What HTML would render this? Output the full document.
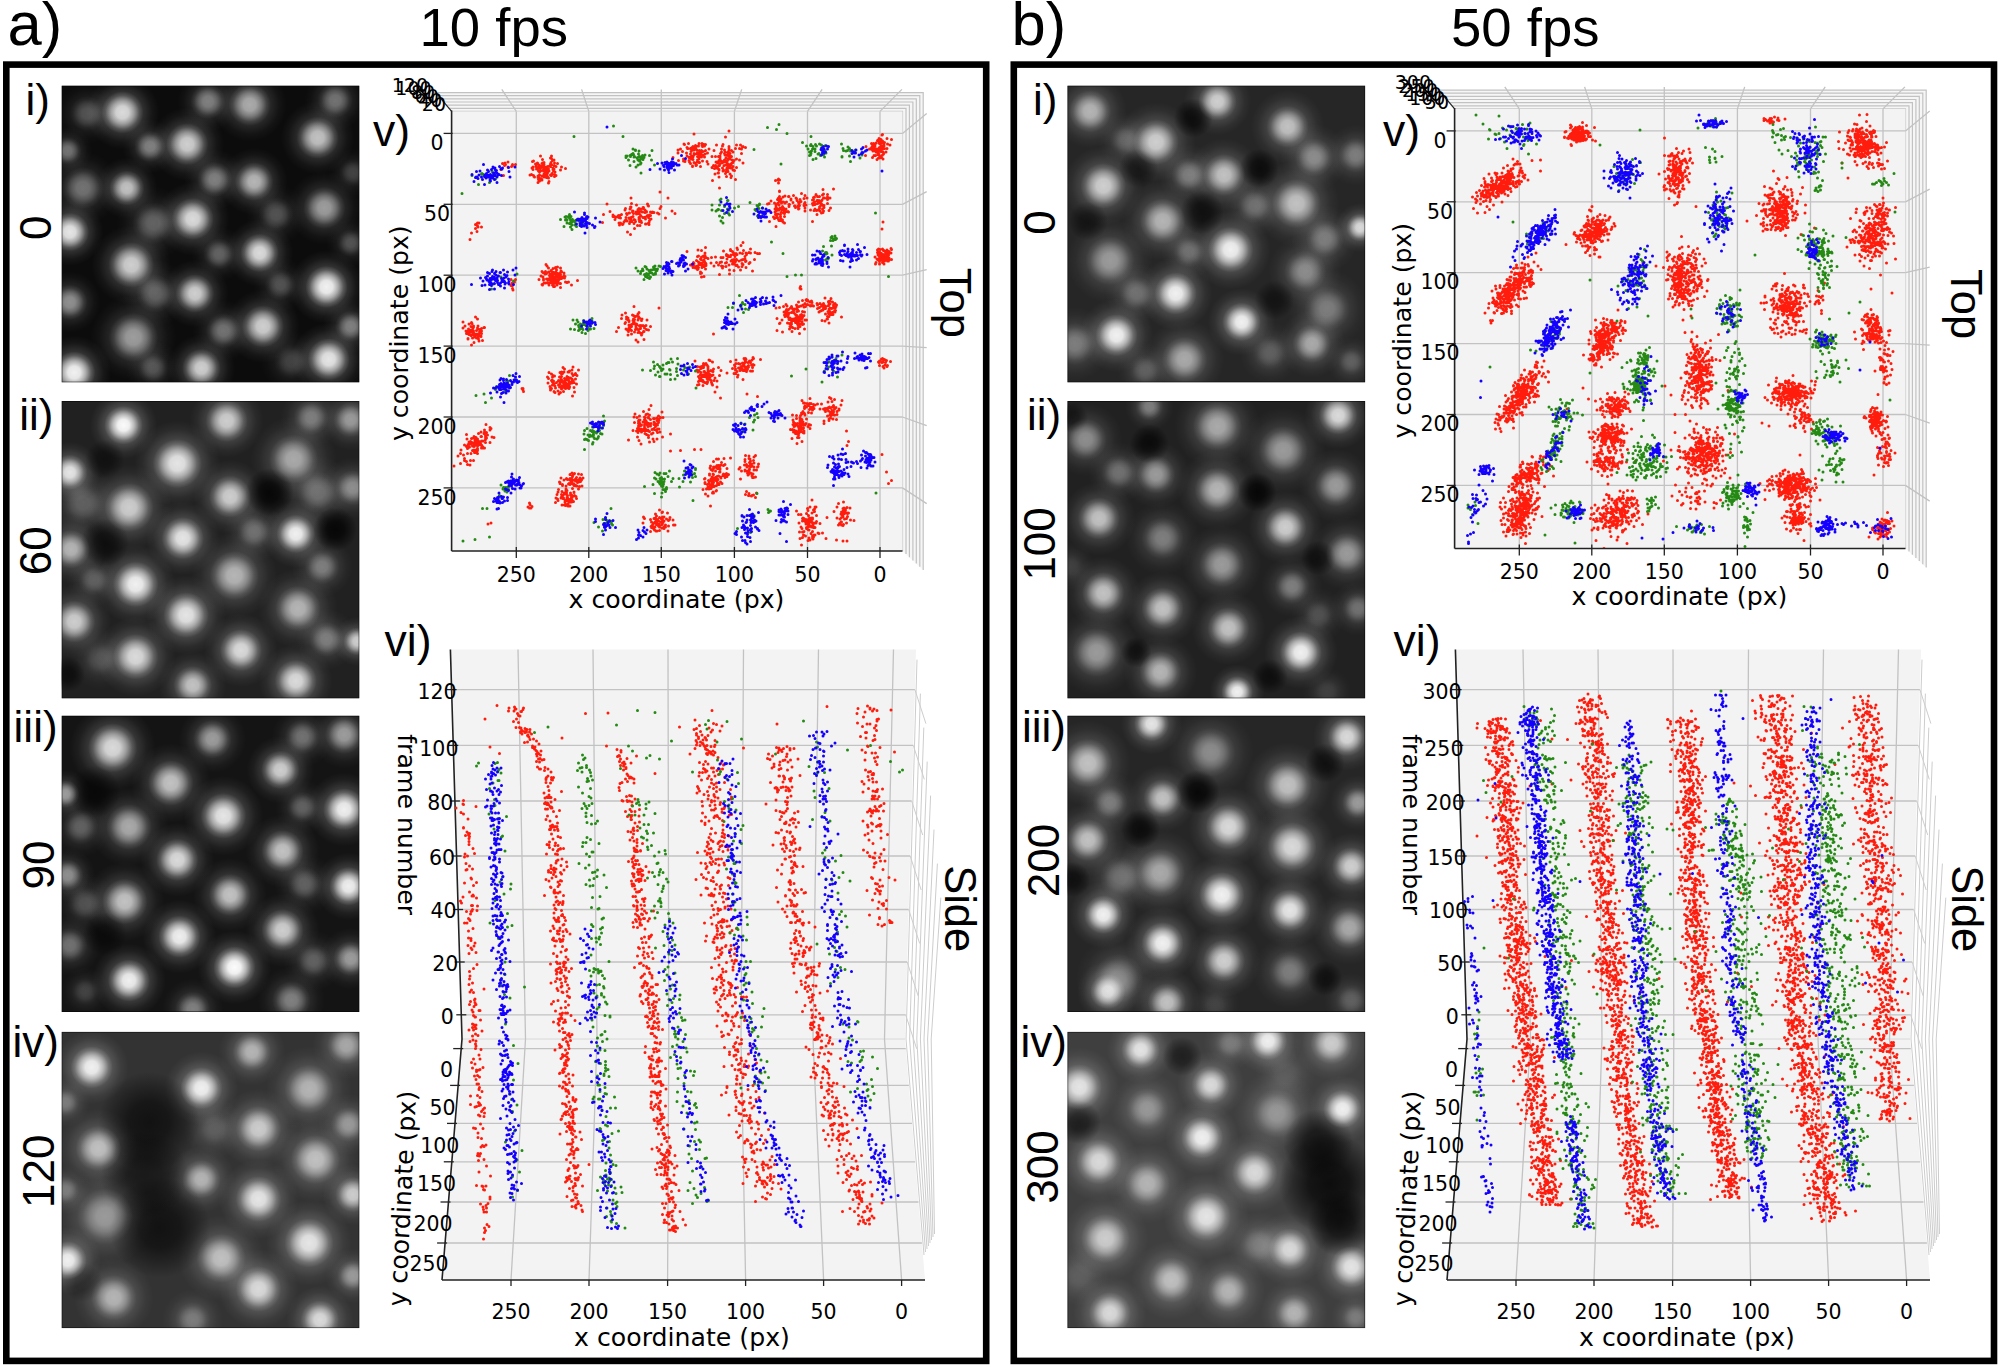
<!DOCTYPE html><html><head><meta charset="utf-8"><title>Figure</title><style>html,body{margin:0;padding:0;background:#fff;width:2000px;height:1367px;overflow:hidden}svg{display:block}.ls{font-family:"Liberation Sans",Arial,sans-serif}.dj{font-family:"DejaVu Sans","Liberation Sans",sans-serif}</style></head><body>
<svg width="2000" height="1367" viewBox="0 0 2000 1367">
<rect width="2000" height="1367" fill="#fff"/>
<text x="7.5" y="45.2" class="ls" font-size="61.5" text-anchor="start">a)</text>
<text x="419.5" y="45.5" class="ls" font-size="54.5" text-anchor="start">10 fps</text>
<text x="1011.5" y="45.2" class="ls" font-size="61.5" text-anchor="start">b)</text>
<text x="1451" y="45.5" class="ls" font-size="54.5" text-anchor="start">50 fps</text>
<rect x="6.3" y="64.6" width="979.9" height="1296.3" fill="none" stroke="#000" stroke-width="6.6"/>
<rect x="1013.8" y="64.6" width="980.2" height="1296.3" fill="none" stroke="#000" stroke-width="6.6"/>
<text x="25.5" y="114.7" class="ls" font-size="44" text-anchor="start">i)</text>
<text x="19.3" y="429.6" class="ls" font-size="44" text-anchor="start">ii)</text>
<text x="13.6" y="741.8" class="ls" font-size="44" text-anchor="start">iii)</text>
<text x="12.4" y="1056.8" class="ls" font-size="44" text-anchor="start">iv)</text>
<text x="1033.1" y="114.8" class="ls" font-size="44" text-anchor="start">i)</text>
<text x="1027" y="429.6" class="ls" font-size="44" text-anchor="start">ii)</text>
<text x="1021.9" y="741.8" class="ls" font-size="44" text-anchor="start">iii)</text>
<text x="1020.5" y="1056.8" class="ls" font-size="44" text-anchor="start">iv)</text>
<text x="50.7" y="227.7" class="ls" font-size="44" text-anchor="middle" transform="rotate(-90 50.7 227.7)">0</text>
<text x="50.7" y="550.8" class="ls" font-size="44" text-anchor="middle" transform="rotate(-90 50.7 550.8)">60</text>
<text x="53.7" y="865" class="ls" font-size="44" text-anchor="middle" transform="rotate(-90 53.7 865)">90</text>
<text x="53.7" y="1171.2" class="ls" font-size="44" text-anchor="middle" transform="rotate(-90 53.7 1171.2)">120</text>
<text x="1054.8" y="222.6" class="ls" font-size="44" text-anchor="middle" transform="rotate(-90 1054.8 222.6)">0</text>
<text x="1054.8" y="543.9" class="ls" font-size="44" text-anchor="middle" transform="rotate(-90 1054.8 543.9)">100</text>
<text x="1059.1" y="860.5" class="ls" font-size="44" text-anchor="middle" transform="rotate(-90 1059.1 860.5)">200</text>
<text x="1057.6" y="1167" class="ls" font-size="44" text-anchor="middle" transform="rotate(-90 1057.6 1167)">300</text>
<text x="939.9" y="267.7" class="ls" font-size="43.5" transform="rotate(90 939.9 267.7)">Top</text>
<text x="944.9" y="865.2" class="ls" font-size="43.5" transform="rotate(90 944.9 865.2)">Side</text>
<text x="1950.7" y="269.1" class="ls" font-size="43.5" transform="rotate(90 1950.7 269.1)">Top</text>
<text x="1951.8" y="865.2" class="ls" font-size="43.5" transform="rotate(90 1951.8 865.2)">Side</text>
<text x="373" y="146" class="ls" font-size="44.5" text-anchor="start">v)</text>
<text x="384.5" y="655.6" class="ls" font-size="44.5" text-anchor="start">vi)</text>
<text x="1383" y="146" class="ls" font-size="44.5" text-anchor="start">v)</text>
<text x="1393.5" y="655.6" class="ls" font-size="44.5" text-anchor="start">vi)</text>
<defs><radialGradient id="gw"><stop offset="0" stop-color="#fff" stop-opacity="1"/><stop offset=".3" stop-color="#fff" stop-opacity=".93"/><stop offset=".55" stop-color="#fff" stop-opacity=".58"/><stop offset=".8" stop-color="#fff" stop-opacity=".17"/><stop offset="1" stop-color="#fff" stop-opacity="0"/></radialGradient>
<radialGradient id="gk"><stop offset="0" stop-color="#000" stop-opacity="1"/><stop offset=".4" stop-color="#000" stop-opacity=".85"/><stop offset=".7" stop-color="#000" stop-opacity=".45"/><stop offset="1" stop-color="#000" stop-opacity="0"/></radialGradient>
<clipPath id="ic0"><rect x="61.5" y="85.5" width="298" height="297"/></clipPath>
<clipPath id="ic1"><rect x="61.5" y="401" width="298" height="297.5"/></clipPath>
<clipPath id="ic2"><rect x="61.5" y="715.6" width="298" height="296.5"/></clipPath>
<clipPath id="ic3"><rect x="61.5" y="1031.7" width="298" height="296.5"/></clipPath>
<clipPath id="ic4"><rect x="1067.3" y="85.5" width="298" height="297"/></clipPath>
<clipPath id="ic5"><rect x="1067.3" y="401" width="298" height="297.5"/></clipPath>
<clipPath id="ic6"><rect x="1067.3" y="715.6" width="298" height="296.5"/></clipPath>
<clipPath id="ic7"><rect x="1067.3" y="1031.7" width="298" height="296.5"/></clipPath>
</defs>
<g clip-path="url(#ic0)"><rect x="61.5" y="85.5" width="298" height="297" fill="rgb(12,12,12)"/>
<circle cx="122.4" cy="112.4" r="36.9" fill="url(#gw)" fill-opacity="0.26"/>
<circle cx="208.0" cy="101.5" r="30.7" fill="url(#gw)" fill-opacity="0.15"/>
<circle cx="249.7" cy="104.7" r="36.9" fill="url(#gw)" fill-opacity="0.20"/>
<circle cx="335.3" cy="100.4" r="30.7" fill="url(#gw)" fill-opacity="0.14"/>
<circle cx="87.3" cy="113.5" r="30.7" fill="url(#gw)" fill-opacity="0.10"/>
<circle cx="317.7" cy="137.7" r="36.9" fill="url(#gw)" fill-opacity="0.22"/>
<circle cx="187.2" cy="144.2" r="36.9" fill="url(#gw)" fill-opacity="0.24"/>
<circle cx="149.9" cy="146.4" r="27.6" fill="url(#gw)" fill-opacity="0.15"/>
<circle cx="67.6" cy="150.8" r="24.6" fill="url(#gw)" fill-opacity="0.14"/>
<circle cx="82.9" cy="188.1" r="36.9" fill="url(#gw)" fill-opacity="0.14"/>
<circle cx="126.8" cy="188.1" r="30.7" fill="url(#gw)" fill-opacity="0.22"/>
<circle cx="214.6" cy="179.4" r="30.7" fill="url(#gw)" fill-opacity="0.15"/>
<circle cx="254.1" cy="181.6" r="33.8" fill="url(#gw)" fill-opacity="0.21"/>
<circle cx="324.3" cy="207.9" r="36.9" fill="url(#gw)" fill-opacity="0.18"/>
<circle cx="352.9" cy="172.8" r="24.6" fill="url(#gw)" fill-opacity="0.09"/>
<circle cx="192.7" cy="218.9" r="36.9" fill="url(#gw)" fill-opacity="0.26"/>
<circle cx="153.2" cy="223.2" r="36.9" fill="url(#gw)" fill-opacity="0.12"/>
<circle cx="69.8" cy="232.0" r="33.8" fill="url(#gw)" fill-opacity="0.27"/>
<circle cx="276.1" cy="214.5" r="30.7" fill="url(#gw)" fill-opacity="0.10"/>
<circle cx="131.2" cy="264.9" r="39.9" fill="url(#gw)" fill-opacity="0.24"/>
<circle cx="219.0" cy="254.0" r="27.6" fill="url(#gw)" fill-opacity="0.12"/>
<circle cx="259.6" cy="252.9" r="33.8" fill="url(#gw)" fill-opacity="0.26"/>
<circle cx="350.7" cy="243.0" r="24.6" fill="url(#gw)" fill-opacity="0.10"/>
<circle cx="194.9" cy="293.5" r="33.8" fill="url(#gw)" fill-opacity="0.24"/>
<circle cx="155.4" cy="293.5" r="33.8" fill="url(#gw)" fill-opacity="0.12"/>
<circle cx="69.8" cy="302.2" r="30.7" fill="url(#gw)" fill-opacity="0.17"/>
<circle cx="326.5" cy="286.9" r="36.9" fill="url(#gw)" fill-opacity="0.28"/>
<circle cx="280.4" cy="284.7" r="27.6" fill="url(#gw)" fill-opacity="0.10"/>
<circle cx="262.9" cy="326.4" r="36.9" fill="url(#gw)" fill-opacity="0.24"/>
<circle cx="223.4" cy="330.8" r="30.7" fill="url(#gw)" fill-opacity="0.14"/>
<circle cx="133.4" cy="337.4" r="43.0" fill="url(#gw)" fill-opacity="0.18"/>
<circle cx="350.7" cy="326.4" r="27.6" fill="url(#gw)" fill-opacity="0.15"/>
<circle cx="201.4" cy="368.1" r="33.8" fill="url(#gw)" fill-opacity="0.24"/>
<circle cx="74.2" cy="372.5" r="36.9" fill="url(#gw)" fill-opacity="0.28"/>
<circle cx="328.7" cy="359.3" r="36.9" fill="url(#gw)" fill-opacity="0.27"/>
<circle cx="153.2" cy="368.1" r="27.6" fill="url(#gw)" fill-opacity="0.10"/>
<circle cx="291.4" cy="361.5" r="30.7" fill="url(#gw)" fill-opacity="0.09"/>
<circle cx="122.4" cy="112.4" r="21.1" fill="url(#gw)" fill-opacity="0.80"/>
<circle cx="208.0" cy="101.5" r="17.6" fill="url(#gw)" fill-opacity="0.39"/>
<circle cx="249.7" cy="104.7" r="21.1" fill="url(#gw)" fill-opacity="0.57"/>
<circle cx="335.3" cy="100.4" r="17.6" fill="url(#gw)" fill-opacity="0.33"/>
<circle cx="87.3" cy="113.5" r="17.6" fill="url(#gw)" fill-opacity="0.21"/>
<circle cx="317.7" cy="137.7" r="21.1" fill="url(#gw)" fill-opacity="0.68"/>
<circle cx="187.2" cy="144.2" r="21.1" fill="url(#gw)" fill-opacity="0.74"/>
<circle cx="149.9" cy="146.4" r="15.8" fill="url(#gw)" fill-opacity="0.39"/>
<circle cx="67.6" cy="150.8" r="14.0" fill="url(#gw)" fill-opacity="0.33"/>
<circle cx="82.9" cy="188.1" r="21.1" fill="url(#gw)" fill-opacity="0.33"/>
<circle cx="126.8" cy="188.1" r="17.6" fill="url(#gw)" fill-opacity="0.68"/>
<circle cx="214.6" cy="179.4" r="17.6" fill="url(#gw)" fill-opacity="0.39"/>
<circle cx="254.1" cy="181.6" r="19.3" fill="url(#gw)" fill-opacity="0.62"/>
<circle cx="324.3" cy="207.9" r="21.1" fill="url(#gw)" fill-opacity="0.51"/>
<circle cx="352.9" cy="172.8" r="14.0" fill="url(#gw)" fill-opacity="0.15"/>
<circle cx="192.7" cy="218.9" r="21.1" fill="url(#gw)" fill-opacity="0.80"/>
<circle cx="153.2" cy="223.2" r="21.1" fill="url(#gw)" fill-opacity="0.27"/>
<circle cx="69.8" cy="232.0" r="19.3" fill="url(#gw)" fill-opacity="0.86"/>
<circle cx="276.1" cy="214.5" r="17.6" fill="url(#gw)" fill-opacity="0.21"/>
<circle cx="131.2" cy="264.9" r="22.8" fill="url(#gw)" fill-opacity="0.74"/>
<circle cx="219.0" cy="254.0" r="15.8" fill="url(#gw)" fill-opacity="0.27"/>
<circle cx="259.6" cy="252.9" r="19.3" fill="url(#gw)" fill-opacity="0.80"/>
<circle cx="350.7" cy="243.0" r="14.0" fill="url(#gw)" fill-opacity="0.21"/>
<circle cx="194.9" cy="293.5" r="19.3" fill="url(#gw)" fill-opacity="0.74"/>
<circle cx="155.4" cy="293.5" r="19.3" fill="url(#gw)" fill-opacity="0.27"/>
<circle cx="69.8" cy="302.2" r="17.6" fill="url(#gw)" fill-opacity="0.45"/>
<circle cx="326.5" cy="286.9" r="21.1" fill="url(#gw)" fill-opacity="0.92"/>
<circle cx="280.4" cy="284.7" r="15.8" fill="url(#gw)" fill-opacity="0.21"/>
<circle cx="262.9" cy="326.4" r="21.1" fill="url(#gw)" fill-opacity="0.74"/>
<circle cx="223.4" cy="330.8" r="17.6" fill="url(#gw)" fill-opacity="0.33"/>
<circle cx="133.4" cy="337.4" r="24.6" fill="url(#gw)" fill-opacity="0.51"/>
<circle cx="350.7" cy="326.4" r="15.8" fill="url(#gw)" fill-opacity="0.39"/>
<circle cx="201.4" cy="368.1" r="19.3" fill="url(#gw)" fill-opacity="0.74"/>
<circle cx="74.2" cy="372.5" r="21.1" fill="url(#gw)" fill-opacity="0.92"/>
<circle cx="328.7" cy="359.3" r="21.1" fill="url(#gw)" fill-opacity="0.86"/>
<circle cx="153.2" cy="368.1" r="15.8" fill="url(#gw)" fill-opacity="0.21"/>
<circle cx="291.4" cy="361.5" r="17.6" fill="url(#gw)" fill-opacity="0.15"/>
<rect x="62" y="86" width="297" height="296" fill="none" stroke="rgba(0,0,0,.5)" stroke-width="1"/></g>
<g clip-path="url(#ic1)"><rect x="61.5" y="401" width="298" height="297.5" fill="rgb(33,33,33)"/>
<circle cx="123.5" cy="425.2" r="33.8" fill="url(#gw)" fill-opacity="0.30"/>
<circle cx="226.7" cy="420.8" r="36.9" fill="url(#gw)" fill-opacity="0.24"/>
<circle cx="311.2" cy="417.6" r="30.7" fill="url(#gw)" fill-opacity="0.15"/>
<circle cx="350.7" cy="419.7" r="30.7" fill="url(#gw)" fill-opacity="0.18"/>
<circle cx="69.8" cy="472.4" r="30.7" fill="url(#gw)" fill-opacity="0.27"/>
<circle cx="177.3" cy="463.6" r="43.0" fill="url(#gw)" fill-opacity="0.27"/>
<circle cx="293.6" cy="459.2" r="43.0" fill="url(#gw)" fill-opacity="0.20"/>
<circle cx="230.0" cy="496.6" r="36.9" fill="url(#gw)" fill-opacity="0.24"/>
<circle cx="129.0" cy="507.5" r="43.0" fill="url(#gw)" fill-opacity="0.24"/>
<circle cx="317.7" cy="492.2" r="36.9" fill="url(#gw)" fill-opacity="0.14"/>
<circle cx="352.9" cy="487.8" r="30.7" fill="url(#gw)" fill-opacity="0.17"/>
<circle cx="82.9" cy="503.1" r="36.9" fill="url(#gw)" fill-opacity="0.12"/>
<circle cx="182.8" cy="538.2" r="36.9" fill="url(#gw)" fill-opacity="0.27"/>
<circle cx="295.8" cy="533.9" r="33.8" fill="url(#gw)" fill-opacity="0.28"/>
<circle cx="70.9" cy="549.2" r="33.8" fill="url(#gw)" fill-opacity="0.21"/>
<circle cx="254.1" cy="531.7" r="30.7" fill="url(#gw)" fill-opacity="0.14"/>
<circle cx="135.6" cy="584.3" r="39.9" fill="url(#gw)" fill-opacity="0.28"/>
<circle cx="234.4" cy="575.6" r="43.0" fill="url(#gw)" fill-opacity="0.21"/>
<circle cx="93.9" cy="579.9" r="27.6" fill="url(#gw)" fill-opacity="0.12"/>
<circle cx="322.1" cy="566.8" r="30.7" fill="url(#gw)" fill-opacity="0.15"/>
<circle cx="186.1" cy="615.1" r="39.9" fill="url(#gw)" fill-opacity="0.27"/>
<circle cx="298.0" cy="608.5" r="39.9" fill="url(#gw)" fill-opacity="0.21"/>
<circle cx="74.2" cy="621.6" r="36.9" fill="url(#gw)" fill-opacity="0.24"/>
<circle cx="326.5" cy="639.2" r="30.7" fill="url(#gw)" fill-opacity="0.15"/>
<circle cx="357.2" cy="641.4" r="24.6" fill="url(#gw)" fill-opacity="0.24"/>
<circle cx="135.6" cy="656.7" r="39.9" fill="url(#gw)" fill-opacity="0.26"/>
<circle cx="240.9" cy="650.2" r="36.9" fill="url(#gw)" fill-opacity="0.26"/>
<circle cx="100.5" cy="658.9" r="30.7" fill="url(#gw)" fill-opacity="0.10"/>
<circle cx="295.8" cy="680.9" r="36.9" fill="url(#gw)" fill-opacity="0.26"/>
<circle cx="192.7" cy="685.3" r="33.8" fill="url(#gw)" fill-opacity="0.22"/>
<circle cx="269.5" cy="492.2" r="24.1" fill="url(#gk)" fill-opacity="0.80"/>
<circle cx="335.3" cy="529.5" r="21.9" fill="url(#gk)" fill-opacity="0.80"/>
<circle cx="104.9" cy="542.6" r="24.1" fill="url(#gk)" fill-opacity="0.60"/>
<circle cx="67.6" cy="674.3" r="17.6" fill="url(#gk)" fill-opacity="0.60"/>
<circle cx="104.9" cy="459.2" r="19.7" fill="url(#gk)" fill-opacity="0.50"/>
<circle cx="123.5" cy="425.2" r="19.3" fill="url(#gw)" fill-opacity="0.97"/>
<circle cx="226.7" cy="420.8" r="21.1" fill="url(#gw)" fill-opacity="0.71"/>
<circle cx="311.2" cy="417.6" r="17.6" fill="url(#gw)" fill-opacity="0.32"/>
<circle cx="350.7" cy="419.7" r="17.6" fill="url(#gw)" fill-opacity="0.45"/>
<circle cx="69.8" cy="472.4" r="17.6" fill="url(#gw)" fill-opacity="0.84"/>
<circle cx="177.3" cy="463.6" r="24.6" fill="url(#gw)" fill-opacity="0.84"/>
<circle cx="293.6" cy="459.2" r="24.6" fill="url(#gw)" fill-opacity="0.52"/>
<circle cx="230.0" cy="496.6" r="21.1" fill="url(#gw)" fill-opacity="0.71"/>
<circle cx="129.0" cy="507.5" r="24.6" fill="url(#gw)" fill-opacity="0.71"/>
<circle cx="317.7" cy="492.2" r="21.1" fill="url(#gw)" fill-opacity="0.26"/>
<circle cx="352.9" cy="487.8" r="17.6" fill="url(#gw)" fill-opacity="0.39"/>
<circle cx="82.9" cy="503.1" r="21.1" fill="url(#gw)" fill-opacity="0.19"/>
<circle cx="182.8" cy="538.2" r="21.1" fill="url(#gw)" fill-opacity="0.84"/>
<circle cx="295.8" cy="533.9" r="19.3" fill="url(#gw)" fill-opacity="0.91"/>
<circle cx="70.9" cy="549.2" r="19.3" fill="url(#gw)" fill-opacity="0.58"/>
<circle cx="254.1" cy="531.7" r="17.6" fill="url(#gw)" fill-opacity="0.26"/>
<circle cx="135.6" cy="584.3" r="22.8" fill="url(#gw)" fill-opacity="0.91"/>
<circle cx="234.4" cy="575.6" r="24.6" fill="url(#gw)" fill-opacity="0.58"/>
<circle cx="93.9" cy="579.9" r="15.8" fill="url(#gw)" fill-opacity="0.19"/>
<circle cx="322.1" cy="566.8" r="17.6" fill="url(#gw)" fill-opacity="0.32"/>
<circle cx="186.1" cy="615.1" r="22.8" fill="url(#gw)" fill-opacity="0.84"/>
<circle cx="298.0" cy="608.5" r="22.8" fill="url(#gw)" fill-opacity="0.58"/>
<circle cx="74.2" cy="621.6" r="21.1" fill="url(#gw)" fill-opacity="0.71"/>
<circle cx="326.5" cy="639.2" r="17.6" fill="url(#gw)" fill-opacity="0.32"/>
<circle cx="357.2" cy="641.4" r="14.0" fill="url(#gw)" fill-opacity="0.71"/>
<circle cx="135.6" cy="656.7" r="22.8" fill="url(#gw)" fill-opacity="0.78"/>
<circle cx="240.9" cy="650.2" r="21.1" fill="url(#gw)" fill-opacity="0.78"/>
<circle cx="100.5" cy="658.9" r="17.6" fill="url(#gw)" fill-opacity="0.13"/>
<circle cx="295.8" cy="680.9" r="21.1" fill="url(#gw)" fill-opacity="0.78"/>
<circle cx="192.7" cy="685.3" r="19.3" fill="url(#gw)" fill-opacity="0.65"/>
<rect x="62" y="401.5" width="297" height="296.5" fill="none" stroke="rgba(0,0,0,.5)" stroke-width="1"/></g>
<g clip-path="url(#ic2)"><rect x="61.5" y="715.6" width="298" height="296.5" fill="rgb(20,20,20)"/>
<circle cx="112.6" cy="747.9" r="43.0" fill="url(#gw)" fill-opacity="0.26"/>
<circle cx="212.4" cy="739.1" r="33.8" fill="url(#gw)" fill-opacity="0.18"/>
<circle cx="302.4" cy="736.9" r="30.7" fill="url(#gw)" fill-opacity="0.14"/>
<circle cx="344.1" cy="734.7" r="33.8" fill="url(#gw)" fill-opacity="0.18"/>
<circle cx="170.7" cy="783.0" r="39.9" fill="url(#gw)" fill-opacity="0.22"/>
<circle cx="280.4" cy="769.9" r="33.8" fill="url(#gw)" fill-opacity="0.24"/>
<circle cx="65.4" cy="794.0" r="24.6" fill="url(#gw)" fill-opacity="0.18"/>
<circle cx="223.4" cy="815.9" r="39.9" fill="url(#gw)" fill-opacity="0.27"/>
<circle cx="344.1" cy="809.4" r="36.9" fill="url(#gw)" fill-opacity="0.28"/>
<circle cx="302.4" cy="807.2" r="27.6" fill="url(#gw)" fill-opacity="0.12"/>
<circle cx="129.0" cy="826.9" r="39.9" fill="url(#gw)" fill-opacity="0.20"/>
<circle cx="80.7" cy="826.9" r="30.7" fill="url(#gw)" fill-opacity="0.12"/>
<circle cx="177.3" cy="859.8" r="36.9" fill="url(#gw)" fill-opacity="0.26"/>
<circle cx="282.6" cy="851.1" r="36.9" fill="url(#gw)" fill-opacity="0.22"/>
<circle cx="67.6" cy="875.2" r="27.6" fill="url(#gw)" fill-opacity="0.17"/>
<circle cx="230.0" cy="894.9" r="36.9" fill="url(#gw)" fill-opacity="0.22"/>
<circle cx="348.5" cy="886.2" r="33.8" fill="url(#gw)" fill-opacity="0.28"/>
<circle cx="304.6" cy="884.0" r="30.7" fill="url(#gw)" fill-opacity="0.12"/>
<circle cx="124.6" cy="901.5" r="39.9" fill="url(#gw)" fill-opacity="0.22"/>
<circle cx="85.1" cy="903.7" r="30.7" fill="url(#gw)" fill-opacity="0.10"/>
<circle cx="179.5" cy="936.6" r="36.9" fill="url(#gw)" fill-opacity="0.28"/>
<circle cx="282.6" cy="930.1" r="36.9" fill="url(#gw)" fill-opacity="0.24"/>
<circle cx="69.8" cy="945.4" r="30.7" fill="url(#gw)" fill-opacity="0.14"/>
<circle cx="234.4" cy="967.4" r="36.9" fill="url(#gw)" fill-opacity="0.30"/>
<circle cx="129.0" cy="980.5" r="36.9" fill="url(#gw)" fill-opacity="0.28"/>
<circle cx="350.7" cy="958.6" r="30.7" fill="url(#gw)" fill-opacity="0.18"/>
<circle cx="313.4" cy="960.8" r="30.7" fill="url(#gw)" fill-opacity="0.12"/>
<circle cx="291.4" cy="1000.3" r="33.8" fill="url(#gw)" fill-opacity="0.15"/>
<circle cx="192.7" cy="1009.1" r="30.7" fill="url(#gw)" fill-opacity="0.15"/>
<circle cx="85.1" cy="991.5" r="24.6" fill="url(#gw)" fill-opacity="0.09"/>
<circle cx="93.9" cy="791.8" r="26.3" fill="url(#gk)" fill-opacity="0.60"/>
<circle cx="104.9" cy="934.4" r="21.9" fill="url(#gk)" fill-opacity="0.50"/>
<circle cx="112.6" cy="747.9" r="24.6" fill="url(#gw)" fill-opacity="0.79"/>
<circle cx="212.4" cy="739.1" r="19.3" fill="url(#gw)" fill-opacity="0.49"/>
<circle cx="302.4" cy="736.9" r="17.6" fill="url(#gw)" fill-opacity="0.30"/>
<circle cx="344.1" cy="734.7" r="19.3" fill="url(#gw)" fill-opacity="0.49"/>
<circle cx="170.7" cy="783.0" r="22.8" fill="url(#gw)" fill-opacity="0.67"/>
<circle cx="280.4" cy="769.9" r="19.3" fill="url(#gw)" fill-opacity="0.73"/>
<circle cx="65.4" cy="794.0" r="14.0" fill="url(#gw)" fill-opacity="0.49"/>
<circle cx="223.4" cy="815.9" r="22.8" fill="url(#gw)" fill-opacity="0.85"/>
<circle cx="344.1" cy="809.4" r="21.1" fill="url(#gw)" fill-opacity="0.91"/>
<circle cx="302.4" cy="807.2" r="15.8" fill="url(#gw)" fill-opacity="0.24"/>
<circle cx="129.0" cy="826.9" r="22.8" fill="url(#gw)" fill-opacity="0.55"/>
<circle cx="80.7" cy="826.9" r="17.6" fill="url(#gw)" fill-opacity="0.24"/>
<circle cx="177.3" cy="859.8" r="21.1" fill="url(#gw)" fill-opacity="0.79"/>
<circle cx="282.6" cy="851.1" r="21.1" fill="url(#gw)" fill-opacity="0.67"/>
<circle cx="67.6" cy="875.2" r="15.8" fill="url(#gw)" fill-opacity="0.43"/>
<circle cx="230.0" cy="894.9" r="21.1" fill="url(#gw)" fill-opacity="0.67"/>
<circle cx="348.5" cy="886.2" r="19.3" fill="url(#gw)" fill-opacity="0.91"/>
<circle cx="304.6" cy="884.0" r="17.6" fill="url(#gw)" fill-opacity="0.24"/>
<circle cx="124.6" cy="901.5" r="22.8" fill="url(#gw)" fill-opacity="0.67"/>
<circle cx="85.1" cy="903.7" r="17.6" fill="url(#gw)" fill-opacity="0.18"/>
<circle cx="179.5" cy="936.6" r="21.1" fill="url(#gw)" fill-opacity="0.91"/>
<circle cx="282.6" cy="930.1" r="21.1" fill="url(#gw)" fill-opacity="0.73"/>
<circle cx="69.8" cy="945.4" r="17.6" fill="url(#gw)" fill-opacity="0.30"/>
<circle cx="234.4" cy="967.4" r="21.1" fill="url(#gw)" fill-opacity="0.98"/>
<circle cx="129.0" cy="980.5" r="21.1" fill="url(#gw)" fill-opacity="0.91"/>
<circle cx="350.7" cy="958.6" r="17.6" fill="url(#gw)" fill-opacity="0.49"/>
<circle cx="313.4" cy="960.8" r="17.6" fill="url(#gw)" fill-opacity="0.24"/>
<circle cx="291.4" cy="1000.3" r="19.3" fill="url(#gw)" fill-opacity="0.37"/>
<circle cx="192.7" cy="1009.1" r="17.6" fill="url(#gw)" fill-opacity="0.37"/>
<circle cx="85.1" cy="991.5" r="14.0" fill="url(#gw)" fill-opacity="0.12"/>
<rect x="62" y="716.1" width="297" height="295.5" fill="none" stroke="rgba(0,0,0,.5)" stroke-width="1"/></g>
<g clip-path="url(#ic3)"><rect x="61.5" y="1031.7" width="298" height="296.5" fill="rgb(51,51,51)"/>
<circle cx="91.7" cy="1067.3" r="36.9" fill="url(#gw)" fill-opacity="0.28"/>
<circle cx="201.4" cy="1088.2" r="36.9" fill="url(#gw)" fill-opacity="0.28"/>
<circle cx="251.9" cy="1051.9" r="33.8" fill="url(#gw)" fill-opacity="0.21"/>
<circle cx="346.3" cy="1045.4" r="33.8" fill="url(#gw)" fill-opacity="0.20"/>
<circle cx="309.0" cy="1089.2" r="43.0" fill="url(#gw)" fill-opacity="0.21"/>
<circle cx="258.5" cy="1128.7" r="39.9" fill="url(#gw)" fill-opacity="0.24"/>
<circle cx="348.5" cy="1124.4" r="30.7" fill="url(#gw)" fill-opacity="0.18"/>
<circle cx="98.3" cy="1148.5" r="39.9" fill="url(#gw)" fill-opacity="0.22"/>
<circle cx="201.4" cy="1179.2" r="33.8" fill="url(#gw)" fill-opacity="0.21"/>
<circle cx="315.6" cy="1159.5" r="43.0" fill="url(#gw)" fill-opacity="0.22"/>
<circle cx="258.5" cy="1199.0" r="39.9" fill="url(#gw)" fill-opacity="0.27"/>
<circle cx="352.9" cy="1194.6" r="30.7" fill="url(#gw)" fill-opacity="0.24"/>
<circle cx="104.9" cy="1216.5" r="49.2" fill="url(#gw)" fill-opacity="0.18"/>
<circle cx="67.6" cy="1260.4" r="33.8" fill="url(#gw)" fill-opacity="0.28"/>
<circle cx="221.2" cy="1258.2" r="43.0" fill="url(#gw)" fill-opacity="0.22"/>
<circle cx="309.0" cy="1242.9" r="43.0" fill="url(#gw)" fill-opacity="0.27"/>
<circle cx="258.5" cy="1288.9" r="39.9" fill="url(#gw)" fill-opacity="0.26"/>
<circle cx="352.9" cy="1275.8" r="27.6" fill="url(#gw)" fill-opacity="0.18"/>
<circle cx="113.7" cy="1297.7" r="39.9" fill="url(#gw)" fill-opacity="0.21"/>
<circle cx="319.9" cy="1319.7" r="33.8" fill="url(#gw)" fill-opacity="0.26"/>
<circle cx="192.7" cy="1319.7" r="30.7" fill="url(#gw)" fill-opacity="0.15"/>
<circle cx="65.4" cy="1102.4" r="24.6" fill="url(#gw)" fill-opacity="0.15"/>
<circle cx="65.4" cy="1190.2" r="24.6" fill="url(#gw)" fill-opacity="0.15"/>
<circle cx="214.6" cy="1128.7" r="30.7" fill="url(#gw)" fill-opacity="0.12"/>
<circle cx="148.8" cy="1122.2" r="50.5" fill="url(#gk)" fill-opacity="0.65"/>
<circle cx="159.7" cy="1227.5" r="50.5" fill="url(#gk)" fill-opacity="0.65"/>
<circle cx="144.4" cy="1174.8" r="43.9" fill="url(#gk)" fill-opacity="0.50"/>
<circle cx="82.9" cy="1282.4" r="19.7" fill="url(#gk)" fill-opacity="0.30"/>
<circle cx="91.7" cy="1067.3" r="21.1" fill="url(#gw)" fill-opacity="0.90"/>
<circle cx="201.4" cy="1088.2" r="21.1" fill="url(#gw)" fill-opacity="0.90"/>
<circle cx="251.9" cy="1051.9" r="19.3" fill="url(#gw)" fill-opacity="0.54"/>
<circle cx="346.3" cy="1045.4" r="19.3" fill="url(#gw)" fill-opacity="0.47"/>
<circle cx="309.0" cy="1089.2" r="24.6" fill="url(#gw)" fill-opacity="0.54"/>
<circle cx="258.5" cy="1128.7" r="22.8" fill="url(#gw)" fill-opacity="0.68"/>
<circle cx="348.5" cy="1124.4" r="17.6" fill="url(#gw)" fill-opacity="0.40"/>
<circle cx="98.3" cy="1148.5" r="22.8" fill="url(#gw)" fill-opacity="0.61"/>
<circle cx="201.4" cy="1179.2" r="19.3" fill="url(#gw)" fill-opacity="0.54"/>
<circle cx="315.6" cy="1159.5" r="24.6" fill="url(#gw)" fill-opacity="0.61"/>
<circle cx="258.5" cy="1199.0" r="22.8" fill="url(#gw)" fill-opacity="0.83"/>
<circle cx="352.9" cy="1194.6" r="17.6" fill="url(#gw)" fill-opacity="0.68"/>
<circle cx="104.9" cy="1216.5" r="28.1" fill="url(#gw)" fill-opacity="0.40"/>
<circle cx="67.6" cy="1260.4" r="19.3" fill="url(#gw)" fill-opacity="0.90"/>
<circle cx="221.2" cy="1258.2" r="24.6" fill="url(#gw)" fill-opacity="0.61"/>
<circle cx="309.0" cy="1242.9" r="24.6" fill="url(#gw)" fill-opacity="0.83"/>
<circle cx="258.5" cy="1288.9" r="22.8" fill="url(#gw)" fill-opacity="0.76"/>
<circle cx="352.9" cy="1275.8" r="15.8" fill="url(#gw)" fill-opacity="0.40"/>
<circle cx="113.7" cy="1297.7" r="22.8" fill="url(#gw)" fill-opacity="0.54"/>
<circle cx="319.9" cy="1319.7" r="19.3" fill="url(#gw)" fill-opacity="0.76"/>
<circle cx="192.7" cy="1319.7" r="17.6" fill="url(#gw)" fill-opacity="0.25"/>
<circle cx="65.4" cy="1102.4" r="14.0" fill="url(#gw)" fill-opacity="0.25"/>
<circle cx="65.4" cy="1190.2" r="14.0" fill="url(#gw)" fill-opacity="0.25"/>
<circle cx="214.6" cy="1128.7" r="17.6" fill="url(#gw)" fill-opacity="0.11"/>
<rect x="62" y="1032.2" width="297" height="295.5" fill="none" stroke="rgba(0,0,0,.5)" stroke-width="1"/></g>
<g clip-path="url(#ic4)"><rect x="1067.3" y="85.5" width="298" height="297" fill="rgb(38,38,38)"/>
<circle cx="1090.1" cy="111.3" r="36.9" fill="url(#gw)" fill-opacity="0.21"/>
<circle cx="1217.4" cy="101.5" r="33.8" fill="url(#gw)" fill-opacity="0.24"/>
<circle cx="1156.0" cy="142.1" r="39.9" fill="url(#gw)" fill-opacity="0.24"/>
<circle cx="1125.2" cy="139.9" r="27.6" fill="url(#gw)" fill-opacity="0.12"/>
<circle cx="1287.6" cy="126.7" r="36.9" fill="url(#gw)" fill-opacity="0.22"/>
<circle cx="1314.0" cy="157.4" r="33.8" fill="url(#gw)" fill-opacity="0.17"/>
<circle cx="1355.7" cy="155.2" r="30.7" fill="url(#gw)" fill-opacity="0.15"/>
<circle cx="1103.3" cy="185.9" r="39.9" fill="url(#gw)" fill-opacity="0.24"/>
<circle cx="1224.0" cy="175.0" r="36.9" fill="url(#gw)" fill-opacity="0.22"/>
<circle cx="1188.9" cy="175.0" r="30.7" fill="url(#gw)" fill-opacity="0.15"/>
<circle cx="1296.4" cy="203.5" r="43.0" fill="url(#gw)" fill-opacity="0.22"/>
<circle cx="1162.6" cy="221.1" r="39.9" fill="url(#gw)" fill-opacity="0.21"/>
<circle cx="1254.7" cy="205.7" r="30.7" fill="url(#gw)" fill-opacity="0.14"/>
<circle cx="1360.1" cy="227.6" r="24.6" fill="url(#gw)" fill-opacity="0.26"/>
<circle cx="1324.9" cy="238.6" r="33.8" fill="url(#gw)" fill-opacity="0.15"/>
<circle cx="1230.6" cy="249.6" r="39.9" fill="url(#gw)" fill-opacity="0.28"/>
<circle cx="1109.9" cy="260.6" r="43.0" fill="url(#gw)" fill-opacity="0.18"/>
<circle cx="1188.9" cy="251.8" r="27.6" fill="url(#gw)" fill-opacity="0.14"/>
<circle cx="1305.2" cy="271.5" r="36.9" fill="url(#gw)" fill-opacity="0.17"/>
<circle cx="1175.7" cy="293.5" r="36.9" fill="url(#gw)" fill-opacity="0.28"/>
<circle cx="1136.2" cy="293.5" r="30.7" fill="url(#gw)" fill-opacity="0.14"/>
<circle cx="1241.6" cy="322.0" r="33.8" fill="url(#gw)" fill-opacity="0.28"/>
<circle cx="1327.1" cy="308.8" r="39.9" fill="url(#gw)" fill-opacity="0.15"/>
<circle cx="1116.5" cy="335.2" r="36.9" fill="url(#gw)" fill-opacity="0.28"/>
<circle cx="1311.8" cy="343.9" r="33.8" fill="url(#gw)" fill-opacity="0.20"/>
<circle cx="1184.5" cy="359.3" r="39.9" fill="url(#gw)" fill-opacity="0.20"/>
<circle cx="1074.8" cy="343.9" r="36.9" fill="url(#gw)" fill-opacity="0.15"/>
<circle cx="1270.1" cy="352.7" r="30.7" fill="url(#gw)" fill-opacity="0.12"/>
<circle cx="1145.0" cy="370.3" r="27.6" fill="url(#gw)" fill-opacity="0.12"/>
<circle cx="1351.3" cy="361.5" r="24.6" fill="url(#gw)" fill-opacity="0.12"/>
<circle cx="1193.3" cy="117.9" r="19.7" fill="url(#gk)" fill-opacity="0.70"/>
<circle cx="1259.1" cy="168.4" r="19.7" fill="url(#gk)" fill-opacity="0.70"/>
<circle cx="1202.1" cy="212.3" r="21.9" fill="url(#gk)" fill-opacity="0.60"/>
<circle cx="1138.4" cy="168.4" r="19.7" fill="url(#gk)" fill-opacity="0.50"/>
<circle cx="1087.9" cy="221.1" r="19.7" fill="url(#gk)" fill-opacity="0.50"/>
<circle cx="1274.5" cy="300.1" r="19.7" fill="url(#gk)" fill-opacity="0.50"/>
<circle cx="1090.1" cy="111.3" r="21.1" fill="url(#gw)" fill-opacity="0.57"/>
<circle cx="1217.4" cy="101.5" r="19.3" fill="url(#gw)" fill-opacity="0.71"/>
<circle cx="1156.0" cy="142.1" r="22.8" fill="url(#gw)" fill-opacity="0.71"/>
<circle cx="1125.2" cy="139.9" r="15.8" fill="url(#gw)" fill-opacity="0.17"/>
<circle cx="1287.6" cy="126.7" r="21.1" fill="url(#gw)" fill-opacity="0.64"/>
<circle cx="1314.0" cy="157.4" r="19.3" fill="url(#gw)" fill-opacity="0.37"/>
<circle cx="1355.7" cy="155.2" r="17.6" fill="url(#gw)" fill-opacity="0.30"/>
<circle cx="1103.3" cy="185.9" r="22.8" fill="url(#gw)" fill-opacity="0.71"/>
<circle cx="1224.0" cy="175.0" r="21.1" fill="url(#gw)" fill-opacity="0.64"/>
<circle cx="1188.9" cy="175.0" r="17.6" fill="url(#gw)" fill-opacity="0.30"/>
<circle cx="1296.4" cy="203.5" r="24.6" fill="url(#gw)" fill-opacity="0.64"/>
<circle cx="1162.6" cy="221.1" r="22.8" fill="url(#gw)" fill-opacity="0.57"/>
<circle cx="1254.7" cy="205.7" r="17.6" fill="url(#gw)" fill-opacity="0.24"/>
<circle cx="1360.1" cy="227.6" r="14.0" fill="url(#gw)" fill-opacity="0.77"/>
<circle cx="1324.9" cy="238.6" r="19.3" fill="url(#gw)" fill-opacity="0.30"/>
<circle cx="1230.6" cy="249.6" r="22.8" fill="url(#gw)" fill-opacity="0.91"/>
<circle cx="1109.9" cy="260.6" r="24.6" fill="url(#gw)" fill-opacity="0.44"/>
<circle cx="1188.9" cy="251.8" r="15.8" fill="url(#gw)" fill-opacity="0.24"/>
<circle cx="1305.2" cy="271.5" r="21.1" fill="url(#gw)" fill-opacity="0.37"/>
<circle cx="1175.7" cy="293.5" r="21.1" fill="url(#gw)" fill-opacity="0.91"/>
<circle cx="1136.2" cy="293.5" r="17.6" fill="url(#gw)" fill-opacity="0.24"/>
<circle cx="1241.6" cy="322.0" r="19.3" fill="url(#gw)" fill-opacity="0.91"/>
<circle cx="1327.1" cy="308.8" r="22.8" fill="url(#gw)" fill-opacity="0.30"/>
<circle cx="1116.5" cy="335.2" r="21.1" fill="url(#gw)" fill-opacity="0.91"/>
<circle cx="1311.8" cy="343.9" r="19.3" fill="url(#gw)" fill-opacity="0.51"/>
<circle cx="1184.5" cy="359.3" r="22.8" fill="url(#gw)" fill-opacity="0.51"/>
<circle cx="1074.8" cy="343.9" r="21.1" fill="url(#gw)" fill-opacity="0.30"/>
<circle cx="1270.1" cy="352.7" r="17.6" fill="url(#gw)" fill-opacity="0.17"/>
<circle cx="1145.0" cy="370.3" r="15.8" fill="url(#gw)" fill-opacity="0.17"/>
<circle cx="1351.3" cy="361.5" r="14.0" fill="url(#gw)" fill-opacity="0.17"/>
<rect x="1067.8" y="86" width="297" height="296" fill="none" stroke="rgba(0,0,0,.5)" stroke-width="1"/></g>
<g clip-path="url(#ic5)"><rect x="1067.3" y="401" width="298" height="297.5" fill="rgb(33,33,33)"/>
<circle cx="1085.7" cy="439.5" r="36.9" fill="url(#gw)" fill-opacity="0.17"/>
<circle cx="1149.4" cy="406.6" r="24.6" fill="url(#gw)" fill-opacity="0.15"/>
<circle cx="1217.4" cy="426.3" r="43.0" fill="url(#gw)" fill-opacity="0.20"/>
<circle cx="1338.1" cy="415.4" r="33.8" fill="url(#gw)" fill-opacity="0.26"/>
<circle cx="1283.2" cy="450.5" r="43.0" fill="url(#gw)" fill-opacity="0.18"/>
<circle cx="1118.7" cy="472.4" r="30.7" fill="url(#gw)" fill-opacity="0.14"/>
<circle cx="1156.0" cy="474.6" r="33.8" fill="url(#gw)" fill-opacity="0.18"/>
<circle cx="1217.4" cy="490.0" r="39.9" fill="url(#gw)" fill-opacity="0.21"/>
<circle cx="1335.9" cy="485.6" r="36.9" fill="url(#gw)" fill-opacity="0.18"/>
<circle cx="1098.9" cy="518.5" r="36.9" fill="url(#gw)" fill-opacity="0.22"/>
<circle cx="1285.4" cy="527.3" r="36.9" fill="url(#gw)" fill-opacity="0.24"/>
<circle cx="1162.6" cy="538.2" r="36.9" fill="url(#gw)" fill-opacity="0.15"/>
<circle cx="1221.8" cy="564.6" r="39.9" fill="url(#gw)" fill-opacity="0.18"/>
<circle cx="1346.9" cy="553.6" r="36.9" fill="url(#gw)" fill-opacity="0.18"/>
<circle cx="1070.4" cy="566.8" r="24.6" fill="url(#gw)" fill-opacity="0.09"/>
<circle cx="1103.3" cy="593.1" r="36.9" fill="url(#gw)" fill-opacity="0.22"/>
<circle cx="1162.6" cy="608.5" r="36.9" fill="url(#gw)" fill-opacity="0.22"/>
<circle cx="1292.0" cy="586.5" r="30.7" fill="url(#gw)" fill-opacity="0.15"/>
<circle cx="1228.4" cy="628.2" r="36.9" fill="url(#gw)" fill-opacity="0.22"/>
<circle cx="1318.4" cy="615.1" r="27.6" fill="url(#gw)" fill-opacity="0.10"/>
<circle cx="1357.9" cy="608.5" r="27.6" fill="url(#gw)" fill-opacity="0.14"/>
<circle cx="1096.7" cy="652.4" r="43.0" fill="url(#gw)" fill-opacity="0.18"/>
<circle cx="1160.4" cy="672.1" r="36.9" fill="url(#gw)" fill-opacity="0.21"/>
<circle cx="1300.8" cy="652.4" r="36.9" fill="url(#gw)" fill-opacity="0.28"/>
<circle cx="1237.2" cy="691.9" r="27.6" fill="url(#gw)" fill-opacity="0.28"/>
<circle cx="1327.1" cy="691.9" r="24.6" fill="url(#gw)" fill-opacity="0.09"/>
<circle cx="1149.4" cy="443.9" r="19.7" fill="url(#gk)" fill-opacity="0.70"/>
<circle cx="1256.9" cy="492.2" r="19.7" fill="url(#gk)" fill-opacity="0.80"/>
<circle cx="1072.6" cy="417.6" r="15.4" fill="url(#gk)" fill-opacity="0.50"/>
<circle cx="1318.4" cy="558.0" r="17.6" fill="url(#gk)" fill-opacity="0.60"/>
<circle cx="1136.2" cy="652.4" r="15.4" fill="url(#gk)" fill-opacity="0.60"/>
<circle cx="1270.1" cy="676.5" r="17.6" fill="url(#gk)" fill-opacity="0.60"/>
<circle cx="1085.7" cy="439.5" r="21.1" fill="url(#gw)" fill-opacity="0.39"/>
<circle cx="1149.4" cy="406.6" r="14.0" fill="url(#gw)" fill-opacity="0.32"/>
<circle cx="1217.4" cy="426.3" r="24.6" fill="url(#gw)" fill-opacity="0.52"/>
<circle cx="1338.1" cy="415.4" r="19.3" fill="url(#gw)" fill-opacity="0.78"/>
<circle cx="1283.2" cy="450.5" r="24.6" fill="url(#gw)" fill-opacity="0.45"/>
<circle cx="1118.7" cy="472.4" r="17.6" fill="url(#gw)" fill-opacity="0.26"/>
<circle cx="1156.0" cy="474.6" r="19.3" fill="url(#gw)" fill-opacity="0.45"/>
<circle cx="1217.4" cy="490.0" r="22.8" fill="url(#gw)" fill-opacity="0.58"/>
<circle cx="1335.9" cy="485.6" r="21.1" fill="url(#gw)" fill-opacity="0.45"/>
<circle cx="1098.9" cy="518.5" r="21.1" fill="url(#gw)" fill-opacity="0.65"/>
<circle cx="1285.4" cy="527.3" r="21.1" fill="url(#gw)" fill-opacity="0.71"/>
<circle cx="1162.6" cy="538.2" r="21.1" fill="url(#gw)" fill-opacity="0.32"/>
<circle cx="1221.8" cy="564.6" r="22.8" fill="url(#gw)" fill-opacity="0.45"/>
<circle cx="1346.9" cy="553.6" r="21.1" fill="url(#gw)" fill-opacity="0.45"/>
<circle cx="1070.4" cy="566.8" r="14.0" fill="url(#gw)" fill-opacity="0.06"/>
<circle cx="1103.3" cy="593.1" r="21.1" fill="url(#gw)" fill-opacity="0.65"/>
<circle cx="1162.6" cy="608.5" r="21.1" fill="url(#gw)" fill-opacity="0.65"/>
<circle cx="1292.0" cy="586.5" r="17.6" fill="url(#gw)" fill-opacity="0.32"/>
<circle cx="1228.4" cy="628.2" r="21.1" fill="url(#gw)" fill-opacity="0.65"/>
<circle cx="1318.4" cy="615.1" r="15.8" fill="url(#gw)" fill-opacity="0.13"/>
<circle cx="1357.9" cy="608.5" r="15.8" fill="url(#gw)" fill-opacity="0.26"/>
<circle cx="1096.7" cy="652.4" r="24.6" fill="url(#gw)" fill-opacity="0.45"/>
<circle cx="1160.4" cy="672.1" r="21.1" fill="url(#gw)" fill-opacity="0.58"/>
<circle cx="1300.8" cy="652.4" r="21.1" fill="url(#gw)" fill-opacity="0.91"/>
<circle cx="1237.2" cy="691.9" r="15.8" fill="url(#gw)" fill-opacity="0.91"/>
<circle cx="1327.1" cy="691.9" r="14.0" fill="url(#gw)" fill-opacity="0.06"/>
<rect x="1067.8" y="401.5" width="297" height="296.5" fill="none" stroke="rgba(0,0,0,.5)" stroke-width="1"/></g>
<g clip-path="url(#ic6)"><rect x="1067.3" y="715.6" width="298" height="296.5" fill="rgb(38,38,38)"/>
<circle cx="1151.6" cy="723.8" r="30.7" fill="url(#gw)" fill-opacity="0.27"/>
<circle cx="1087.9" cy="763.3" r="43.0" fill="url(#gw)" fill-opacity="0.22"/>
<circle cx="1210.8" cy="752.3" r="43.0" fill="url(#gw)" fill-opacity="0.17"/>
<circle cx="1346.9" cy="736.9" r="33.8" fill="url(#gw)" fill-opacity="0.26"/>
<circle cx="1162.6" cy="798.4" r="33.8" fill="url(#gw)" fill-opacity="0.22"/>
<circle cx="1109.9" cy="802.8" r="30.7" fill="url(#gw)" fill-opacity="0.15"/>
<circle cx="1287.6" cy="785.2" r="43.0" fill="url(#gw)" fill-opacity="0.22"/>
<circle cx="1357.9" cy="802.8" r="27.6" fill="url(#gw)" fill-opacity="0.18"/>
<circle cx="1087.9" cy="840.1" r="36.9" fill="url(#gw)" fill-opacity="0.22"/>
<circle cx="1228.4" cy="826.9" r="39.9" fill="url(#gw)" fill-opacity="0.26"/>
<circle cx="1292.0" cy="846.7" r="43.0" fill="url(#gw)" fill-opacity="0.26"/>
<circle cx="1160.4" cy="873.0" r="43.0" fill="url(#gw)" fill-opacity="0.20"/>
<circle cx="1120.9" cy="877.4" r="36.9" fill="url(#gw)" fill-opacity="0.14"/>
<circle cx="1351.3" cy="866.4" r="33.8" fill="url(#gw)" fill-opacity="0.24"/>
<circle cx="1221.8" cy="894.9" r="39.9" fill="url(#gw)" fill-opacity="0.28"/>
<circle cx="1103.3" cy="914.7" r="33.8" fill="url(#gw)" fill-opacity="0.28"/>
<circle cx="1289.8" cy="910.3" r="36.9" fill="url(#gw)" fill-opacity="0.27"/>
<circle cx="1162.6" cy="943.2" r="36.9" fill="url(#gw)" fill-opacity="0.28"/>
<circle cx="1349.1" cy="927.9" r="36.9" fill="url(#gw)" fill-opacity="0.20"/>
<circle cx="1224.0" cy="960.8" r="36.9" fill="url(#gw)" fill-opacity="0.24"/>
<circle cx="1289.8" cy="971.7" r="36.9" fill="url(#gw)" fill-opacity="0.15"/>
<circle cx="1107.7" cy="991.5" r="30.7" fill="url(#gw)" fill-opacity="0.26"/>
<circle cx="1118.7" cy="978.3" r="43.0" fill="url(#gw)" fill-opacity="0.15"/>
<circle cx="1166.9" cy="1002.5" r="33.8" fill="url(#gw)" fill-opacity="0.22"/>
<circle cx="1351.3" cy="1000.3" r="27.6" fill="url(#gw)" fill-opacity="0.12"/>
<circle cx="1215.2" cy="1004.7" r="24.6" fill="url(#gw)" fill-opacity="0.09"/>
<circle cx="1197.7" cy="791.8" r="21.9" fill="url(#gk)" fill-opacity="0.80"/>
<circle cx="1140.6" cy="829.1" r="19.7" fill="url(#gk)" fill-opacity="0.70"/>
<circle cx="1072.6" cy="879.6" r="17.6" fill="url(#gk)" fill-opacity="0.60"/>
<circle cx="1324.9" cy="763.3" r="19.7" fill="url(#gk)" fill-opacity="0.60"/>
<circle cx="1324.9" cy="978.3" r="17.6" fill="url(#gk)" fill-opacity="0.60"/>
<circle cx="1151.6" cy="723.8" r="17.6" fill="url(#gw)" fill-opacity="0.84"/>
<circle cx="1087.9" cy="763.3" r="24.6" fill="url(#gw)" fill-opacity="0.64"/>
<circle cx="1210.8" cy="752.3" r="24.6" fill="url(#gw)" fill-opacity="0.37"/>
<circle cx="1346.9" cy="736.9" r="19.3" fill="url(#gw)" fill-opacity="0.77"/>
<circle cx="1162.6" cy="798.4" r="19.3" fill="url(#gw)" fill-opacity="0.64"/>
<circle cx="1109.9" cy="802.8" r="17.6" fill="url(#gw)" fill-opacity="0.30"/>
<circle cx="1287.6" cy="785.2" r="24.6" fill="url(#gw)" fill-opacity="0.64"/>
<circle cx="1357.9" cy="802.8" r="15.8" fill="url(#gw)" fill-opacity="0.44"/>
<circle cx="1087.9" cy="840.1" r="21.1" fill="url(#gw)" fill-opacity="0.64"/>
<circle cx="1228.4" cy="826.9" r="22.8" fill="url(#gw)" fill-opacity="0.77"/>
<circle cx="1292.0" cy="846.7" r="24.6" fill="url(#gw)" fill-opacity="0.77"/>
<circle cx="1160.4" cy="873.0" r="24.6" fill="url(#gw)" fill-opacity="0.51"/>
<circle cx="1120.9" cy="877.4" r="21.1" fill="url(#gw)" fill-opacity="0.24"/>
<circle cx="1351.3" cy="866.4" r="19.3" fill="url(#gw)" fill-opacity="0.71"/>
<circle cx="1221.8" cy="894.9" r="22.8" fill="url(#gw)" fill-opacity="0.91"/>
<circle cx="1103.3" cy="914.7" r="19.3" fill="url(#gw)" fill-opacity="0.91"/>
<circle cx="1289.8" cy="910.3" r="21.1" fill="url(#gw)" fill-opacity="0.84"/>
<circle cx="1162.6" cy="943.2" r="21.1" fill="url(#gw)" fill-opacity="0.91"/>
<circle cx="1349.1" cy="927.9" r="21.1" fill="url(#gw)" fill-opacity="0.51"/>
<circle cx="1224.0" cy="960.8" r="21.1" fill="url(#gw)" fill-opacity="0.71"/>
<circle cx="1289.8" cy="971.7" r="21.1" fill="url(#gw)" fill-opacity="0.30"/>
<circle cx="1107.7" cy="991.5" r="17.6" fill="url(#gw)" fill-opacity="0.77"/>
<circle cx="1118.7" cy="978.3" r="24.6" fill="url(#gw)" fill-opacity="0.30"/>
<circle cx="1166.9" cy="1002.5" r="19.3" fill="url(#gw)" fill-opacity="0.64"/>
<circle cx="1351.3" cy="1000.3" r="15.8" fill="url(#gw)" fill-opacity="0.17"/>
<circle cx="1215.2" cy="1004.7" r="14.0" fill="url(#gw)" fill-opacity="0.05"/>
<rect x="1067.8" y="716.1" width="297" height="295.5" fill="none" stroke="rgba(0,0,0,.5)" stroke-width="1"/></g>
<g clip-path="url(#ic7)"><rect x="1067.3" y="1031.7" width="298" height="296.5" fill="rgb(63,63,63)"/>
<circle cx="1140.6" cy="1049.7" r="33.8" fill="url(#gw)" fill-opacity="0.27"/>
<circle cx="1267.9" cy="1041.0" r="33.8" fill="url(#gw)" fill-opacity="0.28"/>
<circle cx="1331.5" cy="1043.2" r="36.9" fill="url(#gw)" fill-opacity="0.24"/>
<circle cx="1230.6" cy="1043.2" r="27.6" fill="url(#gw)" fill-opacity="0.15"/>
<circle cx="1079.2" cy="1087.1" r="39.9" fill="url(#gw)" fill-opacity="0.27"/>
<circle cx="1210.8" cy="1084.9" r="33.8" fill="url(#gw)" fill-opacity="0.26"/>
<circle cx="1147.2" cy="1109.0" r="36.9" fill="url(#gw)" fill-opacity="0.18"/>
<circle cx="1276.7" cy="1113.4" r="43.0" fill="url(#gw)" fill-opacity="0.18"/>
<circle cx="1342.5" cy="1109.0" r="33.8" fill="url(#gw)" fill-opacity="0.28"/>
<circle cx="1202.1" cy="1137.5" r="36.9" fill="url(#gw)" fill-opacity="0.28"/>
<circle cx="1098.9" cy="1161.7" r="39.9" fill="url(#gw)" fill-opacity="0.26"/>
<circle cx="1254.7" cy="1172.6" r="39.9" fill="url(#gw)" fill-opacity="0.26"/>
<circle cx="1147.2" cy="1183.6" r="39.9" fill="url(#gw)" fill-opacity="0.21"/>
<circle cx="1206.4" cy="1216.5" r="43.0" fill="url(#gw)" fill-opacity="0.27"/>
<circle cx="1105.5" cy="1238.5" r="43.0" fill="url(#gw)" fill-opacity="0.24"/>
<circle cx="1289.8" cy="1249.4" r="36.9" fill="url(#gw)" fill-opacity="0.26"/>
<circle cx="1259.1" cy="1245.1" r="33.8" fill="url(#gw)" fill-opacity="0.15"/>
<circle cx="1351.3" cy="1267.0" r="36.9" fill="url(#gw)" fill-opacity="0.27"/>
<circle cx="1171.3" cy="1280.2" r="39.9" fill="url(#gw)" fill-opacity="0.22"/>
<circle cx="1228.4" cy="1291.1" r="36.9" fill="url(#gw)" fill-opacity="0.21"/>
<circle cx="1109.9" cy="1313.1" r="36.9" fill="url(#gw)" fill-opacity="0.26"/>
<circle cx="1294.2" cy="1313.1" r="33.8" fill="url(#gw)" fill-opacity="0.21"/>
<circle cx="1355.7" cy="1317.5" r="24.6" fill="url(#gw)" fill-opacity="0.15"/>
<circle cx="1079.2" cy="1275.8" r="30.7" fill="url(#gw)" fill-opacity="0.12"/>
<circle cx="1285.4" cy="1073.9" r="30.7" fill="url(#gw)" fill-opacity="0.10"/>
<circle cx="1329.3" cy="1183.6" r="50.5" fill="url(#gk)" fill-opacity="0.80"/>
<circle cx="1318.4" cy="1144.1" r="35.1" fill="url(#gk)" fill-opacity="0.65"/>
<circle cx="1079.2" cy="1122.2" r="21.9" fill="url(#gk)" fill-opacity="0.55"/>
<circle cx="1182.3" cy="1056.3" r="19.7" fill="url(#gk)" fill-opacity="0.50"/>
<circle cx="1340.3" cy="1223.1" r="32.9" fill="url(#gk)" fill-opacity="0.70"/>
<circle cx="1140.6" cy="1049.7" r="19.3" fill="url(#gw)" fill-opacity="0.81"/>
<circle cx="1267.9" cy="1041.0" r="19.3" fill="url(#gw)" fill-opacity="0.89"/>
<circle cx="1331.5" cy="1043.2" r="21.1" fill="url(#gw)" fill-opacity="0.66"/>
<circle cx="1230.6" cy="1043.2" r="15.8" fill="url(#gw)" fill-opacity="0.20"/>
<circle cx="1079.2" cy="1087.1" r="22.8" fill="url(#gw)" fill-opacity="0.81"/>
<circle cx="1210.8" cy="1084.9" r="19.3" fill="url(#gw)" fill-opacity="0.74"/>
<circle cx="1147.2" cy="1109.0" r="21.1" fill="url(#gw)" fill-opacity="0.35"/>
<circle cx="1276.7" cy="1113.4" r="24.6" fill="url(#gw)" fill-opacity="0.35"/>
<circle cx="1342.5" cy="1109.0" r="19.3" fill="url(#gw)" fill-opacity="0.89"/>
<circle cx="1202.1" cy="1137.5" r="21.1" fill="url(#gw)" fill-opacity="0.89"/>
<circle cx="1098.9" cy="1161.7" r="22.8" fill="url(#gw)" fill-opacity="0.74"/>
<circle cx="1254.7" cy="1172.6" r="22.8" fill="url(#gw)" fill-opacity="0.74"/>
<circle cx="1147.2" cy="1183.6" r="22.8" fill="url(#gw)" fill-opacity="0.51"/>
<circle cx="1206.4" cy="1216.5" r="24.6" fill="url(#gw)" fill-opacity="0.81"/>
<circle cx="1105.5" cy="1238.5" r="24.6" fill="url(#gw)" fill-opacity="0.66"/>
<circle cx="1289.8" cy="1249.4" r="21.1" fill="url(#gw)" fill-opacity="0.74"/>
<circle cx="1259.1" cy="1245.1" r="19.3" fill="url(#gw)" fill-opacity="0.20"/>
<circle cx="1351.3" cy="1267.0" r="21.1" fill="url(#gw)" fill-opacity="0.81"/>
<circle cx="1171.3" cy="1280.2" r="22.8" fill="url(#gw)" fill-opacity="0.58"/>
<circle cx="1228.4" cy="1291.1" r="21.1" fill="url(#gw)" fill-opacity="0.51"/>
<circle cx="1109.9" cy="1313.1" r="21.1" fill="url(#gw)" fill-opacity="0.74"/>
<circle cx="1294.2" cy="1313.1" r="19.3" fill="url(#gw)" fill-opacity="0.51"/>
<circle cx="1355.7" cy="1317.5" r="14.0" fill="url(#gw)" fill-opacity="0.20"/>
<circle cx="1079.2" cy="1275.8" r="17.6" fill="url(#gw)" fill-opacity="0.05"/>
<circle cx="1285.4" cy="1073.9" r="17.6" fill="url(#gw)" fill-opacity="0.05"/>
<rect x="1067.8" y="1032.2" width="297" height="295.5" fill="none" stroke="rgba(0,0,0,.5)" stroke-width="1"/></g>
<polygon points="451.6,111.4 902.5,111.4 923.2,92.6 433.6,92.6" fill="#f6f6f6"/>
<polygon points="902.5,111.4 902.5,551.0 923.2,569.9 923.2,92.6" fill="#f6f6f6"/>
<polyline points="451.6,111.4 902.5,111.4 902.5,551.0" stroke="#c2c2c2" stroke-width="1.2" fill="none"/>
<polyline points="448.6,108.3 906.0,108.3 906.0,554.1" stroke="#c2c2c2" stroke-width="1.2" fill="none"/>
<polyline points="445.6,105.1 909.4,105.1 909.4,557.3" stroke="#c2c2c2" stroke-width="1.2" fill="none"/>
<polyline points="442.6,102.0 912.9,102.0 912.9,560.4" stroke="#c2c2c2" stroke-width="1.2" fill="none"/>
<polyline points="439.6,98.8 916.3,98.8 916.3,563.6" stroke="#c2c2c2" stroke-width="1.2" fill="none"/>
<polyline points="436.6,95.7 919.8,95.7 919.8,566.7" stroke="#c2c2c2" stroke-width="1.2" fill="none"/>
<polyline points="433.6,92.6 923.2,92.6 923.2,569.9" stroke="#c2c2c2" stroke-width="1.2" fill="none"/>
<rect x="451.6" y="111.4" width="450.9" height="439.6" fill="#f3f3f3"/>
<line x1="516.3" y1="111.4" x2="516.3" y2="551.0" stroke="#c2c2c2" stroke-width="1.3"/>
<line x1="516.3" y1="111.4" x2="501.8" y2="89.4" stroke="#c2c2c2" stroke-width="1.3"/>
<line x1="588.8" y1="111.4" x2="588.8" y2="551.0" stroke="#c2c2c2" stroke-width="1.3"/>
<line x1="588.8" y1="111.4" x2="581.6" y2="89.4" stroke="#c2c2c2" stroke-width="1.3"/>
<line x1="661.3" y1="111.4" x2="661.3" y2="551.0" stroke="#c2c2c2" stroke-width="1.3"/>
<line x1="661.3" y1="111.4" x2="661.3" y2="89.4" stroke="#c2c2c2" stroke-width="1.3"/>
<line x1="734.4" y1="111.4" x2="734.4" y2="551.0" stroke="#c2c2c2" stroke-width="1.3"/>
<line x1="734.4" y1="111.4" x2="741.7" y2="89.4" stroke="#c2c2c2" stroke-width="1.3"/>
<line x1="807.5" y1="111.4" x2="807.5" y2="551.0" stroke="#c2c2c2" stroke-width="1.3"/>
<line x1="807.5" y1="111.4" x2="822.1" y2="89.4" stroke="#c2c2c2" stroke-width="1.3"/>
<line x1="880.0" y1="111.4" x2="880.0" y2="551.0" stroke="#c2c2c2" stroke-width="1.3"/>
<line x1="880.0" y1="111.4" x2="901.9" y2="89.4" stroke="#c2c2c2" stroke-width="1.3"/>
<line x1="451.6" y1="133.4" x2="902.5" y2="133.4" stroke="#c2c2c2" stroke-width="1.3"/>
<line x1="902.5" y1="133.4" x2="926.7" y2="113.6" stroke="#c2c2c2" stroke-width="1.3"/>
<line x1="451.6" y1="204.3" x2="902.5" y2="204.3" stroke="#c2c2c2" stroke-width="1.3"/>
<line x1="902.5" y1="204.3" x2="926.7" y2="191.6" stroke="#c2c2c2" stroke-width="1.3"/>
<line x1="451.6" y1="275.2" x2="902.5" y2="275.2" stroke="#c2c2c2" stroke-width="1.3"/>
<line x1="902.5" y1="275.2" x2="926.7" y2="269.6" stroke="#c2c2c2" stroke-width="1.3"/>
<line x1="451.6" y1="346.1" x2="902.5" y2="346.1" stroke="#c2c2c2" stroke-width="1.3"/>
<line x1="902.5" y1="346.1" x2="926.7" y2="347.6" stroke="#c2c2c2" stroke-width="1.3"/>
<line x1="451.6" y1="417.0" x2="902.5" y2="417.0" stroke="#c2c2c2" stroke-width="1.3"/>
<line x1="902.5" y1="417.0" x2="926.7" y2="425.6" stroke="#c2c2c2" stroke-width="1.3"/>
<line x1="451.6" y1="487.9" x2="902.5" y2="487.9" stroke="#c2c2c2" stroke-width="1.3"/>
<line x1="902.5" y1="487.9" x2="926.7" y2="503.6" stroke="#c2c2c2" stroke-width="1.3"/>
<line x1="451.6" y1="110.4" x2="451.6" y2="551.0" stroke="#222" stroke-width="1.6"/>
<line x1="451.6" y1="551.0" x2="902.5" y2="551.0" stroke="#222" stroke-width="1.6"/>
<line x1="451.6" y1="111.4" x2="437.6" y2="94.6" stroke="#222" stroke-width="1.2"/>
<line x1="443.6" y1="133.4" x2="452.6" y2="133.4" stroke="#222" stroke-width="1.3"/>
<line x1="443.6" y1="204.3" x2="452.6" y2="204.3" stroke="#222" stroke-width="1.3"/>
<line x1="443.6" y1="275.2" x2="452.6" y2="275.2" stroke="#222" stroke-width="1.3"/>
<line x1="443.6" y1="346.1" x2="452.6" y2="346.1" stroke="#222" stroke-width="1.3"/>
<line x1="443.6" y1="417.0" x2="452.6" y2="417.0" stroke="#222" stroke-width="1.3"/>
<line x1="443.6" y1="487.9" x2="452.6" y2="487.9" stroke="#222" stroke-width="1.3"/>
<line x1="516.3" y1="547.0" x2="516.3" y2="558.0" stroke="#222" stroke-width="1.3"/>
<line x1="588.8" y1="547.0" x2="588.8" y2="558.0" stroke="#222" stroke-width="1.3"/>
<line x1="661.3" y1="547.0" x2="661.3" y2="558.0" stroke="#222" stroke-width="1.3"/>
<line x1="734.4" y1="547.0" x2="734.4" y2="558.0" stroke="#222" stroke-width="1.3"/>
<line x1="807.5" y1="547.0" x2="807.5" y2="558.0" stroke="#222" stroke-width="1.3"/>
<line x1="880.0" y1="547.0" x2="880.0" y2="558.0" stroke="#222" stroke-width="1.3"/>
<text x="437.0" y="150.1" class="dj" font-size="20.5" text-anchor="middle">0</text>
<text x="437.0" y="221.0" class="dj" font-size="20.5" text-anchor="middle">50</text>
<text x="437.0" y="291.9" class="dj" font-size="20.5" text-anchor="middle">100</text>
<text x="437.0" y="362.8" class="dj" font-size="20.5" text-anchor="middle">150</text>
<text x="437.0" y="433.7" class="dj" font-size="20.5" text-anchor="middle">200</text>
<text x="437.0" y="504.6" class="dj" font-size="20.5" text-anchor="middle">250</text>
<text x="516.3" y="581.6" class="dj" font-size="20.5" text-anchor="middle">250</text>
<text x="588.8" y="581.6" class="dj" font-size="20.5" text-anchor="middle">200</text>
<text x="661.3" y="581.6" class="dj" font-size="20.5" text-anchor="middle">150</text>
<text x="734.4" y="581.6" class="dj" font-size="20.5" text-anchor="middle">100</text>
<text x="807.5" y="581.6" class="dj" font-size="20.5" text-anchor="middle">50</text>
<text x="880.0" y="581.6" class="dj" font-size="20.5" text-anchor="middle">0</text>
<text x="676.5" y="607.8" class="dj" font-size="25.2" text-anchor="middle">x coordinate (px)</text>
<text x="408.5" y="333.2" class="dj" font-size="25.2" text-anchor="middle" transform="rotate(-90 408.5 333.2)">y coordinate (px)</text>
<text x="428.0" y="91.5" class="dj" font-size="19" text-anchor="end">120</text>
<text x="431.6" y="95.4" class="dj" font-size="19" text-anchor="end">100</text>
<text x="435.2" y="99.3" class="dj" font-size="19" text-anchor="end">80</text>
<text x="438.8" y="103.2" class="dj" font-size="19" text-anchor="end">60</text>
<text x="442.4" y="107.1" class="dj" font-size="19" text-anchor="end">40</text>
<text x="446.0" y="111.0" class="dj" font-size="19" text-anchor="end">20</text>
<polygon points="1454.6,108.9 1905.5,108.9 1926.2,90.1 1436.6,90.1" fill="#f6f6f6"/>
<polygon points="1905.5,108.9 1905.5,548.5 1926.2,567.4 1926.2,90.1" fill="#f6f6f6"/>
<polyline points="1454.6,108.9 1905.5,108.9 1905.5,548.5" stroke="#c2c2c2" stroke-width="1.2" fill="none"/>
<polyline points="1451.6,105.8 1909.0,105.8 1909.0,551.6" stroke="#c2c2c2" stroke-width="1.2" fill="none"/>
<polyline points="1448.6,102.6 1912.4,102.6 1912.4,554.8" stroke="#c2c2c2" stroke-width="1.2" fill="none"/>
<polyline points="1445.6,99.5 1915.9,99.5 1915.9,557.9" stroke="#c2c2c2" stroke-width="1.2" fill="none"/>
<polyline points="1442.6,96.3 1919.3,96.3 1919.3,561.1" stroke="#c2c2c2" stroke-width="1.2" fill="none"/>
<polyline points="1439.6,93.2 1922.8,93.2 1922.8,564.2" stroke="#c2c2c2" stroke-width="1.2" fill="none"/>
<polyline points="1436.6,90.1 1926.2,90.1 1926.2,567.4" stroke="#c2c2c2" stroke-width="1.2" fill="none"/>
<rect x="1454.6" y="108.9" width="450.9" height="439.6" fill="#f3f3f3"/>
<line x1="1519.3" y1="108.9" x2="1519.3" y2="548.5" stroke="#c2c2c2" stroke-width="1.3"/>
<line x1="1519.3" y1="108.9" x2="1504.8" y2="86.9" stroke="#c2c2c2" stroke-width="1.3"/>
<line x1="1591.8" y1="108.9" x2="1591.8" y2="548.5" stroke="#c2c2c2" stroke-width="1.3"/>
<line x1="1591.8" y1="108.9" x2="1584.6" y2="86.9" stroke="#c2c2c2" stroke-width="1.3"/>
<line x1="1664.3" y1="108.9" x2="1664.3" y2="548.5" stroke="#c2c2c2" stroke-width="1.3"/>
<line x1="1664.3" y1="108.9" x2="1664.3" y2="86.9" stroke="#c2c2c2" stroke-width="1.3"/>
<line x1="1737.4" y1="108.9" x2="1737.4" y2="548.5" stroke="#c2c2c2" stroke-width="1.3"/>
<line x1="1737.4" y1="108.9" x2="1744.7" y2="86.9" stroke="#c2c2c2" stroke-width="1.3"/>
<line x1="1810.5" y1="108.9" x2="1810.5" y2="548.5" stroke="#c2c2c2" stroke-width="1.3"/>
<line x1="1810.5" y1="108.9" x2="1825.2" y2="86.9" stroke="#c2c2c2" stroke-width="1.3"/>
<line x1="1883.0" y1="108.9" x2="1883.0" y2="548.5" stroke="#c2c2c2" stroke-width="1.3"/>
<line x1="1883.0" y1="108.9" x2="1904.9" y2="86.9" stroke="#c2c2c2" stroke-width="1.3"/>
<line x1="1454.6" y1="130.9" x2="1905.5" y2="130.9" stroke="#c2c2c2" stroke-width="1.3"/>
<line x1="1905.5" y1="130.9" x2="1929.7" y2="111.1" stroke="#c2c2c2" stroke-width="1.3"/>
<line x1="1454.6" y1="201.8" x2="1905.5" y2="201.8" stroke="#c2c2c2" stroke-width="1.3"/>
<line x1="1905.5" y1="201.8" x2="1929.7" y2="189.1" stroke="#c2c2c2" stroke-width="1.3"/>
<line x1="1454.6" y1="272.7" x2="1905.5" y2="272.7" stroke="#c2c2c2" stroke-width="1.3"/>
<line x1="1905.5" y1="272.7" x2="1929.7" y2="267.1" stroke="#c2c2c2" stroke-width="1.3"/>
<line x1="1454.6" y1="343.6" x2="1905.5" y2="343.6" stroke="#c2c2c2" stroke-width="1.3"/>
<line x1="1905.5" y1="343.6" x2="1929.7" y2="345.1" stroke="#c2c2c2" stroke-width="1.3"/>
<line x1="1454.6" y1="414.5" x2="1905.5" y2="414.5" stroke="#c2c2c2" stroke-width="1.3"/>
<line x1="1905.5" y1="414.5" x2="1929.7" y2="423.1" stroke="#c2c2c2" stroke-width="1.3"/>
<line x1="1454.6" y1="485.4" x2="1905.5" y2="485.4" stroke="#c2c2c2" stroke-width="1.3"/>
<line x1="1905.5" y1="485.4" x2="1929.7" y2="501.1" stroke="#c2c2c2" stroke-width="1.3"/>
<line x1="1454.6" y1="107.9" x2="1454.6" y2="548.5" stroke="#222" stroke-width="1.6"/>
<line x1="1454.6" y1="548.5" x2="1905.5" y2="548.5" stroke="#222" stroke-width="1.6"/>
<line x1="1454.6" y1="108.9" x2="1440.6" y2="92.1" stroke="#222" stroke-width="1.2"/>
<line x1="1446.6" y1="130.9" x2="1455.6" y2="130.9" stroke="#222" stroke-width="1.3"/>
<line x1="1446.6" y1="201.8" x2="1455.6" y2="201.8" stroke="#222" stroke-width="1.3"/>
<line x1="1446.6" y1="272.7" x2="1455.6" y2="272.7" stroke="#222" stroke-width="1.3"/>
<line x1="1446.6" y1="343.6" x2="1455.6" y2="343.6" stroke="#222" stroke-width="1.3"/>
<line x1="1446.6" y1="414.5" x2="1455.6" y2="414.5" stroke="#222" stroke-width="1.3"/>
<line x1="1446.6" y1="485.4" x2="1455.6" y2="485.4" stroke="#222" stroke-width="1.3"/>
<line x1="1519.3" y1="544.5" x2="1519.3" y2="555.5" stroke="#222" stroke-width="1.3"/>
<line x1="1591.8" y1="544.5" x2="1591.8" y2="555.5" stroke="#222" stroke-width="1.3"/>
<line x1="1664.3" y1="544.5" x2="1664.3" y2="555.5" stroke="#222" stroke-width="1.3"/>
<line x1="1737.4" y1="544.5" x2="1737.4" y2="555.5" stroke="#222" stroke-width="1.3"/>
<line x1="1810.5" y1="544.5" x2="1810.5" y2="555.5" stroke="#222" stroke-width="1.3"/>
<line x1="1883.0" y1="544.5" x2="1883.0" y2="555.5" stroke="#222" stroke-width="1.3"/>
<text x="1440.0" y="147.6" class="dj" font-size="20.5" text-anchor="middle">0</text>
<text x="1440.0" y="218.5" class="dj" font-size="20.5" text-anchor="middle">50</text>
<text x="1440.0" y="289.4" class="dj" font-size="20.5" text-anchor="middle">100</text>
<text x="1440.0" y="360.3" class="dj" font-size="20.5" text-anchor="middle">150</text>
<text x="1440.0" y="431.2" class="dj" font-size="20.5" text-anchor="middle">200</text>
<text x="1440.0" y="502.1" class="dj" font-size="20.5" text-anchor="middle">250</text>
<text x="1519.3" y="579.1" class="dj" font-size="20.5" text-anchor="middle">250</text>
<text x="1591.8" y="579.1" class="dj" font-size="20.5" text-anchor="middle">200</text>
<text x="1664.3" y="579.1" class="dj" font-size="20.5" text-anchor="middle">150</text>
<text x="1737.4" y="579.1" class="dj" font-size="20.5" text-anchor="middle">100</text>
<text x="1810.5" y="579.1" class="dj" font-size="20.5" text-anchor="middle">50</text>
<text x="1883.0" y="579.1" class="dj" font-size="20.5" text-anchor="middle">0</text>
<text x="1679.5" y="605.3" class="dj" font-size="25.2" text-anchor="middle">x coordinate (px)</text>
<text x="1411.5" y="330.7" class="dj" font-size="25.2" text-anchor="middle" transform="rotate(-90 1411.5 330.7)">y coordinate (px)</text>
<text x="1431.0" y="89.0" class="dj" font-size="19" text-anchor="end">300</text>
<text x="1434.6" y="92.9" class="dj" font-size="19" text-anchor="end">250</text>
<text x="1438.2" y="96.8" class="dj" font-size="19" text-anchor="end">200</text>
<text x="1441.8" y="100.7" class="dj" font-size="19" text-anchor="end">150</text>
<text x="1445.4" y="104.6" class="dj" font-size="19" text-anchor="end">100</text>
<text x="1449.0" y="108.5" class="dj" font-size="19" text-anchor="end">50</text>
<polyline points="917.0,659.6 906.0,1039.0 924.0,1255.0" stroke="#cdcdcd" stroke-width="1" fill="none"/>
<polyline points="920.4,693.6 909.6,1039.0 925.5,1252.0" stroke="#cdcdcd" stroke-width="1" fill="none"/>
<polyline points="923.8,727.6 913.2,1039.0 927.0,1249.0" stroke="#cdcdcd" stroke-width="1" fill="none"/>
<polyline points="927.2,761.6 916.8,1039.0 928.5,1246.0" stroke="#cdcdcd" stroke-width="1" fill="none"/>
<polyline points="930.6,795.6 920.4,1039.0 930.0,1243.0" stroke="#cdcdcd" stroke-width="1" fill="none"/>
<polyline points="934.0,829.6 924.0,1039.0 931.5,1240.0" stroke="#cdcdcd" stroke-width="1" fill="none"/>
<polyline points="937.4,863.6 927.6,1039.0 933.0,1237.0" stroke="#cdcdcd" stroke-width="1" fill="none"/>
<polyline points="940.8,897.6 931.2,1039.0 934.5,1234.0" stroke="#cdcdcd" stroke-width="1" fill="none"/>
<polygon points="450.4,649.4 916.0,649.4 905.0,1039.0 462.0,1039.0" fill="#f3f3f3"/>
<polygon points="462.0,1039.0 905.0,1039.0 925.0,1280.0 442.0,1280.0" fill="#f3f3f3"/>
<line x1="451.6" y1="689.6" x2="914.9" y2="689.6" stroke="#c2c2c2" stroke-width="1.3"/>
<line x1="914.9" y1="689.6" x2="925.9" y2="723.6" stroke="#cdcdcd" stroke-width="1"/>
<line x1="453.3" y1="745.4" x2="913.3" y2="745.4" stroke="#c2c2c2" stroke-width="1.3"/>
<line x1="913.3" y1="745.4" x2="924.3" y2="779.4" stroke="#cdcdcd" stroke-width="1"/>
<line x1="454.9" y1="801.0" x2="911.7" y2="801.0" stroke="#c2c2c2" stroke-width="1.3"/>
<line x1="911.7" y1="801.0" x2="922.7" y2="835.0" stroke="#cdcdcd" stroke-width="1"/>
<line x1="456.6" y1="856.0" x2="910.2" y2="856.0" stroke="#c2c2c2" stroke-width="1.3"/>
<line x1="910.2" y1="856.0" x2="921.2" y2="890.0" stroke="#cdcdcd" stroke-width="1"/>
<line x1="458.1" y1="909.5" x2="908.7" y2="909.5" stroke="#c2c2c2" stroke-width="1.3"/>
<line x1="908.7" y1="909.5" x2="919.7" y2="943.5" stroke="#cdcdcd" stroke-width="1"/>
<line x1="459.7" y1="962.0" x2="907.2" y2="962.0" stroke="#c2c2c2" stroke-width="1.3"/>
<line x1="907.2" y1="962.0" x2="918.2" y2="996.0" stroke="#cdcdcd" stroke-width="1"/>
<line x1="461.3" y1="1014.8" x2="905.7" y2="1014.8" stroke="#c2c2c2" stroke-width="1.3"/>
<line x1="905.7" y1="1014.8" x2="916.7" y2="1048.8" stroke="#cdcdcd" stroke-width="1"/>
<line x1="462.0" y1="1039.0" x2="905.0" y2="1039.0" stroke="#d8d8d8" stroke-width="1"/>
<line x1="461.2" y1="1048.6" x2="905.8" y2="1048.6" stroke="#c2c2c2" stroke-width="1.3"/>
<line x1="458.1" y1="1085.4" x2="908.9" y2="1085.4" stroke="#c2c2c2" stroke-width="1.3"/>
<line x1="455.0" y1="1123.4" x2="912.0" y2="1123.4" stroke="#c2c2c2" stroke-width="1.3"/>
<line x1="451.8" y1="1161.8" x2="915.2" y2="1161.8" stroke="#c2c2c2" stroke-width="1.3"/>
<line x1="448.5" y1="1202.0" x2="918.5" y2="1202.0" stroke="#c2c2c2" stroke-width="1.3"/>
<line x1="445.1" y1="1243.0" x2="921.9" y2="1243.0" stroke="#c2c2c2" stroke-width="1.3"/>
<polyline points="518.0,649.4 525.5,1039.0 511.0,1280.0" stroke="#c2c2c2" stroke-width="1.3" fill="none"/>
<polyline points="593.0,649.4 597.0,1039.0 589.0,1280.0" stroke="#c2c2c2" stroke-width="1.3" fill="none"/>
<polyline points="668.0,649.4 668.8,1039.0 667.6,1280.0" stroke="#c2c2c2" stroke-width="1.3" fill="none"/>
<polyline points="743.5,649.4 741.0,1039.0 745.6,1280.0" stroke="#c2c2c2" stroke-width="1.3" fill="none"/>
<polyline points="818.5,649.4 813.0,1039.0 823.6,1280.0" stroke="#c2c2c2" stroke-width="1.3" fill="none"/>
<polyline points="893.5,649.4 884.5,1039.0 901.6,1280.0" stroke="#c2c2c2" stroke-width="1.3" fill="none"/>
<polyline points="450.4,649.4 462.0,1039.0 442.0,1280.0" stroke="#222" stroke-width="1.6" fill="none"/>
<line x1="442.0" y1="1280.0" x2="925.0" y2="1280.0" stroke="#222" stroke-width="1.6"/>
<line x1="446.6" y1="689.6" x2="456.6" y2="689.6" stroke="#222" stroke-width="1.3"/>
<line x1="448.3" y1="745.4" x2="458.3" y2="745.4" stroke="#222" stroke-width="1.3"/>
<line x1="449.9" y1="801.0" x2="459.9" y2="801.0" stroke="#222" stroke-width="1.3"/>
<line x1="451.6" y1="856.0" x2="461.6" y2="856.0" stroke="#222" stroke-width="1.3"/>
<line x1="453.1" y1="909.5" x2="463.1" y2="909.5" stroke="#222" stroke-width="1.3"/>
<line x1="454.7" y1="962.0" x2="464.7" y2="962.0" stroke="#222" stroke-width="1.3"/>
<line x1="456.3" y1="1014.8" x2="466.3" y2="1014.8" stroke="#222" stroke-width="1.3"/>
<line x1="453.2" y1="1048.6" x2="463.2" y2="1048.6" stroke="#222" stroke-width="1.3"/>
<line x1="450.1" y1="1085.4" x2="460.1" y2="1085.4" stroke="#222" stroke-width="1.3"/>
<line x1="447.0" y1="1123.4" x2="457.0" y2="1123.4" stroke="#222" stroke-width="1.3"/>
<line x1="443.8" y1="1161.8" x2="453.8" y2="1161.8" stroke="#222" stroke-width="1.3"/>
<line x1="440.5" y1="1202.0" x2="450.5" y2="1202.0" stroke="#222" stroke-width="1.3"/>
<line x1="437.1" y1="1243.0" x2="447.1" y2="1243.0" stroke="#222" stroke-width="1.3"/>
<line x1="511.0" y1="1280.0" x2="511.0" y2="1286.0" stroke="#222" stroke-width="1.3"/>
<line x1="589.0" y1="1280.0" x2="589.0" y2="1286.0" stroke="#222" stroke-width="1.3"/>
<line x1="667.6" y1="1280.0" x2="667.6" y2="1286.0" stroke="#222" stroke-width="1.3"/>
<line x1="745.6" y1="1280.0" x2="745.6" y2="1286.0" stroke="#222" stroke-width="1.3"/>
<line x1="823.6" y1="1280.0" x2="823.6" y2="1286.0" stroke="#222" stroke-width="1.3"/>
<line x1="901.6" y1="1280.0" x2="901.6" y2="1286.0" stroke="#222" stroke-width="1.3"/>
<text x="437.0" y="699.0" class="dj" font-size="20.5" text-anchor="middle">120</text>
<text x="438.9" y="756.2" class="dj" font-size="20.5" text-anchor="middle">100</text>
<text x="440.2" y="810.1" class="dj" font-size="20.5" text-anchor="middle">80</text>
<text x="442.0" y="864.5" class="dj" font-size="20.5" text-anchor="middle">60</text>
<text x="443.5" y="918.3" class="dj" font-size="20.5" text-anchor="middle">40</text>
<text x="445.2" y="970.8" class="dj" font-size="20.5" text-anchor="middle">20</text>
<text x="447.2" y="1023.5" class="dj" font-size="20.5" text-anchor="middle">0</text>
<text x="446.5" y="1077.0" class="dj" font-size="20.5" text-anchor="middle">0</text>
<text x="442.6" y="1114.5" class="dj" font-size="20.5" text-anchor="middle">50</text>
<text x="439.7" y="1152.5" class="dj" font-size="20.5" text-anchor="middle">100</text>
<text x="436.6" y="1190.5" class="dj" font-size="20.5" text-anchor="middle">150</text>
<text x="433.1" y="1230.5" class="dj" font-size="20.5" text-anchor="middle">200</text>
<text x="429.0" y="1271.0" class="dj" font-size="20.5" text-anchor="middle">250</text>
<text x="511.0" y="1318.5" class="dj" font-size="20.5" text-anchor="middle">250</text>
<text x="589.0" y="1318.5" class="dj" font-size="20.5" text-anchor="middle">200</text>
<text x="667.6" y="1318.5" class="dj" font-size="20.5" text-anchor="middle">150</text>
<text x="745.6" y="1318.5" class="dj" font-size="20.5" text-anchor="middle">100</text>
<text x="823.6" y="1318.5" class="dj" font-size="20.5" text-anchor="middle">50</text>
<text x="901.6" y="1318.5" class="dj" font-size="20.5" text-anchor="middle">0</text>
<text x="682.0" y="1346.0" class="dj" font-size="25.2" text-anchor="middle">x coordinate (px)</text>
<text x="411.0" y="1199.0" class="dj" font-size="25.2" text-anchor="middle" transform="rotate(-87.2 411.0 1199.0)">y coordinate (px)</text>
<text x="398.0" y="824.7" class="dj" font-size="25.2" text-anchor="middle" transform="rotate(90 398.0 824.7)">frame number</text>
<polyline points="1922.0,659.6 1911.0,1039.0 1929.0,1255.0" stroke="#cdcdcd" stroke-width="1" fill="none"/>
<polyline points="1925.4,693.6 1914.6,1039.0 1930.5,1252.0" stroke="#cdcdcd" stroke-width="1" fill="none"/>
<polyline points="1928.8,727.6 1918.2,1039.0 1932.0,1249.0" stroke="#cdcdcd" stroke-width="1" fill="none"/>
<polyline points="1932.2,761.6 1921.8,1039.0 1933.5,1246.0" stroke="#cdcdcd" stroke-width="1" fill="none"/>
<polyline points="1935.6,795.6 1925.4,1039.0 1935.0,1243.0" stroke="#cdcdcd" stroke-width="1" fill="none"/>
<polyline points="1939.0,829.6 1929.0,1039.0 1936.5,1240.0" stroke="#cdcdcd" stroke-width="1" fill="none"/>
<polyline points="1942.4,863.6 1932.6,1039.0 1938.0,1237.0" stroke="#cdcdcd" stroke-width="1" fill="none"/>
<polyline points="1945.8,897.6 1936.2,1039.0 1939.5,1234.0" stroke="#cdcdcd" stroke-width="1" fill="none"/>
<polygon points="1455.4,649.4 1921.0,649.4 1910.0,1039.0 1467.0,1039.0" fill="#f3f3f3"/>
<polygon points="1467.0,1039.0 1910.0,1039.0 1930.0,1280.0 1447.0,1280.0" fill="#f3f3f3"/>
<line x1="1456.6" y1="689.6" x2="1919.9" y2="689.6" stroke="#c2c2c2" stroke-width="1.3"/>
<line x1="1919.9" y1="689.6" x2="1930.9" y2="723.6" stroke="#cdcdcd" stroke-width="1"/>
<line x1="1458.3" y1="745.4" x2="1918.3" y2="745.4" stroke="#c2c2c2" stroke-width="1.3"/>
<line x1="1918.3" y1="745.4" x2="1929.3" y2="779.4" stroke="#cdcdcd" stroke-width="1"/>
<line x1="1459.9" y1="801.0" x2="1916.7" y2="801.0" stroke="#c2c2c2" stroke-width="1.3"/>
<line x1="1916.7" y1="801.0" x2="1927.7" y2="835.0" stroke="#cdcdcd" stroke-width="1"/>
<line x1="1461.6" y1="856.0" x2="1915.2" y2="856.0" stroke="#c2c2c2" stroke-width="1.3"/>
<line x1="1915.2" y1="856.0" x2="1926.2" y2="890.0" stroke="#cdcdcd" stroke-width="1"/>
<line x1="1463.1" y1="909.5" x2="1913.7" y2="909.5" stroke="#c2c2c2" stroke-width="1.3"/>
<line x1="1913.7" y1="909.5" x2="1924.7" y2="943.5" stroke="#cdcdcd" stroke-width="1"/>
<line x1="1464.7" y1="962.0" x2="1912.2" y2="962.0" stroke="#c2c2c2" stroke-width="1.3"/>
<line x1="1912.2" y1="962.0" x2="1923.2" y2="996.0" stroke="#cdcdcd" stroke-width="1"/>
<line x1="1466.3" y1="1014.8" x2="1910.7" y2="1014.8" stroke="#c2c2c2" stroke-width="1.3"/>
<line x1="1910.7" y1="1014.8" x2="1921.7" y2="1048.8" stroke="#cdcdcd" stroke-width="1"/>
<line x1="1467.0" y1="1039.0" x2="1910.0" y2="1039.0" stroke="#d8d8d8" stroke-width="1"/>
<line x1="1466.2" y1="1048.6" x2="1910.8" y2="1048.6" stroke="#c2c2c2" stroke-width="1.3"/>
<line x1="1463.1" y1="1085.4" x2="1913.9" y2="1085.4" stroke="#c2c2c2" stroke-width="1.3"/>
<line x1="1460.0" y1="1123.4" x2="1917.0" y2="1123.4" stroke="#c2c2c2" stroke-width="1.3"/>
<line x1="1456.8" y1="1161.8" x2="1920.2" y2="1161.8" stroke="#c2c2c2" stroke-width="1.3"/>
<line x1="1453.5" y1="1202.0" x2="1923.5" y2="1202.0" stroke="#c2c2c2" stroke-width="1.3"/>
<line x1="1450.1" y1="1243.0" x2="1926.9" y2="1243.0" stroke="#c2c2c2" stroke-width="1.3"/>
<polyline points="1523.0,649.4 1530.5,1039.0 1516.0,1280.0" stroke="#c2c2c2" stroke-width="1.3" fill="none"/>
<polyline points="1598.0,649.4 1602.0,1039.0 1594.0,1280.0" stroke="#c2c2c2" stroke-width="1.3" fill="none"/>
<polyline points="1673.0,649.4 1673.8,1039.0 1672.6,1280.0" stroke="#c2c2c2" stroke-width="1.3" fill="none"/>
<polyline points="1748.5,649.4 1746.0,1039.0 1750.6,1280.0" stroke="#c2c2c2" stroke-width="1.3" fill="none"/>
<polyline points="1823.5,649.4 1818.0,1039.0 1828.6,1280.0" stroke="#c2c2c2" stroke-width="1.3" fill="none"/>
<polyline points="1898.5,649.4 1889.5,1039.0 1906.6,1280.0" stroke="#c2c2c2" stroke-width="1.3" fill="none"/>
<polyline points="1455.4,649.4 1467.0,1039.0 1447.0,1280.0" stroke="#222" stroke-width="1.6" fill="none"/>
<line x1="1447.0" y1="1280.0" x2="1930.0" y2="1280.0" stroke="#222" stroke-width="1.6"/>
<line x1="1451.6" y1="689.6" x2="1461.6" y2="689.6" stroke="#222" stroke-width="1.3"/>
<line x1="1453.3" y1="745.4" x2="1463.3" y2="745.4" stroke="#222" stroke-width="1.3"/>
<line x1="1454.9" y1="801.0" x2="1464.9" y2="801.0" stroke="#222" stroke-width="1.3"/>
<line x1="1456.6" y1="856.0" x2="1466.6" y2="856.0" stroke="#222" stroke-width="1.3"/>
<line x1="1458.1" y1="909.5" x2="1468.1" y2="909.5" stroke="#222" stroke-width="1.3"/>
<line x1="1459.7" y1="962.0" x2="1469.7" y2="962.0" stroke="#222" stroke-width="1.3"/>
<line x1="1461.3" y1="1014.8" x2="1471.3" y2="1014.8" stroke="#222" stroke-width="1.3"/>
<line x1="1458.2" y1="1048.6" x2="1468.2" y2="1048.6" stroke="#222" stroke-width="1.3"/>
<line x1="1455.1" y1="1085.4" x2="1465.1" y2="1085.4" stroke="#222" stroke-width="1.3"/>
<line x1="1452.0" y1="1123.4" x2="1462.0" y2="1123.4" stroke="#222" stroke-width="1.3"/>
<line x1="1448.8" y1="1161.8" x2="1458.8" y2="1161.8" stroke="#222" stroke-width="1.3"/>
<line x1="1445.5" y1="1202.0" x2="1455.5" y2="1202.0" stroke="#222" stroke-width="1.3"/>
<line x1="1442.1" y1="1243.0" x2="1452.1" y2="1243.0" stroke="#222" stroke-width="1.3"/>
<line x1="1516.0" y1="1280.0" x2="1516.0" y2="1286.0" stroke="#222" stroke-width="1.3"/>
<line x1="1594.0" y1="1280.0" x2="1594.0" y2="1286.0" stroke="#222" stroke-width="1.3"/>
<line x1="1672.6" y1="1280.0" x2="1672.6" y2="1286.0" stroke="#222" stroke-width="1.3"/>
<line x1="1750.6" y1="1280.0" x2="1750.6" y2="1286.0" stroke="#222" stroke-width="1.3"/>
<line x1="1828.6" y1="1280.0" x2="1828.6" y2="1286.0" stroke="#222" stroke-width="1.3"/>
<line x1="1906.6" y1="1280.0" x2="1906.6" y2="1286.0" stroke="#222" stroke-width="1.3"/>
<text x="1442.0" y="699.0" class="dj" font-size="20.5" text-anchor="middle">300</text>
<text x="1443.9" y="756.2" class="dj" font-size="20.5" text-anchor="middle">250</text>
<text x="1445.2" y="810.1" class="dj" font-size="20.5" text-anchor="middle">200</text>
<text x="1447.0" y="864.5" class="dj" font-size="20.5" text-anchor="middle">150</text>
<text x="1448.5" y="918.3" class="dj" font-size="20.5" text-anchor="middle">100</text>
<text x="1450.2" y="970.8" class="dj" font-size="20.5" text-anchor="middle">50</text>
<text x="1452.2" y="1023.5" class="dj" font-size="20.5" text-anchor="middle">0</text>
<text x="1451.5" y="1077.0" class="dj" font-size="20.5" text-anchor="middle">0</text>
<text x="1447.6" y="1114.5" class="dj" font-size="20.5" text-anchor="middle">50</text>
<text x="1444.7" y="1152.5" class="dj" font-size="20.5" text-anchor="middle">100</text>
<text x="1441.6" y="1190.5" class="dj" font-size="20.5" text-anchor="middle">150</text>
<text x="1438.1" y="1230.5" class="dj" font-size="20.5" text-anchor="middle">200</text>
<text x="1434.0" y="1271.0" class="dj" font-size="20.5" text-anchor="middle">250</text>
<text x="1516.0" y="1318.5" class="dj" font-size="20.5" text-anchor="middle">250</text>
<text x="1594.0" y="1318.5" class="dj" font-size="20.5" text-anchor="middle">200</text>
<text x="1672.6" y="1318.5" class="dj" font-size="20.5" text-anchor="middle">150</text>
<text x="1750.6" y="1318.5" class="dj" font-size="20.5" text-anchor="middle">100</text>
<text x="1828.6" y="1318.5" class="dj" font-size="20.5" text-anchor="middle">50</text>
<text x="1906.6" y="1318.5" class="dj" font-size="20.5" text-anchor="middle">0</text>
<text x="1687.0" y="1346.0" class="dj" font-size="25.2" text-anchor="middle">x coordinate (px)</text>
<text x="1416.0" y="1199.0" class="dj" font-size="25.2" text-anchor="middle" transform="rotate(-87.2 1416.0 1199.0)">y coordinate (px)</text>
<text x="1403.0" y="824.7" class="dj" font-size="25.2" text-anchor="middle" transform="rotate(90 1403.0 824.7)">frame number</text>
<defs><clipPath id="ctl"><rect x="452" y="112" width="451" height="439"/></clipPath><clipPath id="ctr"><rect x="1455" y="109" width="451" height="439"/></clipPath></defs>
<g fill="none" stroke-linecap="round" stroke-width="3" clip-path="url(#ctl)">
<path stroke="#ff1c0c" d="M512.5 164.5h0M504.5 165.5h0M508 167h0M515.5 164.5h0M502.5 163.5h0M512.5 165.5h0M501 169.5h0M503.5 175.5h0M511.5 166.5h0M505 163h0M505.5 164.5h0M508 162h0M538 177.5h0M557.5 163.5h0M533.5 175.5h0M551.5 164.5h0M540 166h0M536 166.5h0M554.5 174.5h0M560.5 170h0M544 164.5h0M544 162.5h0M531.5 174.5h0M556 175.5h0M555 172h0M539.5 171h0M542 163.5h0M532.5 161.5h0M545 171.5h0M541.5 179h0M546.5 174h0M554 165.5h0M530 175h0M540 178.5h0M547.5 176.5h0M550.5 158h0M550.5 166.5h0M539.5 168h0M551 175.5h0M552.5 160.5h0M540.5 156h0M544 174h0M539.5 172h0M546.5 176.5h0M539 165.5h0M539.5 181h0M553 169.5h0M546.5 171h0M546.5 169h0M542.5 163h0M540 180.5h0M549 171h0M543.5 171h0M547.5 166.5h0M546.5 172h0M539.5 165.5h0M537.5 164h0M551.5 156h0M543 166.5h0M540.5 171h0M553.5 171h0M544 166.5h0M544 176h0M542 163.5h0M535.5 164h0M534.5 177h0M547.5 169h0M556 166.5h0M550.5 175h0M533.5 161h0M538 176h0M554.5 163h0M553 168h0M542 167h0M542.5 159.5h0M537.5 163h0M548.5 183h0M565.5 168.5h0M532 168h0M538 182.5h0M549.5 166h0M552 173.5h0M533 167h0M543 170.5h0M546 168.5h0M546.5 167h0M538.5 179.5h0M547.5 173h0M533 169.5h0M551 162.5h0M553 168h0M548 169.5h0M546.5 177.5h0M542 180h0M539 165h0M550.5 164h0M542 176h0M554 160h0M549 181.5h0M554 169h0M540.5 168.5h0M536.5 169h0M543.5 169.5h0M554 169h0M534 176.5h0M537 167.5h0M544 168.5h0M537.5 169h0M561.5 167h0M544 177h0M550.5 175h0M551.5 158.5h0M538.5 171h0M548.5 178h0M548.5 169h0M545.5 169h0M547 174.5h0M542.5 165.5h0M538.5 177h0M554.5 176.5h0M551.5 175.5h0M545 174.5h0M537 169h0M539.5 175h0M479 223h0M478 227h0M481.5 227h0M477.5 223h0M477.5 226h0M475.5 228.5h0M471.5 233h0M477 231.5h0M475.5 224.5h0M470 239.5h0M631 207h0M634 219.5h0M622.5 224.5h0M631 218.5h0M630 209h0M661 206.5h0M646.5 211.5h0M638 211h0M630 222h0M660 208.5h0M635.5 221.5h0M627 221h0M625 220.5h0M641.5 222.5h0M639 208.5h0M643 208.5h0M645.5 224h0M642.5 212h0M650.5 215.5h0M618.5 215.5h0M653 212.5h0M636.5 214h0M613 215h0M639.5 217h0M631.5 203.5h0M651 219h0M649 222.5h0M629 213h0M640 225.5h0M613 216.5h0M626 220h0M654 212.5h0M619 217.5h0M630.5 207h0M646 212h0M643 207.5h0M648.5 206h0M647.5 204h0M652.5 212h0M614.5 216.5h0M639 209.5h0M629 218h0M631 198h0M629.5 219h0M639.5 221.5h0M627.5 232h0M645.5 217h0M649.5 220.5h0M636 212h0M648.5 217.5h0M610 211.5h0M641 216h0M639 219.5h0M637.5 225.5h0M627 214.5h0M639.5 220h0M646 224h0M629.5 223.5h0M640.5 209h0M634.5 228.5h0M645 212.5h0M603.5 214.5h0M626 217.5h0M665.5 218h0M638.5 210h0M619.5 216h0M630.5 234.5h0M629.5 213h0M649.5 215h0M619.5 225h0M630.5 208.5h0M639.5 218.5h0M631 220.5h0M645 210h0M607 204h0M634 223.5h0M648.5 223h0M659 214h0M648 205.5h0M644 217.5h0M633.5 213.5h0M620.5 218h0M651.5 212.5h0M641.5 211.5h0M638 209.5h0M640 214.5h0M639 212h0M619.5 215.5h0M649 224.5h0M631 221h0M645 217.5h0M615 219.5h0M623 224h0M645.5 219h0M602.5 222.5h0M643.5 207.5h0M647.5 215.5h0M632.5 212h0M621.5 214.5h0M675 213.5h0M637.5 212h0M626.5 213.5h0M624 222h0M632 221.5h0M620.5 223h0M635 220h0M633 211h0M650.5 212h0M632.5 211h0M637.5 213.5h0M639 217.5h0M625.5 208.5h0M641 221h0M643.5 208.5h0M643 217.5h0M639 218h0M631 217.5h0M646.5 212h0M616.5 217h0M636.5 205h0M626.5 220.5h0M633 216.5h0M619 223h0M657.5 213h0M625 210h0M512.5 283h0M511 285.5h0M515.5 279.5h0M512.5 288.5h0M513 290h0M512.5 285.5h0M512 283h0M514.5 282h0M512 283.5h0M511 279.5h0M552 277.5h0M555.5 281h0M553.5 273h0M557 280.5h0M548.5 268h0M547.5 282.5h0M561.5 271.5h0M555.5 281h0M564 273h0M553 284.5h0M571.5 285h0M546.5 279h0M552.5 276.5h0M550 274h0M554.5 286.5h0M559.5 279h0M555 272.5h0M553 283.5h0M560.5 287.5h0M556.5 276.5h0M543.5 279h0M542.5 285h0M550 276.5h0M545 274h0M548 283h0M556.5 270h0M541 276h0M551 270.5h0M558.5 275.5h0M555.5 273.5h0M550.5 274h0M543.5 280h0M557.5 267h0M555.5 283h0M556.5 283.5h0M552.5 276.5h0M545.5 271.5h0M542 271.5h0M556.5 279.5h0M562.5 277.5h0M547.5 279h0M553.5 286.5h0M568.5 282h0M546.5 273.5h0M556 272.5h0M558.5 280.5h0M560.5 278h0M548.5 272h0M553.5 284h0M565.5 282h0M557 280.5h0M560.5 283.5h0M560.5 268h0M561.5 278.5h0M551.5 279.5h0M556.5 276.5h0M543 277h0M558.5 276.5h0M543.5 279h0M559.5 277.5h0M557.5 274.5h0M550 279.5h0M552 277.5h0M577.5 280.5h0M555.5 267.5h0M555.5 281h0M549.5 275.5h0M539 279.5h0M550.5 280.5h0M564 275.5h0M561.5 278h0M553 275h0M548.5 283.5h0M561 271h0M560.5 272.5h0M544 283h0M545.5 283h0M556 281.5h0M558 283h0M557 280h0M556.5 282.5h0M552 282h0M565 276.5h0M557.5 274h0M552.5 278h0M552 271.5h0M554.5 277.5h0M557 280.5h0M542 284.5h0M553.5 272.5h0M552 279h0M560.5 274.5h0M555.5 268h0M556 276h0M551.5 281.5h0M567 282.5h0M549 285h0M552.5 276.5h0M550.5 279h0M558.5 277.5h0M553 276h0M552 282h0M551 276h0M553 272.5h0M553 268.5h0M557.5 279.5h0M552.5 285h0M549 279.5h0M558 273.5h0M553 281.5h0M555 278h0M564.5 278h0M543 272.5h0M560.5 276h0M547 266h0M557 285h0M546 264.5h0M558 273.5h0M552.5 275h0M548.5 279h0M561 278.5h0M550.5 282.5h0M554 280h0M548 280h0M560 283.5h0M701 154h0M697 153.5h0M682.5 151.5h0M699 143.5h0M685 160.5h0M702 143.5h0M699.5 153h0M703 151.5h0M694.5 149h0M697.5 152.5h0M691 151.5h0M690.5 157.5h0M688.5 143.5h0M689 160.5h0M692.5 157.5h0M701.5 150.5h0M701.5 157h0M695.5 149h0M695.5 145.5h0M694 150h0M699.5 155.5h0M691.5 159h0M705 154h0M690.5 157h0M678 150h0M700.5 166.5h0M690.5 163.5h0M713.5 165.5h0M678.5 160.5h0M697.5 160h0M694.5 149.5h0M694.5 163h0M702.5 151.5h0M699 159h0M700 153.5h0M691 149h0M693 150h0M684.5 144.5h0M702.5 146.5h0M686.5 153h0M707 161.5h0M693 147h0M692 147.5h0M692 156.5h0M688 148.5h0M694 153.5h0M690.5 148.5h0M687.5 148.5h0M700 152h0M673 157.5h0M695.5 148h0M694 134h0M683.5 161h0M712 167.5h0M690.5 154h0M702 145.5h0M709 149h0M698.5 146h0M698.5 153.5h0M704 146h0M696 165.5h0M687 156h0M699.5 150.5h0M694 162.5h0M704.5 157h0M698 146h0M696.5 165h0M704 144.5h0M680.5 149h0M697 150h0M693.5 155.5h0M702.5 155h0M705.5 144.5h0M699.5 156.5h0M685 161.5h0M684 144h0M716 162h0M699 162.5h0M704.5 146h0M699.5 162.5h0M695 154h0M692.5 158.5h0M692 149.5h0M687 147.5h0M697.5 156.5h0M693 146.5h0M698.5 156h0M705.5 150.5h0M693 157h0M707.5 153h0M695.5 147.5h0M693 159.5h0M702.5 161h0M683.5 159h0M689 157.5h0M678 153h0M689.5 162h0M697 162h0M692.5 166.5h0M692.5 166h0M725 152h0M732 160h0M729 150h0M722.5 161.5h0M719.5 163.5h0M708 164h0M718 173h0M725 155h0M721.5 163h0M730 159h0M719 163.5h0M735.5 148.5h0M720.5 153.5h0M731.5 176h0M728.5 167.5h0M714.5 168.5h0M724.5 153.5h0M741.5 153.5h0M733 166.5h0M719 161h0M719 161h0M724.5 150h0M743 163h0M731.5 163.5h0M733 152h0M729 131h0M730 167.5h0M715 166h0M719.5 188h0M723.5 170h0M726.5 169.5h0M726 158h0M725.5 173.5h0M721.5 149h0M719 177h0M729 146.5h0M727.5 170h0M736.5 167.5h0M739.5 160h0M730 164.5h0M718.5 156.5h0M730 174h0M719 170h0M728 171.5h0M726 165h0M720 159h0M728 155.5h0M722.5 162.5h0M723 171h0M720 156h0M728 159h0M728.5 158.5h0M733 162.5h0M715.5 165.5h0M741.5 149h0M724 162h0M726.5 176.5h0M729 148h0M726 171.5h0M727.5 163.5h0M712.5 180.5h0M722.5 146h0M730 166h0M728 166h0M731 177.5h0M718.5 169h0M723 144.5h0M734 160.5h0M712 156.5h0M719.5 164.5h0M727 155h0M718 166.5h0M719 160.5h0M717.5 163h0M734.5 170.5h0M730.5 168h0M720 157h0M724 165.5h0M719.5 165.5h0M720.5 160.5h0M728.5 151.5h0M731 164.5h0M726 161.5h0M716.5 145h0M716.5 168h0M719.5 165.5h0M721.5 152h0M719 169.5h0M715.5 156.5h0M727 163.5h0M722.5 168h0M730 153.5h0M731.5 156.5h0M718.5 173h0M735.5 179.5h0M730 156h0M715 174h0M731.5 150.5h0M733 170h0M732 168h0M714 150.5h0M724.5 160h0M736.5 159h0M724.5 161h0M727.5 152.5h0M725.5 137h0M727.5 160.5h0M729.5 153h0M728 153.5h0M717.5 162h0M727 168h0M726 158h0M745.5 147.5h0M740.5 145h0M743 146.5h0M739.5 148.5h0M736.5 145h0M742.5 147h0M873.5 143.5h0M880.5 147h0M866 146.5h0M881 148.5h0M887 138.5h0M880 148h0M882.5 141h0M872 147h0M879 138.5h0M880.5 148h0M882.5 134.5h0M881 143.5h0M876 152h0M887 148.5h0M878 154.5h0M874 147h0M876 143h0M879.5 158h0M880 150.5h0M878.5 153.5h0M879.5 143.5h0M879 155h0M878 154h0M878.5 158h0M880 151h0M877 152h0M877.5 140.5h0M880 142h0M886 152h0M878.5 151.5h0M865.5 155.5h0M875.5 151h0M891.5 139.5h0M876.5 149.5h0M881 139.5h0M874 155.5h0M875.5 150.5h0M871.5 143.5h0M869.5 149h0M884.5 148.5h0M877.5 149h0M881 146.5h0M881.5 157.5h0M890 145h0M872.5 157.5h0M883.5 154h0M881.5 146.5h0M883.5 153.5h0M884.5 142.5h0M884 146h0M877 149.5h0M877 159.5h0M881.5 149h0M877.5 149h0M877.5 151h0M883 152h0M872.5 146h0M879 141.5h0M880.5 147h0M879 150h0M875.5 155.5h0M884 145h0M881 151.5h0M875 146h0M882 135h0M872 149.5h0M882 143h0M883 159h0M879.5 147.5h0M879 143h0M881.5 149h0M882.5 155h0M879 149h0M880.5 156.5h0M871.5 148h0M875.5 148.5h0M883 148h0M882.5 149h0M875 144.5h0M871.5 149h0M876.5 152h0M883.5 143.5h0M873 151h0M874 149h0M881.5 146h0M887.5 144h0M881 146h0M775.5 180.5h0M778.5 183h0M778.5 179h0M778 180h0M779.5 180h0M770 211h0M782.5 206.5h0M784.5 210.5h0M779.5 201h0M784.5 213.5h0M774.5 203h0M776 214h0M778.5 199.5h0M788 211.5h0M782 210h0M780.5 208.5h0M785 211.5h0M779 209h0M789.5 204.5h0M775 209h0M776 226.5h0M784 212.5h0M783 222h0M776.5 208h0M773.5 217h0M781 220.5h0M780 201h0M778 214h0M777.5 210h0M778 203h0M778.5 219.5h0M776.5 210.5h0M785 203h0M774.5 218.5h0M789 206.5h0M775.5 214.5h0M781 202.5h0M779.5 191.5h0M777.5 199.5h0M775 212h0M782.5 220h0M769 203.5h0M777.5 217.5h0M786 209h0M781.5 203h0M779 205h0M769.5 221.5h0M784.5 223h0M786.5 211.5h0M785 196h0M776.5 214h0M779.5 196.5h0M781 199h0M781 219h0M776 205h0M783.5 208h0M782 202h0M779.5 191h0M780.5 217h0M776 207h0M784.5 216.5h0M786.5 202h0M779 220.5h0M779 210h0M777.5 203.5h0M767.5 204h0M771 201h0M776.5 217.5h0M784.5 211h0M778.5 198h0M783.5 202h0M780.5 214.5h0M780 208h0M776.5 215.5h0M783.5 213h0M788.5 196.5h0M781 212.5h0M782.5 210h0M783 197h0M780.5 216.5h0M797 200.5h0M801.5 193.5h0M799 208.5h0M796 198h0M800 199.5h0M793 202.5h0M789 204.5h0M791 199h0M801 201.5h0M798.5 208h0M805 211h0M794.5 206h0M789 205h0M804 198.5h0M799.5 205.5h0M796.5 198.5h0M805 195.5h0M798 206h0M798.5 209h0M804.5 203.5h0M806 205h0M791 200h0M798.5 202.5h0M788.5 212h0M789 196.5h0M799.5 202.5h0M805 202.5h0M799 205h0M793.5 195.5h0M795 206h0M795.5 207.5h0M816.5 210.5h0M820 211h0M820 206.5h0M817 214.5h0M819.5 208.5h0M823.5 198h0M814.5 204.5h0M827.5 197h0M813.5 197.5h0M817.5 196.5h0M815 209h0M813 205h0M812.5 203.5h0M823 189.5h0M820 206.5h0M819.5 207h0M822.5 195h0M819 210h0M827.5 194.5h0M816 194.5h0M819.5 196.5h0M814 210.5h0M833.5 189h0M830 198h0M824 207.5h0M827.5 203.5h0M815 204.5h0M824.5 198h0M822.5 205h0M821 205h0M823.5 211h0M818 202h0M807 198h0M810.5 210h0M813.5 199.5h0M823 212.5h0M827 198.5h0M821.5 213h0M814.5 203h0M812.5 200h0M824 205.5h0M817.5 200.5h0M829 210.5h0M812.5 221.5h0M817.5 203.5h0M817 200.5h0M823.5 194h0M820 202.5h0M830.5 208h0M822.5 209h0M823.5 206h0M805 208h0M818 210h0M821.5 201h0M814.5 197h0M821.5 204h0M814.5 202h0M822 200h0M819 200.5h0M804 205.5h0M820 211h0M827.5 199.5h0M884 257.5h0M888.5 251.5h0M889 258h0M883.5 260h0M881.5 255h0M886.5 254.5h0M887.5 261h0M883.5 256.5h0M879.5 252h0M889 251.5h0M883 257h0M878.5 253h0M879.5 264h0M884.5 261h0M891.5 259.5h0M888.5 254h0M879.5 261.5h0M889 251.5h0M888 257h0M886 259.5h0M891 253h0M882.5 261h0M881.5 258h0M882.5 249h0M880 259.5h0M880 249.5h0M880.5 256h0M885 257h0M885 251.5h0M880 252.5h0M880.5 257.5h0M888.5 255h0M887.5 260h0M877.5 252.5h0M883.5 250.5h0M891 248.5h0M877 259h0M879.5 258.5h0M878.5 260h0M880 258.5h0M887 250h0M878.5 249h0M877.5 259.5h0M882.5 259h0M889 260h0M886 254h0M881 257h0M886.5 260h0M884 254.5h0M882.5 262.5h0M884 264h0M879.5 259.5h0M883.5 259h0M879.5 257h0M882.5 254.5h0M877.5 250h0M881 258h0M884 257h0M884 250.5h0M887.5 256h0M879.5 253.5h0M887 256.5h0M875.5 264h0M876 262.5h0M886.5 252h0M888.5 261h0M887.5 258.5h0M884 256.5h0M880.5 257h0M888.5 255.5h0M891.5 249.5h0M883 250h0M875 257h0M881.5 253.5h0M878 255h0M704 260h0M703 265h0M701.5 277h0M706 257.5h0M704 266.5h0M700.5 272h0M698 250h0M693.5 265h0M694 263.5h0M690.5 265h0M698.5 256h0M696.5 260.5h0M706 264h0M699 263.5h0M706 265.5h0M711.5 257.5h0M705.5 263h0M696 266.5h0M705.5 269h0M703.5 256h0M701.5 265h0M711 263h0M701.5 273h0M700.5 259h0M702 267.5h0M701.5 250.5h0M697.5 269.5h0M695.5 268h0M701.5 257h0M705.5 247.5h0M687 251.5h0M703.5 260.5h0M704.5 261.5h0M701 258.5h0M697.5 269h0M705 253h0M704 276.5h0M705 255.5h0M705 264h0M698 269h0M708 258.5h0M701 259.5h0M700.5 273.5h0M697.5 266h0M702 263h0M693 266.5h0M693 267.5h0M699.5 263h0M697.5 256.5h0M693.5 262.5h0M699.5 264.5h0M698.5 267.5h0M701 263h0M698.5 262h0M704.5 257.5h0M692.5 265h0M739 261h0M736 253.5h0M725.5 263h0M733.5 254.5h0M737.5 249.5h0M746 253h0M728.5 256.5h0M721.5 262h0M716.5 262.5h0M736.5 259.5h0M733.5 253h0M715.5 257h0M745.5 261.5h0M719.5 274.5h0M742 266.5h0M746 267.5h0M718.5 265h0M729.5 274h0M741.5 260h0M730.5 249.5h0M735 256.5h0M749 263.5h0M734 259.5h0M745 256.5h0M746 261h0M732.5 264h0M750.5 249h0M743 264.5h0M734 270.5h0M742 263.5h0M726 266.5h0M723 266.5h0M755 252.5h0M749 252.5h0M736.5 265.5h0M721.5 266h0M727 259h0M743 259.5h0M739 261h0M740.5 270h0M736 259.5h0M736 265.5h0M737 248h0M734.5 264h0M759.5 253.5h0M731 255h0M732.5 251.5h0M726.5 262.5h0M720 262.5h0M729.5 270h0M752.5 271h0M737 265h0M757.5 253.5h0M750.5 253h0M743.5 250.5h0M731 261h0M730.5 250.5h0M736 259.5h0M750 262.5h0M714 266h0M745 259h0M726.5 254.5h0M730.5 256.5h0M732 260h0M746.5 253.5h0M737 254.5h0M738.5 267h0M728 255.5h0M735.5 261.5h0M729 265h0M736.5 265.5h0M722.5 268h0M746.5 254.5h0M754.5 259.5h0M721 257.5h0M727 259h0M733 263.5h0M732.5 260h0M723.5 251h0M726.5 255.5h0M741 245.5h0M743 242.5h0M733 262h0M723 257.5h0M742.5 253.5h0M734 262h0M740 253h0M801 289h0M800.5 286.5h0M800.5 289h0M800 288h0M800.5 289h0M791 326.5h0M801.5 323.5h0M790.5 318.5h0M804.5 329h0M801 306h0M777 330.5h0M798 327.5h0M797 316h0M796 317.5h0M803.5 324h0M786 312.5h0M800 324h0M795 320.5h0M784 312h0M796.5 305h0M796.5 322h0M797.5 324h0M806.5 320h0M787 306h0M777 318.5h0M799 306.5h0M794 313h0M791 319.5h0M793 309.5h0M798.5 317h0M779.5 323.5h0M804 315.5h0M804 307h0M791 327h0M802 321.5h0M800.5 315h0M798 325h0M799.5 320.5h0M799 321h0M797 307h0M797 311.5h0M790.5 318.5h0M794.5 309h0M789 319.5h0M790 318h0M794.5 319.5h0M789 319.5h0M797 309h0M798.5 311h0M795.5 322.5h0M797.5 309.5h0M786.5 309.5h0M797 319h0M780 323h0M801.5 314.5h0M792.5 320h0M786 315h0M797 315.5h0M793 319h0M805 320h0M795.5 314.5h0M801.5 318.5h0M792.5 327.5h0M802.5 311.5h0M790.5 327h0M789.5 329h0M792 331.5h0M786 304.5h0M782.5 332h0M788 315h0M789 313h0M794 319h0M788.5 314.5h0M802.5 324.5h0M800 326.5h0M791.5 324h0M804.5 312h0M802.5 300.5h0M779.5 307.5h0M786 311h0M789.5 323.5h0M787.5 315.5h0M783.5 306.5h0M791.5 312.5h0M799 319h0M780 323h0M784.5 315h0M785.5 312h0M788.5 309.5h0M787.5 316h0M798 323h0M805.5 306.5h0M790 326.5h0M785 316.5h0M798 328.5h0M797 320h0M791.5 322h0M793.5 320.5h0M788 317h0M786.5 310h0M787 312h0M788 314h0M782 320h0M795 328.5h0M776 308h0M786 311.5h0M793 312h0M787.5 323h0M791.5 306.5h0M799.5 333.5h0M800.5 316.5h0M802.5 317.5h0M790.5 319.5h0M802 318.5h0M790.5 308h0M794 310.5h0M792 308h0M806 300h0M806.5 299.5h0M812.5 305.5h0M807.5 300h0M812 302.5h0M810.5 306h0M807.5 304.5h0M810 302h0M808 301h0M798.5 302h0M813.5 306h0M817 303.5h0M811.5 301h0M806.5 300.5h0M810 305.5h0M803 305h0M811.5 305.5h0M805 303.5h0M830 301h0M822 320.5h0M824.5 305.5h0M817.5 305h0M835.5 310.5h0M823.5 308.5h0M830 311.5h0M822.5 310h0M824.5 305.5h0M823.5 303.5h0M831 298.5h0M829 323h0M823 306.5h0M827.5 316.5h0M820.5 311h0M827.5 319h0M827 319h0M823 310h0M822 305h0M821.5 306h0M836.5 305h0M841.5 317h0M830 308h0M830 304h0M831.5 308.5h0M817.5 308.5h0M831.5 308.5h0M830 308h0M825.5 314h0M836 306.5h0M832.5 302h0M835 303.5h0M828.5 313.5h0M825.5 308.5h0M833.5 305h0M830 314h0M829.5 304h0M826 306.5h0M828 311.5h0M819.5 307.5h0M829 316.5h0M820 303.5h0M833 308h0M834 308h0M824.5 308h0M835 312h0M829 309h0M834 311.5h0M829.5 312h0M828.5 302h0M833 314.5h0M835.5 307.5h0M821.5 310.5h0M825 298h0M829 304h0M828.5 305.5h0M832.5 312.5h0M831 314.5h0M825 321h0M819 312h0M833.5 306h0M828.5 301.5h0M474.5 335.5h0M463 328h0M470.5 330.5h0M471 335.5h0M474 342.5h0M479.5 329.5h0M472.5 334.5h0M471.5 330h0M474.5 337h0M469.5 333h0M469.5 330h0M471 326.5h0M481.5 333.5h0M478 337h0M477.5 328h0M472.5 330.5h0M472.5 332.5h0M477.5 335h0M484.5 327.5h0M478 329h0M481.5 328.5h0M473.5 332.5h0M473.5 331h0M482.5 340.5h0M472.5 329.5h0M468 338.5h0M468.5 332.5h0M477 334h0M481 336.5h0M469 333h0M468 331h0M469.5 331.5h0M473.5 326h0M475.5 317h0M472 323.5h0M468.5 329h0M477 335h0M471 331.5h0M468 332.5h0M469.5 332.5h0M478.5 336.5h0M465 326h0M476.5 338h0M472.5 338h0M466 331h0M469 324h0M463 322h0M472.5 338h0M470.5 331.5h0M473.5 327h0M469 334.5h0M475 334h0M478.5 339h0M476.5 330.5h0M477.5 319h0M473 328.5h0M484 327.5h0M479.5 332h0M478 326h0M471.5 322.5h0M481 336h0M480 333h0M468 339h0M479 341h0M479 334h0M481.5 331h0M466.5 333.5h0M471.5 345h0M635 316.5h0M629 325h0M646 325.5h0M628 335h0M640.5 328.5h0M631.5 324.5h0M648.5 330h0M659 308h0M625 323.5h0M629 321.5h0M640.5 333h0M627.5 330h0M640 325.5h0M644 331.5h0M630.5 326.5h0M635 316.5h0M634.5 332h0M637 324.5h0M650.5 326.5h0M639.5 318h0M641.5 320.5h0M633.5 322.5h0M628 330h0M628.5 331.5h0M631.5 334h0M638 332.5h0M629 330h0M639.5 326h0M633.5 321h0M616.5 331.5h0M626.5 319h0M634 306.5h0M631.5 330.5h0M635 323.5h0M630.5 327h0M625.5 322.5h0M638.5 318h0M633.5 322.5h0M625.5 313h0M629 320.5h0M629 325.5h0M637.5 329h0M635.5 316.5h0M643.5 326h0M637.5 315.5h0M644 339.5h0M639 332h0M631.5 326.5h0M635.5 329.5h0M636 326.5h0M628 318h0M638 342h0M630 329.5h0M642 319h0M626 329h0M633.5 319h0M644.5 328h0M633.5 315.5h0M643.5 331.5h0M641.5 335h0M627.5 319.5h0M640.5 327h0M634 321.5h0M641 325.5h0M638.5 316.5h0M636 328h0M639 312.5h0M633 320.5h0M635 324h0M638.5 330h0M636.5 324h0M642 333.5h0M634.5 319.5h0M646.5 329.5h0M647 320h0M632.5 324h0M632.5 315h0M638 314h0M618.5 327.5h0M629 328h0M626.5 317h0M621.5 318.5h0M636 340h0M638 320h0M643 325.5h0M622 315h0M625.5 322.5h0M523 390h0M523.5 391.5h0M522 388.5h0M523 388.5h0M522.5 389h0M561.5 387h0M568.5 380.5h0M570.5 378h0M558.5 385h0M572 370h0M551.5 388.5h0M560.5 392.5h0M561.5 376.5h0M560 377h0M569 384.5h0M574 382.5h0M566.5 388h0M562.5 373.5h0M569 372h0M554.5 376h0M551.5 374h0M552.5 382h0M554 384h0M567 377h0M569 386h0M563.5 391.5h0M562.5 381.5h0M569.5 387.5h0M558 391h0M560 384h0M549 372.5h0M573 381.5h0M553.5 381h0M555 386h0M575.5 373.5h0M554.5 392h0M552.5 377h0M565.5 380h0M566 384.5h0M563 367.5h0M567.5 387h0M568 372h0M548 383h0M565 379h0M567.5 377.5h0M551.5 380.5h0M564 387h0M569.5 371h0M565.5 379.5h0M552 380h0M572 373.5h0M564 384.5h0M567.5 384h0M556.5 382.5h0M565.5 382.5h0M553 375.5h0M571 383h0M568.5 377.5h0M550 386.5h0M577 375.5h0M560 372.5h0M561.5 389h0M565 380h0M573 380.5h0M566 379h0M569 385.5h0M561.5 374h0M561 381h0M569.5 386.5h0M561.5 379.5h0M569 381.5h0M559.5 387h0M565.5 383h0M547.5 377h0M548.5 378.5h0M572 383h0M559 394h0M553.5 382h0M573 367h0M570 383.5h0M572 381h0M569 388.5h0M563 382.5h0M564.5 378.5h0M565.5 388.5h0M575.5 379h0M561 379.5h0M559.5 381.5h0M560 383h0M565 388h0M552.5 385h0M567 376.5h0M562 386h0M559.5 377h0M566 384.5h0M555 392.5h0M554 391.5h0M555.5 388h0M566 387h0M561.5 380h0M559 385.5h0M564 387h0M569.5 386.5h0M568 380h0M564.5 385h0M564 372h0M564.5 378.5h0M567.5 384.5h0M550.5 388.5h0M564.5 369h0M564.5 381h0M562 388.5h0M569 378.5h0M576.5 384h0M567 385.5h0M574 387.5h0M570.5 382.5h0M566 385h0M573 375.5h0M559.5 377h0M578.5 370h0M558.5 380.5h0M572 379h0M550.5 390h0M575 374.5h0M572.5 396h0M561 381.5h0M574.5 392h0M561.5 372h0M561.5 381h0M476 442.5h0M469 442h0M460.5 463.5h0M461 450h0M481.5 445.5h0M477.5 450.5h0M466.5 434.5h0M484.5 430h0M486.5 432.5h0M474.5 443.5h0M471 453.5h0M492 437h0M474 450h0M485.5 439h0M473.5 460.5h0M468.5 447.5h0M478 444.5h0M468 444.5h0M467.5 453.5h0M466.5 461.5h0M481.5 441h0M475 440.5h0M475 451.5h0M477.5 453.5h0M485.5 439.5h0M471.5 443.5h0M472 442.5h0M472.5 446h0M476 452.5h0M467.5 448.5h0M485.5 437h0M477.5 439h0M482.5 446.5h0M477.5 446h0M486.5 438h0M481 432h0M460.5 453.5h0M477 439.5h0M467.5 464.5h0M484 433.5h0M469.5 447h0M483 441h0M481.5 448h0M466.5 446.5h0M476 444.5h0M478 445.5h0M470.5 460.5h0M464.5 458.5h0M481.5 445h0M475 440.5h0M470.5 441.5h0M474.5 445h0M470 465h0M473.5 450.5h0M485.5 435.5h0M470 444h0M468.5 447.5h0M477.5 448.5h0M482.5 448h0M479.5 442.5h0M454 466h0M473.5 438h0M473.5 443h0M474.5 446h0M474 446.5h0M479.5 443h0M474.5 452.5h0M477.5 445.5h0M494 437.5h0M491 428.5h0M480.5 443.5h0M476.5 443.5h0M485.5 442.5h0M490 427.5h0M477 439h0M467 439h0M486 424.5h0M471.5 438.5h0M470.5 444h0M458 456h0M474 446h0M464.5 460.5h0M470.5 443.5h0M484.5 432h0M482.5 448h0M476 444h0M481.5 436.5h0M476 443.5h0M476 450h0M482.5 447.5h0M474.5 437.5h0M478 441h0M477.5 449.5h0M474 436.5h0M490 430h0M463.5 455h0M476 437.5h0M464.5 445h0M476.5 441h0M487.5 435h0M476 441h0M478.5 433.5h0M479.5 444.5h0M467 446.5h0M490 442.5h0M484.5 448h0M478.5 441h0M469.5 443.5h0M481 436.5h0M472.5 450.5h0M477 439h0M477 443h0M657 439h0M645 419.5h0M648.5 418h0M645 417.5h0M635 414h0M657 420.5h0M638 432.5h0M647 422.5h0M641.5 425h0M645.5 422h0M647 430.5h0M646.5 434.5h0M657 418h0M639.5 416h0M641.5 430h0M645 421.5h0M649 409.5h0M651 423.5h0M654.5 423h0M657.5 432.5h0M645.5 429h0M640 420h0M638.5 423.5h0M637 417.5h0M646 414.5h0M653.5 418.5h0M646 423h0M657.5 429h0M646 421h0M656 424h0M638.5 426h0M654 424.5h0M648.5 435.5h0M643.5 430.5h0M662.5 437h0M637.5 428.5h0M649.5 442h0M660 432h0M659 429h0M639 440.5h0M633 430.5h0M655.5 426.5h0M657.5 425h0M655.5 426.5h0M641.5 432h0M643 429.5h0M639 426.5h0M653 433h0M638.5 421h0M648 417.5h0M654 441.5h0M654.5 429.5h0M641 429h0M653 439h0M645 433.5h0M645 423h0M644.5 427h0M634.5 422.5h0M662 412h0M656.5 430.5h0M644.5 419.5h0M658.5 422.5h0M651 423.5h0M638 432.5h0M654.5 418.5h0M658.5 416h0M636.5 431h0M644.5 425h0M663 417.5h0M654 422h0M649 423.5h0M641 425.5h0M640 425h0M639.5 423h0M649.5 415h0M648 430h0M649.5 431.5h0M639.5 429h0M651 405.5h0M648.5 431h0M647.5 425.5h0M647 424h0M639 420h0M628.5 440h0M648 426.5h0M654 428.5h0M647.5 414h0M637.5 437h0M652 429.5h0M639 421.5h0M650.5 419.5h0M659 419.5h0M644.5 417h0M651.5 434h0M650.5 425h0M645 430.5h0M648.5 437.5h0M646 422.5h0M643.5 411.5h0M650.5 426h0M634 417h0M638.5 423h0M639 430.5h0M659 420.5h0M648.5 417.5h0M660.5 417.5h0M641 425h0M641 444h0M646.5 423.5h0M639.5 424.5h0M643 422h0M657.5 421h0M531 508h0M530 504.5h0M528 507h0M532 506.5h0M529.5 508h0M529.5 503h0M572 482.5h0M562.5 484.5h0M581.5 480h0M570 474.5h0M575.5 479h0M579.5 486.5h0M579.5 481h0M562.5 485.5h0M570 478.5h0M578.5 482h0M567 479h0M571 479.5h0M566 486h0M572 483h0M578.5 489h0M576.5 477.5h0M570.5 483.5h0M581.5 474.5h0M583 478h0M571.5 478.5h0M576 479.5h0M572.5 476.5h0M580.5 481.5h0M572.5 488.5h0M576 485.5h0M571 481h0M572 483.5h0M574.5 473.5h0M576 479.5h0M574 484h0M571 483h0M573 480h0M570 480h0M571 483.5h0M560 482.5h0M572.5 476h0M577 480h0M576 485.5h0M574 474h0M564 480h0M566 489h0M572 473h0M561 478h0M559.5 482h0M560 483.5h0M570 484.5h0M566.5 478.5h0M578.5 474h0M576.5 486h0M567.5 479.5h0M582 486h0M581.5 480h0M570.5 479.5h0M570.5 483.5h0M577.5 482.5h0M569 483.5h0M575.5 481h0M579.5 479h0M573.5 484.5h0M568.5 484h0M577 486h0M580 478h0M574 492h0M557.5 499h0M561.5 494.5h0M571 498.5h0M566 490.5h0M576 496.5h0M572 497.5h0M568 501h0M568 504h0M558.5 489.5h0M563 498.5h0M567.5 497.5h0M568 499h0M565 501h0M566.5 493.5h0M555.5 502.5h0M569.5 502h0M571.5 497h0M570.5 493h0M564.5 505h0M558 500.5h0M557 494.5h0M574 485.5h0M574 492.5h0M558 492h0M567 500.5h0M566.5 492.5h0M574.5 495.5h0M569 499.5h0M567.5 495.5h0M565.5 494h0M564.5 493h0M556 498h0M563 495h0M562.5 496h0M568 506h0M569.5 501h0M572 500h0M568.5 501h0M570.5 495h0M563.5 498.5h0M565.5 500.5h0M561.5 497h0M567 500h0M562 491.5h0M565 502.5h0M566 504.5h0M561.5 498h0M571.5 502h0M565.5 505.5h0M566.5 499.5h0M576.5 498.5h0M563.5 498h0M562 505h0M570 506h0M571.5 495.5h0M561 498h0M571.5 495h0M573.5 501.5h0M573.5 496h0M567 490.5h0M567 497.5h0M662.5 520h0M656 520.5h0M652 527h0M657 531h0M664 528.5h0M656.5 516h0M662 522h0M659.5 510h0M662 528h0M655.5 514h0M662.5 523h0M668.5 520.5h0M654.5 530h0M665.5 525h0M659.5 527h0M643 523h0M665.5 527h0M662.5 521.5h0M657 521h0M662.5 512h0M663.5 527.5h0M644 518h0M652.5 525h0M661 518.5h0M662.5 518h0M650.5 531.5h0M657.5 519.5h0M643.5 517h0M653.5 528.5h0M650.5 519.5h0M655 527h0M665 525.5h0M656 531h0M669.5 519.5h0M668.5 526h0M659.5 517.5h0M663 522.5h0M668 531h0M658.5 521h0M666.5 519h0M651.5 527.5h0M662 512.5h0M673.5 525h0M652 526.5h0M662.5 523.5h0M662 524.5h0M653.5 523.5h0M659 524.5h0M673 520h0M653 527h0M675 525h0M670 517.5h0M664 521h0M651.5 526h0M654 518.5h0M657 521h0M658.5 526h0M652 526h0M661.5 522.5h0M660.5 522h0M644.5 518.5h0M654.5 522.5h0M651.5 522h0M659.5 530.5h0M659.5 526h0M663.5 521h0M664 517h0M655.5 518h0M659.5 526.5h0M653 524.5h0M657 523h0M656.5 524.5h0M651 526.5h0M667.5 513h0M662.5 517h0M709.5 377.5h0M707.5 382.5h0M708.5 371.5h0M712 384h0M708 372h0M707.5 381.5h0M708 375h0M701.5 376h0M712.5 385h0M700 379.5h0M697 370h0M712.5 362h0M715 378h0M708.5 374.5h0M707.5 378.5h0M709.5 377.5h0M703.5 364.5h0M699.5 378.5h0M701.5 368h0M712 375.5h0M711 380.5h0M708.5 373h0M707 383.5h0M701 372.5h0M703.5 382h0M706.5 373.5h0M708 368h0M708 370h0M704.5 374.5h0M711.5 382.5h0M706.5 383h0M711.5 371h0M699 370.5h0M715 392h0M705.5 376.5h0M703 380.5h0M710.5 380h0M719.5 375.5h0M701.5 377h0M698.5 376.5h0M703 385.5h0M697.5 385h0M701.5 366.5h0M714 380.5h0M713.5 369h0M710 374.5h0M713 371.5h0M708 366.5h0M699 371h0M701 368.5h0M704.5 371.5h0M700 380.5h0M713 375h0M707 373h0M700 367h0M710 360.5h0M698 372h0M701 379h0M700.5 374.5h0M703.5 367.5h0M702 381h0M697.5 366.5h0M704 365.5h0M706 375.5h0M708 376h0M703.5 376.5h0M698.5 381.5h0M699 384.5h0M705 382.5h0M707 378.5h0M703 375h0M710 377.5h0M695 361h0M709 379h0M711 370.5h0M713.5 334h0M706 363.5h0M718.5 367.5h0M721 370.5h0M706 364h0M704 371.5h0M709 360h0M717 381h0M706.5 375.5h0M707 365h0M703.5 363.5h0M717 387h0M741.5 366.5h0M749.5 361h0M746 359.5h0M746.5 369h0M750.5 371h0M750.5 362.5h0M730.5 361.5h0M735.5 369h0M743 379.5h0M746.5 368h0M743.5 366h0M747 370.5h0M745 370.5h0M753 364.5h0M748.5 367h0M752.5 367.5h0M746.5 371.5h0M751.5 365h0M737.5 377h0M746 369.5h0M744 365.5h0M735.5 370h0M742.5 370h0M741.5 368h0M748.5 365.5h0M740 370.5h0M740 364h0M735 366.5h0M736 360h0M732.5 368.5h0M740.5 367.5h0M745.5 361.5h0M754 365h0M727 373h0M737 371.5h0M753 357.5h0M742.5 363h0M734 373.5h0M748 362.5h0M738.5 363.5h0M738.5 368h0M743 370.5h0M744.5 366.5h0M744.5 369.5h0M745 360.5h0M742.5 369.5h0M736 363.5h0M734.5 365h0M741.5 367h0M744 358.5h0M747.5 369h0M760.5 359.5h0M745.5 358.5h0M752.5 371h0M744 364h0M752 360h0M753.5 358.5h0M746.5 367h0M743.5 364.5h0M738 375h0M745 362.5h0M735.5 373.5h0M879 362.5h0M885 365h0M879.5 365.5h0M884.5 359.5h0M882.5 361.5h0M890.5 361.5h0M886.5 360.5h0M879.5 361h0M878.5 362h0M884 368h0M883 366.5h0M887.5 365.5h0M885.5 362.5h0M887 366.5h0M881.5 359h0M882.5 358.5h0M883 362h0M882 362.5h0M798 432h0M801.5 413h0M797 443.5h0M800.5 430.5h0M793 424.5h0M794 423.5h0M800 420.5h0M792.5 429.5h0M802.5 422h0M796 431h0M799 433h0M803 423.5h0M804.5 413.5h0M795 426h0M804 431h0M802 420h0M799 437.5h0M803 432.5h0M800 417.5h0M797.5 434h0M795.5 433.5h0M802 414h0M800 422h0M798.5 435h0M792.5 415h0M798 426h0M801 426.5h0M795 424h0M810 428.5h0M803.5 428h0M800.5 415.5h0M802 441.5h0M790.5 429.5h0M793 430h0M801 425h0M793.5 422h0M806 423.5h0M799.5 429h0M796.5 424h0M792 438.5h0M801 429.5h0M796.5 418.5h0M803 422h0M800 418.5h0M810.5 425h0M801 431.5h0M794 426.5h0M793 420h0M804 433h0M802 419.5h0M799 430.5h0M797.5 423.5h0M800.5 430.5h0M796.5 415.5h0M797 424.5h0M798.5 427h0M805 425h0M801.5 421h0M799 429h0M793.5 432h0M795.5 423.5h0M802.5 429h0M800 421.5h0M809 424.5h0M799.5 426h0M800 423.5h0M796.5 418.5h0M794 430h0M808 426.5h0M800 424h0M797.5 437.5h0M800.5 429h0M804.5 407h0M803 425h0M800 426h0M813.5 408.5h0M817.5 404h0M812.5 410h0M808.5 405h0M813 407h0M810.5 407h0M821.5 404h0M806.5 407h0M803.5 403h0M803 411.5h0M814 405h0M802 400.5h0M806.5 419h0M805 406h0M814 408.5h0M809.5 403.5h0M815 405h0M804.5 403h0M808.5 412.5h0M810 398.5h0M809.5 409.5h0M807 403.5h0M805.5 407h0M811 403.5h0M811.5 408.5h0M808 405.5h0M813.5 404.5h0M804.5 408.5h0M810.5 408h0M811.5 413h0M805 415h0M834.5 415h0M828.5 411h0M832 413.5h0M825 410.5h0M824 423.5h0M829.5 407h0M830 414.5h0M837 414.5h0M825 408.5h0M833.5 411.5h0M836 407.5h0M831 398.5h0M832 414.5h0M833.5 406h0M832.5 411h0M828.5 407.5h0M833.5 414.5h0M841 405h0M831 415.5h0M830.5 415.5h0M824 421h0M837 411.5h0M826.5 408.5h0M829 419h0M830.5 412.5h0M835 408.5h0M829.5 397.5h0M836.5 419.5h0M833.5 405.5h0M834.5 409h0M820 409h0M823.5 409h0M827.5 416h0M825.5 411.5h0M832 401.5h0M833 406.5h0M828 402h0M832.5 407h0M832 410.5h0M839 409h0M833 419h0M830.5 418h0M834.5 399.5h0M839 410h0M827.5 409h0M833.5 412h0M842 400.5h0M834 407.5h0M830.5 408h0M829 420.5h0M730.5 458h0M723.5 474h0M711.5 487.5h0M712.5 493h0M720 469.5h0M703 489.5h0M713 477.5h0M717.5 468.5h0M716 491h0M713.5 482.5h0M713 474h0M709 483h0M723 475.5h0M704.5 479h0M728.5 474.5h0M722 483.5h0M723.5 465.5h0M721 465h0M708 496h0M719.5 472h0M713.5 474.5h0M709.5 488h0M715.5 478h0M715 467h0M717 476.5h0M712.5 480h0M726.5 473.5h0M714 486h0M719 465.5h0M709.5 475h0M714 480h0M714 486.5h0M713.5 493h0M714.5 478h0M717 465.5h0M720 468.5h0M724.5 474.5h0M725.5 475.5h0M710 485h0M711 488.5h0M708.5 480.5h0M711.5 479.5h0M713.5 467h0M712 479.5h0M715 467h0M710 468h0M725 476h0M713.5 461.5h0M712.5 470.5h0M712.5 484h0M710.5 480.5h0M712 481.5h0M716.5 485.5h0M705 478.5h0M724 458.5h0M718.5 476h0M718.5 459h0M716 480.5h0M717.5 479h0M727 476.5h0M715.5 477.5h0M716.5 490.5h0M707.5 484.5h0M709 481.5h0M716.5 459h0M717.5 482.5h0M721.5 462.5h0M715.5 471h0M718 479.5h0M710.5 466h0M713.5 468.5h0M705 482.5h0M721 478h0M716.5 467.5h0M705.5 494h0M717.5 483h0M723 475h0M711 479h0M705 483.5h0M718.5 465.5h0M720.5 477h0M708 487h0M724.5 475.5h0M727 468.5h0M720.5 482h0M709 489h0M725 464.5h0M713 485h0M713 492h0M719.5 466.5h0M711 469.5h0M712 477h0M725 477.5h0M709.5 474h0M713 483h0M719 484.5h0M720 472h0M712.5 485.5h0M706.5 489h0M712 483h0M739 469h0M750.5 464.5h0M749.5 469h0M750 459h0M749 472h0M751 466.5h0M754 457h0M749.5 462.5h0M755.5 455.5h0M745 461.5h0M745.5 455.5h0M756.5 470h0M747 466.5h0M744.5 465h0M750.5 461h0M747.5 471h0M753.5 460.5h0M751.5 464h0M747 467h0M749 472.5h0M740.5 479h0M751.5 473.5h0M753.5 477.5h0M752.5 477.5h0M745 471h0M752 474.5h0M753 474h0M746.5 464.5h0M749 458.5h0M755.5 477h0M758.5 464h0M754 467h0M750.5 473h0M757.5 467h0M752 476h0M754 463h0M749 456h0M740 467.5h0M745 459.5h0M752 466h0M748 475h0M745 470h0M754 470h0M754 470h0M747.5 473h0M749 466h0M748.5 474.5h0M741.5 471h0M749.5 469.5h0M758 466.5h0M745.5 494.5h0M756.5 493h0M748.5 495.5h0M749 493.5h0M749 495.5h0M752 495.5h0M746.5 491.5h0M753.5 495h0M751.5 496h0M755.5 497.5h0M814 523h0M808.5 524.5h0M819 533.5h0M811 533.5h0M808 510.5h0M802 528.5h0M810.5 519h0M804 531.5h0M806.5 513.5h0M812.5 525.5h0M802.5 537.5h0M806 519.5h0M805 521h0M816.5 521.5h0M812.5 518h0M815 535h0M813 539h0M810 507h0M802.5 518.5h0M813 525h0M810.5 526h0M807 523.5h0M806 524h0M812.5 538h0M816 523h0M806.5 520.5h0M799.5 532h0M813.5 527.5h0M809 530h0M814 535h0M801.5 545h0M805.5 536h0M803.5 535h0M822.5 533h0M809 538h0M808.5 525.5h0M806.5 523h0M809.5 518h0M815 527.5h0M803 518h0M808.5 521.5h0M816.5 515.5h0M809 523h0M808 529.5h0M812 519.5h0M806.5 527.5h0M808.5 519.5h0M801 527h0M806.5 528.5h0M806 523.5h0M807.5 508.5h0M809 526.5h0M808.5 525h0M816 507h0M804 518.5h0M805 519.5h0M802.5 521h0M811.5 518h0M812.5 531.5h0M813 526h0M799 523h0M796.5 511h0M812 500h0M812.5 519h0M812.5 536h0M808.5 515.5h0M812 513h0M809 523.5h0M814.5 509h0M810 540h0M808 540.5h0M813.5 510h0M811.5 527h0M805.5 522h0M800 538.5h0M811.5 521.5h0M813.5 537h0M808.5 523.5h0M812 522.5h0M818 533h0M810 520.5h0M798.5 514.5h0M820 523.5h0M815 507h0M802.5 532h0M814.5 511.5h0M801 514.5h0M843.5 502h0M850 508h0M844.5 519h0M842.5 514.5h0M841.5 525h0M847.5 513.5h0M841 514h0M834 511.5h0M841 522h0M845 509h0M837 518h0M844.5 519h0M843 516.5h0M843.5 524.5h0M843 508.5h0M846.5 518.5h0M841.5 522h0M845.5 510h0M839.5 523.5h0M847 507.5h0M838.5 525h0M854 520.5h0M843 512.5h0M846.5 523h0M844.5 513.5h0M837 507h0M838.5 503.5h0M845 512h0M850.5 520h0M843 525.5h0M847 513h0M843.5 510.5h0M841 514h0M841.5 512h0M842 515h0M848.5 513h0M841.5 517.5h0M844 508h0M842 513.5h0M840 519h0M844.5 511h0M847.5 516.5h0M843 516h0M882 229h0M883 222h0M670.5 434h0M670.5 451h0M488 524h0M491 523h0M846.5 431h0M848.5 441.5h0M847 445.5h0M747 394h0M757.5 396.5h0M720.5 398h0M680.5 450.5h0M694.5 449.5h0M701 449.5h0M882 454.5h0M886.5 472h0M891.5 480.5h0M888.5 483.5h0M710.5 506h0M827 517.5h0M826 538.5h0M836.5 540h0M843 541h0M847 541h0M660 192h0M668 198h0M672 211h0"/>
<path stroke="#248a14" d="M489.5 182.5h0M481.5 174h0M495.5 179h0M493.5 174.5h0M472 175.5h0M482 173.5h0M492 171.5h0M494.5 173h0M485 175.5h0M492.5 177h0M483.5 174.5h0M478.5 184.5h0M634 157h0M640.5 164h0M633 153.5h0M645 155h0M642 156.5h0M639 151h0M644 157.5h0M630 165.5h0M641 173h0M641.5 157.5h0M638 165h0M638 160h0M642.5 155.5h0M639.5 156.5h0M628.5 160h0M643 159.5h0M633 149h0M642 158.5h0M626 156h0M627 156h0M639 160h0M640 159.5h0M630 155.5h0M634.5 156.5h0M640 161h0M652 150.5h0M641.5 158h0M654.5 165h0M626 157.5h0M634 161.5h0M630.5 156.5h0M637.5 157.5h0M635.5 150.5h0M641 163h0M638.5 154h0M639.5 161h0M637 158h0M649.5 155.5h0M635.5 150h0M633.5 154.5h0M631.5 154.5h0M651.5 160h0M636 167h0M569.5 218h0M568.5 216.5h0M567 220h0M579 221h0M569.5 214.5h0M573 221h0M566 216.5h0M572 225h0M575 222h0M570.5 222.5h0M572 229.5h0M566.5 219.5h0M578.5 220h0M579 221h0M572.5 219.5h0M565 217h0M583 223.5h0M575 225h0M575 225h0M570.5 220h0M577 219.5h0M565.5 220h0M569.5 223.5h0M568.5 217h0M570.5 227h0M572 221.5h0M572 222h0M576.5 226.5h0M564 226.5h0M572 219.5h0M584 220.5h0M581.5 225h0M567 223h0M575.5 220.5h0M560.5 219.5h0M571 216.5h0M581 220h0M513.5 281h0M493.5 284h0M517 274h0M491.5 279.5h0M491.5 289h0M501 277h0M650 272.5h0M647 275.5h0M655.5 274h0M646 267h0M649 270.5h0M645.5 274.5h0M656 271h0M657 270.5h0M643 270.5h0M648 274h0M655.5 270h0M655 266h0M650.5 277h0M653.5 274.5h0M636 268h0M645.5 276.5h0M659 266h0M642.5 269h0M644.5 274.5h0M649.5 278.5h0M653.5 267h0M651 270h0M655.5 273h0M648.5 275h0M653 269.5h0M652 273h0M647 269h0M657.5 269h0M646.5 273.5h0M640.5 273.5h0M641 271.5h0M638 271h0M655 269h0M644 279.5h0M647.5 277.5h0M645 266.5h0M660.5 266.5h0M806.5 146h0M824.5 157h0M815 149h0M811.5 151h0M811 136.5h0M808 149h0M809.5 155.5h0M823.5 154.5h0M820.5 155.5h0M818 154h0M819 153.5h0M811 144.5h0M811 153.5h0M819.5 144h0M811 145h0M821.5 148h0M815.5 144.5h0M816 158.5h0M813 146.5h0M826 153h0M810.5 155h0M809.5 152h0M802.5 142.5h0M821.5 145h0M812.5 149h0M816.5 146h0M813 159.5h0M825 150.5h0M810.5 145.5h0M815 151.5h0M825.5 145.5h0M843 148.5h0M848 147h0M841.5 144h0M849.5 148.5h0M862 155h0M842 157h0M849.5 156h0M842 156.5h0M855.5 150h0M843.5 150.5h0M850.5 161.5h0M860 158h0M847.5 150.5h0M851 150.5h0M846 151h0M854 151.5h0M850.5 151h0M847.5 150.5h0M729.5 215h0M719.5 216h0M712 210h0M718.5 209.5h0M729 210h0M722.5 217.5h0M719.5 205h0M728.5 213.5h0M716 211h0M727.5 209h0M721.5 210.5h0M724.5 205.5h0M727.5 200.5h0M723 223h0M718 209.5h0M712 205h0M717.5 210h0M721 221h0M718.5 209.5h0M724.5 213.5h0M728 200.5h0M734.5 208h0M720 200h0M721 199h0M724.5 206.5h0M759.5 204.5h0M750 202.5h0M762.5 208h0M738.5 206.5h0M755 209.5h0M759 208.5h0M763 214h0M757.5 216h0M758 206.5h0M759.5 204h0M757 205.5h0M756 210.5h0M834 239.5h0M833 240.5h0M835 236h0M836.5 238.5h0M831 237.5h0M832 236.5h0M835.5 239.5h0M830.5 240.5h0M833.5 239h0M835 238.5h0M822.5 251h0M832 255h0M823.5 246.5h0M828.5 258h0M826 254h0M827 253.5h0M825.5 252.5h0M825.5 260h0M828 259h0M831.5 246h0M827 259h0M826.5 252.5h0M741 307h0M732.5 307.5h0M742.5 303.5h0M741.5 304.5h0M728 307.5h0M743.5 312.5h0M745.5 309h0M745 304.5h0M733.5 303.5h0M739.5 295.5h0M742.5 302.5h0M748.5 309.5h0M583.5 320.5h0M587.5 323.5h0M583 329.5h0M573 320h0M584 324h0M591.5 323.5h0M588 330.5h0M577 320h0M580.5 324h0M578.5 325.5h0M580.5 328.5h0M587.5 327h0M586 325.5h0M575.5 324h0M574.5 329.5h0M578 322h0M582 332.5h0M578.5 330.5h0M585.5 333.5h0M583.5 323h0M584.5 323h0M580.5 327.5h0M582 328h0M588 328h0M594 328.5h0M579.5 329.5h0M570.5 329h0M592 321h0M592 318.5h0M590.5 323.5h0M583 324.5h0M581.5 327.5h0M584.5 324.5h0M585 323.5h0M579 327h0M589.5 321h0M590.5 329h0M502.5 385.5h0M508 381h0M503.5 387h0M491.5 398h0M508 386h0M495.5 389.5h0M509 385h0M500.5 386h0M515 379.5h0M509.5 375.5h0M506.5 381.5h0M505 391.5h0M496.5 386.5h0M500 387h0M506 386h0M669.5 369.5h0M666.5 363.5h0M654.5 366h0M676.5 368.5h0M650.5 370.5h0M665 374h0M662 370h0M663 369h0M676.5 371.5h0M660.5 368h0M659.5 376.5h0M661.5 370.5h0M654 368.5h0M667 374h0M653.5 362h0M642.5 370h0M660 376.5h0M675 379h0M659.5 366.5h0M672.5 362h0M670.5 379.5h0M670 370h0M669 362.5h0M657.5 364.5h0M655.5 375h0M671 359h0M670.5 374.5h0M663 365h0M677.5 375.5h0M668 362.5h0M658 372h0M596.5 433h0M603.5 416h0M588.5 440.5h0M593.5 434h0M601.5 428h0M597 432h0M594.5 438.5h0M596.5 432h0M598.5 436.5h0M585.5 439h0M599.5 430.5h0M599 427h0M602 423.5h0M597 439h0M590 435h0M592.5 427h0M589.5 436.5h0M603.5 425.5h0M594 437.5h0M584.5 449.5h0M584.5 439.5h0M602 434h0M587 439.5h0M587 428.5h0M590.5 430.5h0M598.5 423.5h0M593 442.5h0M588 435h0M598.5 429h0M591.5 436h0M600.5 433.5h0M584 434h0M604.5 421h0M593.5 432.5h0M593.5 435h0M590 436h0M584.5 430.5h0M594 431.5h0M592.5 444h0M592.5 430.5h0M592 431.5h0M598.5 424h0M598 438h0M508.5 489.5h0M507 487.5h0M501.5 497h0M503 489h0M507 492h0M508.5 487h0M504 487.5h0M505 491h0M501 485h0M499.5 495.5h0M503.5 487.5h0M505.5 487.5h0M669.5 471h0M661.5 497h0M664.5 479h0M664 481.5h0M661.5 486h0M665 489.5h0M679.5 487h0M665.5 491.5h0M654.5 493.5h0M656 479h0M664 473.5h0M659.5 483h0M666 473.5h0M644.5 486.5h0M653 484.5h0M666.5 487.5h0M660 478.5h0M683 481.5h0M657 474h0M662 493h0M668 476.5h0M654.5 478h0M663.5 484h0M666.5 489h0M655 472.5h0M663 486h0M660 484h0M663 489.5h0M662 479h0M666.5 488.5h0M659.5 481.5h0M659 475h0M679 478.5h0M661.5 480h0M658 481.5h0M663 484.5h0M660 473h0M662.5 486.5h0M671.5 481.5h0M661.5 477.5h0M673 478.5h0M660 482h0M662 482.5h0M611.5 523.5h0M604 523.5h0M607 520.5h0M602.5 531h0M598.5 527h0M611.5 521.5h0M612.5 525h0M603 519.5h0M594 522.5h0M605.5 518h0M605 524.5h0M606.5 523h0M611 521.5h0M609.5 520.5h0M605.5 524.5h0M608.5 525h0M604.5 527h0M611 508.5h0M695.5 371h0M678 364h0M685 367.5h0M688.5 374h0M689.5 367h0M683.5 370h0M824.5 371h0M828.5 367h0M822 382h0M832 357h0M842 355h0M836 358.5h0M829 362h0M837.5 377h0M833.5 371h0M837 362h0M749.5 417.5h0M754.5 415h0M753 430h0M745 424h0M754.5 420h0M758 417.5h0M741 423h0M753.5 422h0M757 413.5h0M743.5 431h0M690.5 482h0M694.5 473.5h0M683.5 475h0M695.5 476.5h0M692 475h0M688.5 474h0M691.5 472h0M695.5 468.5h0M695.5 469.5h0M684.5 471h0M685 471h0M692.5 477.5h0M751 529h0M737.5 528.5h0M750.5 532.5h0M754 515.5h0M757 493.5h0M752.5 518.5h0M769.5 511.5h0M768.5 512.5h0M787 510h0M768 509.5h0M770.5 511h0M574 136.5h0M613.5 126h0M623 136.5h0M462 193.5h0M767.5 127.5h0M776.5 129.5h0M779 124.5h0M787 133.5h0M754 149.5h0M781 164h0M875.5 213h0M771.5 242h0M783 253.5h0M787 276.5h0M795.5 275h0M801.5 275h0M888.5 276.5h0M476 395.5h0M484 394h0M485.5 402.5h0M482.5 508.5h0M487 508.5h0M463 541h0M475 539.5h0M489.5 537h0M791.5 376h0M806 369h0M696 388h0M677.5 358.5h0M693 500.5h0M876 493h0"/>
<path stroke="#1400ff" d="M478 178.5h0M495.5 170h0M477 177h0M493 178h0M476.5 171.5h0M494 175h0M501.5 175.5h0M486.5 173.5h0M508.5 167.5h0M480 171h0M489 175h0M485 175h0M491 177h0M497 173h0M474 181.5h0M476 177h0M475.5 177.5h0M481.5 177h0M515 167h0M493 167h0M486 178h0M487.5 176h0M487.5 170h0M491.5 169.5h0M502.5 168h0M493.5 173h0M495 169.5h0M496 171.5h0M499 174.5h0M488 170.5h0M494.5 174.5h0M501 169h0M493 175.5h0M490.5 174.5h0M488.5 171.5h0M479 175h0M494.5 179.5h0M497 177h0M495 175.5h0M490 177.5h0M502 169h0M484.5 184.5h0M491 178h0M493.5 167.5h0M510 177h0M490 177.5h0M488 170.5h0M487.5 176.5h0M498 175h0M490 180h0M482.5 179.5h0M496.5 170.5h0M472 174.5h0M490.5 176h0M499.5 166.5h0M488.5 177h0M483.5 164.5h0M497 182.5h0M495 168h0M484.5 176.5h0M509 171.5h0M490.5 181h0M582.5 221h0M580.5 219h0M585.5 223.5h0M582 221.5h0M576.5 224h0M580.5 223h0M579.5 220h0M586.5 217h0M600 222h0M584.5 219h0M594.5 227.5h0M587 216.5h0M582 224.5h0M582 217.5h0M578 219h0M585 219.5h0M585 233h0M595.5 218h0M587 222.5h0M584 226h0M583 220.5h0M583 221.5h0M592.5 225h0M577 220h0M580 225.5h0M586.5 225.5h0M584.5 214.5h0M587.5 223h0M588 217h0M585.5 219h0M581 223.5h0M587 218.5h0M574.5 212h0M581.5 226.5h0M584.5 213h0M580 223.5h0M595 226.5h0M587 223h0M578.5 220h0M583 219h0M585.5 220.5h0M587 227.5h0M589.5 223.5h0M504 278h0M491.5 285.5h0M503 280.5h0M483 281h0M500.5 272.5h0M505 284h0M504.5 274.5h0M492 284h0M505.5 283h0M506 277h0M492 271.5h0M504.5 288h0M492.5 277.5h0M502 280h0M485.5 277.5h0M489.5 289.5h0M491.5 284h0M513.5 284.5h0M509 284h0M486.5 279h0M490.5 278.5h0M516 268h0M500 272.5h0M508.5 283h0M494.5 289h0M498.5 284.5h0M498.5 276h0M493.5 279h0M501.5 278.5h0M515 275h0M492.5 276.5h0M489.5 273.5h0M489.5 284.5h0M497 278h0M500.5 283h0M502 281.5h0M492 278.5h0M490.5 279.5h0M490 278.5h0M495 278.5h0M494 277h0M507 275.5h0M489 281.5h0M487.5 276h0M496 271.5h0M471.5 284.5h0M503.5 270h0M490 283h0M480.5 278h0M487 280h0M482 285.5h0M496 280.5h0M492.5 270h0M494.5 273.5h0M496 275h0M494 278.5h0M503.5 281.5h0M489 280.5h0M508.5 279h0M491 279.5h0M494.5 283.5h0M497.5 280.5h0M513 270h0M487.5 272.5h0M485 285h0M500.5 286h0M480.5 278h0M509 281.5h0M504.5 281.5h0M497 279h0M497.5 282.5h0M495.5 280.5h0M507.5 272h0M491 282.5h0M494.5 278.5h0M671 272.5h0M663 268.5h0M666 270.5h0M668 263h0M668 271h0M667 270h0M666 268h0M669.5 268.5h0M673 271.5h0M671.5 271h0M668.5 263.5h0M672 275h0M669 267h0M668 273h0M669 264h0M667.5 265h0M667 264.5h0M664.5 274h0M672 261.5h0M664 266.5h0M666.5 262.5h0M671.5 261.5h0M670.5 271h0M666.5 265.5h0M668.5 268.5h0M657.5 163.5h0M673 164h0M667 162.5h0M665.5 163.5h0M685.5 158.5h0M679 165h0M671.5 165.5h0M668.5 170h0M673 164.5h0M669.5 165.5h0M663.5 165.5h0M667 167.5h0M672.5 159h0M669.5 168h0M662 163h0M676 163.5h0M667 162h0M671 163h0M671.5 166h0M674 163.5h0M667 165.5h0M669.5 165.5h0M667 165h0M666.5 164h0M671.5 168h0M667.5 167h0M672 165h0M673.5 162.5h0M673.5 165.5h0M650 169.5h0M674.5 170h0M664 166.5h0M671.5 162h0M677 165h0M665 162.5h0M669 172.5h0M681.5 155.5h0M660 169h0M669 163.5h0M673.5 164.5h0M672 165.5h0M664.5 170h0M668 169h0M823.5 149h0M823.5 148.5h0M824 153h0M822 149h0M823.5 146.5h0M828.5 146.5h0M822 148h0M827.5 149h0M821.5 155h0M822.5 148h0M823 150.5h0M821 149.5h0M822.5 152h0M825.5 152h0M822.5 152h0M822.5 153h0M824 149h0M826.5 146h0M862 153.5h0M863 152.5h0M861.5 149h0M855.5 153h0M854.5 152.5h0M853.5 152.5h0M854.5 153h0M856 150h0M855.5 153h0M852 153.5h0M862 152.5h0M859 155h0M854 157h0M867 150h0M865.5 151h0M863 147.5h0M861.5 153.5h0M852 150.5h0M727 203.5h0M726.5 212.5h0M729.5 206.5h0M723 210.5h0M721 202h0M730 204h0M730 208h0M732.5 211.5h0M728 204h0M728 210h0M726.5 197.5h0M725 205h0M762.5 213h0M766 209h0M762.5 208h0M754 214h0M759.5 212.5h0M761 216.5h0M765.5 213.5h0M763 212h0M758 211.5h0M760.5 211.5h0M762.5 216.5h0M766.5 217h0M757 209h0M761 221h0M765 212h0M767.5 211h0M769 210.5h0M762 216.5h0M758.5 215h0M771 212.5h0M758.5 215h0M762 212h0M766 217h0M764 216.5h0M764.5 214h0M761 217.5h0M767.5 211h0M760 216.5h0M764.5 217h0M764.5 213h0M758.5 217.5h0M819 261.5h0M812.5 255h0M822 264h0M813 259.5h0M817 258.5h0M822.5 265.5h0M827 263.5h0M822.5 260h0M812.5 261h0M815 255h0M820.5 253.5h0M827 262h0M821.5 261.5h0M821 260h0M822.5 257h0M821 260.5h0M823 255h0M821 259h0M822.5 262h0M820.5 261.5h0M821.5 265h0M821 262h0M816 259h0M823 264h0M816 259.5h0M819 260h0M818 258h0M819.5 260h0M824 256h0M816 263h0M822 259h0M815 264h0M815.5 264h0M821 259h0M819 263h0M820 252.5h0M817 251h0M821.5 263.5h0M824 254.5h0M828.5 267h0M819.5 251.5h0M816.5 264h0M828 257.5h0M856.5 252.5h0M847 253.5h0M854 255h0M860.5 255h0M850 267h0M852 254h0M852.5 252h0M841.5 255.5h0M864.5 247.5h0M848 256.5h0M848.5 257h0M853 250.5h0M852 253h0M857.5 244.5h0M856.5 260h0M854.5 256h0M849.5 256h0M852.5 249.5h0M844.5 245.5h0M857 255.5h0M861.5 256h0M858.5 249.5h0M839.5 252.5h0M851 256.5h0M852.5 254h0M854 256h0M855 256h0M849.5 254.5h0M842.5 250.5h0M851.5 256.5h0M848 249h0M860.5 251.5h0M840.5 251h0M844.5 245h0M850.5 261.5h0M848 251.5h0M862 255h0M852.5 260.5h0M844.5 254.5h0M857.5 255.5h0M844.5 251h0M867 254.5h0M851.5 259h0M840 254.5h0M840.5 260.5h0M846 255.5h0M846.5 255.5h0M856 255h0M851 256h0M851.5 253h0M858.5 258.5h0M843.5 251h0M847.5 256h0M843 261h0M854 255.5h0M860 252h0M676.5 263.5h0M680.5 258.5h0M683.5 256h0M683.5 265.5h0M684 265h0M685 263h0M678.5 266h0M679.5 262.5h0M682.5 260h0M685.5 257.5h0M686.5 264h0M688 269h0M684.5 265.5h0M682.5 258h0M680 260h0M679.5 263.5h0M679.5 265h0M681 262h0M683.5 266.5h0M677.5 263h0M692.5 264h0M683.5 260h0M685.5 271h0M684 263.5h0M682 255.5h0M738 310h0M750 304h0M754.5 301h0M753 304.5h0M766 303.5h0M740.5 305.5h0M742 309h0M760.5 304.5h0M756.5 302.5h0M749.5 307.5h0M753.5 305h0M748 302.5h0M752.5 302h0M751.5 304h0M762.5 297.5h0M751.5 299h0M766.5 298h0M761 302h0M755.5 297.5h0M773 300h0M763.5 304h0M746 300.5h0M774 305.5h0M748 302.5h0M765.5 301h0M769.5 302.5h0M755.5 304h0M752 305.5h0M750 306h0M781 295.5h0M773 297h0M756 306.5h0M767.5 303h0M760 302h0M761 301h0M753 299h0M773.5 300.5h0M775.5 302h0M760.5 299h0M754 302.5h0M755 301.5h0M733.5 303h0M753.5 301h0M727 318h0M725 327h0M725 321h0M725 322h0M726.5 328.5h0M724.5 326.5h0M726.5 324h0M737 322.5h0M728 314h0M727 322h0M728.5 323.5h0M724.5 320h0M731 322h0M728.5 324.5h0M728.5 323h0M724.5 322.5h0M722 328h0M725.5 327.5h0M726.5 322h0M732.5 323.5h0M729 322h0M727 320.5h0M725.5 317.5h0M727.5 320.5h0M733 329h0M735 319h0M727 322.5h0M723 327.5h0M730.5 323.5h0M735 324h0M727 323.5h0M590.5 326h0M581.5 326h0M587 323h0M586.5 329h0M588.5 324h0M584 321h0M591.5 321.5h0M587 326h0M584 322h0M589 321h0M592.5 322.5h0M589 324h0M589.5 323.5h0M595 322.5h0M590 320h0M595.5 324.5h0M592 323h0M586.5 322h0M504 383h0M499.5 384.5h0M508 387h0M501.5 393.5h0M499 387.5h0M516.5 380h0M501 378.5h0M504.5 383.5h0M506 389.5h0M506 393h0M505.5 385.5h0M503.5 386.5h0M514 380h0M497 387h0M513.5 382h0M499.5 388h0M507 386.5h0M499.5 389.5h0M495.5 388h0M506.5 390.5h0M508.5 391h0M510.5 387.5h0M500 380h0M490.5 393h0M515.5 377h0M503.5 389h0M502 385.5h0M507 385.5h0M499.5 385h0M513 375.5h0M499 388.5h0M505 386.5h0M517.5 382.5h0M505 385.5h0M510.5 380.5h0M503.5 380.5h0M507.5 383h0M497 392h0M519.5 376.5h0M503 392.5h0M507.5 384h0M516.5 381.5h0M516 373.5h0M502 386.5h0M503.5 380.5h0M503.5 379h0M501 386.5h0M507.5 385h0M501 389.5h0M506.5 383.5h0M504 383h0M519 381.5h0M509.5 388h0M498.5 387h0M504 388h0M501 383.5h0M493.5 388h0M512 382.5h0M500.5 397h0M501 385.5h0M504 386h0M502.5 386.5h0M512 384.5h0M500.5 387.5h0M499.5 387h0M503.5 384.5h0M506.5 379.5h0M509 385.5h0M598.5 428.5h0M594 426.5h0M603.5 424.5h0M596 423.5h0M602.5 428h0M599.5 427.5h0M596.5 424.5h0M601 423h0M599.5 425.5h0M596 426h0M595 424h0M592.5 422h0M596 426.5h0M598.5 422h0M598 431h0M599 426.5h0M592.5 424h0M602 422h0M596 423.5h0M598 427h0M593.5 427h0M590.5 423h0M600 422.5h0M596 424h0M603.5 423h0M514.5 481h0M517.5 480.5h0M508.5 482.5h0M518.5 482h0M509 483h0M509.5 484h0M509.5 484.5h0M517 485h0M519.5 484.5h0M521 488h0M511.5 486h0M509.5 482.5h0M512.5 480.5h0M514 483h0M521.5 486h0M511.5 481h0M510.5 481h0M509.5 483.5h0M506.5 482h0M515 481.5h0M507.5 481.5h0M516.5 480.5h0M519.5 477.5h0M509 485.5h0M519 482.5h0M505.5 482.5h0M508.5 481h0M511 481h0M512.5 484h0M511.5 477h0M512 474h0M513 482h0M508.5 490.5h0M520 488h0M513.5 481.5h0M515 489h0M512.5 483h0M510 483h0M516.5 480h0M517.5 484h0M523 484h0M518.5 480h0M523.5 483.5h0M512.5 488.5h0M513.5 479h0M515.5 485h0M512.5 481.5h0M505.5 489h0M511 484.5h0M510.5 481h0M498.5 497h0M499 493h0M504.5 501h0M499 502h0M501.5 496.5h0M498.5 500.5h0M506.5 489.5h0M498 499.5h0M496 499.5h0M498 502.5h0M507.5 500.5h0M493.5 501.5h0M497.5 497.5h0M497 502h0M496 499.5h0M498.5 497.5h0M499.5 501.5h0M502.5 498.5h0M503.5 497h0M498.5 508.5h0M511 493h0M507.5 497.5h0M500 503h0M496 501h0M502 498.5h0M494.5 498.5h0M502.5 497.5h0M498 497.5h0M497 502.5h0M497 509h0M502.5 502.5h0M610 527.5h0M608 524h0M603.5 534.5h0M609 525h0M603.5 524.5h0M603.5 524.5h0M605 527.5h0M609.5 521h0M605.5 527h0M605.5 526h0M605.5 530h0M604.5 527h0M613 520.5h0M605.5 527h0M607 513.5h0M603.5 524.5h0M605.5 517.5h0M608.5 522h0M605.5 519.5h0M615.5 527.5h0M607 525.5h0M595.5 519h0M604.5 523.5h0M608 522.5h0M595.5 521.5h0M643 537h0M644.5 532h0M647 530h0M638 530h0M646 533.5h0M639 532.5h0M638.5 538h0M636.5 539.5h0M643 530.5h0M638.5 535h0M644 527.5h0M640.5 535.5h0M684 375h0M683.5 366h0M680.5 369.5h0M691 370.5h0M684 365h0M687.5 368h0M695.5 366.5h0M681 366h0M687 372.5h0M687.5 374.5h0M689 368.5h0M693 367.5h0M687 370.5h0M691 370.5h0M687.5 363.5h0M686 371h0M692.5 364.5h0M681.5 373.5h0M838 369h0M827.5 369h0M829 375.5h0M834 360.5h0M837 356h0M829 359h0M831 366h0M827 359.5h0M847.5 358.5h0M832 361.5h0M838 361.5h0M844 367.5h0M832.5 367.5h0M836 372.5h0M825.5 362.5h0M824.5 372.5h0M832.5 369.5h0M834.5 360.5h0M832.5 375h0M843 369.5h0M841 361h0M834 367.5h0M829.5 358.5h0M833 364.5h0M831.5 363h0M833.5 362.5h0M824 362.5h0M840 369h0M836 360.5h0M832 357h0M826 362.5h0M826.5 365.5h0M838 356h0M843 369h0M834.5 363h0M827 362.5h0M842.5 352h0M831.5 366.5h0M848 356.5h0M824 372h0M826 368.5h0M832 355h0M837.5 363.5h0M827 363h0M837.5 368h0M847 362.5h0M838 372h0M832.5 373h0M832 363h0M829 357h0M862 357h0M864 360.5h0M855 353h0M868.5 353.5h0M867 367.5h0M866.5 358.5h0M860.5 358h0M865.5 368h0M865.5 357h0M869 357.5h0M867.5 358.5h0M862 360h0M860 355h0M860.5 358h0M859 360h0M862.5 358.5h0M859 358.5h0M864.5 356.5h0M859.5 358.5h0M862 355.5h0M865 359h0M870.5 353.5h0M854.5 358.5h0M870.5 361h0M861 355h0M862.5 356h0M857 358h0M857.5 356.5h0M857 357h0M863.5 357.5h0M862 354h0M779.5 414h0M779 414h0M774.5 412.5h0M780 414.5h0M780.5 413.5h0M774.5 421.5h0M769 412.5h0M777 412h0M771 418h0M773.5 421h0M785 418h0M774 418.5h0M772 415.5h0M774 415.5h0M776 414.5h0M779 410.5h0M775 411.5h0M778 418h0M781.5 415h0M775 414h0M774 416.5h0M771 413.5h0M780.5 415h0M776.5 414h0M777.5 414h0M777 415h0M774.5 414h0M777 413h0M782 415.5h0M774.5 417h0M778.5 414.5h0M746 411h0M750 408.5h0M764 404h0M744.5 412.5h0M757.5 404.5h0M751.5 407h0M754.5 409.5h0M767 402h0M754 410.5h0M751.5 410h0M750.5 415.5h0M748 411h0M762 406.5h0M762 406.5h0M753 409.5h0M757.5 406.5h0M757 405.5h0M748.5 412.5h0M740.5 437h0M745.5 428.5h0M745 432h0M741 423.5h0M738.5 429.5h0M738 425.5h0M734.5 431h0M741 433.5h0M735.5 424h0M746 429.5h0M739.5 434.5h0M736.5 429.5h0M742 432h0M742.5 428.5h0M744.5 424.5h0M733 429.5h0M740 430h0M733.5 425h0M738.5 433.5h0M743.5 437h0M736 428h0M734.5 425.5h0M736 429.5h0M737 431.5h0M744 429h0M738.5 430.5h0M739 429.5h0M737.5 430.5h0M738 432h0M740 434.5h0M741.5 432.5h0M690 472h0M691 465h0M688.5 470h0M684.5 478h0M690.5 475h0M686.5 472.5h0M689.5 475h0M690 474h0M685.5 474.5h0M691.5 474.5h0M688 473h0M689 473.5h0M689.5 470h0M687 472.5h0M684 461h0M689 470.5h0M690.5 474.5h0M691 471h0M690 464.5h0M692 468h0M685.5 474.5h0M686 468h0M688 467.5h0M693 467h0M689 477h0M834 459h0M839 471.5h0M831 471.5h0M832.5 469.5h0M849 476.5h0M838.5 475.5h0M842.5 449h0M834.5 474h0M841.5 459.5h0M841 471h0M838 468h0M848 474h0M843 454.5h0M836.5 474.5h0M839.5 466.5h0M834 470.5h0M838 455h0M851 466.5h0M829.5 456.5h0M835.5 464.5h0M834.5 467h0M846 459.5h0M844 474.5h0M833 456.5h0M842 476h0M842.5 472.5h0M835 473h0M833 472.5h0M843 473.5h0M845 473h0M844 469.5h0M847 467.5h0M846 462.5h0M833 470h0M838.5 464h0M834.5 474.5h0M841 475h0M836.5 471h0M833.5 463h0M842.5 474.5h0M839 477.5h0M835 479h0M838 467h0M834 479h0M833.5 479h0M845.5 453.5h0M838.5 459h0M836 468h0M837 473.5h0M841 454h0M832.5 457.5h0M831.5 472h0M837.5 468.5h0M828 465h0M827.5 467.5h0M835.5 471.5h0M841 474.5h0M837.5 471h0M833.5 485.5h0M839 459h0M839 476.5h0M834.5 477h0M868 465.5h0M869.5 455.5h0M870 465h0M861.5 455h0M870.5 454.5h0M862 459.5h0M867 458.5h0M867.5 461h0M865.5 452.5h0M868 458h0M868.5 460h0M866.5 452.5h0M871 466h0M871 460h0M871.5 458h0M863.5 451h0M869.5 454.5h0M865.5 461.5h0M873 466h0M862.5 458.5h0M866 459.5h0M869 461.5h0M868 454h0M861 467.5h0M866.5 462.5h0M869.5 463h0M869 464.5h0M865 462h0M871 455.5h0M865.5 456h0M874 457.5h0M872.5 457.5h0M870 462h0M870 457.5h0M867 468h0M875 462h0M867 461.5h0M860.5 461h0M853.5 463h0M851.5 462h0M856.5 461.5h0M852.5 462.5h0M848 462h0M857.5 463.5h0M744.5 529.5h0M747.5 536.5h0M747 544h0M759 530.5h0M743.5 527h0M746 522.5h0M756 521h0M742 516h0M749.5 509.5h0M750.5 529.5h0M747.5 534h0M742.5 540.5h0M748 532h0M744.5 526.5h0M751.5 514.5h0M753 517.5h0M758.5 512.5h0M736.5 531.5h0M753.5 522.5h0M742 515.5h0M745 540.5h0M741.5 537h0M736.5 534.5h0M754.5 520h0M755.5 527h0M747 520h0M755 521.5h0M746.5 522h0M752.5 514h0M750.5 541.5h0M747.5 528h0M751.5 515.5h0M754 516.5h0M744 517h0M752.5 521.5h0M751.5 531.5h0M750 537.5h0M744.5 529.5h0M751.5 528.5h0M745.5 528h0M748 530.5h0M750.5 520h0M742.5 521h0M757.5 529h0M751.5 518h0M750.5 525.5h0M751 522.5h0M747 515.5h0M749.5 515.5h0M743.5 525h0M751 520.5h0M745.5 533h0M742 527.5h0M735 533.5h0M745.5 542.5h0M757.5 528.5h0M781.5 519.5h0M783.5 501.5h0M787 508h0M779 510h0M787.5 508.5h0M784.5 517h0M776 520.5h0M781 522h0M782 521h0M790.5 504.5h0M779 511.5h0M786.5 522h0M783.5 516.5h0M786 510h0M781 515h0M788 511h0M785.5 511h0M779 515h0M784 515h0M780.5 512h0M786.5 508h0M781 509h0M783.5 520h0M782 511.5h0M782 514.5h0M781.5 510h0M784.5 521h0M784 511.5h0M788 514.5h0M784.5 513.5h0M785 508.5h0M607 127h0M882 171h0M504 402.5h0M780 533.5h0M786.5 541.5h0"/>
</g>
<g fill="none" stroke-linecap="round" stroke-width="3" clip-path="url(#ctr)">
<path stroke="#ff1c0c" d="M1575 131h0M1579.5 126.5h0M1580.5 136h0M1575 138h0M1582.5 122.5h0M1576 133h0M1564.5 137h0M1584 136.5h0M1577.5 141h0M1579 135.5h0M1581.5 139.5h0M1568.5 138.5h0M1580.5 141h0M1579.5 133.5h0M1574.5 134h0M1575 136.5h0M1578.5 130h0M1582.5 133.5h0M1576 140.5h0M1581 136h0M1574 140h0M1582 128h0M1577 140h0M1584 133.5h0M1580 134.5h0M1564.5 137.5h0M1587 131h0M1579 138.5h0M1580 139h0M1578.5 132.5h0M1574.5 133.5h0M1570.5 128h0M1579 129h0M1579.5 133.5h0M1577.5 136.5h0M1575.5 128.5h0M1577 133h0M1586.5 139h0M1570.5 125h0M1571 136.5h0M1567.5 138h0M1576.5 139.5h0M1580 129h0M1576 134.5h0M1585.5 132.5h0M1575 134.5h0M1574 136.5h0M1580.5 138h0M1573.5 139.5h0M1595.5 141h0M1579 133h0M1569 136h0M1590.5 136.5h0M1580.5 133.5h0M1571.5 145.5h0M1576.5 142h0M1578.5 133.5h0M1573 134.5h0M1579.5 132h0M1578 133h0M1573 130.5h0M1594.5 127.5h0M1582.5 127h0M1572.5 138.5h0M1569.5 137.5h0M1587 132.5h0M1583 139h0M1566 131.5h0M1576 138.5h0M1575.5 127.5h0M1570.5 134h0M1579 136h0M1571.5 136h0M1577.5 129h0M1571 144.5h0M1582 132h0M1582 130h0M1588.5 136.5h0M1565 132h0M1577 134.5h0M1571.5 138.5h0M1579.5 141h0M1579.5 141h0M1588 134.5h0M1580 138.5h0M1581.5 133.5h0M1592.5 140h0M1581.5 128h0M1572 133h0M1571.5 126.5h0M1582 137.5h0M1575 133.5h0M1585 138.5h0M1589.5 133h0M1576.5 138h0M1589.5 133h0M1576.5 132.5h0M1585.5 140h0M1572.5 139h0M1583 140.5h0M1575.5 133.5h0M1581.5 136.5h0M1572.5 137.5h0M1582 132.5h0M1581 139.5h0M1578.5 134.5h0M1572.5 133.5h0M1574.5 129h0M1584.5 136h0M1580.5 135h0M1586.5 125.5h0M1588 131.5h0M1573 130h0M1573.5 133h0M1583 130h0M1583.5 131.5h0M1578.5 141h0M1576.5 128.5h0M1579 136h0M1576.5 132h0M1582.5 129h0M1577.5 130h0M1582 132h0M1580.5 133.5h0M1578 129.5h0M1586 131h0M1577.5 127.5h0M1579 129.5h0M1572 139h0M1583 135.5h0M1504 186.5h0M1500.5 186.5h0M1487 191.5h0M1489 174h0M1483 191h0M1517.5 161.5h0M1480.5 204h0M1490 195.5h0M1505 194h0M1502.5 189.5h0M1498 187h0M1500 185h0M1521.5 181.5h0M1499.5 184h0M1505.5 188.5h0M1508.5 180h0M1489.5 209.5h0M1518 176h0M1508 189.5h0M1519.5 172.5h0M1503 182h0M1521 168h0M1498.5 194h0M1507 180.5h0M1510.5 180h0M1501 187h0M1507.5 182h0M1506 182h0M1503 176.5h0M1523 176.5h0M1505.5 185.5h0M1522.5 173h0M1487 197.5h0M1477 200.5h0M1513 168.5h0M1481.5 196h0M1511 191.5h0M1497 187h0M1493.5 205h0M1500 189h0M1511.5 176.5h0M1488.5 190h0M1502 190h0M1510 174.5h0M1491.5 181.5h0M1508 195.5h0M1504 180h0M1519 175.5h0M1519 184h0M1486.5 195.5h0M1501.5 193h0M1499.5 186.5h0M1475.5 199h0M1490 185h0M1501 182.5h0M1505.5 188h0M1505 182h0M1500 177h0M1494 185.5h0M1517.5 164h0M1497.5 191h0M1496.5 192.5h0M1490.5 199.5h0M1495 173h0M1479.5 190.5h0M1496 185.5h0M1506 185.5h0M1508.5 183h0M1485.5 184.5h0M1487.5 197h0M1484.5 187h0M1491.5 194h0M1484 195h0M1511 183.5h0M1480.5 199h0M1502 202h0M1492.5 180.5h0M1492.5 190h0M1497 192.5h0M1495.5 188.5h0M1540.5 160h0M1509.5 178.5h0M1477.5 213h0M1497 192.5h0M1484 197h0M1508.5 171.5h0M1525 175h0M1503.5 181h0M1503.5 168h0M1507.5 165.5h0M1498.5 196h0M1497 173.5h0M1476.5 192.5h0M1491 185.5h0M1509.5 176h0M1524.5 178h0M1490 201.5h0M1511 169h0M1493 184h0M1488 193h0M1500.5 179h0M1483.5 201.5h0M1519 180.5h0M1481.5 194h0M1493.5 184.5h0M1509 172.5h0M1497.5 189.5h0M1501.5 186h0M1500 189h0M1503.5 183h0M1507.5 183h0M1509.5 182h0M1506 183.5h0M1488.5 190h0M1494 184.5h0M1492 186h0M1493 192.5h0M1540.5 171h0M1500 185.5h0M1496 186h0M1508 183h0M1506 187.5h0M1497 192.5h0M1498.5 179h0M1511 170.5h0M1506.5 175.5h0M1495.5 196.5h0M1504.5 182h0M1485 183h0M1493.5 188.5h0M1510 178h0M1509.5 174.5h0M1513 182h0M1500 191.5h0M1514 165h0M1482.5 192.5h0M1490 185h0M1497 177.5h0M1520 170.5h0M1501.5 182.5h0M1493.5 190.5h0M1499.5 188h0M1505.5 175.5h0M1477.5 196h0M1495.5 173.5h0M1505 182h0M1485.5 197h0M1510 177.5h0M1507 184h0M1517 181.5h0M1490.5 190h0M1497 180h0M1502.5 186h0M1497 173.5h0M1484 178.5h0M1501 184.5h0M1512 183.5h0M1488.5 192.5h0M1504 188h0M1512.5 175h0M1486 200.5h0M1491.5 178h0M1499 179.5h0M1504 191h0M1496.5 182h0M1503.5 180.5h0M1504.5 189.5h0M1504 186h0M1499.5 186.5h0M1485.5 190h0M1516 183.5h0M1489.5 197h0M1507 174.5h0M1509.5 182.5h0M1519.5 184h0M1501.5 187h0M1491 193.5h0M1499.5 184h0M1504.5 188.5h0M1513 181.5h0M1515.5 164h0M1498 186h0M1494 186h0M1483 194.5h0M1512 173.5h0M1501 187.5h0M1496.5 180.5h0M1498 195h0M1488 184.5h0M1522 171h0M1481.5 185.5h0M1487 185h0M1501.5 191h0M1507.5 177h0M1506 178h0M1473.5 208.5h0M1487.5 187h0M1511.5 177.5h0M1513 183h0M1508 178.5h0M1520 164h0M1517 186.5h0M1496 183.5h0M1513 184h0M1504.5 177.5h0M1497 177h0M1516 182h0M1500 189.5h0M1497 187.5h0M1501 183h0M1532 160.5h0M1508.5 172.5h0M1503 183h0M1493.5 195.5h0M1513.5 185.5h0M1501.5 177h0M1510.5 180h0M1513 159h0M1498.5 187h0M1508 171h0M1514 177.5h0M1485 212.5h0M1472.5 197h0M1492 194h0M1494.5 188.5h0M1493 193.5h0M1515.5 187h0M1481 193.5h0M1491.5 187.5h0M1500.5 189.5h0M1491 187h0M1519 181.5h0M1528 180h0M1496 197.5h0M1508 179h0M1505 177h0M1486.5 192.5h0M1481.5 195h0M1497.5 179.5h0M1485 181.5h0M1486.5 194h0M1493 191h0M1491 188h0M1487 206.5h0M1500 191.5h0M1487 185.5h0M1501.5 181h0M1501.5 188.5h0M1509.5 184h0M1496 174.5h0M1510.5 188.5h0M1508 187h0M1507.5 184h0M1502 173h0M1476 202.5h0M1509 183h0M1495.5 185h0M1489.5 195h0M1506.5 186h0M1503 192h0M1600 221h0M1599 235.5h0M1596.5 233.5h0M1576 235.5h0M1583.5 238.5h0M1586.5 227h0M1599.5 226h0M1594.5 237h0M1588 234.5h0M1591.5 237h0M1593 222h0M1594.5 224.5h0M1589 234h0M1601 225h0M1591 234.5h0M1591.5 224.5h0M1597 220h0M1592 219.5h0M1601 229.5h0M1600 227h0M1588 220h0M1599.5 234.5h0M1589.5 231.5h0M1597.5 225.5h0M1589 231h0M1600 214.5h0M1603 220h0M1591 211h0M1574 234h0M1587.5 239h0M1598.5 229h0M1582 230h0M1594 228.5h0M1578.5 237.5h0M1587.5 230.5h0M1585.5 246h0M1602.5 241h0M1587 240h0M1609 218.5h0M1598.5 224.5h0M1594.5 250h0M1591.5 224.5h0M1586 232.5h0M1608.5 220h0M1581 230.5h0M1600.5 224h0M1591 242.5h0M1601.5 241.5h0M1586 236.5h0M1600.5 228h0M1596.5 249.5h0M1608 240h0M1593.5 228h0M1600 223.5h0M1576.5 242h0M1597 237.5h0M1604 229.5h0M1593.5 228h0M1604 235h0M1598.5 228h0M1594.5 238h0M1597 227.5h0M1611.5 229h0M1586 235h0M1593.5 218h0M1592.5 241h0M1599 257h0M1587.5 250.5h0M1588 225h0M1577.5 238.5h0M1590 230.5h0M1591 231.5h0M1589 236h0M1603 231.5h0M1596 228.5h0M1581 243h0M1592 206.5h0M1577.5 236h0M1593 243h0M1588 225.5h0M1615 226h0M1589.5 210h0M1588 237.5h0M1601 232.5h0M1597 231.5h0M1584.5 242h0M1596.5 229.5h0M1594 232.5h0M1592 242.5h0M1592 235h0M1595.5 224.5h0M1609 234h0M1614 223.5h0M1612 227h0M1594 231.5h0M1595 231h0M1586 236h0M1598.5 220h0M1597.5 238.5h0M1597.5 216.5h0M1600.5 236h0M1597 224h0M1580 239.5h0M1601.5 225.5h0M1597 236h0M1605 215.5h0M1594.5 239h0M1585 232h0M1592 232h0M1584 234.5h0M1595 230h0M1602 222.5h0M1588.5 248.5h0M1599 233h0M1588 229.5h0M1596 228h0M1592 228h0M1598.5 234h0M1595.5 235h0M1566 244.5h0M1600 232.5h0M1589.5 240h0M1590 247h0M1584.5 227h0M1589 230.5h0M1594.5 236h0M1585 234h0M1600 236h0M1587.5 245.5h0M1603 230h0M1599.5 239.5h0M1592 221.5h0M1587.5 216.5h0M1590 239.5h0M1596.5 226.5h0M1596 224h0M1582.5 246h0M1601 221h0M1598 224.5h0M1592.5 219h0M1611 229.5h0M1590.5 226.5h0M1590 255.5h0M1596 237.5h0M1593.5 228h0M1607 229.5h0M1604 224.5h0M1595 229h0M1610 217h0M1585 225.5h0M1591 238.5h0M1580 235h0M1599.5 231h0M1606.5 231h0M1594.5 247.5h0M1593 232.5h0M1590.5 231.5h0M1600 228.5h0M1592.5 234h0M1586 227h0M1587 246h0M1599.5 230h0M1590.5 236.5h0M1585.5 232h0M1584 237h0M1605.5 227.5h0M1595.5 241.5h0M1588.5 223.5h0M1589 239.5h0M1584 239.5h0M1602 233.5h0M1591.5 232.5h0M1594.5 237.5h0M1588.5 220.5h0M1579 236.5h0M1601 233h0M1604.5 223.5h0M1592 235.5h0M1584 226h0M1582 235.5h0M1596 227.5h0M1582.5 236.5h0M1598.5 226.5h0M1595.5 221.5h0M1604.5 231.5h0M1607.5 234h0M1590 225.5h0M1590 237.5h0M1600 257h0M1606 220.5h0M1594.5 254h0M1586.5 223.5h0M1585.5 252.5h0M1600 236.5h0M1574.5 232.5h0M1514 283h0M1526.5 298h0M1501 298h0M1505.5 294h0M1485 313h0M1513 296.5h0M1497.5 297.5h0M1503 289h0M1494 312.5h0M1514 284.5h0M1519 287h0M1519 280h0M1515 282h0M1518 291h0M1531 272h0M1505.5 293.5h0M1505 306.5h0M1521 273h0M1507.5 294.5h0M1492.5 302.5h0M1514.5 281.5h0M1520 285h0M1523 271.5h0M1524 272h0M1518.5 294.5h0M1502.5 291.5h0M1517.5 281h0M1503.5 313h0M1509.5 301h0M1508 288h0M1507 283.5h0M1518.5 273.5h0M1524 298.5h0M1510 293h0M1506.5 311.5h0M1516 288h0M1496.5 305h0M1509 290h0M1496 289h0M1511.5 311h0M1520 289h0M1506.5 309h0M1506 294.5h0M1513.5 287.5h0M1514 278.5h0M1508 284.5h0M1528 257h0M1531.5 279h0M1509.5 292h0M1513 293.5h0M1520 285.5h0M1521.5 282.5h0M1507 302.5h0M1502 292.5h0M1515 285h0M1491 323h0M1514.5 291.5h0M1499 304h0M1506 297h0M1519 273.5h0M1507 293h0M1508.5 280h0M1516 280.5h0M1531.5 278.5h0M1506.5 291.5h0M1505 292.5h0M1530.5 286.5h0M1496.5 301.5h0M1514.5 289.5h0M1510.5 280.5h0M1518.5 279.5h0M1517.5 282h0M1503 309.5h0M1507.5 290.5h0M1497.5 304.5h0M1529.5 281h0M1516.5 280h0M1515 289h0M1505 295.5h0M1510 284h0M1505 289h0M1504 295.5h0M1518.5 288h0M1506 298.5h0M1516.5 265h0M1504.5 286h0M1526.5 278h0M1518.5 285.5h0M1502 313.5h0M1509 292.5h0M1498.5 307.5h0M1489 303.5h0M1534 262h0M1541 269.5h0M1516 267.5h0M1529 271h0M1516.5 305h0M1524.5 283.5h0M1500.5 301h0M1518.5 282.5h0M1494.5 313h0M1510.5 289.5h0M1513 284.5h0M1517.5 268h0M1508 300.5h0M1529.5 285h0M1517 273.5h0M1519.5 278.5h0M1530.5 277.5h0M1503 299h0M1508.5 283.5h0M1496 306h0M1526 287h0M1518 285.5h0M1514.5 300h0M1501.5 308h0M1529.5 283h0M1500 295.5h0M1512.5 297.5h0M1517 284.5h0M1521 279.5h0M1518.5 298.5h0M1510.5 295.5h0M1508 300h0M1510 299.5h0M1510 292.5h0M1538 266h0M1520 277.5h0M1513 297h0M1522.5 281.5h0M1513.5 268.5h0M1518.5 293.5h0M1524 287h0M1506 303h0M1497.5 293h0M1532.5 272.5h0M1524.5 269.5h0M1508.5 288h0M1522 273.5h0M1505 295h0M1505 293h0M1525 264.5h0M1498 295h0M1519.5 273h0M1526.5 287h0M1525 292.5h0M1518.5 306.5h0M1514.5 274.5h0M1517 281.5h0M1521 268h0M1515 273h0M1510 277h0M1490.5 320.5h0M1506 308.5h0M1510.5 286.5h0M1531.5 285h0M1505 292h0M1507.5 285h0M1504 290.5h0M1522.5 268h0M1530.5 278.5h0M1509 293h0M1510.5 307.5h0M1508 297.5h0M1508 295.5h0M1520.5 285h0M1523.5 277.5h0M1511 277h0M1500 287.5h0M1521 279.5h0M1497 302.5h0M1523 291h0M1509 297.5h0M1511.5 313.5h0M1504.5 307h0M1507.5 288.5h0M1533.5 283.5h0M1522.5 279h0M1519.5 275.5h0M1503.5 290h0M1507 294h0M1511 285h0M1495.5 286h0M1531.5 275.5h0M1518 284.5h0M1494 300h0M1506.5 292.5h0M1513.5 283h0M1492.5 320.5h0M1509 298.5h0M1514 294.5h0M1516.5 280h0M1515 287.5h0M1506.5 284.5h0M1506 297.5h0M1500 285.5h0M1520 281h0M1505.5 290h0M1505 299h0M1531 279h0M1513 290h0M1518 290.5h0M1526.5 281h0M1517 294.5h0M1488.5 308h0M1520.5 288h0M1509 302.5h0M1509.5 292h0M1509.5 289h0M1520.5 276.5h0M1509 301h0M1501 303h0M1504 299h0M1495.5 306h0M1497 310.5h0M1509.5 284.5h0M1494.5 303.5h0M1510.5 306h0M1516 278.5h0M1521 282.5h0M1493 298h0M1499 293.5h0M1502 297h0M1507 279.5h0M1528.5 266h0M1498.5 298.5h0M1507.5 306h0M1492 291h0M1507 301.5h0M1500.5 303h0M1529 278h0M1504.5 306.5h0M1510.5 288.5h0M1528 264.5h0M1517 280.5h0M1498.5 293h0M1518 285.5h0M1524.5 267.5h0M1522.5 273h0M1501 306h0M1519.5 279h0M1532 282.5h0M1528.5 273h0M1512 306.5h0M1513.5 285h0M1503.5 305.5h0M1532.5 271h0M1504 301.5h0M1510.5 296h0M1522 263h0M1513.5 285h0M1513.5 285.5h0M1509.5 306.5h0M1507.5 292h0M1526.5 280.5h0M1519 275.5h0M1512.5 296.5h0M1501 293.5h0M1500 299h0M1495.5 304.5h0M1511.5 299.5h0M1501 301.5h0M1503.5 292h0M1501 302.5h0M1518.5 283h0M1504 310.5h0M1512.5 289h0M1496 305.5h0M1531 270h0M1520.5 299h0M1522.5 275h0M1499 297h0M1507.5 289.5h0M1514.5 280h0M1516.5 273.5h0M1501.5 313.5h0M1503.5 302.5h0M1518.5 284h0M1527 279h0M1512.5 289.5h0M1525.5 274.5h0M1524.5 282h0M1509 299h0M1536 253h0M1511.5 272h0M1508 291.5h0M1518 284.5h0M1494 300.5h0M1508 288.5h0M1510.5 293.5h0M1518.5 295.5h0M1517 287.5h0M1511 304.5h0M1524 277.5h0M1512.5 293.5h0M1528 280.5h0M1510.5 300.5h0M1509 287.5h0M1513 296.5h0M1688 168h0M1674 173h0M1674.5 156h0M1684.5 160h0M1675 172.5h0M1675.5 180.5h0M1670.5 156h0M1678.5 170.5h0M1670 180.5h0M1678.5 152.5h0M1678.5 178h0M1681 163h0M1676 170.5h0M1680 162.5h0M1676.5 167.5h0M1676 162h0M1679 183h0M1685 170.5h0M1679 172h0M1679 159h0M1666.5 189h0M1692.5 163h0M1682.5 175h0M1685 159h0M1678 196.5h0M1690.5 158.5h0M1677.5 168h0M1689 182h0M1672.5 178h0M1676.5 156h0M1674 182.5h0M1664.5 190h0M1681 182h0M1665.5 179h0M1672 153.5h0M1672.5 175.5h0M1677 203.5h0M1684 189h0M1681 174.5h0M1677.5 202.5h0M1675 158h0M1680 171.5h0M1677.5 156.5h0M1672.5 170h0M1674.5 175.5h0M1685.5 176.5h0M1679.5 167.5h0M1668.5 176h0M1677 163.5h0M1672.5 181h0M1680.5 171h0M1682 153.5h0M1676.5 188.5h0M1675 175h0M1675.5 176h0M1671 154.5h0M1682.5 177.5h0M1683 160.5h0M1678.5 170h0M1664.5 155.5h0M1680 191.5h0M1674 192h0M1670.5 179h0M1675 158h0M1682 164h0M1680 182.5h0M1673 163.5h0M1676.5 170.5h0M1687.5 179.5h0M1673 173.5h0M1676 170.5h0M1682.5 178.5h0M1675 181h0M1683 178.5h0M1673.5 190h0M1686 162h0M1682.5 181h0M1680 180.5h0M1675.5 169h0M1696 206.5h0M1669 198.5h0M1681.5 173h0M1682.5 188.5h0M1678 177.5h0M1685.5 161h0M1668.5 178h0M1686.5 167.5h0M1679.5 166.5h0M1677 170.5h0M1690 152.5h0M1673.5 156h0M1679 197h0M1664.5 138h0M1680.5 170.5h0M1676.5 172.5h0M1677 168h0M1674.5 173h0M1673.5 167h0M1681 180h0M1683 185.5h0M1679 194.5h0M1680 174.5h0M1664.5 185.5h0M1679.5 170.5h0M1667.5 168.5h0M1671 170.5h0M1678.5 171h0M1676 170h0M1689.5 160.5h0M1680.5 161.5h0M1675 185.5h0M1671 171h0M1670 189.5h0M1679 181h0M1676.5 184.5h0M1669.5 178.5h0M1664 187h0M1673.5 166.5h0M1685 171.5h0M1680.5 166h0M1674.5 184h0M1673 165.5h0M1680.5 168h0M1668 169.5h0M1687 163h0M1668 182.5h0M1674 165h0M1689.5 173.5h0M1670.5 179h0M1674.5 205h0M1679.5 168h0M1674 170.5h0M1672.5 181h0M1689 149h0M1677 178.5h0M1677 184.5h0M1683 173.5h0M1673 184h0M1673 164.5h0M1675.5 174.5h0M1673.5 169h0M1678.5 185.5h0M1673 161h0M1669 169h0M1678 179h0M1674.5 157h0M1669.5 183.5h0M1681 181.5h0M1682.5 173h0M1674 159h0M1677.5 168.5h0M1670 164.5h0M1669 178h0M1677.5 188h0M1677.5 169h0M1681.5 175.5h0M1664.5 171.5h0M1668.5 156h0M1670.5 186h0M1687.5 167h0M1680.5 181.5h0M1679 195h0M1676 165.5h0M1669 161.5h0M1676.5 148.5h0M1683.5 151h0M1669 165h0M1674 167h0M1675 193h0M1674.5 180.5h0M1671 191h0M1676 174.5h0M1670 161h0M1677 155h0M1679.5 174.5h0M1659 174h0M1682.5 161h0M1679 192h0M1676.5 170.5h0M1686.5 176h0M1685.5 160.5h0M1676 178h0M1683.5 294h0M1685.5 275.5h0M1678 275h0M1684.5 292.5h0M1675.5 286.5h0M1678 271h0M1680.5 294.5h0M1678 266.5h0M1691 316h0M1675 274h0M1680 280.5h0M1678.5 277h0M1682 258.5h0M1675.5 302h0M1678 296.5h0M1678 272h0M1672.5 286h0M1681.5 236.5h0M1676.5 301.5h0M1685.5 289.5h0M1674.5 284.5h0M1675 278.5h0M1684.5 297.5h0M1670 296h0M1691 267h0M1680 294.5h0M1679.5 293.5h0M1680.5 291h0M1697.5 298.5h0M1679 269h0M1682.5 265h0M1672 271h0M1681 273.5h0M1681 265.5h0M1686.5 283.5h0M1679 266.5h0M1679 274h0M1678.5 259h0M1684 281h0M1690 295.5h0M1672 268.5h0M1683 285h0M1681 278.5h0M1683.5 298.5h0M1672.5 279.5h0M1673 259.5h0M1674.5 294h0M1688.5 303.5h0M1681.5 276h0M1679.5 287h0M1677 278.5h0M1675 273h0M1680.5 281h0M1683 298.5h0M1684.5 289.5h0M1675.5 294.5h0M1693 275h0M1667 252h0M1687 292.5h0M1680.5 277.5h0M1688.5 272.5h0M1684 276.5h0M1684.5 299h0M1684.5 296.5h0M1678.5 288h0M1684 309.5h0M1681.5 285.5h0M1676.5 286.5h0M1670.5 276h0M1688 271h0M1678.5 291h0M1675.5 285h0M1674 274.5h0M1687 261h0M1668.5 255.5h0M1684 272.5h0M1688.5 255h0M1682 247h0M1693.5 291h0M1678 272h0M1679.5 248.5h0M1667.5 260.5h0M1676.5 262h0M1688.5 246.5h0M1683.5 263h0M1678.5 269.5h0M1681 286.5h0M1672.5 298.5h0M1674.5 257h0M1679 292.5h0M1682 274.5h0M1689 263h0M1675 305h0M1687.5 273h0M1680.5 272h0M1681.5 278.5h0M1673.5 261h0M1679.5 269h0M1677 273.5h0M1679 305h0M1682 270.5h0M1682.5 261.5h0M1674.5 283h0M1674.5 265.5h0M1689 305.5h0M1685.5 263.5h0M1669.5 267h0M1672.5 267.5h0M1677.5 285h0M1693 265.5h0M1678.5 256h0M1688.5 294h0M1682 267.5h0M1679 284h0M1666.5 280h0M1683 264.5h0M1687 271.5h0M1683 293h0M1684 261.5h0M1682 289h0M1677 263.5h0M1680.5 290.5h0M1688.5 301h0M1682.5 253.5h0M1679.5 274.5h0M1688.5 291h0M1672.5 259h0M1681 264.5h0M1669.5 254.5h0M1688 286h0M1673 277h0M1676.5 267.5h0M1686.5 299h0M1686.5 274h0M1687.5 258h0M1668.5 269.5h0M1677 292h0M1673.5 281h0M1681.5 285.5h0M1677 273.5h0M1674.5 278h0M1675 287.5h0M1681.5 278h0M1680.5 281.5h0M1685 296.5h0M1668.5 299h0M1682 293h0M1686.5 273.5h0M1674.5 294.5h0M1691 272h0M1670 293.5h0M1685.5 278h0M1673 307h0M1678 283h0M1676 302h0M1682 298.5h0M1685 289.5h0M1678.5 275h0M1676 275h0M1671.5 288.5h0M1686.5 281.5h0M1663.5 267.5h0M1668 274.5h0M1689 259.5h0M1676.5 279h0M1679.5 286.5h0M1686 287h0M1678 257h0M1680.5 270h0M1681 283h0M1675 280h0M1679.5 255h0M1678 290.5h0M1668 279.5h0M1687.5 264h0M1678 258.5h0M1689 284h0M1681 280h0M1680.5 292.5h0M1681 257h0M1683 320h0M1687.5 282.5h0M1681.5 273.5h0M1677 271h0M1678.5 279h0M1679.5 260h0M1677 283.5h0M1684 290.5h0M1676 289.5h0M1680 296.5h0M1676.5 301h0M1679 282h0M1680.5 281.5h0M1674.5 289.5h0M1677.5 298h0M1770.5 120.5h0M1764 118.5h0M1778 118h0M1772.5 121.5h0M1770 123h0M1765.5 119.5h0M1774.5 117h0M1768.5 120.5h0M1773.5 122h0M1769.5 121h0M1779 120.5h0M1764 120.5h0M1785 119h0M1767.5 121h0M1770 118.5h0M1772.5 122.5h0M1773 122.5h0M1771.5 118.5h0M1777.5 120h0M1868.5 144h0M1856.5 136.5h0M1869 146h0M1862.5 142.5h0M1857.5 152.5h0M1858.5 152h0M1877.5 145h0M1861.5 147h0M1853 129.5h0M1875.5 146.5h0M1862.5 156h0M1867 130.5h0M1862.5 139h0M1872 137h0M1862 151.5h0M1857.5 141h0M1872.5 147.5h0M1868 141.5h0M1852.5 144.5h0M1874.5 131h0M1862.5 149h0M1865.5 144h0M1869.5 157.5h0M1857 139h0M1871.5 135.5h0M1857 165h0M1874 132.5h0M1864 151h0M1875 151.5h0M1855.5 138h0M1872 144.5h0M1856 148.5h0M1866.5 134.5h0M1857.5 145.5h0M1870.5 145.5h0M1857 124.5h0M1856 131h0M1862 133.5h0M1866.5 130h0M1865.5 156.5h0M1861.5 134h0M1865.5 162h0M1859.5 131.5h0M1874.5 143.5h0M1850 137h0M1873.5 130.5h0M1856 155.5h0M1858.5 130.5h0M1862 154h0M1847.5 154h0M1865.5 147.5h0M1869 142.5h0M1845.5 143h0M1869 164h0M1858 133h0M1871 132h0M1859.5 136.5h0M1857 140h0M1862 128h0M1855.5 149h0M1862.5 133.5h0M1858 151h0M1866.5 121.5h0M1872 151.5h0M1859.5 148.5h0M1867 166.5h0M1859.5 115h0M1864.5 144.5h0M1838.5 141.5h0M1869 145.5h0M1861 138h0M1859 149.5h0M1872.5 143.5h0M1856.5 142h0M1852.5 142.5h0M1871.5 141.5h0M1870 126h0M1884.5 147h0M1856 142h0M1852 143.5h0M1855 156.5h0M1870.5 148h0M1858.5 135h0M1855.5 156.5h0M1851 145h0M1859 143.5h0M1868 151.5h0M1870.5 145h0M1856 134.5h0M1858 147h0M1870.5 145.5h0M1871 144h0M1855 135.5h0M1875 147h0M1865 141h0M1867 146h0M1858 143.5h0M1858 137.5h0M1864 133.5h0M1869.5 140h0M1871.5 133.5h0M1855 161.5h0M1876.5 146h0M1876.5 148.5h0M1867 146.5h0M1877 153h0M1852.5 145h0M1848 140h0M1861 150.5h0M1871 140h0M1863.5 154.5h0M1863.5 138.5h0M1861 157.5h0M1864 145.5h0M1863 148h0M1862.5 155h0M1876 146.5h0M1849.5 155h0M1865 144h0M1843.5 149.5h0M1867 114.5h0M1868.5 168.5h0M1877 147h0M1861.5 137.5h0M1878 150h0M1857.5 131h0M1869 140h0M1881 153h0M1865 149.5h0M1866.5 134.5h0M1868 154.5h0M1858.5 140h0M1867 142h0M1874.5 151.5h0M1873 146.5h0M1862.5 156.5h0M1868 148.5h0M1876 136.5h0M1849 140.5h0M1866.5 153.5h0M1861.5 139.5h0M1858 143h0M1859.5 156h0M1886.5 142.5h0M1864 141h0M1866 137h0M1862 137.5h0M1862 137.5h0M1870 133.5h0M1876 145h0M1852.5 131h0M1856.5 129h0M1863 163.5h0M1862 150h0M1865 142h0M1879.5 148h0M1851.5 144.5h0M1852 141.5h0M1864.5 156h0M1865 137h0M1865 147.5h0M1857 142.5h0M1873.5 167.5h0M1867.5 136.5h0M1871.5 137h0M1857 142h0M1848 178h0M1866.5 144h0M1869.5 132.5h0M1839 148.5h0M1869.5 143h0M1856.5 147h0M1858 155h0M1862.5 150.5h0M1847.5 136h0M1856.5 147.5h0M1855 137h0M1851.5 140.5h0M1848 132.5h0M1867.5 150h0M1878 154.5h0M1875.5 149h0M1856.5 135.5h0M1870 153h0M1855 153h0M1864 147.5h0M1854.5 124h0M1851 140.5h0M1870 141h0M1874.5 132h0M1878 146.5h0M1858 139h0M1871.5 134h0M1852 143.5h0M1868.5 141.5h0M1860.5 154h0M1863 143.5h0M1879 159.5h0M1855 134h0M1853 149h0M1868.5 141h0M1861.5 136.5h0M1865.5 152.5h0M1850.5 137.5h0M1870 146h0M1860.5 142h0M1839.5 132h0M1860 141h0M1856 141h0M1862.5 132h0M1863 143.5h0M1863 146.5h0M1869.5 162.5h0M1842 163h0M1864 150h0M1860.5 146.5h0M1859.5 143h0M1881.5 147.5h0M1854 155h0M1861 133.5h0M1851 151h0M1863 150h0M1849 130.5h0M1861.5 149h0M1859 155.5h0M1861.5 133.5h0M1868 149.5h0M1867 146h0M1850 148h0M1860 129h0M1863 142.5h0M1857 149h0M1857 134h0M1875 146.5h0M1884.5 168.5h0M1881.5 169h0M1872 164.5h0M1887.5 161h0M1872.5 163.5h0M1877.5 163h0M1879 163.5h0M1881 164.5h0M1882.5 164.5h0M1878.5 166h0M1776.5 202h0M1773 212h0M1797.5 214.5h0M1783 200.5h0M1769.5 209.5h0M1771 229.5h0M1778 228.5h0M1776 223.5h0M1763 231h0M1765.5 211.5h0M1776.5 207h0M1786.5 197h0M1783.5 189h0M1763.5 218.5h0M1792 195.5h0M1784 204.5h0M1794.5 213.5h0M1797 203.5h0M1797.5 201h0M1796 218h0M1763.5 222.5h0M1780.5 220h0M1769.5 203.5h0M1765.5 229h0M1778 178.5h0M1786.5 211h0M1805.5 205h0M1783.5 203.5h0M1747 221h0M1773 218h0M1779 179.5h0M1777 220h0M1788.5 221h0M1773 193h0M1782.5 195h0M1792 206h0M1786 213h0M1787.5 214h0M1783 211h0M1770 188h0M1761 224h0M1771 214h0M1759 203.5h0M1801 234.5h0M1785.5 212h0M1785.5 235.5h0M1766 209.5h0M1773.5 171h0M1779.5 222h0M1772.5 194.5h0M1792.5 201h0M1776 202.5h0M1776 211h0M1787.5 214h0M1800.5 194h0M1781.5 206.5h0M1802.5 187.5h0M1777.5 221h0M1770.5 209.5h0M1780 214.5h0M1780.5 194h0M1787 177.5h0M1768.5 197.5h0M1776.5 211h0M1814.5 228h0M1778 212.5h0M1793 216h0M1776.5 183.5h0M1756.5 215.5h0M1790 207.5h0M1805 213h0M1766 215h0M1767 225h0M1774.5 203.5h0M1777.5 228h0M1763.5 225.5h0M1795 220h0M1778 221.5h0M1773 198.5h0M1791 189.5h0M1782.5 202h0M1774.5 208.5h0M1773 225.5h0M1770.5 194.5h0M1764 209.5h0M1780 208h0M1780 194h0M1782 219.5h0M1763 205h0M1778 204.5h0M1769.5 200.5h0M1767 229.5h0M1765 195h0M1762.5 211h0M1767.5 216.5h0M1779 213.5h0M1786 208.5h0M1774 209.5h0M1788 197h0M1775.5 230h0M1782 225h0M1785 186.5h0M1774 192h0M1780.5 207h0M1785.5 212h0M1774 223.5h0M1764.5 186.5h0M1787.5 214h0M1785 196.5h0M1785 217h0M1778.5 209h0M1776 214.5h0M1763.5 226h0M1768.5 195h0M1791 207.5h0M1761.5 211h0M1772.5 214h0M1773.5 210.5h0M1778.5 227h0M1775 221h0M1787 215h0M1779.5 216.5h0M1776 221.5h0M1770.5 224.5h0M1778.5 206h0M1783 227.5h0M1780.5 230.5h0M1780.5 215h0M1773 211.5h0M1780.5 206h0M1772.5 206.5h0M1783.5 218h0M1792 192.5h0M1792.5 220h0M1781 223.5h0M1783 196.5h0M1785.5 198.5h0M1785.5 199.5h0M1770.5 220.5h0M1778 205.5h0M1792.5 212h0M1791 209h0M1780.5 192.5h0M1789 207.5h0M1787.5 205.5h0M1769.5 214.5h0M1787.5 190h0M1773.5 223h0M1791 208h0M1782.5 217h0M1783.5 201h0M1788 227.5h0M1782 213h0M1777.5 216.5h0M1785.5 206h0M1770.5 198h0M1784.5 213h0M1779 191.5h0M1772 227h0M1775 202h0M1787.5 223h0M1778 213h0M1784 216h0M1778 211.5h0M1784.5 225.5h0M1783.5 194.5h0M1775 202.5h0M1786 225h0M1784 200h0M1779 210.5h0M1786.5 213h0M1786 207h0M1793 199.5h0M1780.5 221h0M1786 200.5h0M1777 207.5h0M1786.5 219.5h0M1771.5 208.5h0M1782.5 221h0M1785 223.5h0M1778.5 205h0M1782 213.5h0M1796 211.5h0M1780 201.5h0M1782.5 207h0M1785 210h0M1776 202.5h0M1777 210.5h0M1764 204h0M1780.5 198.5h0M1785 208h0M1785 213h0M1778.5 223h0M1786.5 199.5h0M1779.5 198.5h0M1777 209.5h0M1777.5 209h0M1784 221h0M1784.5 220h0M1777 207.5h0M1787 206h0M1784 212h0M1784.5 222h0M1782 206h0M1776 227.5h0M1786.5 199h0M1772 189h0M1781 205h0M1765.5 213h0M1781 228.5h0M1781.5 197.5h0M1781.5 211.5h0M1774 198.5h0M1777 210.5h0M1787.5 204h0M1783 226.5h0M1775 200.5h0M1777 215.5h0M1775 220.5h0M1777 205h0M1783.5 218.5h0M1778.5 209.5h0M1786.5 227.5h0M1777.5 218.5h0M1787 217h0M1782 213.5h0M1774 209.5h0M1776 206h0M1782 229h0M1783 207.5h0M1788.5 202h0M1786.5 203.5h0M1783 229h0M1780.5 204.5h0M1780 216.5h0M1767.5 229.5h0M1774.5 215h0M1784.5 203.5h0M1779 221h0M1778.5 217h0M1780.5 210.5h0M1782 214h0M1779.5 221h0M1781.5 212h0M1767 196h0M1785.5 217.5h0M1783 222h0M1769.5 209.5h0M1785.5 218.5h0M1787.5 218h0M1780 223.5h0M1777 207.5h0M1791.5 208h0M1789.5 203.5h0M1781 220h0M1771 210h0M1767.5 204h0M1780 211h0M1787 201.5h0M1791 207.5h0M1872 213.5h0M1862.5 239h0M1879.5 256h0M1879 225h0M1876 224.5h0M1874.5 236h0M1885 229h0M1883 247.5h0M1860 220.5h0M1873.5 242.5h0M1859.5 242.5h0M1855 255h0M1863.5 242h0M1867 246.5h0M1878.5 218h0M1875.5 239h0M1865 246.5h0M1876 249h0M1854 241.5h0M1868 237.5h0M1888 244h0M1883 229.5h0M1868.5 227.5h0M1869 235h0M1882 229h0M1883.5 230.5h0M1889.5 232h0M1866 240.5h0M1871 230h0M1880 245.5h0M1882 222h0M1881.5 214.5h0M1874.5 232.5h0M1865 243h0M1863 231h0M1863.5 250.5h0M1882 238h0M1873 231h0M1882 248h0M1866.5 225.5h0M1884 224h0M1878 251.5h0M1858 242h0M1877.5 250.5h0M1886 229h0M1876.5 243.5h0M1884.5 242.5h0M1877 223.5h0M1876 238.5h0M1876 223h0M1866 240h0M1865.5 251h0M1879.5 235h0M1885 243.5h0M1877 242.5h0M1889.5 229h0M1882 245.5h0M1865 247h0M1871 229.5h0M1869.5 240.5h0M1867 228h0M1872.5 238h0M1865 228h0M1862.5 231h0M1881 243.5h0M1864 238h0M1870 242h0M1875.5 216.5h0M1860.5 241h0M1869 247.5h0M1864.5 214.5h0M1895.5 259h0M1868 255.5h0M1867 228h0M1879 211.5h0M1861 221h0M1886 223.5h0M1873 239h0M1874.5 242h0M1881.5 242.5h0M1867.5 239.5h0M1875 244.5h0M1883.5 235h0M1867 211h0M1877.5 235.5h0M1880 225.5h0M1870.5 229h0M1863.5 223.5h0M1870 230h0M1879.5 243.5h0M1878 233h0M1877.5 235.5h0M1859.5 227h0M1871 245.5h0M1860 261h0M1871.5 229h0M1873.5 232.5h0M1873.5 218.5h0M1877 242.5h0M1893.5 236h0M1875.5 256h0M1865.5 248.5h0M1874.5 231h0M1864 266h0M1872.5 247h0M1876.5 214h0M1871.5 234h0M1885.5 249h0M1861 237.5h0M1850 240h0M1869.5 252h0M1881.5 225h0M1876 235.5h0M1871 237.5h0M1870.5 252.5h0M1869.5 268.5h0M1853 231.5h0M1870 228.5h0M1850.5 218.5h0M1872.5 226h0M1891.5 233h0M1874.5 224.5h0M1861.5 256.5h0M1861.5 237.5h0M1876 237h0M1880 252h0M1870.5 248h0M1883.5 241.5h0M1887.5 227.5h0M1886.5 229h0M1875 245.5h0M1880.5 275h0M1871 252h0M1854.5 242.5h0M1856.5 209h0M1862 250h0M1872 235.5h0M1869 225h0M1863 239h0M1847 247h0M1869.5 235.5h0M1866 251.5h0M1868 250.5h0M1860.5 241h0M1877.5 242h0M1869.5 223h0M1885 219.5h0M1886.5 263h0M1863.5 246h0M1884 221.5h0M1865 258h0M1881.5 253h0M1868 234h0M1865 212h0M1871.5 260.5h0M1875 252h0M1869 223.5h0M1865 213.5h0M1864 213h0M1872.5 257h0M1868 239h0M1871 236.5h0M1868.5 241.5h0M1852.5 239.5h0M1854.5 241h0M1858.5 241h0M1872.5 243h0M1865 234.5h0M1871.5 230h0M1863 249.5h0M1868 240.5h0M1867.5 228h0M1887 229.5h0M1873 240h0M1876.5 244.5h0M1858 241.5h0M1861 235.5h0M1878 212h0M1878.5 245h0M1859.5 254.5h0M1881.5 230.5h0M1861.5 246.5h0M1865 212h0M1865.5 241.5h0M1882.5 229h0M1870 236.5h0M1870 235h0M1879.5 242h0M1882.5 216.5h0M1881.5 227h0M1862.5 239.5h0M1876 250.5h0M1862 241h0M1881.5 222h0M1888 235.5h0M1854.5 230h0M1879 235h0M1878.5 243.5h0M1869 218.5h0M1874.5 222h0M1877 243h0M1871 243h0M1875 230h0M1856 212.5h0M1870.5 260.5h0M1866 229h0M1862.5 238h0M1870.5 238h0M1872 210.5h0M1851 242.5h0M1874.5 227.5h0M1872.5 246h0M1856 237.5h0M1868 231.5h0M1866.5 207.5h0M1873.5 242h0M1864.5 237h0M1866.5 232.5h0M1876 231.5h0M1894 243.5h0M1859 243h0M1879.5 209h0M1878 228.5h0M1869 232h0M1856.5 232h0M1870.5 234.5h0M1859.5 235h0M1871 224h0M1880.5 239.5h0M1880 234h0M1874 254h0M1875.5 234.5h0M1868.5 246.5h0M1872.5 229h0M1878.5 214.5h0M1877 210h0M1883 198h0M1886.5 208.5h0M1878 215.5h0M1881 210.5h0M1885 215h0M1882.5 213.5h0M1876 206h0M1886 209h0M1877.5 217.5h0M1887.5 213h0M1881 219h0M1879.5 204.5h0M1882 208h0M1883 205.5h0M1889.5 210h0M1884.5 215.5h0M1895.5 207.5h0M1879.5 213h0M1884.5 212.5h0M1883.5 218h0M1887.5 216h0M1870 208h0M1877 206.5h0M1879 222.5h0M1883.5 203h0M1882.5 215.5h0M1889 210h0M1880 204.5h0M1881 209h0M1874.5 204.5h0M1707 291h0M1682.5 296.5h0M1699.5 254h0M1692 280.5h0M1675.5 267h0M1689.5 290h0M1689 279.5h0M1696 258.5h0M1682.5 284.5h0M1697.5 288.5h0M1692 264.5h0M1679.5 303.5h0M1679.5 276.5h0M1693.5 250.5h0M1691.5 282.5h0M1696 265h0M1688 271.5h0M1694 275h0M1667 257.5h0M1687.5 270h0M1695.5 261.5h0M1679.5 275h0M1695.5 285h0M1701 284h0M1693 291h0M1697.5 248.5h0M1708 279.5h0M1692 268.5h0M1689.5 259.5h0M1696.5 268h0M1695.5 254h0M1699.5 285.5h0M1700 283.5h0M1698 277h0M1696.5 290h0M1694 257.5h0M1694 279h0M1707.5 280.5h0M1684 268h0M1692 305.5h0M1698.5 271.5h0M1687.5 290.5h0M1693.5 281.5h0M1689 276.5h0M1704.5 296.5h0M1694.5 268h0M1691 255.5h0M1696.5 259.5h0M1694.5 271h0M1697 291h0M1695.5 283.5h0M1692.5 252.5h0M1694 292h0M1700 276h0M1704 259h0M1701 280h0M1694.5 282h0M1705.5 263h0M1701.5 281.5h0M1692.5 275h0M1686 274h0M1698.5 285h0M1691 293.5h0M1690 276.5h0M1702 266h0M1694 287.5h0M1702 287.5h0M1682 296.5h0M1688.5 289.5h0M1690.5 281h0M1683 302.5h0M1691 301h0M1697.5 286h0M1681.5 266.5h0M1699 279h0M1693.5 300h0M1694.5 270h0M1691 263.5h0M1790.5 309.5h0M1785 303h0M1787 307.5h0M1796 304h0M1782 296.5h0M1785 299.5h0M1791 297.5h0M1784.5 321.5h0M1782 289.5h0M1781.5 302.5h0M1787 311.5h0M1793 309.5h0M1775.5 320h0M1781.5 301h0M1787.5 310h0M1788 290h0M1798.5 293h0M1777 304h0M1788 305h0M1780 298h0M1780 300.5h0M1792 312.5h0M1797.5 314.5h0M1765 297h0M1777 308h0M1776 308h0M1801 298h0M1787 315.5h0M1779 299.5h0M1796.5 301h0M1797 291.5h0M1792.5 309h0M1773.5 298.5h0M1782 310.5h0M1782 305.5h0M1775.5 324h0M1797 309h0M1784 306.5h0M1772 305h0M1765 296h0M1788 324h0M1797.5 315h0M1806.5 306h0M1795.5 301h0M1793.5 306h0M1764 303h0M1804.5 293.5h0M1793.5 321h0M1785.5 308h0M1782.5 295h0M1797.5 303.5h0M1782.5 314h0M1795 313h0M1810 301.5h0M1789.5 298h0M1784 314h0M1794 307h0M1797 298h0M1782.5 308h0M1784.5 273.5h0M1791 314.5h0M1782.5 285.5h0M1801 307.5h0M1790 307.5h0M1789.5 296.5h0M1784 310h0M1781 300.5h0M1793.5 303h0M1787.5 298h0M1799.5 298h0M1772 289h0M1788.5 302.5h0M1789 307.5h0M1795 321.5h0M1785.5 299h0M1778 318h0M1761 303h0M1804.5 288h0M1780 306h0M1795.5 315h0M1783 308.5h0M1791.5 302.5h0M1790.5 299.5h0M1787 306.5h0M1796 299h0M1787.5 306.5h0M1782.5 307.5h0M1784.5 310.5h0M1786.5 309h0M1783 302h0M1773.5 286h0M1803.5 321.5h0M1784 312.5h0M1764.5 309.5h0M1785 292.5h0M1795.5 316h0M1784 307h0M1788 290.5h0M1777 283.5h0M1779 299.5h0M1780 294.5h0M1788.5 306h0M1787 302.5h0M1784 296h0M1804.5 303h0M1791 315h0M1774 301h0M1795 301h0M1794.5 313.5h0M1788 318h0M1799.5 304h0M1798.5 316h0M1786 291h0M1790.5 312.5h0M1776.5 290.5h0M1792 313h0M1788.5 305h0M1782 300.5h0M1803.5 285h0M1778 313.5h0M1794.5 304.5h0M1784 308h0M1790 303.5h0M1779 300h0M1818.5 300.5h0M1816 302h0M1790.5 310.5h0M1780 307.5h0M1795 293.5h0M1782 294h0M1796 300.5h0M1796.5 312h0M1780.5 300.5h0M1770.5 319h0M1789.5 296.5h0M1791.5 309.5h0M1792.5 292.5h0M1795 306h0M1800 310h0M1771 300h0M1774 308h0M1786 308.5h0M1803.5 287.5h0M1793 319.5h0M1787 301h0M1790 293.5h0M1793.5 317h0M1794.5 294.5h0M1793.5 302h0M1789 298h0M1807.5 294h0M1786 322.5h0M1788 307.5h0M1802.5 308h0M1799.5 307.5h0M1782 305.5h0M1780 301h0M1791 298.5h0M1766.5 302.5h0M1790 297h0M1785.5 297.5h0M1792.5 302h0M1797.5 309.5h0M1776.5 305.5h0M1786 305.5h0M1787 289h0M1782.5 325h0M1785.5 310h0M1789.5 306.5h0M1786.5 302h0M1801 315.5h0M1786 299.5h0M1770.5 327.5h0M1795.5 296h0M1775.5 284h0M1775.5 307.5h0M1786.5 294.5h0M1800 302h0M1773.5 303.5h0M1781 337h0M1799 321.5h0M1793.5 315.5h0M1799 292.5h0M1780.5 301h0M1782 309h0M1774 309h0M1794 306.5h0M1808.5 296.5h0M1786.5 321.5h0M1795 286h0M1784 305h0M1780 295.5h0M1773 312h0M1783 315h0M1801 295h0M1790 297h0M1778 310h0M1796.5 297.5h0M1789 328h0M1788.5 310.5h0M1789.5 314.5h0M1780.5 309h0M1788.5 287.5h0M1796.5 322.5h0M1790 302.5h0M1792.5 292h0M1774 323h0M1792 303.5h0M1788.5 303h0M1782 306h0M1800 310.5h0M1792 307.5h0M1777.5 307.5h0M1787 301h0M1776 286h0M1795 293.5h0M1790 328.5h0M1790.5 292.5h0M1782.5 308.5h0M1793.5 285h0M1789.5 305h0M1880.5 327.5h0M1890 330.5h0M1873.5 318.5h0M1874.5 324h0M1876 319h0M1864.5 316.5h0M1874.5 326h0M1872 327h0M1875 319.5h0M1874.5 319.5h0M1867.5 320.5h0M1873 325h0M1871 309.5h0M1875 325h0M1870.5 321.5h0M1865.5 315h0M1878.5 323.5h0M1876.5 319.5h0M1878.5 323h0M1863.5 320h0M1871 322.5h0M1867.5 317h0M1866.5 321.5h0M1877.5 325.5h0M1881 329h0M1873 318h0M1871 318h0M1869.5 318.5h0M1872 315h0M1869 332.5h0M1854.5 332h0M1871 322.5h0M1870.5 320.5h0M1877 319.5h0M1868.5 322h0M1869.5 321.5h0M1876 324h0M1873.5 314.5h0M1875.5 328h0M1869.5 324.5h0M1877 327.5h0M1877.5 323.5h0M1877.5 317.5h0M1877.5 320.5h0M1867.5 314h0M1866 322.5h0M1862 319.5h0M1868.5 321.5h0M1865.5 323h0M1867.5 323h0M1877 316.5h0M1875.5 322.5h0M1824.5 283h0M1822.5 296h0M1823 300h0M1821 297.5h0M1821.5 313.5h0M1817.5 301h0M1821.5 310.5h0M1819 303.5h0M1815 304h0M1818 290.5h0M1819.5 303h0M1816.5 296h0M1819 296.5h0M1602.5 347.5h0M1611.5 324h0M1605 331.5h0M1612.5 328h0M1614.5 330h0M1614 326.5h0M1602 344.5h0M1593 361h0M1612 320.5h0M1597.5 356h0M1600 340.5h0M1602.5 349h0M1599 352.5h0M1599 337.5h0M1600.5 334h0M1599.5 331h0M1591.5 358h0M1594.5 365h0M1603 344h0M1603 353h0M1603 334h0M1614 337.5h0M1612.5 324h0M1600 332h0M1602.5 338h0M1619 327.5h0M1607.5 333h0M1604.5 340.5h0M1603.5 330h0M1583.5 355h0M1593 355h0M1602.5 329h0M1593.5 346h0M1603.5 341h0M1591 333.5h0M1609 335h0M1608.5 338.5h0M1608 351h0M1601 331h0M1611.5 330.5h0M1603 347.5h0M1601.5 341h0M1600 345.5h0M1590.5 331.5h0M1607.5 333h0M1620.5 325.5h0M1612 328.5h0M1599 333h0M1597 332.5h0M1614.5 353.5h0M1615 323.5h0M1596.5 327.5h0M1597 340h0M1601 330.5h0M1623 333.5h0M1606.5 348h0M1625.5 330.5h0M1603 335h0M1608 340h0M1610.5 347.5h0M1598 341h0M1612.5 347h0M1599 351.5h0M1599.5 343h0M1610.5 346.5h0M1600 352.5h0M1612 349h0M1620.5 340.5h0M1596.5 339.5h0M1601 349.5h0M1613.5 353h0M1601.5 350.5h0M1597.5 335h0M1598 354h0M1607 346h0M1610 333.5h0M1600.5 335.5h0M1602 345.5h0M1610.5 340h0M1612.5 326.5h0M1621.5 321h0M1606 334.5h0M1597 348.5h0M1596 363.5h0M1612 325.5h0M1613.5 340.5h0M1599.5 359h0M1609.5 353.5h0M1598.5 345h0M1616 323h0M1600.5 340h0M1612 337.5h0M1618 310h0M1623.5 330h0M1597.5 360h0M1593 349h0M1602 334.5h0M1598.5 335h0M1603.5 345.5h0M1609.5 343h0M1600 334h0M1603.5 318.5h0M1599.5 347h0M1601.5 337.5h0M1609.5 339h0M1598.5 346.5h0M1602.5 348.5h0M1599.5 337h0M1611 333h0M1603.5 351h0M1596.5 344.5h0M1598.5 356h0M1597 333h0M1603.5 354.5h0M1605.5 341.5h0M1594 357.5h0M1604 350.5h0M1612 332.5h0M1611 349h0M1614 330.5h0M1607.5 353.5h0M1615.5 335.5h0M1595 330.5h0M1611 329.5h0M1611 322h0M1608.5 332.5h0M1598 341.5h0M1594.5 349.5h0M1604 336h0M1594 359.5h0M1604.5 344.5h0M1606 334.5h0M1595 335h0M1612 346h0M1604.5 347.5h0M1614 327h0M1609 340.5h0M1603.5 347.5h0M1609 335.5h0M1605.5 324.5h0M1610 359.5h0M1625 322.5h0M1603.5 337.5h0M1598.5 345.5h0M1603.5 328.5h0M1615.5 328.5h0M1601.5 334.5h0M1608.5 343h0M1606.5 335h0M1602.5 344.5h0M1623 328h0M1614 323h0M1625 321.5h0M1601 348.5h0M1607 341.5h0M1605.5 337h0M1596 337.5h0M1593.5 356h0M1603.5 347h0M1600.5 349h0M1608 330.5h0M1606.5 334.5h0M1603 349h0M1611 333h0M1605.5 343.5h0M1604 335.5h0M1606.5 334h0M1592 355.5h0M1605 337h0M1604 322.5h0M1594.5 347.5h0M1598 352.5h0M1604 335h0M1592.5 360h0M1599 345h0M1590.5 354.5h0M1603 343.5h0M1617 331.5h0M1599 354.5h0M1608.5 341.5h0M1593 355h0M1617 327.5h0M1604.5 344.5h0M1602.5 352h0M1614.5 327h0M1608.5 325.5h0M1611 320.5h0M1615 326.5h0M1596.5 340.5h0M1605.5 346.5h0M1613.5 323h0M1607.5 349.5h0M1614 336.5h0M1608 328.5h0M1615.5 332h0M1599.5 357h0M1589 340h0M1600.5 350h0M1602.5 340.5h0M1603.5 326.5h0M1617.5 354h0M1605 333.5h0M1608.5 342.5h0M1607 328h0M1594.5 359.5h0M1617 329h0M1620 323h0M1604 326h0M1602.5 347.5h0M1595.5 334.5h0M1601.5 348h0M1599.5 339h0M1607.5 350h0M1604.5 336.5h0M1622 330.5h0M1601 342h0M1608.5 348h0M1605 345.5h0M1596 346h0M1603 325h0M1600.5 340.5h0M1601 323h0M1600 337h0M1607 319.5h0M1609 348h0M1606.5 333.5h0M1610.5 340h0M1601 330.5h0M1603 348.5h0M1610.5 346h0M1619 334.5h0M1593 355.5h0M1597 353.5h0M1589 344h0M1596 365h0M1618 332.5h0M1606.5 324.5h0M1613 357h0M1599 355h0M1621 320.5h0M1616.5 329h0M1610 344.5h0M1607 331.5h0M1600 353h0M1608.5 336.5h0M1613.5 342h0M1610.5 322.5h0M1604 330h0M1591.5 354.5h0M1590 360h0M1598.5 357.5h0M1614.5 326.5h0M1612.5 328h0M1589 359h0M1601.5 367h0M1608 333h0M1605 337.5h0M1607 354.5h0M1604.5 344h0M1595.5 320h0M1508.5 420h0M1526.5 392h0M1524 391.5h0M1526.5 390.5h0M1525 387h0M1522.5 394h0M1505.5 421h0M1504 413h0M1528.5 400h0M1517 404h0M1532 379.5h0M1536.5 365.5h0M1524 388.5h0M1538.5 383.5h0M1524 390.5h0M1524.5 386h0M1501 418h0M1510 408h0M1539 373h0M1512.5 404.5h0M1532 381h0M1548.5 372h0M1524.5 392h0M1505.5 395.5h0M1517.5 403.5h0M1523.5 407h0M1522.5 400.5h0M1525.5 385.5h0M1515.5 405h0M1524.5 395h0M1501.5 417.5h0M1539.5 372h0M1495 422.5h0M1525 386.5h0M1531 389h0M1496 419h0M1518.5 386.5h0M1522.5 390h0M1520 388h0M1501 431.5h0M1521 396h0M1523 397.5h0M1509 409.5h0M1513 407.5h0M1518.5 380.5h0M1535.5 378.5h0M1527 388h0M1510.5 407h0M1510.5 412.5h0M1535 367h0M1518 400.5h0M1521 399h0M1538 384.5h0M1518 391.5h0M1519.5 389h0M1539 371.5h0M1498.5 414.5h0M1521.5 398h0M1523.5 384h0M1504 409h0M1527 385h0M1531 392.5h0M1520 413h0M1523 384h0M1520.5 387.5h0M1522.5 387.5h0M1544 361h0M1511.5 419.5h0M1545.5 377h0M1514.5 389h0M1514.5 408h0M1527 386h0M1519 386h0M1524 383.5h0M1531.5 390h0M1534.5 402h0M1519.5 390h0M1517.5 404h0M1533.5 381.5h0M1515.5 401.5h0M1522.5 402h0M1517.5 396h0M1520.5 380h0M1511.5 411h0M1523 399h0M1526 407h0M1511.5 392h0M1517.5 387h0M1519 402.5h0M1508.5 398.5h0M1533.5 387h0M1520.5 396h0M1518 390h0M1525.5 391.5h0M1535.5 374.5h0M1537.5 362.5h0M1522.5 390.5h0M1498.5 425h0M1514.5 389.5h0M1523 396h0M1520 395.5h0M1507.5 410h0M1505.5 413h0M1528.5 379.5h0M1530.5 373.5h0M1509 408h0M1537.5 384.5h0M1523.5 393h0M1521.5 391.5h0M1529.5 402.5h0M1516 392.5h0M1508.5 408h0M1524.5 379.5h0M1536 377.5h0M1516.5 397.5h0M1518 405h0M1522 401.5h0M1530 397.5h0M1518 393h0M1525.5 394.5h0M1535 394h0M1532.5 376.5h0M1506 402h0M1499.5 406.5h0M1525.5 392.5h0M1508 421h0M1508 408.5h0M1522.5 403.5h0M1513 396h0M1528.5 381h0M1513.5 428h0M1521.5 375h0M1506 421h0M1517 403h0M1518.5 402h0M1499.5 417h0M1510.5 403h0M1506.5 410.5h0M1516.5 414.5h0M1530 387h0M1495.5 429h0M1509 413h0M1517.5 394.5h0M1515 409.5h0M1542 376h0M1510 410.5h0M1512 416h0M1504 416h0M1509.5 413h0M1514 411h0M1536.5 362h0M1524.5 381h0M1516 388h0M1517.5 385.5h0M1548.5 382h0M1508.5 415.5h0M1507 407.5h0M1508.5 409h0M1522 412.5h0M1524.5 396.5h0M1519 385h0M1511 405.5h0M1532.5 372h0M1512 396.5h0M1526.5 394h0M1505 413h0M1529 395.5h0M1506.5 407h0M1530.5 392h0M1522.5 384.5h0M1520 405h0M1531 378h0M1531 376.5h0M1518 395h0M1497 414h0M1519 394h0M1516.5 401h0M1535.5 388h0M1509.5 406h0M1517 384.5h0M1526 404.5h0M1520 396.5h0M1509.5 418h0M1526.5 377h0M1522.5 385.5h0M1513.5 421.5h0M1522.5 384.5h0M1502 416.5h0M1503 417h0M1515 396h0M1537 367.5h0M1532.5 392h0M1522 387.5h0M1524.5 385.5h0M1513.5 413h0M1538.5 396h0M1530 393h0M1514 411h0M1528.5 395h0M1521 378h0M1506.5 418.5h0M1514.5 411.5h0M1525.5 386.5h0M1520.5 402h0M1513.5 386h0M1542 367h0M1513.5 397h0M1523.5 393.5h0M1531 379.5h0M1525.5 390.5h0M1525 393.5h0M1533 390h0M1543.5 373.5h0M1500 428.5h0M1535 387.5h0M1506.5 409h0M1510.5 411.5h0M1536.5 375h0M1528 394.5h0M1514 406.5h0M1512.5 404h0M1528 384h0M1521 393h0M1517.5 400.5h0M1514 390h0M1518 388.5h0M1534 379.5h0M1524.5 370h0M1512 399h0M1530.5 388h0M1525.5 398h0M1532.5 383.5h0M1517.5 404.5h0M1518 384h0M1534.5 375h0M1517.5 397h0M1504.5 406h0M1525 380h0M1522.5 395h0M1515 382.5h0M1529 386.5h0M1521.5 387h0M1512 407h0M1507 422h0M1528 386h0M1506.5 419h0M1516.5 401h0M1519 403.5h0M1513.5 402h0M1536 396.5h0M1537 395h0M1523 395.5h0M1520 399h0M1527 386h0M1512 411.5h0M1535.5 365h0M1513 419h0M1523.5 378.5h0M1513 419h0M1532 388h0M1517.5 408h0M1513.5 385.5h0M1537.5 391h0M1527 391.5h0M1522.5 415h0M1530 371.5h0M1527.5 388h0M1548 371.5h0M1521.5 400.5h0M1517.5 400.5h0M1498 423.5h0M1516.5 394.5h0M1506.5 413h0M1517 393.5h0M1521 395h0M1513 401.5h0M1531.5 387h0M1520 400h0M1507.5 400.5h0M1529 374h0M1533.5 396.5h0M1531 389h0M1521 391h0M1526.5 394.5h0M1519 409h0M1498.5 420h0M1531.5 473h0M1508.5 491.5h0M1514.5 477h0M1538 465.5h0M1517 474.5h0M1538 471h0M1512 484h0M1537 470h0M1519 476.5h0M1520 477.5h0M1535.5 479h0M1526 474.5h0M1516.5 481.5h0M1540 458.5h0M1520.5 467h0M1516.5 480.5h0M1520 467h0M1530.5 471h0M1532.5 469.5h0M1524 474.5h0M1524 477.5h0M1532.5 471h0M1532 456.5h0M1518.5 478.5h0M1539 479h0M1520.5 465h0M1538.5 483h0M1530 481h0M1531.5 463.5h0M1545.5 456.5h0M1528.5 470h0M1525.5 478h0M1528 473.5h0M1523 473.5h0M1522 475h0M1516.5 484.5h0M1530 475h0M1543.5 457h0M1529 470h0M1523 463.5h0M1545.5 466.5h0M1530 479.5h0M1531.5 478h0M1540.5 456h0M1522 470h0M1532.5 472.5h0M1538 477h0M1521.5 473.5h0M1542 473h0M1521 479h0M1520 480.5h0M1532.5 477h0M1524 473h0M1519.5 493.5h0M1536 462h0M1524 472h0M1519.5 482.5h0M1529 464.5h0M1548 470.5h0M1526 476.5h0M1516 475h0M1535 468h0M1523 484.5h0M1521.5 475.5h0M1536.5 464h0M1532.5 471h0M1528 477.5h0M1550 456.5h0M1515.5 492.5h0M1522.5 462h0M1529 472.5h0M1534.5 478.5h0M1512 488.5h0M1537 467h0M1521 475h0M1532 468h0M1516 492h0M1530 477h0M1514.5 478.5h0M1530.5 467.5h0M1528.5 479.5h0M1543 462h0M1509 486.5h0M1530.5 481h0M1526.5 468h0M1532 471.5h0M1532 475h0M1525.5 473.5h0M1532.5 472.5h0M1532.5 457h0M1537 464.5h0M1531 485.5h0M1527.5 469h0M1528 477h0M1513 477.5h0M1529 479h0M1526.5 481.5h0M1543.5 465h0M1533 473.5h0M1522 477.5h0M1534.5 473.5h0M1521.5 483.5h0M1516.5 477.5h0M1515 480.5h0M1532 473h0M1531 472.5h0M1536.5 473h0M1536.5 468.5h0M1528.5 468.5h0M1553.5 476h0M1535 464h0M1513 484h0M1513 489.5h0M1536.5 479.5h0M1550 465.5h0M1514 487h0M1537.5 475.5h0M1521 482.5h0M1515 478.5h0M1527.5 464h0M1529 477.5h0M1527 475h0M1528.5 473h0M1524 473h0M1520.5 471.5h0M1541 473.5h0M1527.5 480h0M1535.5 466h0M1522.5 487.5h0M1520.5 481.5h0M1520.5 508.5h0M1510.5 516h0M1520.5 533h0M1512.5 513.5h0M1531 498h0M1503.5 498h0M1520 527.5h0M1512.5 508h0M1523 474.5h0M1517.5 512h0M1524 525.5h0M1522.5 494.5h0M1507 531.5h0M1526 511.5h0M1524 506h0M1502 524.5h0M1531.5 506h0M1524.5 513.5h0M1519.5 509.5h0M1522 492.5h0M1515 490h0M1520.5 517h0M1520.5 505.5h0M1519 521h0M1503.5 532h0M1509.5 509h0M1524.5 504.5h0M1523 504h0M1538.5 506.5h0M1518.5 518.5h0M1525 505.5h0M1525 512.5h0M1524.5 520h0M1523 504h0M1516.5 486h0M1517 515.5h0M1513.5 534h0M1512 522h0M1515.5 502.5h0M1526.5 508.5h0M1526 503h0M1516 519.5h0M1518.5 507.5h0M1516 523h0M1516 508h0M1527 505.5h0M1517 506.5h0M1525.5 526.5h0M1518.5 527.5h0M1519.5 519.5h0M1523.5 497.5h0M1530.5 495.5h0M1526 498h0M1512.5 525h0M1515 514.5h0M1525.5 513h0M1514 513.5h0M1524.5 494.5h0M1524 514h0M1526.5 514h0M1528.5 493.5h0M1520.5 497.5h0M1523 535h0M1527 503.5h0M1518.5 507.5h0M1518.5 511.5h0M1522.5 515h0M1513.5 501.5h0M1501 520.5h0M1530.5 527.5h0M1528 504h0M1525.5 508.5h0M1524 514.5h0M1519 500h0M1529 499.5h0M1529 508h0M1518.5 523.5h0M1516 522.5h0M1532 488.5h0M1537 498.5h0M1521.5 506h0M1520 519.5h0M1527 503h0M1512 489.5h0M1513.5 530.5h0M1515.5 507h0M1505 524.5h0M1512 520.5h0M1527 513h0M1517.5 507h0M1522.5 504h0M1501.5 550.5h0M1527 500.5h0M1537 509h0M1522 511.5h0M1534 519.5h0M1521.5 511h0M1512.5 499h0M1539 480h0M1512.5 509h0M1510 530h0M1523 514.5h0M1522 529.5h0M1526 499.5h0M1517.5 524.5h0M1525 515h0M1526 536h0M1501 520.5h0M1521.5 521.5h0M1500.5 502.5h0M1525.5 543.5h0M1537.5 493h0M1515 525.5h0M1531.5 495.5h0M1519 499.5h0M1515 528.5h0M1517 511h0M1524 508h0M1508.5 513.5h0M1532 513h0M1525.5 532h0M1508.5 520.5h0M1532 505h0M1520 517h0M1528 517h0M1517 534h0M1523.5 507h0M1519.5 508.5h0M1521 525h0M1515.5 516.5h0M1515.5 519h0M1512.5 520h0M1535.5 514h0M1523.5 508.5h0M1533 492h0M1538 507h0M1520.5 513h0M1524 508h0M1520 502.5h0M1526.5 499h0M1520.5 519.5h0M1522 522h0M1521 513h0M1530 507.5h0M1523 499.5h0M1523 533h0M1508.5 515.5h0M1520.5 522h0M1523 520h0M1544.5 486.5h0M1512.5 527h0M1520 522.5h0M1521 528h0M1514 524.5h0M1516.5 530.5h0M1518.5 521h0M1511 525h0M1508.5 531.5h0M1529.5 533.5h0M1527.5 486h0M1505 507h0M1537.5 500h0M1528 503h0M1519 491.5h0M1518 508.5h0M1521.5 475h0M1516 510h0M1514 515.5h0M1516.5 501.5h0M1507.5 519.5h0M1521 505h0M1521 537.5h0M1519.5 505.5h0M1535.5 501.5h0M1515.5 502h0M1511.5 522.5h0M1501.5 509h0M1527.5 502h0M1519.5 522h0M1523 494h0M1519.5 523.5h0M1515 505.5h0M1524 517.5h0M1503.5 518h0M1521 497.5h0M1534.5 503.5h0M1517 513h0M1525.5 526h0M1512 520h0M1508.5 527.5h0M1518 483.5h0M1527 493h0M1535.5 509.5h0M1539.5 498h0M1528.5 510.5h0M1525.5 499.5h0M1523 514.5h0M1542 516.5h0M1526 507.5h0M1529.5 508.5h0M1522.5 510.5h0M1520.5 515h0M1525 495h0M1529 507h0M1517 498h0M1521 513.5h0M1529.5 506.5h0M1513.5 517h0M1525.5 527h0M1503.5 514h0M1521.5 510.5h0M1513 534.5h0M1520 523.5h0M1511.5 504h0M1523 524.5h0M1529 513h0M1534 510h0M1516.5 507h0M1533 510h0M1511 510.5h0M1512 523.5h0M1520.5 515h0M1528.5 490.5h0M1512 506.5h0M1512.5 516h0M1524 507.5h0M1523 512h0M1508.5 510.5h0M1529 504.5h0M1516 508h0M1525 515.5h0M1516 509h0M1522 492h0M1510.5 500.5h0M1526 528.5h0M1506 536h0M1520 495h0M1512.5 489.5h0M1527.5 516h0M1525.5 498h0M1530.5 501h0M1505.5 502.5h0M1517.5 527h0M1507.5 529.5h0M1536 508.5h0M1528 499h0M1523.5 502.5h0M1500 507h0M1523 518h0M1529 524h0M1506 513h0M1522 510.5h0M1525 501h0M1521 494.5h0M1530.5 497h0M1521 519.5h0M1515.5 519h0M1516.5 521h0M1520 524h0M1520.5 512.5h0M1613 409.5h0M1608 400h0M1616 400.5h0M1617.5 398h0M1628.5 408.5h0M1588.5 399h0M1612 411.5h0M1624.5 404h0M1595.5 401h0M1617.5 406h0M1611.5 408.5h0M1602.5 414.5h0M1618 403.5h0M1628.5 394h0M1622.5 411h0M1625.5 405h0M1620 403h0M1617.5 405h0M1617.5 407.5h0M1619.5 412.5h0M1609.5 397.5h0M1614 399h0M1621.5 405h0M1610.5 413h0M1620.5 414.5h0M1615 404.5h0M1612 414h0M1620.5 406.5h0M1619.5 412h0M1628 403h0M1619 405.5h0M1612 401h0M1622.5 399.5h0M1614 408.5h0M1614.5 402.5h0M1619.5 404h0M1630 411h0M1616.5 408.5h0M1625 392h0M1608 407.5h0M1616 411h0M1620 406.5h0M1622 401h0M1617.5 408.5h0M1620.5 404.5h0M1615 416.5h0M1625.5 407h0M1610 409h0M1613 415.5h0M1620 401h0M1626 408.5h0M1622 410.5h0M1620.5 405h0M1607.5 393.5h0M1627 402h0M1619 412h0M1619 410.5h0M1620 411.5h0M1616.5 400.5h0M1600.5 399h0M1622 400.5h0M1612 401h0M1603.5 411h0M1619.5 402h0M1609.5 411.5h0M1615.5 405.5h0M1614 410h0M1611.5 399.5h0M1610 406h0M1610.5 400h0M1608 404h0M1619.5 409.5h0M1618.5 414.5h0M1606 404.5h0M1602 406.5h0M1615 392.5h0M1618.5 398.5h0M1614 403h0M1618 417h0M1612 417.5h0M1607 399.5h0M1625 400.5h0M1624.5 397h0M1619.5 410h0M1600.5 408h0M1611.5 405h0M1614.5 411h0M1623.5 407.5h0M1614 408.5h0M1597 410h0M1608 407h0M1616 410.5h0M1606.5 411.5h0M1630 411.5h0M1602.5 407.5h0M1600.5 410h0M1617 399.5h0M1613.5 408h0M1606 405.5h0M1612 397.5h0M1614.5 406.5h0M1617 412h0M1622.5 406h0M1602.5 402h0M1615.5 453h0M1603.5 443.5h0M1607.5 426.5h0M1624 441h0M1604.5 430.5h0M1611 457.5h0M1606.5 439h0M1598 429.5h0M1612.5 441.5h0M1614 441h0M1611 436h0M1605.5 441.5h0M1616.5 434.5h0M1619 440h0M1610 427.5h0M1603 430.5h0M1618 430.5h0M1615.5 437h0M1608.5 435.5h0M1620 439.5h0M1621.5 429.5h0M1589 432h0M1608 426h0M1601 433h0M1604 440.5h0M1603 428.5h0M1604 425.5h0M1606 439.5h0M1603.5 444h0M1603.5 435.5h0M1601.5 441.5h0M1615 435.5h0M1601 449.5h0M1613.5 445h0M1593.5 432h0M1620 431.5h0M1590 437.5h0M1615 442.5h0M1603 432h0M1605.5 434.5h0M1614.5 436h0M1610 433.5h0M1612.5 433h0M1601.5 433.5h0M1602 434.5h0M1622.5 432h0M1610.5 436.5h0M1602.5 430h0M1621 433h0M1606 437.5h0M1608 430h0M1627 433h0M1612.5 432.5h0M1604.5 434.5h0M1608 429.5h0M1610.5 434h0M1620.5 450h0M1602 432.5h0M1616.5 437h0M1605.5 444.5h0M1607 433h0M1610 435.5h0M1617.5 431.5h0M1606.5 425.5h0M1601.5 446h0M1623.5 426h0M1611.5 429.5h0M1609.5 428h0M1609.5 433.5h0M1604 432.5h0M1595.5 433.5h0M1611.5 442.5h0M1609.5 429h0M1604 431.5h0M1606 426h0M1601.5 436h0M1600 446h0M1612 430h0M1605.5 442h0M1604.5 417h0M1620.5 445.5h0M1614 449h0M1604.5 429h0M1615 432.5h0M1604.5 435.5h0M1601.5 441h0M1602 427h0M1612.5 438h0M1606 441h0M1608.5 447h0M1608 425.5h0M1610.5 427.5h0M1606 436h0M1612.5 429.5h0M1611.5 438.5h0M1615.5 441h0M1631.5 429h0M1617 434h0M1611 440.5h0M1612.5 446h0M1602.5 436.5h0M1614.5 428.5h0M1622.5 425h0M1601 434h0M1619 434h0M1605 440.5h0M1598 437h0M1605.5 430h0M1624 442.5h0M1608.5 436h0M1605.5 424h0M1602.5 436.5h0M1594 447.5h0M1599 435h0M1617.5 434.5h0M1615 447.5h0M1603 435h0M1624 433.5h0M1621.5 440.5h0M1614.5 438.5h0M1592 438.5h0M1613.5 438h0M1609.5 432.5h0M1594.5 441.5h0M1612.5 445h0M1616.5 439h0M1612 442.5h0M1606 439.5h0M1613 426.5h0M1621 442.5h0M1612 440h0M1617 427h0M1627.5 449.5h0M1610.5 439h0M1604 435.5h0M1602.5 438.5h0M1615 432h0M1593 437h0M1606.5 424.5h0M1602 439.5h0M1602 426.5h0M1609 447h0M1613.5 437h0M1608 438h0M1618 441.5h0M1605 432.5h0M1617.5 437.5h0M1623 445.5h0M1608 432.5h0M1603.5 438h0M1608 448h0M1617 424h0M1611 427.5h0M1612 424h0M1616.5 434h0M1617.5 427.5h0M1595.5 460.5h0M1610 462.5h0M1609 458h0M1606.5 460h0M1609.5 461h0M1594 461h0M1622 455h0M1613.5 457.5h0M1606.5 458.5h0M1597.5 455.5h0M1603 468.5h0M1622.5 457h0M1587 462h0M1609.5 452.5h0M1616.5 450.5h0M1608.5 458.5h0M1613 460.5h0M1612 467h0M1607.5 468.5h0M1604.5 465h0M1604.5 470.5h0M1594 454.5h0M1600 466.5h0M1612 470h0M1610 452.5h0M1596 461.5h0M1609 465h0M1605.5 460h0M1609.5 459h0M1601 466h0M1605 461.5h0M1591.5 469h0M1602.5 465.5h0M1605.5 467h0M1603 462.5h0M1608 462h0M1598 461.5h0M1602.5 454h0M1599.5 464h0M1635.5 461h0M1597 456h0M1619.5 462h0M1621.5 463h0M1611.5 475h0M1614.5 466h0M1598 471.5h0M1600 453h0M1613 465h0M1622 461.5h0M1604.5 469.5h0M1614.5 463.5h0M1617.5 465h0M1597.5 459h0M1613.5 458.5h0M1604 471h0M1607.5 476.5h0M1612 463h0M1599 459h0M1594.5 465h0M1615.5 466.5h0M1615 465.5h0M1618.5 468.5h0M1600 464.5h0M1597 454h0M1600 458.5h0M1610.5 451.5h0M1606.5 457h0M1598 456h0M1622 462.5h0M1597.5 439.5h0M1605 470.5h0M1622 454.5h0M1614 462.5h0M1617.5 466h0M1594 462h0M1610.5 470h0M1603.5 463h0M1597 465.5h0M1599 452.5h0M1610 463h0M1600.5 461.5h0M1608.5 450.5h0M1602 475.5h0M1617.5 463.5h0M1601.5 451h0M1601 461h0M1594.5 462h0M1605 458h0M1604.5 465h0M1602 468h0M1626.5 462h0M1615.5 511.5h0M1620 491h0M1634 504.5h0M1615 524.5h0M1613.5 515h0M1622.5 508h0M1621 511h0M1613.5 516h0M1630.5 499.5h0M1632.5 517h0M1597.5 529h0M1609 497h0M1618.5 521h0M1617 524h0M1625 516.5h0M1622 519.5h0M1608 484h0M1612 517h0M1620 501h0M1617.5 523.5h0M1614 517h0M1610.5 518h0M1605.5 523.5h0M1621 511.5h0M1619 497.5h0M1598 527.5h0M1604 525.5h0M1629 500h0M1610 528h0M1609 495.5h0M1628 511h0M1617.5 509.5h0M1631.5 503h0M1637 500.5h0M1605.5 520h0M1625.5 505.5h0M1618 518.5h0M1594 513.5h0M1626.5 500.5h0M1602.5 508h0M1620 499h0M1603 517h0M1611 519h0M1623.5 530.5h0M1627.5 498h0M1632 515h0M1621 512h0M1629 498.5h0M1638.5 511.5h0M1626.5 502.5h0M1606 516.5h0M1602.5 515.5h0M1623 503h0M1623.5 498.5h0M1601 514.5h0M1632 505.5h0M1620 511h0M1612.5 509.5h0M1608.5 503h0M1634 514h0M1597.5 521h0M1611 512h0M1618.5 508.5h0M1598.5 508h0M1606.5 494.5h0M1617 540h0M1612.5 524h0M1611 508.5h0M1622.5 517h0M1623 496h0M1624 505.5h0M1613.5 521h0M1626 517.5h0M1623.5 511h0M1623.5 508.5h0M1594 528h0M1612 499h0M1616.5 518h0M1618 537h0M1622.5 498h0M1616.5 510h0M1616 520.5h0M1634.5 498h0M1620 513h0M1624 505h0M1629 524h0M1616 525h0M1596.5 518.5h0M1622 515.5h0M1611 507h0M1597 510.5h0M1606.5 509h0M1596 540.5h0M1625 515.5h0M1618 518h0M1613.5 522h0M1648 514h0M1615 518h0M1622 503h0M1603.5 507h0M1616.5 528h0M1627 543.5h0M1633.5 499h0M1626 506.5h0M1617 508h0M1621 499h0M1613 525.5h0M1636.5 503h0M1591.5 508h0M1607 521h0M1620 512.5h0M1631.5 497.5h0M1613 511.5h0M1612.5 510.5h0M1617 506.5h0M1595.5 521.5h0M1620.5 514.5h0M1614.5 518h0M1607.5 508.5h0M1592 530h0M1591.5 514.5h0M1628 522h0M1626.5 522h0M1601.5 519h0M1610.5 518h0M1617 499.5h0M1615.5 511.5h0M1634 526.5h0M1611 513.5h0M1627.5 490.5h0M1606 509h0M1615.5 518h0M1604 548.5h0M1606.5 513.5h0M1605 524.5h0M1642.5 524.5h0M1611 536.5h0M1608.5 522.5h0M1602 521.5h0M1636 508.5h0M1627.5 503h0M1620.5 513h0M1616.5 512.5h0M1598 529.5h0M1609.5 520.5h0M1600.5 521h0M1622.5 532h0M1622 512.5h0M1603.5 516h0M1616 507.5h0M1606.5 510.5h0M1620.5 525h0M1619.5 499.5h0M1636.5 520.5h0M1598 508.5h0M1617.5 525.5h0M1633 504.5h0M1604 513.5h0M1606 526.5h0M1616.5 507.5h0M1625.5 506.5h0M1603.5 518h0M1614 503h0M1616 517.5h0M1590.5 518.5h0M1622 508.5h0M1595 505h0M1619.5 509.5h0M1604 500h0M1625 510.5h0M1614 516.5h0M1615 501h0M1600 513.5h0M1611 522h0M1629.5 507.5h0M1625 513h0M1617 504h0M1628.5 517.5h0M1598 529h0M1622 514h0M1605.5 519.5h0M1626.5 520.5h0M1623.5 492.5h0M1638 511h0M1639 518h0M1619.5 521h0M1600 518.5h0M1621.5 511h0M1617 502.5h0M1609 527h0M1617 508h0M1634.5 515.5h0M1625.5 529h0M1615.5 505h0M1632.5 491h0M1616.5 517.5h0M1616 527.5h0M1622.5 521.5h0M1613.5 509.5h0M1617.5 522h0M1627 512.5h0M1638 505.5h0M1622.5 530.5h0M1631 521h0M1615 521h0M1632.5 506h0M1622 523.5h0M1611.5 517.5h0M1612.5 513.5h0M1610 531.5h0M1603 528h0M1608.5 512.5h0M1593.5 519.5h0M1609 498.5h0M1612 500h0M1624 515.5h0M1637.5 513h0M1610.5 526h0M1606 505.5h0M1627.5 506h0M1621 516.5h0M1702.5 359.5h0M1712.5 360.5h0M1701.5 382h0M1703.5 370.5h0M1691.5 374.5h0M1671 395h0M1706 389.5h0M1706.5 361h0M1696.5 398h0M1704.5 367.5h0M1710.5 340.5h0M1701 392h0M1702 369.5h0M1712 357.5h0M1701 386.5h0M1689 357h0M1705.5 368.5h0M1699.5 357h0M1682 399.5h0M1707 373.5h0M1687.5 383h0M1712 385.5h0M1697 368.5h0M1696 370h0M1700.5 378.5h0M1693.5 389h0M1691 341.5h0M1695.5 352.5h0M1699 372.5h0M1702 391.5h0M1707 384h0M1707 377h0M1691.5 339.5h0M1709.5 384.5h0M1698 361h0M1687 372h0M1701 372h0M1703 367.5h0M1689.5 387h0M1694 355.5h0M1698.5 385.5h0M1700 406h0M1688 400h0M1704 390.5h0M1702 379h0M1704.5 384h0M1707 372h0M1700.5 378h0M1693.5 372.5h0M1697 345h0M1694.5 369h0M1692.5 383.5h0M1701.5 360.5h0M1701.5 398h0M1688.5 358h0M1703 361h0M1697.5 367.5h0M1697.5 375.5h0M1699.5 389h0M1700 362.5h0M1706.5 369h0M1701 366.5h0M1696.5 386h0M1709.5 360.5h0M1692 381h0M1687 354.5h0M1702 370.5h0M1694.5 378.5h0M1682.5 395.5h0M1694 377h0M1702 378.5h0M1705.5 368.5h0M1720 360.5h0M1695 350h0M1695.5 366.5h0M1705 375h0M1704 382.5h0M1709 364.5h0M1698.5 386h0M1698 378.5h0M1695.5 359.5h0M1695.5 379h0M1701 385h0M1706 365h0M1695 359.5h0M1686 373.5h0M1699.5 370.5h0M1704 362h0M1685.5 385.5h0M1702.5 349.5h0M1701.5 393h0M1708 382h0M1694.5 357.5h0M1694 368.5h0M1695.5 370h0M1709.5 389.5h0M1694.5 381h0M1700.5 348.5h0M1703.5 358h0M1695.5 377.5h0M1689.5 363h0M1697 387.5h0M1703.5 370h0M1699 379.5h0M1711.5 381.5h0M1699.5 387.5h0M1703.5 369h0M1693.5 388.5h0M1690.5 359h0M1701 365h0M1700 374.5h0M1697 389h0M1707 401h0M1690 383.5h0M1695.5 366h0M1692 367.5h0M1691 353h0M1694 379.5h0M1701 400h0M1699 367.5h0M1683 396.5h0M1700.5 395h0M1697.5 349.5h0M1708.5 391h0M1711.5 389h0M1688 362h0M1697 397.5h0M1693.5 388h0M1728 390.5h0M1703.5 392.5h0M1697.5 381h0M1698.5 367.5h0M1688.5 392.5h0M1695.5 394.5h0M1709.5 381.5h0M1691.5 363.5h0M1697 345.5h0M1694.5 364h0M1712 360h0M1707.5 353.5h0M1698.5 364h0M1706.5 369h0M1702 374h0M1700 376h0M1702.5 384.5h0M1704 385h0M1701 377h0M1691.5 383h0M1694.5 370h0M1701.5 365h0M1689 374h0M1700 356h0M1702.5 352.5h0M1685 372.5h0M1709 360h0M1700 377h0M1716 359.5h0M1684 392.5h0M1705.5 370.5h0M1696 356.5h0M1702.5 374.5h0M1698.5 354h0M1696 377h0M1702 379h0M1694 355h0M1699 389h0M1699 355.5h0M1695.5 391h0M1696 352h0M1708 403.5h0M1691.5 397h0M1696.5 358h0M1701.5 403.5h0M1697 364h0M1695.5 368.5h0M1707.5 352.5h0M1694 349h0M1706 366h0M1689 385.5h0M1692 388.5h0M1697 336.5h0M1710.5 348h0M1702 365.5h0M1705.5 367.5h0M1699.5 362h0M1691 376.5h0M1697 359.5h0M1700.5 370h0M1703.5 389.5h0M1689.5 378h0M1698.5 387.5h0M1711.5 367h0M1685.5 404h0M1705 370h0M1695 382.5h0M1708 370.5h0M1713 375h0M1708.5 367.5h0M1705.5 343h0M1707 390h0M1706 354h0M1692.5 407.5h0M1697 388.5h0M1703 374.5h0M1698.5 376h0M1702.5 380h0M1718.5 334.5h0M1694.5 367h0M1699 352h0M1693 346.5h0M1684.5 390.5h0M1692 370h0M1691.5 405.5h0M1705.5 400h0M1699 372.5h0M1701.5 366.5h0M1705 391h0M1703 359h0M1708.5 351.5h0M1694.5 397.5h0M1700.5 355h0M1692.5 358h0M1706.5 382.5h0M1699.5 368h0M1698 389.5h0M1704 398.5h0M1695.5 382.5h0M1701.5 350h0M1711 387h0M1703 374.5h0M1686.5 365.5h0M1701 408h0M1707.5 351.5h0M1699 386h0M1695 353h0M1693 344h0M1702 366h0M1709.5 373.5h0M1699 366.5h0M1696.5 401h0M1705 355.5h0M1704.5 367.5h0M1695.5 376.5h0M1709 364h0M1700 362h0M1692 332h0M1711 372h0M1681 378h0M1695.5 380.5h0M1697.5 392.5h0M1710 375h0M1685 332.5h0M1699.5 380h0M1697 382h0M1699 374.5h0M1698 382.5h0M1687 381.5h0M1692.5 357h0M1703.5 386h0M1695 347h0M1797 391.5h0M1800 397h0M1765 397.5h0M1782 393.5h0M1791.5 397h0M1798.5 386h0M1811 391h0M1794.5 389h0M1789 403.5h0M1782 399.5h0M1802 396h0M1794 392.5h0M1774.5 389.5h0M1793 395.5h0M1800.5 396.5h0M1796.5 392h0M1806.5 392h0M1798 403h0M1788 388.5h0M1798 391.5h0M1800 385.5h0M1786 397.5h0M1793 389h0M1799 390.5h0M1792 396h0M1806 396.5h0M1780 388h0M1789 383h0M1790.5 393h0M1796 390h0M1783.5 392.5h0M1791.5 407h0M1815 385h0M1798.5 393h0M1794.5 393.5h0M1782.5 395h0M1789 392.5h0M1786 399h0M1788.5 386h0M1798 393h0M1785 391h0M1792 401h0M1799 384h0M1781.5 384.5h0M1794 391h0M1786.5 396.5h0M1791.5 406.5h0M1799.5 393h0M1810 388.5h0M1776 381.5h0M1814.5 389.5h0M1802 392h0M1786.5 393h0M1789 380.5h0M1775.5 391h0M1793.5 396.5h0M1799.5 401.5h0M1785.5 382.5h0M1794 392.5h0M1805.5 392h0M1794 389h0M1788.5 403h0M1785.5 381h0M1791 392.5h0M1780 386h0M1785.5 382h0M1789.5 391.5h0M1783.5 389h0M1784 394h0M1792.5 388.5h0M1781.5 404h0M1782.5 393h0M1778 400.5h0M1792 393.5h0M1804.5 392h0M1806 393h0M1811.5 393h0M1781 402.5h0M1792.5 387.5h0M1793 395h0M1791 398h0M1786 388.5h0M1778 393.5h0M1790 391.5h0M1795.5 394.5h0M1785.5 392h0M1794.5 389h0M1785 399.5h0M1784.5 386.5h0M1796.5 395h0M1802.5 386h0M1790 389h0M1790.5 399.5h0M1793 375.5h0M1794.5 397h0M1806 393h0M1789 394h0M1767.5 400h0M1793 382.5h0M1776.5 391h0M1811 398h0M1800 386h0M1772.5 393.5h0M1805 398h0M1782.5 394.5h0M1786.5 389.5h0M1792.5 391h0M1791.5 397.5h0M1788 381.5h0M1793 396h0M1780 398.5h0M1803.5 392h0M1787.5 398.5h0M1799 396.5h0M1815.5 381.5h0M1798.5 387.5h0M1785 405h0M1802 386.5h0M1789.5 395.5h0M1791.5 398.5h0M1791.5 391.5h0M1778.5 388h0M1780 384.5h0M1774 397.5h0M1804.5 393h0M1811.5 381h0M1806 391.5h0M1776 393h0M1785 388h0M1773 397h0M1800 398h0M1803.5 387.5h0M1804.5 387h0M1808.5 393.5h0M1796.5 405h0M1774.5 398.5h0M1793.5 395.5h0M1807 397.5h0M1789 399.5h0M1813 393h0M1782.5 384.5h0M1791 384h0M1794 388h0M1779 393h0M1802.5 401h0M1786.5 392h0M1779 391.5h0M1791 406h0M1776.5 378h0M1792.5 403h0M1794.5 397h0M1792 392h0M1785 390.5h0M1781 406h0M1780 398h0M1807 397h0M1784 394h0M1783 392h0M1792 399h0M1797.5 389.5h0M1796.5 402.5h0M1796.5 396h0M1794 394h0M1777.5 398.5h0M1783.5 387.5h0M1797.5 399.5h0M1794 392h0M1788.5 390h0M1790.5 397h0M1795 404.5h0M1773.5 392.5h0M1771.5 403h0M1795.5 388h0M1781 397.5h0M1804 395.5h0M1789.5 394.5h0M1788.5 400h0M1792.5 397.5h0M1791 405h0M1795.5 390h0M1792 383h0M1774 399.5h0M1796 398.5h0M1786 398.5h0M1783 395h0M1781 400h0M1805 387h0M1794.5 395h0M1775.5 392h0M1779.5 394h0M1788 389.5h0M1795.5 386.5h0M1801 396h0M1779.5 384h0M1786 399.5h0M1791 390h0M1788 381.5h0M1774.5 389h0M1794 391.5h0M1788.5 388.5h0M1797 386.5h0M1788 393h0M1788 383.5h0M1784 397h0M1793 390.5h0M1791.5 384.5h0M1793.5 392.5h0M1784.5 402h0M1799 394h0M1794.5 396.5h0M1788 392.5h0M1800.5 395h0M1783 394h0M1785 386h0M1776.5 388h0M1777.5 392h0M1800 384h0M1782 393.5h0M1796 394h0M1777 405h0M1790.5 399.5h0M1784.5 391h0M1801.5 391h0M1796 397.5h0M1781 409.5h0M1795 391h0M1788 396h0M1799 394.5h0M1792.5 386h0M1787.5 398.5h0M1794.5 383.5h0M1800.5 394.5h0M1779.5 396.5h0M1768.5 385h0M1880 328.5h0M1866 335h0M1873.5 334h0M1871 329.5h0M1869.5 329h0M1872.5 331h0M1867 336.5h0M1877.5 336h0M1872 331h0M1872 337h0M1869.5 330.5h0M1873 336.5h0M1866 333.5h0M1868 326h0M1872.5 329h0M1870.5 330h0M1877.5 336h0M1876 329h0M1880 331h0M1879 332.5h0M1862 343.5h0M1875 342h0M1878.5 331.5h0M1861.5 329h0M1880.5 339h0M1881 331.5h0M1871.5 333.5h0M1871 337h0M1873.5 334h0M1874 338.5h0M1875 337h0M1881.5 331.5h0M1870 337h0M1889 335h0M1883.5 341h0M1882 337.5h0M1878 327h0M1877.5 340h0M1881 329.5h0M1876.5 339h0M1874 331h0M1876.5 334.5h0M1867 338.5h0M1862.5 335.5h0M1870 334.5h0M1868.5 340h0M1872 330h0M1876.5 331h0M1881 342.5h0M1864 333.5h0M1863.5 349.5h0M1878 337h0M1862.5 330h0M1870 341h0M1888.5 331h0M1867 335h0M1867.5 333.5h0M1865.5 334h0M1879 337.5h0M1875 337.5h0M1863 341h0M1864 342h0M1874 334.5h0M1879.5 332.5h0M1872 333.5h0M1876.5 341h0M1871.5 335.5h0M1873.5 338h0M1874.5 334.5h0M1878.5 336.5h0M1878.5 343h0M1855.5 339h0M1879.5 335.5h0M1872.5 335h0M1873.5 338.5h0M1873 339h0M1870.5 339.5h0M1874.5 337h0M1880.5 357.5h0M1880.5 368h0M1889 383h0M1878 394.5h0M1887.5 354.5h0M1882.5 366.5h0M1879.5 357.5h0M1883.5 361.5h0M1890 355.5h0M1887.5 355.5h0M1875 371h0M1881 366.5h0M1892 369.5h0M1885 345.5h0M1886 367h0M1884.5 350h0M1886.5 384.5h0M1890.5 375h0M1880.5 369.5h0M1880 349h0M1882.5 370h0M1881.5 358.5h0M1886.5 371h0M1884.5 370.5h0M1891 363.5h0M1888.5 361h0M1881.5 369h0M1884 383h0M1883 360h0M1885 377.5h0M1884 353.5h0M1882.5 369h0M1884 382.5h0M1886.5 342.5h0M1884.5 362h0M1885 377h0M1882 367h0M1884.5 368.5h0M1885 354h0M1884.5 379h0M1893 351.5h0M1888.5 349h0M1880.5 360h0M1883.5 372h0M1887.5 376h0M1795 334h0M1792 334.5h0M1802.5 331.5h0M1789 332.5h0M1777 328h0M1791.5 328h0M1796 325h0M1786 334h0M1778 333.5h0M1773.5 329h0M1781.5 332h0M1772 329.5h0M1774.5 333h0M1804 330h0M1783 331h0M1806.5 329.5h0M1806 333h0M1800 331h0M1795.5 330h0M1807.5 407.5h0M1805 415h0M1801 419h0M1796.5 417.5h0M1804.5 413h0M1809.5 415.5h0M1805 431.5h0M1795.5 409h0M1809 415h0M1795.5 427.5h0M1800.5 423h0M1804 406h0M1804 420.5h0M1794.5 416h0M1782.5 402.5h0M1811 419.5h0M1801.5 417.5h0M1790 409.5h0M1809.5 419.5h0M1800.5 409.5h0M1804 413h0M1795 424h0M1795.5 418.5h0M1806.5 418h0M1813 422h0M1799.5 420.5h0M1809 421.5h0M1794 425.5h0M1802.5 416.5h0M1804 426h0M1802 412.5h0M1806.5 422h0M1805 418.5h0M1801 422.5h0M1809 418.5h0M1811.5 429h0M1790 426h0M1803.5 428h0M1808.5 414.5h0M1805.5 417h0M1788 414h0M1801.5 414.5h0M1805 404h0M1807.5 421.5h0M1800 410.5h0M1794.5 412h0M1806 418h0M1808.5 415.5h0M1808.5 418h0M1802.5 413h0M1804.5 413h0M1805.5 415h0M1873 421.5h0M1869.5 416.5h0M1878.5 431h0M1875.5 424.5h0M1872.5 420h0M1876.5 419h0M1870.5 426.5h0M1877.5 418h0M1874 421h0M1875.5 429h0M1876 426h0M1886.5 421.5h0M1880.5 415h0M1881 412h0M1873.5 413.5h0M1879.5 422.5h0M1871.5 416.5h0M1873 424.5h0M1874.5 411h0M1877.5 412.5h0M1879 414h0M1871 427.5h0M1879 418h0M1878.5 429h0M1871 421h0M1871 409.5h0M1874.5 421h0M1875 408.5h0M1874.5 422.5h0M1870 420.5h0M1881.5 422h0M1871 416.5h0M1871 416.5h0M1877 408h0M1878 415h0M1864 417.5h0M1880 432.5h0M1872.5 427.5h0M1880.5 425h0M1877.5 415h0M1869.5 415.5h0M1871.5 418h0M1878.5 421h0M1872 427.5h0M1872.5 433h0M1872.5 407.5h0M1872.5 424h0M1866 418h0M1870 421.5h0M1879.5 425.5h0M1872.5 425.5h0M1877.5 415.5h0M1877 421h0M1880 415.5h0M1874.5 423.5h0M1877.5 427h0M1874 416.5h0M1888 427h0M1876.5 414.5h0M1875.5 423.5h0M1872 431h0M1887.5 416.5h0M1869.5 421.5h0M1877 426.5h0M1875.5 416h0M1871 415h0M1876 436h0M1874.5 422.5h0M1886 421h0M1886 422h0M1877.5 414.5h0M1876.5 420h0M1883.5 420.5h0M1880.5 414h0M1871 429h0M1882 424.5h0M1875 415h0M1872 422.5h0M1872 424h0M1879 422.5h0M1885 428.5h0M1876.5 424h0M1877 421.5h0M1873 422h0M1882.5 415h0M1878.5 426.5h0M1874 414h0M1880 433.5h0M1879.5 417h0M1875.5 418h0M1871 410.5h0M1877 425.5h0M1879 419.5h0M1876 412.5h0M1870.5 411.5h0M1876 416.5h0M1870.5 427.5h0M1875.5 428.5h0M1874.5 419h0M1880 418h0M1875 424h0M1864.5 416.5h0M1874.5 425.5h0M1876 423h0M1885.5 444h0M1891 450.5h0M1886 442h0M1887.5 442.5h0M1887 442h0M1886.5 452.5h0M1890 456.5h0M1878.5 453.5h0M1889.5 454h0M1890.5 459.5h0M1888.5 465.5h0M1883.5 466.5h0M1881.5 435h0M1886.5 462.5h0M1880 449h0M1880 452.5h0M1884.5 462.5h0M1884.5 459.5h0M1884.5 439h0M1889 445.5h0M1886 463h0M1878 458.5h0M1889.5 438h0M1889.5 459.5h0M1877.5 457h0M1889 438.5h0M1878.5 465h0M1885 438.5h0M1888 435h0M1887 455.5h0M1882 439.5h0M1884.5 456h0M1883 432.5h0M1877.5 447.5h0M1881 453h0M1886.5 448h0M1888 462.5h0M1888 443.5h0M1889 456h0M1885.5 446h0M1885 447h0M1886.5 451.5h0M1879.5 451h0M1877.5 455.5h0M1882.5 446.5h0M1895 453h0M1889 444.5h0M1884 438.5h0M1881.5 458h0M1882 459h0M1885 458h0M1889 459.5h0M1700 458h0M1722.5 456h0M1701 465h0M1699 459h0M1696 442.5h0M1715.5 458h0M1695 460.5h0M1706.5 472h0M1709.5 429.5h0M1701.5 453h0M1707.5 438.5h0M1697 448.5h0M1689 453.5h0M1716 446h0M1694 451h0M1686 459.5h0M1715 447h0M1701 461.5h0M1708.5 452.5h0M1695.5 445h0M1709.5 459.5h0M1709 448h0M1693.5 469h0M1706 461h0M1695 458h0M1688.5 473h0M1680.5 457.5h0M1691 476h0M1696.5 443h0M1692 437.5h0M1717.5 435h0M1702 454.5h0M1708 453h0M1688.5 456.5h0M1701 449h0M1710.5 453.5h0M1689 453h0M1706 456h0M1705.5 465.5h0M1703 441h0M1679.5 467h0M1707 445.5h0M1691.5 475.5h0M1718.5 455.5h0M1710 465h0M1725.5 468.5h0M1716 459.5h0M1716 447.5h0M1715 454.5h0M1695.5 462.5h0M1715.5 453.5h0M1690 449.5h0M1707 455.5h0M1710.5 470h0M1693 459h0M1722 437.5h0M1704 443.5h0M1717.5 461h0M1707 465.5h0M1693.5 452h0M1687.5 454h0M1686 457h0M1700 444h0M1708.5 447h0M1707 447h0M1688.5 463h0M1691 448h0M1704 449.5h0M1710 452.5h0M1715.5 463h0M1703 441.5h0M1690 421h0M1703.5 459.5h0M1702 453h0M1713.5 449.5h0M1699.5 438h0M1711 486h0M1700.5 451.5h0M1707 455h0M1696 450h0M1711.5 456.5h0M1700.5 442.5h0M1703.5 427.5h0M1710 446h0M1715.5 432h0M1716.5 438h0M1698.5 460.5h0M1700 467h0M1695.5 465.5h0M1713 476h0M1717.5 467.5h0M1696.5 437.5h0M1715 469h0M1712.5 484h0M1696.5 451h0M1695 474h0M1698.5 448h0M1704 469h0M1685 438h0M1707 485h0M1671 450h0M1717 453h0M1695.5 458h0M1708 446h0M1678 450.5h0M1691.5 449h0M1695 460h0M1699.5 450.5h0M1675 414.5h0M1721 476h0M1701 440.5h0M1703 453h0M1703.5 448.5h0M1701.5 454h0M1706.5 443.5h0M1722 470h0M1707 463h0M1708.5 454h0M1708 439.5h0M1704 456.5h0M1720.5 445h0M1704 459h0M1706.5 480h0M1688.5 468.5h0M1688.5 452.5h0M1698 457.5h0M1715 451h0M1716.5 457.5h0M1694.5 432.5h0M1709 457.5h0M1688 471.5h0M1689.5 459h0M1718.5 470.5h0M1698.5 443.5h0M1707.5 448.5h0M1710.5 469h0M1707.5 453.5h0M1705.5 449h0M1703 462h0M1712.5 455.5h0M1706 468h0M1703.5 456h0M1693.5 449.5h0M1701 435.5h0M1707 457.5h0M1694 469h0M1704 470.5h0M1692.5 449h0M1714.5 462h0M1721 443.5h0M1726 455h0M1706.5 429.5h0M1711 460.5h0M1697.5 447h0M1709.5 444h0M1713.5 454.5h0M1713.5 451h0M1699.5 466h0M1701 437.5h0M1706 449.5h0M1718.5 453h0M1698.5 441h0M1704.5 479h0M1692 461h0M1702 444.5h0M1712 466h0M1714 461h0M1679.5 450.5h0M1709 452h0M1715 446h0M1711.5 464h0M1698 467h0M1702.5 451h0M1722 443.5h0M1702.5 464h0M1701.5 443.5h0M1694 463h0M1693 453h0M1697.5 475h0M1685.5 467.5h0M1719.5 451h0M1708 448.5h0M1717 447.5h0M1702.5 483.5h0M1706.5 432.5h0M1707.5 453h0M1687.5 472h0M1695.5 451h0M1719.5 453h0M1713 454.5h0M1699.5 457h0M1707.5 433h0M1683.5 452h0M1701.5 455h0M1705 448h0M1716 478h0M1717.5 441.5h0M1715 469.5h0M1679 446.5h0M1663.5 461h0M1709 437h0M1711.5 457.5h0M1699 457h0M1701 448.5h0M1696.5 424h0M1707 443.5h0M1702 447.5h0M1701 458.5h0M1697.5 475h0M1698 433h0M1707 455.5h0M1712 451.5h0M1723 439.5h0M1695.5 470h0M1707.5 466h0M1699 447h0M1694 429h0M1710.5 449h0M1688.5 483h0M1696.5 447.5h0M1720.5 446h0M1697.5 456.5h0M1703 473.5h0M1705 473h0M1701.5 452h0M1714.5 455h0M1699 448h0M1701.5 461.5h0M1691 458h0M1701 470.5h0M1699 455.5h0M1713.5 441.5h0M1701 471h0M1685.5 414.5h0M1712 448.5h0M1708 442.5h0M1717.5 459.5h0M1691.5 450.5h0M1709 470h0M1687 458h0M1685.5 454.5h0M1699 497h0M1723 461h0M1689.5 435h0M1730.5 452.5h0M1697 451.5h0M1694 438.5h0M1724.5 473h0M1692.5 465h0M1720 438h0M1691 464.5h0M1693 457h0M1700.5 453h0M1708 460h0M1694 431.5h0M1680 451.5h0M1734.5 434h0M1700.5 440.5h0M1675 432.5h0M1685 451.5h0M1696 461.5h0M1712 448.5h0M1702 444.5h0M1719 464h0M1683.5 458h0M1709 470.5h0M1703.5 465.5h0M1704.5 451.5h0M1709.5 458.5h0M1717.5 427.5h0M1696 460h0M1706 454h0M1708.5 456h0M1710 448h0M1677.5 469h0M1697.5 450h0M1701 440h0M1705 447h0M1723 450h0M1715 457.5h0M1694 454h0M1713.5 438h0M1717.5 456h0M1693 454h0M1697 452.5h0M1713.5 440.5h0M1801.5 469.5h0M1780 473.5h0M1779.5 482.5h0M1785 483.5h0M1796.5 482h0M1767.5 481h0M1802.5 481h0M1788 485h0M1785 481h0M1788 484.5h0M1796.5 487h0M1793.5 474h0M1781 484.5h0M1799.5 485.5h0M1784.5 481h0M1787.5 492h0M1812.5 488h0M1779 485.5h0M1776.5 483h0M1793 492.5h0M1794 480h0M1796.5 488h0M1807 482.5h0M1785.5 483h0M1810.5 481.5h0M1803.5 477.5h0M1790.5 484.5h0M1798 484.5h0M1793 478.5h0M1784.5 499.5h0M1791 494.5h0M1787 478h0M1779 486h0M1804 484.5h0M1808 487.5h0M1803 484.5h0M1800.5 480.5h0M1786.5 489h0M1799 482h0M1800 488.5h0M1779 491h0M1807 480h0M1785 479h0M1797.5 474h0M1783.5 492h0M1775.5 482h0M1778 482h0M1787 481h0M1802.5 491.5h0M1779.5 485.5h0M1810 495.5h0M1808 479.5h0M1788 476h0M1807.5 479.5h0M1787.5 485h0M1794.5 485h0M1789.5 491.5h0M1794.5 488.5h0M1789 483.5h0M1795.5 481.5h0M1797 486.5h0M1803 485.5h0M1789.5 478h0M1777.5 485.5h0M1785 490h0M1779 486h0M1789 498.5h0M1781 486h0M1773.5 489h0M1787 483.5h0M1797 473.5h0M1784.5 484h0M1792 498h0M1778.5 489.5h0M1794.5 487.5h0M1787.5 485.5h0M1792 488.5h0M1801 489.5h0M1810 481.5h0M1793 477h0M1795.5 491.5h0M1769.5 484h0M1809.5 492.5h0M1781 484h0M1791.5 483h0M1788.5 486.5h0M1788 492.5h0M1769.5 490.5h0M1798.5 483h0M1795.5 481.5h0M1790.5 478h0M1797 492h0M1807 488h0M1779 481.5h0M1786.5 487.5h0M1785 484.5h0M1794.5 476.5h0M1771.5 484h0M1803.5 473.5h0M1794 480.5h0M1797.5 495.5h0M1789 477h0M1793.5 489.5h0M1800.5 474h0M1790 476h0M1769.5 484h0M1807.5 488.5h0M1780.5 476h0M1786 485h0M1788 481h0M1794.5 490.5h0M1784.5 489.5h0M1780 492h0M1782.5 493.5h0M1796.5 478.5h0M1799.5 480h0M1788.5 482h0M1787.5 493.5h0M1791 478.5h0M1802 473.5h0M1793.5 487.5h0M1804.5 486.5h0M1788.5 491.5h0M1793.5 488.5h0M1790 475.5h0M1801.5 492h0M1791 479.5h0M1805.5 494.5h0M1788.5 480h0M1779 485h0M1788.5 472h0M1780.5 480.5h0M1789.5 492h0M1800.5 477.5h0M1793.5 477.5h0M1794.5 478.5h0M1795 475.5h0M1795.5 499.5h0M1788.5 494h0M1789.5 484.5h0M1776.5 476h0M1779 496h0M1795.5 484.5h0M1787.5 482h0M1790 491.5h0M1785 486.5h0M1772.5 480.5h0M1784.5 491.5h0M1806.5 481.5h0M1792.5 504.5h0M1805.5 489h0M1801 482.5h0M1799 476h0M1793 477.5h0M1785 470h0M1792.5 497h0M1803 490.5h0M1806 482.5h0M1793 486h0M1765 490h0M1804.5 484.5h0M1782 492.5h0M1790.5 478.5h0M1805 487.5h0M1779.5 487.5h0M1799.5 498h0M1815.5 478.5h0M1795 490h0M1808.5 487h0M1801 490.5h0M1791.5 488.5h0M1779 479h0M1790 481.5h0M1787 481.5h0M1772 481h0M1806.5 491h0M1791 498h0M1788.5 488.5h0M1786.5 478.5h0M1784 482.5h0M1760 483.5h0M1779.5 490h0M1805 479.5h0M1792.5 496h0M1802.5 497h0M1793 474.5h0M1788 480h0M1784.5 487h0M1795.5 485h0M1787 491h0M1786.5 481h0M1792 489h0M1797.5 507h0M1811 496.5h0M1795.5 480h0M1809 480h0M1800 504.5h0M1785.5 496h0M1796 497h0M1785.5 498h0M1797 485h0M1798 479h0M1810.5 489.5h0M1788.5 487.5h0M1789 476h0M1781 484.5h0M1781 495h0M1783 474h0M1789.5 498.5h0M1791 490h0M1798.5 482.5h0M1783 471h0M1800 484h0M1793.5 487h0M1796 481h0M1797 498.5h0M1767.5 486h0M1784.5 483h0M1792 486h0M1786 482h0M1794.5 492h0M1782.5 482.5h0M1795 480.5h0M1794 492.5h0M1801 483.5h0M1802.5 471.5h0M1790 490.5h0M1795 492.5h0M1785 493h0M1804 490h0M1769.5 479.5h0M1791.5 487.5h0M1795.5 488h0M1814.5 490.5h0M1795.5 484h0M1797.5 487.5h0M1820 500h0M1778.5 482h0M1772.5 485h0M1797 486h0M1802 478h0M1816.5 487.5h0M1785.5 481h0M1797.5 482.5h0M1815.5 484h0M1800 487h0M1788 496.5h0M1793.5 478h0M1792 480h0M1783 491.5h0M1783 487h0M1772 476.5h0M1788.5 481h0M1786.5 491h0M1765 499.5h0M1779 493h0M1803 487.5h0M1785 486h0M1788.5 481.5h0M1788.5 480.5h0M1793 523h0M1795 513h0M1798.5 521h0M1792.5 523h0M1802 522.5h0M1810.5 501h0M1787.5 511.5h0M1798.5 517h0M1796.5 529.5h0M1793.5 517.5h0M1801 518.5h0M1798.5 521h0M1802.5 521h0M1797 505h0M1799 504h0M1795.5 518.5h0M1794.5 519.5h0M1799 508.5h0M1790.5 531h0M1798 533.5h0M1808.5 519h0M1795.5 515h0M1795.5 517h0M1797.5 510.5h0M1806 507h0M1791.5 521h0M1790 505h0M1791.5 511h0M1798.5 522.5h0M1782 518h0M1801 517.5h0M1785 522.5h0M1790.5 505h0M1795 522.5h0M1793 514h0M1784.5 516h0M1793 518h0M1795.5 524.5h0M1797.5 506.5h0M1800 503.5h0M1795 523.5h0M1806 521.5h0M1786.5 529h0M1800.5 529.5h0M1799 522h0M1799 521h0M1800.5 514h0M1793.5 528h0M1804.5 512.5h0M1793.5 521h0M1800 519.5h0M1790 523h0M1793 518h0M1793.5 523.5h0M1798 509.5h0M1799.5 513h0M1797 510.5h0M1795.5 517h0M1790.5 512h0M1793 525h0M1794 513h0M1793.5 511.5h0M1808.5 506.5h0M1801.5 513h0M1794.5 511.5h0M1799 516h0M1803.5 519h0M1798 494h0M1794 521.5h0M1799.5 529.5h0M1804.5 505h0M1794.5 516h0M1794.5 501.5h0M1809.5 524h0M1786.5 511.5h0M1796 521h0M1796 522.5h0M1802.5 518h0M1811 526h0M1801.5 523.5h0M1792 519.5h0M1792 520h0M1797.5 518.5h0M1791 509h0M1793.5 514.5h0M1791 505.5h0M1791 530.5h0M1798.5 505.5h0M1804 540.5h0M1800 521.5h0M1802.5 518h0M1790 517.5h0M1802.5 515h0M1795 521h0M1792.5 520.5h0M1810.5 514.5h0M1798.5 524h0M1804.5 517.5h0M1795.5 517h0M1803 522.5h0M1810.5 523.5h0M1800.5 507h0M1787 517h0M1792 522h0M1691 502.5h0M1681.5 505h0M1690 497.5h0M1697.5 502h0M1714 508h0M1697 493.5h0M1679.5 491.5h0M1695.5 501h0M1677.5 500.5h0M1683 503.5h0M1714 502.5h0M1691 497h0M1699.5 504h0M1699 491.5h0M1720.5 500h0M1696 509h0M1698 503.5h0M1705 502h0M1698 501h0M1716.5 503.5h0M1695.5 493.5h0M1697 498h0M1692 487.5h0M1690.5 508.5h0M1700 498.5h0M1687 496.5h0M1682 495h0M1704.5 491h0M1685.5 492h0M1675.5 485h0M1686 488h0M1696.5 492.5h0M1884 524h0M1883 529h0M1887.5 523.5h0M1886 534.5h0M1877 526h0M1879.5 531.5h0M1882 529.5h0M1885 520h0M1881.5 523h0M1882.5 532.5h0M1884 520.5h0M1883.5 534.5h0M1885.5 530.5h0M1880.5 534h0M1883 524.5h0M1884.5 524h0M1889.5 523.5h0M1887 520.5h0M1889.5 532h0M1881.5 529.5h0M1882 528h0M1885 526h0M1880 537h0M1878 539h0M1878.5 527.5h0M1879.5 527h0M1882 519h0M1869 537h0M1873 528h0M1872.5 529.5h0M1879.5 528.5h0M1888 529h0M1882.5 535.5h0M1881 536h0M1887 533h0M1886.5 536.5h0M1880.5 527h0M1892 521h0M1886.5 522.5h0M1878.5 533.5h0M1884.5 527.5h0M1887.5 533.5h0M1880 528.5h0M1880.5 528.5h0M1874.5 531h0M1879.5 530h0M1886 530.5h0M1882.5 526h0M1889 529.5h0M1880 523h0M1894 526h0M1881 532.5h0M1874.5 532h0M1887.5 512.5h0M1890.5 528.5h0M1875.5 533h0M1886.5 529h0M1881.5 523h0M1872.5 528h0M1880 524h0M1877.5 528h0M1881 532.5h0M1889 521.5h0M1880 522h0M1882 535.5h0M1643 263h0M1656 266h0M1892 293h0M1871 289h0M1583 388h0M1567 409h0M1500 420h0M1665 386h0M1820 420h0M1874 475h0M1769 426h0M1762 423h0M1730 478h0M1800 455h0M1672 496h0"/>
<path stroke="#248a14" d="M1507 148.5h0M1515.5 140h0M1523.5 145.5h0M1530 123h0M1495 134h0M1504.5 142h0M1536.5 144h0M1500.5 138.5h0M1528.5 140h0M1528.5 154h0M1526.5 138h0M1523.5 137h0M1510 135h0M1502.5 128h0M1516.5 128.5h0M1506.5 130h0M1499 116h0M1524 144.5h0M1518 130h0M1531 137.5h0M1496 134.5h0M1516 128.5h0M1522.5 124.5h0M1515.5 140h0M1488.5 139h0M1527 129h0M1499 133.5h0M1515 133.5h0M1510.5 127h0M1489.5 129.5h0M1528 140.5h0M1525 133.5h0M1629 168.5h0M1632.5 159.5h0M1632.5 166h0M1617.5 180h0M1626 164.5h0M1633.5 174.5h0M1630 175h0M1614 166.5h0M1626.5 173h0M1640.5 162.5h0M1617 177h0M1627 184h0M1616.5 173.5h0M1619 190.5h0M1634.5 183.5h0M1624.5 181.5h0M1622 175.5h0M1625.5 175.5h0M1627.5 175h0M1540.5 235h0M1540.5 234.5h0M1527.5 244h0M1543 223h0M1537 236.5h0M1544 225h0M1550.5 225h0M1540 232h0M1529 236.5h0M1545 228.5h0M1548 231h0M1531.5 243h0M1526.5 234h0M1547 227.5h0M1543.5 238.5h0M1533 248.5h0M1535.5 240.5h0M1536.5 231.5h0M1530 250.5h0M1536.5 240h0M1535.5 240h0M1536.5 236.5h0M1551 234h0M1528.5 241.5h0M1540.5 230.5h0M1540.5 238.5h0M1644.5 249.5h0M1641 274h0M1637 307h0M1641.5 278h0M1641 259.5h0M1645.5 275.5h0M1638.5 285.5h0M1644.5 285h0M1637.5 272h0M1623 281h0M1626 290.5h0M1640.5 285h0M1646 288.5h0M1643 270.5h0M1639 279h0M1643.5 281h0M1618 286h0M1647 265h0M1632.5 284h0M1644 268h0M1632.5 270.5h0M1635 270h0M1642.5 261h0M1641.5 266.5h0M1635 269h0M1638.5 282.5h0M1630 282.5h0M1628 279.5h0M1635.5 279.5h0M1626 280.5h0M1636 285h0M1627.5 291h0M1639.5 298.5h0M1628.5 301.5h0M1639 254.5h0M1633 268h0M1632 275.5h0M1638 275h0M1630.5 272.5h0M1642 266.5h0M1629 269.5h0M1617 321h0M1639 271.5h0M1636 269.5h0M1628.5 308.5h0M1719.5 123.5h0M1711.5 125h0M1708 122.5h0M1716.5 127h0M1715.5 118.5h0M1711.5 126h0M1707 124h0M1710 126h0M1717 125.5h0M1698 128h0M1784 137.5h0M1778 134.5h0M1773 124.5h0M1773.5 133h0M1772.5 137h0M1772.5 130.5h0M1780.5 129.5h0M1781.5 135.5h0M1781.5 140h0M1785.5 136.5h0M1775 142.5h0M1776.5 135h0M1773 132h0M1784.5 139.5h0M1783.5 128.5h0M1820 154h0M1821 141.5h0M1808.5 170h0M1804.5 161.5h0M1816 151.5h0M1815.5 127h0M1806 159h0M1800.5 143h0M1805 156.5h0M1807 155.5h0M1779 150h0M1811.5 160h0M1814.5 167h0M1825.5 154h0M1842 163h0M1807 140.5h0M1806.5 169.5h0M1823.5 161.5h0M1800 164h0M1797.5 138.5h0M1822 147.5h0M1820.5 145.5h0M1809.5 141.5h0M1815.5 173h0M1807.5 151h0M1797 138h0M1818.5 148.5h0M1797.5 165h0M1805 159h0M1796.5 160h0M1791.5 156.5h0M1806 163h0M1797 156h0M1842 168h0M1790.5 137.5h0M1817.5 150.5h0M1806 159h0M1806.5 164h0M1797.5 163h0M1820 142h0M1798.5 146h0M1823 137h0M1803.5 139h0M1809 163.5h0M1817 143h0M1798.5 171.5h0M1808.5 157.5h0M1788 150.5h0M1782 154h0M1809.5 161.5h0M1806 167h0M1817.5 153.5h0M1813.5 173.5h0M1825.5 137h0M1814 172h0M1815 142.5h0M1809.5 155h0M1808.5 154.5h0M1795.5 153h0M1809.5 165h0M1817.5 156.5h0M1810 147.5h0M1806.5 156h0M1795 168h0M1799 177h0M1821 186h0M1819 187h0M1818.5 172h0M1817.5 178h0M1819.5 186h0M1816 190h0M1820.5 185.5h0M1815 190.5h0M1820.5 190h0M1822.5 180.5h0M1816 189.5h0M1816 188h0M1818 191.5h0M1876.5 182.5h0M1884.5 181h0M1886.5 182.5h0M1881.5 185.5h0M1883 184h0M1872.5 184h0M1894 173.5h0M1879 180.5h0M1884 178.5h0M1880.5 181.5h0M1874.5 184h0M1888.5 185h0M1881.5 182.5h0M1712.5 149h0M1715 158h0M1705.5 147.5h0M1716 162h0M1722 156.5h0M1710 162.5h0M1715 151.5h0M1709.5 160h0M1715 158.5h0M1709.5 157h0M1725.5 215h0M1718 210h0M1717 213h0M1716 234h0M1724 227.5h0M1730.5 219.5h0M1726 208h0M1722.5 224.5h0M1712.5 225h0M1720.5 210.5h0M1728.5 218h0M1719.5 226.5h0M1716.5 200h0M1725 229h0M1716.5 219.5h0M1720 219.5h0M1726.5 218h0M1724.5 226.5h0M1718 221h0M1717.5 215h0M1728 207.5h0M1724.5 214.5h0M1717 218.5h0M1716.5 198h0M1726.5 225.5h0M1717.5 202h0M1714 236.5h0M1714.5 208.5h0M1732 193h0M1713 205h0M1716.5 192h0M1721 201h0M1711.5 220h0M1714 221.5h0M1715 235.5h0M1713 219.5h0M1713 232.5h0M1708.5 212.5h0M1721 211.5h0M1810 254h0M1824 254.5h0M1817.5 238.5h0M1809 268.5h0M1819 251h0M1827.5 254h0M1802.5 235h0M1798 238h0M1821 247h0M1813 239.5h0M1815.5 244h0M1818 254h0M1818.5 254h0M1819.5 261h0M1828.5 241h0M1816.5 246.5h0M1817 260h0M1809.5 224h0M1827.5 251.5h0M1806.5 253.5h0M1815 251h0M1825.5 273h0M1831.5 266h0M1823.5 242.5h0M1831.5 261h0M1815 254h0M1823.5 252.5h0M1816 228.5h0M1828 255.5h0M1820.5 265h0M1825 267.5h0M1821 252.5h0M1823.5 251.5h0M1824 238.5h0M1809 243h0M1822 242h0M1818 243h0M1808.5 246h0M1814 243h0M1828.5 251h0M1822.5 248h0M1810 231.5h0M1814 241h0M1822 245h0M1812.5 232h0M1823 249.5h0M1798 249.5h0M1812.5 253.5h0M1833 236h0M1832 253h0M1809.5 238.5h0M1812 253h0M1818 255h0M1819 247.5h0M1818 253h0M1812 249.5h0M1812.5 253.5h0M1824 255h0M1813 241h0M1815 255.5h0M1813 252h0M1822 255.5h0M1815 264h0M1810 262.5h0M1824 259.5h0M1815.5 253h0M1809.5 246h0M1806 255h0M1818 261h0M1826 233.5h0M1828 249h0M1803.5 235.5h0M1815.5 244.5h0M1822.5 240.5h0M1823.5 230h0M1818.5 251.5h0M1831.5 252h0M1815.5 255h0M1821.5 251.5h0M1811 244.5h0M1804.5 240h0M1821 253.5h0M1815.5 258h0M1806.5 246.5h0M1809.5 239.5h0M1810 254h0M1814 249h0M1813 240h0M1824.5 242.5h0M1837 266.5h0M1823.5 240.5h0M1846 237.5h0M1819.5 239h0M1801.5 251.5h0M1820.5 247.5h0M1829.5 252.5h0M1830 266.5h0M1817.5 255.5h0M1823 243h0M1824.5 259.5h0M1807.5 255h0M1823 256.5h0M1820.5 252h0M1827.5 262.5h0M1827.5 279.5h0M1818 287.5h0M1831.5 270.5h0M1822.5 281.5h0M1819 278.5h0M1825.5 277.5h0M1823.5 285h0M1823.5 288.5h0M1823 271.5h0M1827.5 283.5h0M1819 268h0M1823.5 284h0M1823 274.5h0M1823.5 288h0M1817.5 273.5h0M1821 281h0M1829.5 287.5h0M1825 275.5h0M1828.5 275h0M1821.5 283h0M1827 285h0M1818.5 274.5h0M1823 279.5h0M1824.5 268h0M1819.5 268.5h0M1819 291.5h0M1726.5 320h0M1730.5 309.5h0M1730 299.5h0M1723.5 322.5h0M1735.5 326h0M1736.5 305h0M1738 321h0M1720.5 300h0M1730 297.5h0M1735 315.5h0M1727 323h0M1727 319h0M1717 308.5h0M1719.5 304.5h0M1728 317h0M1721 309h0M1731 306h0M1717 313.5h0M1730 318.5h0M1732 323h0M1731.5 298.5h0M1731.5 321h0M1731 324.5h0M1731.5 311.5h0M1723 303.5h0M1734 324h0M1730.5 310.5h0M1727.5 312h0M1729.5 308h0M1730.5 316.5h0M1741.5 317h0M1729 311h0M1724 314.5h0M1725 323.5h0M1723.5 319h0M1739 305h0M1722 324h0M1729 331h0M1730 305.5h0M1737.5 309h0M1735.5 322.5h0M1739.5 315.5h0M1727.5 302.5h0M1724 317.5h0M1736.5 303h0M1729 313.5h0M1725.5 295.5h0M1723.5 318.5h0M1733 317h0M1733.5 304.5h0M1719.5 306h0M1739.5 303.5h0M1540 342h0M1530.5 350h0M1546.5 338h0M1554.5 338.5h0M1559.5 334h0M1550.5 330.5h0M1558 331h0M1543 345.5h0M1552 329.5h0M1564 320.5h0M1556 326.5h0M1543.5 331.5h0M1550.5 340.5h0M1547.5 339h0M1536 351h0M1550.5 335h0M1546 340h0M1559.5 330h0M1559.5 332h0M1547.5 346.5h0M1553.5 330.5h0M1555 334.5h0M1552.5 348h0M1557 338.5h0M1545.5 343h0M1544.5 333h0M1551 321.5h0M1555.5 328h0M1551.5 328.5h0M1553 336.5h0M1547 342h0M1549.5 331h0M1567.5 416.5h0M1565 413h0M1555.5 414.5h0M1557.5 418.5h0M1558.5 417.5h0M1582.5 415h0M1567.5 403h0M1559.5 407.5h0M1551.5 409.5h0M1553 421.5h0M1557 417.5h0M1560.5 418h0M1567.5 418h0M1555.5 419.5h0M1569.5 426.5h0M1577.5 413h0M1556.5 414.5h0M1555.5 413.5h0M1565.5 406h0M1568.5 408.5h0M1570.5 416.5h0M1566.5 403h0M1564.5 410.5h0M1556 409h0M1563 411.5h0M1566.5 420h0M1557.5 426h0M1562 403h0M1556.5 420h0M1560 409h0M1560 418.5h0M1565.5 405.5h0M1558.5 410.5h0M1558.5 422.5h0M1563 416.5h0M1549 407h0M1567.5 412.5h0M1563.5 415h0M1557.5 418h0M1567 413.5h0M1569.5 403.5h0M1572.5 400h0M1555.5 421.5h0M1569 413.5h0M1574 413h0M1558.5 418.5h0M1556 415h0M1559 408h0M1568 417.5h0M1568.5 417h0M1562.5 413.5h0M1560.5 399.5h0M1572 419h0M1541.5 460.5h0M1541 467.5h0M1548 451h0M1552.5 447.5h0M1553 435.5h0M1554.5 443h0M1550.5 454h0M1556 459.5h0M1555.5 445.5h0M1542 469.5h0M1560 433.5h0M1555.5 440.5h0M1548 463h0M1557.5 447.5h0M1548.5 454.5h0M1552.5 440h0M1560 449h0M1551.5 451h0M1554 434h0M1569 430h0M1554.5 453.5h0M1564.5 428.5h0M1555.5 442.5h0M1558 441h0M1562 445.5h0M1543 459.5h0M1551.5 457.5h0M1555 451.5h0M1553.5 468.5h0M1548 453h0M1554.5 453h0M1546 464h0M1559.5 438.5h0M1553.5 451h0M1549.5 457h0M1557 436h0M1546.5 471.5h0M1552.5 449.5h0M1550 454.5h0M1562 439h0M1555.5 444.5h0M1552.5 454.5h0M1551 442.5h0M1557 437h0M1551 452.5h0M1562 442.5h0M1556.5 441.5h0M1555.5 426h0M1552 439h0M1552.5 450.5h0M1555 456h0M1562.5 432h0M1549.5 469h0M1552 466.5h0M1554.5 441.5h0M1551 459h0M1555.5 447.5h0M1562 436.5h0M1559.5 438.5h0M1554.5 445.5h0M1552.5 447.5h0M1561 461.5h0M1554.5 441.5h0M1557 455h0M1468 505h0M1470.5 509.5h0M1472.5 514.5h0M1468 508h0M1475.5 505.5h0M1475 502h0M1478 523.5h0M1571 512.5h0M1578 508.5h0M1561.5 513.5h0M1568 514h0M1573 503h0M1579.5 509h0M1580 510.5h0M1580.5 509.5h0M1563 507h0M1574 522.5h0M1570.5 502.5h0M1574.5 513h0M1572.5 513h0M1566.5 510h0M1567 505.5h0M1569 506.5h0M1561 515h0M1555.5 505h0M1579 513.5h0M1570.5 516h0M1580 502.5h0M1568.5 510.5h0M1565 503.5h0M1571 501h0M1566 508.5h0M1570 514h0M1569.5 514.5h0M1578 515h0M1562.5 505h0M1568.5 518h0M1580 514h0M1563.5 510.5h0M1568.5 513.5h0M1579.5 502h0M1562 510h0M1551 508h0M1569.5 509.5h0M1575 506.5h0M1583 513.5h0M1567 512h0M1573 511h0M1564.5 517h0M1573 508h0M1572 514.5h0M1570 503h0M1561 513h0M1571.5 513h0M1567.5 506h0M1583 512h0M1569 517.5h0M1563.5 517h0M1555 514.5h0M1646.5 378.5h0M1643 410h0M1639 376.5h0M1638.5 384.5h0M1643.5 379h0M1638.5 401.5h0M1636.5 376.5h0M1635 390h0M1640 380h0M1631 384h0M1637.5 363h0M1636 372.5h0M1634.5 402h0M1636.5 400h0M1627 362.5h0M1648 393h0M1644 400h0M1645 397.5h0M1638 389h0M1638.5 368.5h0M1632 371h0M1650.5 400.5h0M1633.5 376.5h0M1643 382h0M1633 393h0M1637.5 369h0M1630.5 390h0M1640.5 353h0M1643.5 371h0M1634.5 370h0M1624 388.5h0M1648.5 374.5h0M1641 379.5h0M1643.5 407.5h0M1652 371.5h0M1655 372.5h0M1643 382h0M1649.5 347.5h0M1636.5 392.5h0M1636 370h0M1638.5 372.5h0M1644 353.5h0M1650.5 400h0M1651 372h0M1644.5 371h0M1649 375h0M1643.5 420.5h0M1639 390h0M1645.5 378.5h0M1636.5 387.5h0M1637.5 376h0M1633.5 384h0M1645 386h0M1630.5 360h0M1641 378.5h0M1643.5 394h0M1645 371.5h0M1634.5 386h0M1643 393.5h0M1644 390.5h0M1623 384h0M1622 367.5h0M1631 361h0M1642 360h0M1653.5 376h0M1640.5 381.5h0M1644.5 373h0M1654 369h0M1650 369.5h0M1633.5 390h0M1657 361h0M1644.5 356.5h0M1624 387h0M1642 374h0M1642.5 381h0M1638.5 383h0M1637 380h0M1646 350h0M1639.5 391.5h0M1644 389.5h0M1645 387.5h0M1635.5 374.5h0M1635.5 384h0M1640.5 387.5h0M1635 384.5h0M1627.5 389h0M1640.5 384.5h0M1638.5 388.5h0M1636 385.5h0M1636.5 387h0M1643.5 379h0M1633.5 383h0M1636.5 385.5h0M1639.5 382h0M1643.5 387.5h0M1636.5 384h0M1641 390h0M1641 381h0M1637.5 389h0M1640.5 388.5h0M1636.5 381.5h0M1639 385.5h0M1641 382.5h0M1644.5 384.5h0M1634 384h0M1637.5 392.5h0M1636 380h0M1640.5 386.5h0M1638 383h0M1637.5 387.5h0M1640 384h0M1629.5 381.5h0M1631 384h0M1635 381.5h0M1636.5 387h0M1643.5 383h0M1634.5 387h0M1640 378.5h0M1633.5 389h0M1640 379.5h0M1642.5 384.5h0M1643.5 387.5h0M1633 376h0M1637.5 379h0M1640.5 389h0M1640.5 388h0M1639.5 391h0M1648.5 380.5h0M1637.5 391.5h0M1636 379h0M1645 364h0M1645 363.5h0M1638 359.5h0M1639.5 364h0M1643.5 363.5h0M1643 362.5h0M1645.5 356h0M1645 357h0M1644.5 360h0M1644.5 363h0M1646.5 358.5h0M1640.5 363.5h0M1638.5 360.5h0M1643.5 354.5h0M1640 356.5h0M1647.5 360h0M1648 357.5h0M1642 358.5h0M1646.5 363h0M1642.5 363h0M1647 365.5h0M1644.5 357h0M1644.5 362h0M1646 358h0M1638.5 353h0M1645.5 357.5h0M1648 355.5h0M1644 364h0M1645.5 358h0M1647.5 367h0M1645.5 357.5h0M1645 354h0M1634 446.5h0M1640.5 450.5h0M1641 473.5h0M1663.5 457h0M1656.5 477.5h0M1652.5 454h0M1642 457.5h0M1640 466h0M1660.5 466h0M1639.5 451.5h0M1645.5 448.5h0M1629.5 467.5h0M1633.5 470.5h0M1643 455h0M1642 470h0M1638 455h0M1636.5 460h0M1627 460h0M1657.5 471h0M1617 472.5h0M1645 470.5h0M1657 456h0M1642 470h0M1664.5 445h0M1645.5 465.5h0M1652 470h0M1633 477h0M1627 475h0M1651.5 475h0M1640 457.5h0M1632.5 466.5h0M1650 449h0M1644 464h0M1638 446.5h0M1667.5 468h0M1644.5 477.5h0M1636 461h0M1631 475h0M1656.5 472h0M1649.5 459h0M1646.5 461h0M1635.5 450.5h0M1649 448h0M1638 471h0M1634 462.5h0M1660.5 464h0M1645.5 450h0M1651.5 466.5h0M1657 461.5h0M1653.5 473.5h0M1653 449h0M1635.5 462.5h0M1646.5 475.5h0M1659 448h0M1643.5 453h0M1638 443h0M1647.5 467.5h0M1650.5 446h0M1653.5 466.5h0M1646 461.5h0M1657 458h0M1643 454.5h0M1637.5 477h0M1640.5 447h0M1628.5 453h0M1667 462.5h0M1657 444.5h0M1660.5 467h0M1653 458h0M1644 456.5h0M1652 463h0M1671.5 456.5h0M1654 461h0M1640 463.5h0M1647.5 464.5h0M1636 469h0M1641.5 458.5h0M1633 453.5h0M1631 471.5h0M1653.5 458h0M1642 460h0M1647 451h0M1642.5 456.5h0M1648.5 469.5h0M1656 446h0M1662.5 466.5h0M1656.5 476.5h0M1651 465.5h0M1643 456.5h0M1646 469.5h0M1633 458.5h0M1647 467.5h0M1654.5 437.5h0M1641.5 436.5h0M1641 468h0M1651 466h0M1647.5 444.5h0M1666 468.5h0M1666 457h0M1646.5 459.5h0M1650 463.5h0M1655.5 467.5h0M1653.5 462h0M1659 469.5h0M1633.5 474h0M1645.5 478h0M1648.5 465.5h0M1641.5 454.5h0M1646 447h0M1666 472h0M1656 458.5h0M1643.5 454h0M1636 480h0M1639.5 464h0M1652.5 435h0M1646.5 469.5h0M1660.5 476.5h0M1649.5 508.5h0M1653.5 500.5h0M1649.5 500.5h0M1652.5 500h0M1658.5 508h0M1651.5 506.5h0M1652 506h0M1647.5 504h0M1651.5 503h0M1650.5 507h0M1647.5 511.5h0M1649 511h0M1651.5 498h0M1648 508h0M1655.5 497h0M1649.5 508h0M1650.5 500.5h0M1655.5 504.5h0M1647 499h0M1740.5 417h0M1745 365.5h0M1730 457.5h0M1742 358.5h0M1734 326.5h0M1734.5 416.5h0M1729.5 410.5h0M1738 411h0M1739 315h0M1732 356.5h0M1738 437h0M1738 475h0M1737.5 326h0M1733 391h0M1736.5 413h0M1727 386.5h0M1737.5 376h0M1731 362h0M1716 383h0M1728.5 414h0M1725 425h0M1731 415h0M1741 397h0M1731 444h0M1735 343.5h0M1739.5 353h0M1729.5 378.5h0M1735.5 390.5h0M1726.5 350.5h0M1737.5 422.5h0M1730.5 449h0M1733.5 374.5h0M1729.5 433.5h0M1736 369h0M1728 347.5h0M1734.5 371h0M1738 436.5h0M1726 428h0M1739.5 354.5h0M1730.5 374h0M1738.5 349h0M1742.5 431h0M1738.5 370.5h0M1743 396h0M1743 403h0M1734 391h0M1740 419.5h0M1732.5 455.5h0M1735.5 408.5h0M1739.5 442.5h0M1728.5 330h0M1731 360.5h0M1740 406.5h0M1734.5 352.5h0M1736 390.5h0M1733 373h0M1736.5 394h0M1739 400.5h0M1741.5 452h0M1743 420h0M1729.5 387h0M1744 427.5h0M1735.5 391.5h0M1726 380.5h0M1730.5 391h0M1732.5 424.5h0M1735.5 377h0M1723 395.5h0M1734.5 369h0M1739.5 417h0M1738 372h0M1728 455h0M1739.5 361h0M1736 341.5h0M1718 409h0M1737.5 367h0M1743.5 411.5h0M1731 390h0M1727 372.5h0M1736.5 412.5h0M1736 376.5h0M1724.5 357.5h0M1741 412h0M1728.5 392h0M1729.5 368.5h0M1736.5 421h0M1730.5 417h0M1735 369.5h0M1743.5 373.5h0M1736.5 379h0M1739.5 384.5h0M1729.5 408.5h0M1733.5 404h0M1734 411h0M1728.5 397h0M1727.5 403h0M1738 401.5h0M1727.5 406.5h0M1726.5 403.5h0M1736 404.5h0M1730 407.5h0M1730.5 400h0M1735.5 399.5h0M1728 400h0M1728.5 405.5h0M1738 404.5h0M1739 405h0M1726 408.5h0M1736.5 400h0M1730 401.5h0M1735.5 403.5h0M1726.5 404h0M1736 409h0M1732 401.5h0M1734.5 409.5h0M1729 404h0M1733.5 409h0M1733.5 409.5h0M1736 408h0M1733.5 399.5h0M1731.5 401.5h0M1731 408h0M1732 402h0M1737 411h0M1732 409h0M1725.5 404.5h0M1738 412h0M1735.5 398h0M1733.5 400.5h0M1731.5 410h0M1732 408h0M1731.5 399h0M1728 404h0M1727.5 409h0M1732 403h0M1737 413h0M1736.5 408h0M1737.5 407.5h0M1728 407.5h0M1730.5 406h0M1723 405h0M1739.5 405.5h0M1729.5 403.5h0M1819 339.5h0M1822 341.5h0M1823 345h0M1823 341h0M1826 344h0M1829 352.5h0M1826.5 340.5h0M1820.5 346.5h0M1824.5 335.5h0M1810 339h0M1824 340h0M1825.5 340.5h0M1817.5 336.5h0M1816.5 342.5h0M1832.5 337.5h0M1814.5 341h0M1832 341.5h0M1822.5 339h0M1823.5 335h0M1822.5 344h0M1819 339.5h0M1832 347.5h0M1815.5 332h0M1825.5 345.5h0M1829 341h0M1826 346.5h0M1827.5 348h0M1812.5 347h0M1826.5 338h0M1813 344.5h0M1822.5 343h0M1819 344.5h0M1829.5 339.5h0M1827.5 340.5h0M1827 344h0M1835.5 336.5h0M1836 335h0M1820.5 337.5h0M1826 347.5h0M1830.5 336h0M1824 346h0M1828.5 341.5h0M1830.5 340h0M1819.5 334h0M1831 340.5h0M1820.5 335h0M1828.5 346.5h0M1827 347.5h0M1821.5 340h0M1819.5 343.5h0M1816 347h0M1826 342h0M1833 339h0M1833.5 341h0M1823 345.5h0M1819 341h0M1834.5 348.5h0M1817.5 341h0M1831 340h0M1816 345.5h0M1817 342.5h0M1829.5 319h0M1818 347.5h0M1828.5 346h0M1826 340h0M1830 340h0M1824 341.5h0M1820 334h0M1824.5 346.5h0M1820.5 351h0M1822 332h0M1816.5 330h0M1836 343.5h0M1827.5 336.5h0M1828 341h0M1823 335h0M1823 338h0M1831 335h0M1837.5 361h0M1831 360.5h0M1832 367.5h0M1822.5 354h0M1839 367.5h0M1829 352.5h0M1848.5 368.5h0M1832.5 375h0M1827 371h0M1832 365h0M1836 365.5h0M1846 360h0M1821 361.5h0M1832.5 371.5h0M1831.5 364.5h0M1832 366h0M1816 371.5h0M1830.5 376.5h0M1830 375.5h0M1817 378h0M1837.5 362.5h0M1833 371h0M1824.5 364.5h0M1837.5 373.5h0M1835 367h0M1826 375h0M1833 367h0M1840 382h0M1831.5 372h0M1833.5 373h0M1834.5 367h0M1824.5 377.5h0M1828.5 439h0M1816.5 434h0M1816 434.5h0M1819 430h0M1827.5 439.5h0M1828 440.5h0M1816 441h0M1825 429.5h0M1818 444h0M1833 438.5h0M1825 431h0M1830.5 432.5h0M1818.5 432h0M1824.5 421h0M1822 427h0M1814.5 433h0M1836.5 439h0M1823 441h0M1838 439h0M1815 430.5h0M1829.5 436h0M1820 420h0M1813 430.5h0M1834.5 445.5h0M1822.5 433h0M1825 439h0M1824 441h0M1828.5 433.5h0M1825.5 438.5h0M1831.5 442h0M1825.5 444.5h0M1840.5 426h0M1825.5 435h0M1817 432.5h0M1834.5 440.5h0M1825.5 440h0M1827 447h0M1818.5 430h0M1819.5 421.5h0M1830 435h0M1832 427h0M1828 426h0M1816.5 428.5h0M1819.5 435h0M1827.5 425.5h0M1824 432h0M1819.5 430.5h0M1813.5 424h0M1819 434h0M1816.5 422.5h0M1820.5 434h0M1812 433.5h0M1825 440.5h0M1819.5 433h0M1834 443.5h0M1818.5 428h0M1816.5 426h0M1827.5 419h0M1823.5 421.5h0M1829.5 436h0M1837 444h0M1833 438.5h0M1820.5 424h0M1824.5 429.5h0M1830.5 437.5h0M1839.5 461h0M1822.5 456h0M1829 461.5h0M1836.5 465h0M1836 482h0M1819 470h0M1843 482h0M1823 472h0M1841.5 463h0M1830 459h0M1835.5 467h0M1836.5 475h0M1837 451h0M1841 463.5h0M1840 458.5h0M1829 464.5h0M1833 458.5h0M1844 459.5h0M1831.5 464.5h0M1836.5 466h0M1837 473h0M1826.5 465h0M1842.5 460h0M1830.5 470.5h0M1842 469.5h0M1834 471.5h0M1835.5 453.5h0M1838.5 474h0M1840 448h0M1839.5 465h0M1835 469.5h0M1833.5 469h0M1741 493.5h0M1727.5 488.5h0M1733 494h0M1734 494.5h0M1734.5 496.5h0M1736.5 494h0M1740 506.5h0M1733.5 491h0M1740 498.5h0M1732 489.5h0M1734 500.5h0M1726.5 495h0M1738 497.5h0M1726.5 497.5h0M1737.5 487.5h0M1722.5 506h0M1736 496.5h0M1735.5 491.5h0M1727.5 482.5h0M1736.5 488h0M1728.5 509h0M1738 495.5h0M1732 497h0M1727 486.5h0M1731 501.5h0M1738.5 496h0M1733.5 487.5h0M1737.5 497.5h0M1728 505h0M1745.5 484h0M1729 499.5h0M1732 493.5h0M1726 501h0M1730 500h0M1729 498.5h0M1733.5 500h0M1737 491h0M1726.5 487.5h0M1734 499.5h0M1735 491h0M1731.5 502.5h0M1727 493h0M1738.5 485h0M1736.5 499h0M1733 485h0M1729.5 501h0M1724 491.5h0M1728 486.5h0M1724 489.5h0M1729.5 496.5h0M1735 495h0M1728 496.5h0M1732 504.5h0M1731 489h0M1732 500h0M1723 503h0M1727 493.5h0M1730.5 496h0M1726 494h0M1738.5 491h0M1732.5 502h0M1722.5 492.5h0M1736.5 493h0M1732.5 491h0M1737.5 494h0M1747.5 521.5h0M1747 519h0M1747.5 525.5h0M1750 520.5h0M1743.5 527.5h0M1747.5 537h0M1743.5 503.5h0M1749.5 529.5h0M1744 525.5h0M1753 512.5h0M1748 528h0M1750.5 524h0M1745 546.5h0M1744.5 533h0M1747.5 529h0M1746.5 527h0M1748 527h0M1745 520h0M1747 520.5h0M1743.5 526h0M1744.5 517h0M1744 526h0M1747.5 529h0M1747.5 508.5h0M1747.5 530h0M1746 517.5h0M1692.5 532h0M1691.5 527h0M1690 527.5h0M1709.5 526.5h0M1689.5 524.5h0M1704.5 534h0M1692 532h0M1701.5 524.5h0M1697 525h0M1700.5 532.5h0M1694 530.5h0M1676.5 526.5h0M1701 532.5h0M1687.5 530h0M1689.5 528.5h0M1702 530.5h0M1696.5 526h0M1697.5 529.5h0M1694.5 527.5h0M1740 290h0M1755 255h0M1476 115h0M1483 124h0M1490 130h0M1600 145h0M1640 130h0M1513 222h0M1590 280h0M1648 316h0M1895 212h0M1860 302h0M1849 313h0M1691 309h0M1692 318h0M1490 367h0M1590 373h0M1644 356h0M1662 386h0M1890 400h0M1822 480h0M1575 543h0M1545 535h0"/>
<path stroke="#1400ff" d="M1529.5 139h0M1513.5 137h0M1519.5 134h0M1517.5 141h0M1521.5 148.5h0M1515 140h0M1532 133.5h0M1522 141h0M1539.5 135h0M1519 137h0M1528 133.5h0M1529.5 138h0M1521.5 130.5h0M1528.5 124.5h0M1511 126.5h0M1517 134.5h0M1517 132h0M1528.5 125.5h0M1505.5 137h0M1533 137.5h0M1508.5 126h0M1526.5 137h0M1521.5 128.5h0M1495.5 139.5h0M1539 140h0M1526.5 138h0M1519 134h0M1521.5 131h0M1524.5 129h0M1520 144h0M1536 131h0M1529.5 138.5h0M1530.5 137.5h0M1518 141.5h0M1531.5 129.5h0M1521.5 134h0M1510.5 136h0M1517.5 125h0M1540.5 136h0M1519.5 136.5h0M1511.5 131h0M1538 133h0M1503.5 137h0M1530 131.5h0M1514.5 142h0M1530 129h0M1516 133.5h0M1519 128.5h0M1519 130h0M1528 136.5h0M1515.5 134h0M1516 140h0M1525.5 138.5h0M1499.5 139h0M1519.5 133h0M1506.5 141h0M1536.5 135.5h0M1519 131.5h0M1529 136h0M1513.5 142h0M1526 137h0M1520 134h0M1512.5 132.5h0M1515.5 140h0M1511 143h0M1532 132h0M1513 126.5h0M1529.5 139h0M1537 137h0M1525 133.5h0M1508.5 138.5h0M1517.5 135h0M1513 138h0M1503.5 129h0M1531.5 138.5h0M1511 136.5h0M1524.5 140.5h0M1531.5 140.5h0M1615 180.5h0M1613 183h0M1633.5 166.5h0M1631 165h0M1630 187h0M1623 176h0M1625.5 168.5h0M1617.5 169h0M1628.5 178.5h0M1626 185h0M1630.5 166h0M1619.5 166.5h0M1617.5 152.5h0M1618.5 185h0M1636 180h0M1628 178.5h0M1614.5 178.5h0M1621 178h0M1614.5 164.5h0M1630.5 173.5h0M1620 180.5h0M1626.5 189h0M1627 168h0M1632 169.5h0M1620 162h0M1626.5 166h0M1615 179.5h0M1622 159h0M1621.5 178.5h0M1624.5 162.5h0M1640 175.5h0M1642.5 173.5h0M1636.5 165.5h0M1631 182.5h0M1627.5 168.5h0M1627.5 189.5h0M1623.5 175.5h0M1617 177.5h0M1620 177.5h0M1610.5 172h0M1629 177.5h0M1636.5 171h0M1630 178h0M1622.5 178h0M1639.5 161.5h0M1624.5 173h0M1628.5 175.5h0M1620 174.5h0M1631.5 170h0M1625.5 173h0M1620.5 172h0M1637.5 175h0M1625 180h0M1632.5 174h0M1613.5 176.5h0M1611 170.5h0M1627 182h0M1625.5 172h0M1617.5 180h0M1619 158.5h0M1621.5 170.5h0M1628 172.5h0M1626.5 168.5h0M1626.5 184h0M1609.5 178.5h0M1625.5 175h0M1627 180h0M1623 178h0M1611.5 172.5h0M1629 164h0M1618.5 177h0M1625.5 163.5h0M1625 167.5h0M1619.5 184h0M1636 179h0M1631 166h0M1626 179.5h0M1617 178h0M1619.5 173h0M1625 175h0M1624 178h0M1619.5 173.5h0M1624 184h0M1620.5 167.5h0M1626.5 160.5h0M1618.5 191.5h0M1621.5 169h0M1622 171.5h0M1611 188h0M1615 176.5h0M1629 177.5h0M1639.5 162.5h0M1604 171h0M1626.5 173h0M1628.5 167h0M1621 163.5h0M1621.5 178.5h0M1636 176.5h0M1610.5 177h0M1625.5 163h0M1635.5 158.5h0M1608.5 186h0M1618.5 176h0M1636.5 166h0M1620 184h0M1623 188h0M1630 198h0M1630.5 169.5h0M1631.5 169.5h0M1619.5 155.5h0M1624 173h0M1616 181.5h0M1626 166h0M1624 173h0M1627.5 174.5h0M1631 172h0M1620.5 178h0M1618.5 173h0M1620.5 183h0M1604 178h0M1621.5 173h0M1630 181.5h0M1617 166.5h0M1629.5 172.5h0M1622.5 182h0M1638 172.5h0M1617.5 162.5h0M1617 181h0M1620 185h0M1630.5 162h0M1538.5 243.5h0M1544.5 224.5h0M1541 227h0M1539.5 229.5h0M1535.5 241.5h0M1534 245h0M1552 220.5h0M1534 242.5h0M1532 231.5h0M1555.5 215h0M1557.5 222.5h0M1546 230.5h0M1538.5 239.5h0M1535.5 241h0M1532 242.5h0M1513 257h0M1542.5 232h0M1543.5 234h0M1552 218.5h0M1510.5 267h0M1541 233h0M1550.5 234.5h0M1538.5 229h0M1543 226h0M1522.5 244h0M1534.5 230h0M1537.5 239.5h0M1524 258.5h0M1555.5 217.5h0M1537.5 235h0M1515 260.5h0M1526 247h0M1527 241h0M1529.5 237.5h0M1524.5 257.5h0M1533 247h0M1544 227.5h0M1539.5 234.5h0M1544.5 232h0M1536.5 237h0M1544.5 223.5h0M1517.5 241.5h0M1539 241.5h0M1554.5 215.5h0M1537.5 230.5h0M1539 233.5h0M1549 230h0M1543 231.5h0M1545.5 227h0M1555 229h0M1552 234h0M1535.5 242h0M1538.5 230h0M1541 231.5h0M1543.5 231.5h0M1544 228h0M1542 238h0M1550.5 224.5h0M1527.5 252.5h0M1540.5 226h0M1517 246h0M1531.5 254.5h0M1534.5 238h0M1550.5 234h0M1540 233.5h0M1552 231h0M1539.5 231h0M1533 247h0M1529 241h0M1516.5 249h0M1542 228h0M1545 228h0M1537.5 242.5h0M1539 233h0M1548 219h0M1529.5 244.5h0M1532 228.5h0M1535.5 236.5h0M1532 243h0M1522.5 254.5h0M1555.5 234h0M1531 249.5h0M1526.5 236h0M1536 232.5h0M1531 237h0M1542 230.5h0M1543 232.5h0M1542.5 231.5h0M1531 247.5h0M1536 238.5h0M1540.5 234.5h0M1531 238.5h0M1530 241.5h0M1541.5 226h0M1547 239h0M1527 247h0M1540.5 231.5h0M1536.5 242.5h0M1538.5 237h0M1533.5 248.5h0M1554 218h0M1540.5 229.5h0M1550.5 226.5h0M1540.5 233h0M1531.5 244h0M1535.5 225.5h0M1533.5 227.5h0M1552 222.5h0M1540.5 228.5h0M1555.5 221h0M1539 233.5h0M1530.5 241h0M1532 233.5h0M1542.5 220.5h0M1546.5 236h0M1542 234h0M1531.5 235h0M1548.5 215.5h0M1538.5 227.5h0M1545.5 232.5h0M1548.5 225.5h0M1538 233.5h0M1539 234.5h0M1545 227.5h0M1545 244.5h0M1529.5 245h0M1555 209.5h0M1551.5 224h0M1550 228.5h0M1530 250.5h0M1531 232.5h0M1539.5 227.5h0M1538.5 237.5h0M1529 250h0M1545.5 229h0M1546 227h0M1550 221h0M1543 235.5h0M1537.5 225.5h0M1540 241.5h0M1529.5 234h0M1539 228h0M1547 222h0M1514.5 251h0M1527.5 241.5h0M1541.5 233h0M1543.5 224.5h0M1536 240.5h0M1545.5 234h0M1527 248h0M1544 233.5h0M1537 238.5h0M1521 246h0M1545 222.5h0M1549 240h0M1521.5 245h0M1630.5 269.5h0M1624.5 284h0M1644.5 286.5h0M1643 272.5h0M1626.5 281h0M1629.5 265h0M1640 267h0M1627 309.5h0M1633 299h0M1631.5 275h0M1632.5 286h0M1632 268h0M1637.5 290h0M1637 304h0M1640 272h0M1635.5 266h0M1635 294.5h0M1645.5 276h0M1644.5 275h0M1638 272h0M1636.5 283h0M1646 251h0M1633 292.5h0M1646 265.5h0M1617.5 292h0M1637 274.5h0M1632.5 268h0M1632 267.5h0M1645.5 257.5h0M1638.5 299h0M1624 278h0M1631.5 291.5h0M1611.5 289.5h0M1646 274.5h0M1628 290.5h0M1628.5 302.5h0M1634 260h0M1633.5 279.5h0M1629 286h0M1628.5 285h0M1620.5 298h0M1639 283.5h0M1632 273h0M1636.5 258.5h0M1623.5 292.5h0M1628 291h0M1638 273h0M1630 272h0M1638.5 269.5h0M1636 263.5h0M1650 262h0M1643 264.5h0M1624 302h0M1628.5 283h0M1620 300h0M1635 301.5h0M1638 257h0M1635 256.5h0M1640 284.5h0M1637.5 267.5h0M1638.5 276h0M1630.5 281h0M1636 257.5h0M1632.5 304h0M1621.5 282h0M1629 267.5h0M1628 290h0M1618 294.5h0M1627 300.5h0M1640.5 248.5h0M1644.5 266.5h0M1647 288.5h0M1646 267h0M1633 281.5h0M1631 256.5h0M1633.5 286h0M1622.5 304h0M1652.5 256h0M1637 262h0M1631 270h0M1622 279h0M1635.5 299h0M1624 278.5h0M1640 273.5h0M1641.5 291h0M1641.5 283h0M1634.5 290.5h0M1637.5 254h0M1640 265.5h0M1645.5 266.5h0M1644 262.5h0M1645 286h0M1628 276h0M1647.5 246h0M1626.5 280.5h0M1631.5 272h0M1637 298h0M1633.5 284.5h0M1642 287h0M1625 278.5h0M1631.5 265.5h0M1635.5 278h0M1630.5 288.5h0M1632.5 281h0M1641.5 273.5h0M1634.5 274h0M1632 265h0M1637 281h0M1623 285h0M1634.5 292.5h0M1641 283h0M1639 277.5h0M1629.5 275.5h0M1636 283h0M1634.5 268h0M1633 272h0M1630.5 285h0M1711 120.5h0M1700.5 120.5h0M1716.5 123.5h0M1718 125h0M1715.5 120.5h0M1712.5 121h0M1720.5 122h0M1713.5 122h0M1714 127h0M1713.5 127h0M1696.5 121h0M1704.5 124h0M1705 127.5h0M1713 124.5h0M1726.5 121.5h0M1710 124.5h0M1708.5 124.5h0M1703.5 124h0M1704.5 124.5h0M1705.5 126h0M1708 124.5h0M1705.5 124.5h0M1699 115h0M1707 126h0M1716.5 127h0M1713 120.5h0M1712 124.5h0M1708 124.5h0M1716 121.5h0M1722 121h0M1709 123h0M1711 121h0M1720.5 123.5h0M1708.5 121h0M1714.5 124h0M1708 124h0M1723.5 123.5h0M1703.5 124.5h0M1721.5 123h0M1707.5 124.5h0M1710 125.5h0M1714 124h0M1709.5 125.5h0M1713 122h0M1714.5 122h0M1812 137h0M1796 166h0M1808.5 171.5h0M1818.5 136.5h0M1795.5 169h0M1800.5 149h0M1810.5 163.5h0M1812 139h0M1807.5 152h0M1817 146.5h0M1815.5 163.5h0M1807 149h0M1816 169h0M1799 133.5h0M1806.5 157.5h0M1804.5 136h0M1801.5 158.5h0M1799.5 162h0M1808.5 150.5h0M1792.5 131.5h0M1807 156h0M1812 167h0M1807 150.5h0M1810 166h0M1805 166h0M1814.5 119.5h0M1811 169.5h0M1807.5 164.5h0M1807 156.5h0M1805.5 153h0M1797 140h0M1800 163h0M1814 155h0M1812.5 141h0M1803.5 158h0M1799.5 134.5h0M1792.5 166.5h0M1806.5 152h0M1809 166.5h0M1797.5 142h0M1804 173h0M1797 138h0M1806.5 145.5h0M1815 153.5h0M1806.5 167h0M1794 137h0M1814.5 137h0M1803.5 147.5h0M1820 154.5h0M1809.5 162h0M1800.5 162.5h0M1809.5 128h0M1799.5 140h0M1811.5 156h0M1816.5 159h0M1795 133.5h0M1800 151.5h0M1793.5 138.5h0M1807.5 139.5h0M1807 152.5h0M1794.5 158h0M1814 149.5h0M1808.5 153h0M1810 134h0M1806.5 142.5h0M1803 137h0M1804 138.5h0M1817.5 144h0M1799.5 158.5h0M1815.5 148h0M1810 151h0M1805 153h0M1812 154h0M1807 147h0M1816 164.5h0M1800.5 153h0M1813 150h0M1807 169.5h0M1809 140h0M1803.5 143h0M1805 153.5h0M1808.5 148.5h0M1797 143h0M1811.5 151.5h0M1806 149.5h0M1818.5 150h0M1810 147h0M1812 141.5h0M1810 157.5h0M1804.5 148.5h0M1811 173.5h0M1715 227.5h0M1710 227.5h0M1714.5 212.5h0M1712.5 233h0M1719.5 216h0M1715.5 211h0M1719.5 214.5h0M1718.5 219h0M1726 223h0M1721 217h0M1714.5 225h0M1712.5 209h0M1727.5 193.5h0M1718 216.5h0M1722 226.5h0M1721.5 251h0M1715.5 208h0M1714.5 220.5h0M1727.5 221h0M1719 223.5h0M1724 232h0M1710 218h0M1726.5 219h0M1713 224h0M1717 219h0M1733.5 211h0M1717.5 223h0M1715 221h0M1714 221h0M1707.5 239h0M1726.5 218h0M1731 220h0M1720 207h0M1721 210h0M1715 184h0M1722 221.5h0M1724 202h0M1719.5 196h0M1724.5 210.5h0M1714.5 205.5h0M1715 224h0M1714 202.5h0M1726.5 197.5h0M1718 216h0M1718 225h0M1717 218h0M1718.5 235.5h0M1722.5 231h0M1723 207h0M1719 219h0M1718 197h0M1720 210h0M1722 212h0M1722.5 204h0M1713 213.5h0M1723.5 208h0M1715.5 204.5h0M1704.5 223.5h0M1716.5 196.5h0M1722 217.5h0M1732 223.5h0M1725.5 220.5h0M1730.5 219h0M1724.5 219h0M1716 200h0M1727 223.5h0M1730 206.5h0M1704.5 224.5h0M1705.5 212h0M1713.5 206.5h0M1708 206h0M1710.5 215.5h0M1715 218h0M1709 242h0M1729 220.5h0M1723.5 232h0M1713.5 216h0M1731 188h0M1723.5 220.5h0M1717.5 223h0M1722 210h0M1723 213h0M1725.5 221.5h0M1716 239h0M1717.5 220h0M1718 229.5h0M1715.5 207h0M1723 198h0M1719 224h0M1730 199h0M1710.5 208h0M1723 225.5h0M1716.5 230h0M1716 221.5h0M1718 236.5h0M1728 229.5h0M1716.5 197.5h0M1717 210h0M1715.5 207.5h0M1717.5 221.5h0M1727 228h0M1729 192h0M1724 244.5h0M1726.5 226h0M1813 252h0M1812 254.5h0M1811.5 242.5h0M1809.5 248h0M1810 248h0M1813 251h0M1811 256.5h0M1815.5 251.5h0M1816 249.5h0M1814 256h0M1814.5 250.5h0M1808.5 248.5h0M1811 254h0M1813.5 252h0M1808.5 252.5h0M1814.5 257.5h0M1816.5 239.5h0M1818.5 260.5h0M1816.5 252h0M1812 244.5h0M1813 257h0M1815 251.5h0M1814 245.5h0M1807.5 252.5h0M1809.5 250.5h0M1816.5 247.5h0M1810 250.5h0M1811.5 249.5h0M1814 250h0M1815.5 258.5h0M1808.5 236h0M1811.5 241h0M1809.5 256.5h0M1812.5 250h0M1812 255h0M1818 242h0M1816.5 250h0M1808 244.5h0M1813.5 252h0M1810 255h0M1812.5 252.5h0M1809.5 249.5h0M1818.5 242.5h0M1814 249.5h0M1815.5 253.5h0M1728.5 309h0M1734 306.5h0M1727.5 305h0M1731.5 314.5h0M1728 312h0M1728.5 310h0M1740.5 320.5h0M1733.5 315h0M1723 319h0M1732 316h0M1731 321.5h0M1740.5 309.5h0M1732 314h0M1728.5 313h0M1726 317.5h0M1733 327h0M1720.5 314h0M1727.5 332h0M1730.5 313h0M1725 306.5h0M1721.5 306.5h0M1734 324h0M1716.5 313h0M1727.5 317.5h0M1720 308h0M1732 320.5h0M1726.5 301.5h0M1728 319h0M1727.5 310.5h0M1731.5 314.5h0M1722.5 321h0M1732 309h0M1550 328.5h0M1552.5 327.5h0M1560.5 312h0M1554 324.5h0M1551 333h0M1545.5 335.5h0M1557 334h0M1538.5 341h0M1557.5 317.5h0M1545.5 345h0M1558 337.5h0M1557.5 338h0M1555 331h0M1544.5 348.5h0M1542 354.5h0M1565 319h0M1558.5 327h0M1545.5 344.5h0M1544 351.5h0M1544.5 342h0M1551 348.5h0M1553 336.5h0M1549.5 338.5h0M1544 338h0M1552 343.5h0M1548 339h0M1565 319h0M1556.5 326h0M1558.5 332.5h0M1553.5 341h0M1550.5 319h0M1567.5 318.5h0M1568.5 327h0M1557.5 327.5h0M1555.5 322.5h0M1540 349h0M1552 327.5h0M1553 322.5h0M1555 344h0M1552 340.5h0M1541.5 345h0M1553.5 319h0M1543.5 334h0M1545.5 331h0M1545.5 339h0M1544.5 345.5h0M1556 326.5h0M1553 346h0M1558 322h0M1549.5 333h0M1548 337h0M1543.5 331.5h0M1542 349h0M1548.5 341.5h0M1546.5 350h0M1550 331h0M1552 338.5h0M1548.5 339h0M1557.5 326.5h0M1551.5 327.5h0M1553.5 331.5h0M1563.5 338h0M1553 331h0M1551.5 344h0M1541.5 345h0M1552.5 322h0M1543.5 343h0M1560.5 329h0M1551 330h0M1563 325h0M1564.5 321.5h0M1549 341.5h0M1552 348h0M1543.5 331.5h0M1548.5 342.5h0M1553.5 338h0M1546 339.5h0M1553.5 329h0M1549 330.5h0M1558 336h0M1561 339.5h0M1538.5 342.5h0M1545 330h0M1547.5 341h0M1545 342.5h0M1545.5 349h0M1546.5 328h0M1555.5 324.5h0M1547 325h0M1546.5 349.5h0M1560 328h0M1547 344h0M1562.5 316.5h0M1553.5 328.5h0M1551.5 339h0M1549 346h0M1557 325.5h0M1544.5 332.5h0M1555.5 333.5h0M1548 334.5h0M1547 338h0M1570.5 310h0M1547 349h0M1544 332h0M1562 311.5h0M1550 338.5h0M1559 321.5h0M1559 320h0M1546.5 337h0M1545.5 340.5h0M1560.5 318.5h0M1554.5 332h0M1549.5 335h0M1553.5 331h0M1535 353h0M1542.5 355.5h0M1547 337h0M1555 321.5h0M1541.5 341h0M1555 330.5h0M1552 338.5h0M1556.5 317.5h0M1549.5 331.5h0M1551 337h0M1536 341h0M1556 325h0M1553 325.5h0M1556.5 327h0M1556.5 324h0M1540 341h0M1553 337h0M1547 345h0M1550 327h0M1549 339h0M1556.5 331h0M1547.5 338h0M1558.5 331h0M1556 338h0M1552 328.5h0M1557 327.5h0M1559.5 330.5h0M1560.5 328h0M1562.5 319.5h0M1564 416.5h0M1564 412.5h0M1561.5 412.5h0M1565.5 412h0M1557 416h0M1560.5 408.5h0M1558 412.5h0M1564 415h0M1556 418.5h0M1569 411h0M1553 414.5h0M1564 412.5h0M1561.5 415.5h0M1551.5 459.5h0M1561.5 442.5h0M1555.5 437.5h0M1553.5 450h0M1556.5 436.5h0M1552 451h0M1557 449h0M1550 457h0M1549 456.5h0M1549.5 452.5h0M1547 468h0M1555.5 447.5h0M1557.5 448.5h0M1549 464h0M1555.5 444h0M1546 465.5h0M1550.5 459.5h0M1555 447h0M1571 421h0M1546 466.5h0M1548 453h0M1539 462h0M1558 443h0M1560.5 443h0M1556 442.5h0M1558 442.5h0M1554.5 455.5h0M1563 432.5h0M1548 464h0M1553.5 448.5h0M1550.5 458.5h0M1558.5 451h0M1551.5 450.5h0M1546.5 451.5h0M1566 417.5h0M1547 455.5h0M1546 457.5h0M1546.5 454h0M1558 450.5h0M1482 472.5h0M1490 471.5h0M1489 468h0M1480.5 466.5h0M1481 470h0M1481 468.5h0M1486 469.5h0M1481.5 471h0M1486.5 466h0M1494 474.5h0M1487.5 466.5h0M1482.5 473.5h0M1493.5 468.5h0M1479 474.5h0M1483.5 473.5h0M1482 469.5h0M1483.5 466h0M1489 465.5h0M1485 472h0M1483.5 469h0M1485.5 473.5h0M1482.5 471h0M1490.5 470h0M1480 471h0M1474.5 470h0M1486.5 472.5h0M1487 467h0M1488.5 473.5h0M1486 470.5h0M1484 466.5h0M1485.5 468h0M1489 474h0M1467.5 535.5h0M1468.5 542h0M1473.5 532.5h0M1469 507h0M1483.5 506h0M1472.5 494.5h0M1476.5 500h0M1479 485h0M1476 498.5h0M1470.5 534h0M1472.5 522h0M1474.5 512h0M1471.5 507.5h0M1480.5 502h0M1483 490.5h0M1477.5 510.5h0M1479 502.5h0M1473 515h0M1485.5 504h0M1468.5 543.5h0M1475.5 513h0M1485.5 494h0M1473 498.5h0M1487 499h0M1477.5 499.5h0M1476 512.5h0M1473 506h0M1478.5 509.5h0M1476.5 495h0M1492.5 481h0M1474.5 509.5h0M1471 517.5h0M1574.5 510.5h0M1581.5 512.5h0M1580 513.5h0M1580 518.5h0M1575.5 515h0M1578 511h0M1575 512h0M1575.5 518.5h0M1574.5 514.5h0M1578 510h0M1572 512.5h0M1574.5 514h0M1575.5 515h0M1570.5 514h0M1575.5 514.5h0M1575 514.5h0M1576.5 511.5h0M1578 510h0M1577 512h0M1574.5 508.5h0M1566 511h0M1584.5 510h0M1576.5 514.5h0M1579.5 510h0M1574.5 508.5h0M1571 509.5h0M1578 509h0M1578.5 512.5h0M1580.5 505h0M1572 510.5h0M1574 515.5h0M1572 512h0M1579 513.5h0M1574 509.5h0M1575.5 509.5h0M1579 508.5h0M1581 518h0M1569 517h0M1567 518h0M1580 509.5h0M1579 507.5h0M1574.5 509.5h0M1582.5 510h0M1573.5 507.5h0M1576 513.5h0M1651 356.5h0M1640 397.5h0M1647 389h0M1637.5 381h0M1644.5 399h0M1644.5 368.5h0M1651.5 403.5h0M1648.5 370.5h0M1645 389.5h0M1642.5 377.5h0M1645 393.5h0M1647 400.5h0M1648 380.5h0M1638.5 376.5h0M1643.5 389.5h0M1644 404.5h0M1645 382.5h0M1646.5 366.5h0M1640.5 383h0M1645 378h0M1650 394h0M1644 401h0M1655.5 391h0M1644.5 389.5h0M1636.5 380.5h0M1645.5 395h0M1649 393h0M1647 383.5h0M1643.5 389h0M1650.5 380.5h0M1641.5 391.5h0M1642 387h0M1650 460h0M1657.5 445h0M1650.5 455h0M1658 451.5h0M1659.5 450h0M1660 453h0M1653.5 456.5h0M1659.5 444h0M1663.5 456.5h0M1655 450h0M1653 449h0M1653 450.5h0M1658.5 443.5h0M1653 453h0M1657 446h0M1657.5 447h0M1658.5 452.5h0M1652 454h0M1659 453h0M1656 449.5h0M1657.5 447.5h0M1650.5 453.5h0M1656.5 450h0M1658 450.5h0M1657 452.5h0M1659 455.5h0M1656 450.5h0M1658.5 447.5h0M1654.5 452h0M1652.5 448h0M1653.5 453h0M1654.5 450.5h0M1741.5 403h0M1742 400h0M1739.5 397.5h0M1737.5 401h0M1740.5 395h0M1741.5 402.5h0M1737.5 398h0M1738 397h0M1737.5 400h0M1747.5 394.5h0M1734.5 391.5h0M1737 398h0M1740.5 394.5h0M1739.5 397.5h0M1744.5 397.5h0M1742 397h0M1738 393h0M1739.5 395.5h0M1741.5 394h0M1741.5 396.5h0M1743.5 398h0M1742.5 396.5h0M1735.5 394h0M1741.5 396.5h0M1737.5 400.5h0M1745 395h0M1746 391h0M1745 396.5h0M1739.5 393h0M1742 393.5h0M1741 394.5h0M1745 390h0M1822 344.5h0M1825 340.5h0M1831 343.5h0M1819.5 333.5h0M1818.5 341h0M1825 335h0M1826 341h0M1819 338h0M1824.5 345h0M1833 338h0M1821.5 339h0M1827.5 337h0M1821.5 342h0M1824.5 339h0M1827.5 344h0M1826.5 338.5h0M1821 345.5h0M1824.5 335h0M1816 337.5h0M1836 432h0M1831 437.5h0M1840.5 432h0M1829.5 440h0M1837.5 438h0M1835 437.5h0M1836 440.5h0M1836.5 434h0M1834 437h0M1831.5 437.5h0M1826.5 439h0M1841 435.5h0M1836.5 434.5h0M1832 437.5h0M1825 437h0M1825.5 430.5h0M1832 436.5h0M1832 438h0M1832 434h0M1839.5 436.5h0M1835 434.5h0M1834 432h0M1827 436.5h0M1825.5 435.5h0M1833.5 435h0M1834.5 437.5h0M1830.5 435.5h0M1829.5 438h0M1831 434.5h0M1838 437h0M1827.5 439.5h0M1831.5 441.5h0M1838 438.5h0M1825 437h0M1829.5 443h0M1837.5 437.5h0M1845 441h0M1825.5 436.5h0M1829 429.5h0M1846 438h0M1823 436.5h0M1831 437h0M1830.5 433h0M1839.5 440h0M1832.5 436.5h0M1844.5 438h0M1838.5 434h0M1831.5 432h0M1847 438.5h0M1828 432h0M1835 441h0M1843 433.5h0M1749.5 485.5h0M1753 494h0M1748.5 483.5h0M1747.5 496.5h0M1755.5 498.5h0M1750 483h0M1750.5 491h0M1749 487.5h0M1748.5 487.5h0M1759 492h0M1750.5 487.5h0M1756.5 492.5h0M1753 488h0M1752 489.5h0M1745.5 489h0M1749 492h0M1754.5 486h0M1749 493h0M1758.5 485h0M1755 487h0M1751.5 495h0M1749.5 486.5h0M1745.5 491.5h0M1747.5 492.5h0M1747.5 487h0M1750.5 487h0M1746.5 486.5h0M1752.5 496h0M1755 493h0M1749 487.5h0M1752 491h0M1746 490.5h0M1748.5 490h0M1748.5 484h0M1747 483h0M1749 487.5h0M1747 490.5h0M1745.5 486.5h0M1743 490.5h0M1753.5 489h0M1751 490.5h0M1751.5 491.5h0M1757 494h0M1755 491h0M1752.5 495h0M1684 528h0M1713.5 530.5h0M1698.5 526h0M1713 527.5h0M1691 528h0M1698 528h0M1689.5 525h0M1695.5 528h0M1700 523.5h0M1701 531.5h0M1697 521h0M1698.5 528.5h0M1702.5 530h0M1696 532h0M1689 526.5h0M1696 530.5h0M1673 532.5h0M1697.5 526.5h0M1703.5 528h0M1832 529h0M1842 523.5h0M1829.5 519.5h0M1824.5 534h0M1825.5 526h0M1829.5 526h0M1828 528.5h0M1820.5 529.5h0M1832.5 526.5h0M1831.5 521.5h0M1826 521h0M1836 519.5h0M1816.5 529h0M1831 529h0M1837.5 524.5h0M1828 534h0M1823.5 535.5h0M1821 535.5h0M1820.5 527.5h0M1833 524h0M1829.5 529.5h0M1823 526.5h0M1822 534.5h0M1826.5 523h0M1819 528.5h0M1829.5 519h0M1825 522h0M1825.5 526h0M1822 523h0M1831 521.5h0M1820.5 528.5h0M1825.5 528h0M1817.5 531h0M1825.5 527h0M1830 517.5h0M1829.5 526.5h0M1828 520.5h0M1835 529.5h0M1829 532.5h0M1820 529.5h0M1826.5 523h0M1816.5 528.5h0M1828.5 520.5h0M1822.5 522h0M1830.5 522.5h0M1830 526h0M1824.5 524h0M1831 527.5h0M1825.5 524h0M1823 535h0M1827 516.5h0M1818.5 531.5h0M1827.5 528.5h0M1826 521.5h0M1835 532h0M1828.5 519h0M1829 523.5h0M1827.5 525h0M1826.5 528h0M1823 530.5h0M1829.5 528.5h0M1826 528.5h0M1822 527.5h0M1828.5 529.5h0M1818 522h0M1858 527h0M1843.5 524.5h0M1845.5 523h0M1854.5 522h0M1858 525.5h0M1866.5 525.5h0M1863.5 522.5h0M1851.5 526h0M1857 524h0M1855 523.5h0M1888 529.5h0M1885.5 526h0M1888 538.5h0M1875.5 530.5h0M1878.5 530.5h0M1891.5 537h0M1877.5 519.5h0M1885.5 528.5h0M1880.5 526h0M1882.5 531h0M1882.5 527.5h0M1870.5 532.5h0M1883.5 536.5h0M1881.5 526h0M1878 524.5h0M1874.5 527.5h0M1891 518.5h0M1875.5 526h0M1883 531.5h0M1498 217h0M1480.5 397.5h0M1481 381h0M1870 342h0M1860 370h0M1756 505h0M1880 448h0M1642 538h0M1663 539h0"/>
</g>
<g fill="none" stroke-linecap="round" stroke-width="3">
<path stroke="#ff1c0c" d="M481.5 1138.5h0M490 1199h0M476 806.5h0M468.5 833.5h0M474.5 853.5h0M476.5 898h0M475.5 1044h0M473 848.5h0M469 844.5h0M476 1041h0M465 854h0M461.5 903h0M479 1105.5h0M479 1010.5h0M479.5 1103.5h0M470.5 914h0M483 1067.5h0M482 1186h0M483 1109.5h0M468.5 918.5h0M475 1027h0M474 946h0M472.5 1024h0M486 1145h0M475.5 1004h0M479.5 1156h0M479 1089h0M486 1186h0M472.5 869h0M467 923h0M467.5 856h0M477.5 906h0M477 910.5h0M484 989h0M476 1046h0M473.5 885.5h0M470 976h0M469.5 892h0M481 1147h0M475.5 1128.5h0M475 943h0M473 895h0M475 999h0M475 1017h0M472.5 1036h0M464.5 883h0M466 870h0M490.5 1176h0M469 1030h0M482 1031h0M473.5 896h0M479 1055h0M483.5 1239h0M475 1107h0M463.5 804.5h0M480 1059h0M486.5 1166h0M463 897h0M479 1172h0M478 1137.5h0M471 911.5h0M456 808h0M473.5 1030h0M468.5 835h0M480 1010.5h0M471 948h0M475.5 1048.5h0M478 1133h0M467 869.5h0M463.5 814h0M472.5 909.5h0M469.5 833.5h0M475.5 1017h0M468.5 938h0M464.5 857h0M461 812.5h0M471 940.5h0M472 911h0M469 953.5h0M478.5 1115h0M480.5 1020h0M485.5 1230.5h0M482.5 1145.5h0M476.5 1106.5h0M480 1097.5h0M478.5 1084h0M468 945.5h0M469 841.5h0M470 1041.5h0M469.5 836.5h0M486 1205.5h0M463.5 800.5h0M469.5 919.5h0M476 952.5h0M484.5 1113h0M471.5 1062.5h0M470.5 1104.5h0M480.5 1124h0M480 1116h0M473.5 1024.5h0M483.5 1189.5h0M476 1079.5h0M475 1064h0M486.5 1208h0M472 896h0M476.5 882.5h0M471.5 905.5h0M472.5 905.5h0M463.5 828h0M480.5 1204h0M464.5 923h0M483 1186.5h0M472.5 1068h0M469 984.5h0M460.5 901h0M474 1006.5h0M469.5 971.5h0M463.5 827.5h0M476.5 1106.5h0M479 1070h0M487 1224.5h0M479 1089.5h0M465.5 835.5h0M478 1153.5h0M478.5 1102.5h0M480.5 1105h0M471 938.5h0M484.5 1190h0M484 1159.5h0M473 1012h0M470 920.5h0M477.5 1155.5h0M490 1197h0M476.5 1071.5h0M463 804h0M473.5 968.5h0M469.5 866h0M468 819h0M484 1212h0M477 1084h0M467 832h0M476.5 1185.5h0M488 1203.5h0M477.5 1095.5h0M483 1128.5h0M471.5 879h0M474.5 1000h0M478.5 1160.5h0M469 838.5h0M482 1091.5h0M476 1025h0M471.5 990h0M473.5 1059h0M476.5 1070h0M473.5 1015.5h0M484 1146.5h0M486.5 1212h0M471 878h0M479.5 1087.5h0M476 1028.5h0M483 1207h0M470 992h0M469.5 979h0M473 1040h0M484 1116.5h0M472 949.5h0M472.5 1027.5h0M481 1049.5h0M466 863.5h0M470.5 1001.5h0M481.5 1111.5h0M475 1002.5h0M472 1010h0M472.5 983h0M473 928.5h0M477 964.5h0M489 1226.5h0M484.5 1228h0M479.5 1077h0M478 1035.5h0M468.5 931h0M473.5 1128h0M484.5 1232.5h0M470.5 1096h0M483.5 1209.5h0M480 1069.5h0M473.5 992.5h0M477.5 1075.5h0M474.5 1076h0M476 1004.5h0M469.5 1004.5h0M480.5 1153.5h0M475.5 1034h0M484.5 1108h0M466.5 911.5h0M573.5 1110h0M556.5 861h0M546.5 854h0M546 782.5h0M567.5 1013h0M558 882h0M563.5 936h0M546 779.5h0M549.5 842h0M558.5 918.5h0M562.5 1054.5h0M570 1129.5h0M514.5 707h0M566 1091h0M549 881h0M553.5 1001.5h0M575 1101.5h0M551 772h0M540.5 769h0M550 806.5h0M557.5 963.5h0M582 1210h0M558 836.5h0M569.5 1036h0M557 978.5h0M573 1097.5h0M563 1087h0M557.5 933.5h0M560 963.5h0M558.5 968.5h0M573 1191h0M576 1205h0M553.5 777.5h0M528 736h0M563 992.5h0M570 1144h0M550.5 829.5h0M575.5 1185.5h0M562.5 941h0M555.5 1011h0M569 1093.5h0M553 849.5h0M565.5 970h0M553.5 1022h0M524.5 742.5h0M565.5 1022h0M560.5 973h0M525 732.5h0M566.5 978h0M568 1044.5h0M565.5 1007.5h0M551 887.5h0M558.5 849.5h0M555.5 854h0M550.5 887h0M558 990.5h0M580.5 1174.5h0M565.5 1112h0M570.5 1154h0M526.5 732h0M559.5 1021h0M567.5 1035h0M551.5 807h0M556 869h0M562.5 1070.5h0M561.5 972.5h0M566.5 1177.5h0M551.5 834h0M560.5 848.5h0M527.5 742h0M562 992h0M555 826.5h0M537 751.5h0M565.5 981.5h0M573.5 1186.5h0M560 1047.5h0M560 967.5h0M571.5 968.5h0M557 972h0M552.5 939.5h0M552 827h0M568 1170.5h0M577.5 1166.5h0M562 859h0M576 1099.5h0M570.5 1162.5h0M551 868.5h0M553 839h0M551 865.5h0M560.5 837.5h0M553.5 827h0M560.5 872.5h0M556.5 974h0M557 826.5h0M561.5 881h0M554.5 890h0M561.5 915.5h0M569 1114.5h0M564 1071.5h0M576.5 1167.5h0M561.5 910.5h0M565.5 1112.5h0M563 931.5h0M527.5 735.5h0M523.5 708h0M581 1205.5h0M572 1127h0M561 940.5h0M572.5 1086h0M565 1032.5h0M527 729.5h0M546.5 777.5h0M565.5 1038h0M552 878h0M557 956.5h0M566.5 862h0M578 1201.5h0M556.5 921.5h0M570 1123.5h0M572 1034.5h0M563 939.5h0M553.5 953.5h0M562.5 946.5h0M574 1153h0M548 776h0M559.5 810.5h0M576 1149.5h0M554 905h0M567.5 1144h0M567 1180.5h0M553.5 870h0M536 750.5h0M544 793h0M561.5 1015h0M549 790.5h0M561.5 983h0M562.5 1088h0M572 1206.5h0M576 1167.5h0M549 796.5h0M553.5 874.5h0M519.5 727.5h0M563.5 1032.5h0M531.5 734h0M569.5 1179h0M571 1117h0M547.5 809h0M566 929.5h0M567.5 1178.5h0M556.5 941h0M574 1151.5h0M516 709h0M558 1023.5h0M572.5 1113h0M551 802h0M562 986h0M565.5 1182h0M558 830.5h0M561.5 970h0M533.5 739h0M542 760h0M560.5 979h0M575.5 1137h0M570.5 1040.5h0M548 786.5h0M576.5 1109h0M518.5 722.5h0M551.5 777.5h0M571.5 1133h0M550.5 826h0M561 952h0M573 1100h0M562.5 1103.5h0M562 1018.5h0M563 925h0M565 1055.5h0M572 1112h0M555 946h0M547.5 816h0M570 934h0M561.5 791.5h0M518.5 715.5h0M566.5 1131.5h0M574.5 1168h0M559.5 1019h0M567 1065.5h0M568 1060h0M550.5 783h0M563.5 966.5h0M549 845h0M548.5 870.5h0M548.5 804.5h0M546 778.5h0M570.5 1106.5h0M568.5 1074h0M568 959.5h0M562.5 1116h0M558.5 917.5h0M567.5 1126.5h0M572.5 1147h0M535 747h0M555 1050h0M573 1121h0M574.5 1131h0M547 797h0M568 1090.5h0M560.5 880.5h0M573 1075h0M569 1122.5h0M521 728h0M550.5 964h0M564 962h0M576 1137h0M556 909.5h0M554.5 830h0M551 983h0M567.5 1111.5h0M563.5 1082h0M558 1000.5h0M565.5 950.5h0M538.5 759h0M522 734h0M569.5 997h0M563 903h0M516.5 719h0M578 1165.5h0M573 1200h0M575 1020.5h0M569 1048.5h0M564 965h0M567 1196.5h0M565.5 1063.5h0M525 731.5h0M552.5 825h0M556 970.5h0M565.5 1001.5h0M571 1127h0M563 1039.5h0M551 872.5h0M545 798h0M574.5 1123.5h0M534.5 749h0M532.5 746h0M569.5 997.5h0M521.5 730h0M565 1104h0M539.5 762h0M574 1153h0M536.5 761.5h0M571.5 1144h0M525 728.5h0M557.5 854.5h0M569 971.5h0M564.5 963h0M559 934h0M578 1203h0M546 819.5h0M582.5 1186h0M573 1099h0M564 976h0M567 866.5h0M560 902.5h0M567.5 985h0M563.5 848.5h0M571 1129.5h0M575.5 1197.5h0M547.5 803h0M561.5 1119h0M566 1076h0M565.5 978.5h0M555 799.5h0M562.5 1028.5h0M559.5 1073.5h0M561 1058.5h0M555 908.5h0M565.5 1123.5h0M567.5 1042h0M538.5 753.5h0M529 737h0M554 940.5h0M522.5 731h0M560.5 849h0M561 1017.5h0M556 897h0M563.5 895.5h0M560 1073h0M563 901.5h0M562.5 1057h0M562.5 1103.5h0M567.5 1053h0M565 1020h0M540 758.5h0M569 1176.5h0M562.5 915.5h0M569 1168.5h0M515 709h0M549 795h0M551.5 779.5h0M555 845.5h0M539 744h0M580 1132h0M556 863h0M577 1194.5h0M578 1179.5h0M558.5 904.5h0M552 808h0M574 1158h0M569.5 1109h0M561.5 986.5h0M554 868h0M559.5 939h0M578.5 1177.5h0M568.5 1092h0M552.5 780h0M571.5 1130h0M514 711h0M553.5 938h0M528 735h0M552.5 826.5h0M574.5 1166h0M570 1109h0M567 1057h0M554 892.5h0M550 821h0M572 1151h0M554 918h0M566 1060.5h0M566.5 1041.5h0M577.5 1180h0M513.5 721.5h0M563.5 1069h0M530 739.5h0M562.5 904.5h0M572.5 1139.5h0M558 886.5h0M566 1105h0M564 1113.5h0M564.5 1063h0M562.5 914.5h0M573.5 1165.5h0M545.5 802.5h0M567 1053.5h0M572.5 1129h0M544.5 803.5h0M567.5 996h0M560 1014h0M559.5 884.5h0M566 1084.5h0M521.5 711.5h0M560 892h0M529.5 732h0M564 870h0M573 1116.5h0M544 759.5h0M550.5 931h0M555.5 843h0M571.5 1130h0M559 921.5h0M516 727.5h0M530 729.5h0M560 928h0M561.5 874h0M559.5 1086h0M536.5 741h0M559.5 1044.5h0M581.5 1139.5h0M557 988.5h0M557.5 931h0M558 860h0M517.5 713.5h0M565 1068.5h0M573 1142h0M559 1025h0M560 1134h0M565.5 1089h0M539.5 769h0M575 1206.5h0M566 1062.5h0M551.5 1004h0M548 769h0M559.5 930.5h0M576 1208h0M561 865.5h0M571.5 1181.5h0M555.5 892.5h0M544.5 895.5h0M561 1119.5h0M566 957h0M576.5 1198h0M567 1096.5h0M540.5 755h0M565 1082.5h0M573 1123h0M561 1008h0M556.5 962h0M544.5 770.5h0M532.5 747.5h0M572 1129h0M556.5 816.5h0M554 913h0M557.5 851h0M568.5 1045.5h0M578.5 1203.5h0M573 1134.5h0M576 1178.5h0M568 1170h0M520.5 732h0M569 1079h0M560.5 941.5h0M547 804.5h0M576 1205h0M573 1114.5h0M541 751h0M555.5 981.5h0M508.5 711h0M554.5 872h0M575 1178.5h0M562.5 1013h0M571 1149.5h0M537.5 767h0M520 716h0M557.5 823h0M564.5 917.5h0M551 808h0M573.5 1123h0M569 1102h0M570 1176h0M553 926h0M570 1037h0M564 924.5h0M551 797.5h0M546 879.5h0M563 1072.5h0M556 902h0M536.5 754h0M559.5 1031h0M569 988.5h0M565.5 920.5h0M566 1114.5h0M555.5 920h0M549 797.5h0M567 991.5h0M569.5 1128.5h0M569.5 1082.5h0M558.5 1019h0M575.5 1173h0M557.5 901h0M578 1149.5h0M567 931.5h0M569.5 1188.5h0M545 767.5h0M569 1155h0M555 872h0M589 1164.5h0M561 971.5h0M548.5 872h0M577 1148.5h0M537 756h0M558 893h0M565.5 1013h0M561 987h0M567 1084.5h0M582.5 1211.5h0M549.5 829.5h0M571.5 1200.5h0M563.5 963h0M549.5 847.5h0M575.5 1179.5h0M553.5 811.5h0M547 844.5h0M569 1033.5h0M571 1015.5h0M574.5 1194h0M521 711.5h0M547.5 797.5h0M573 1117.5h0M560 972.5h0M509 708h0M575 1183.5h0M564.5 1065h0M566.5 949.5h0M556.5 969.5h0M569 1126h0M566.5 1106.5h0M563.5 1022.5h0M554 928.5h0M566.5 1159.5h0M561.5 1046.5h0M566 968h0M560 979.5h0M558 919.5h0M556 876.5h0M557 956h0M557.5 829h0M573 1187.5h0M565.5 1050h0M565.5 962.5h0M568.5 1005h0M556 941h0M575 1109.5h0M545.5 809h0M568.5 1059h0M554.5 893h0M558 845.5h0M573.5 1154.5h0M550.5 828.5h0M554 891.5h0M654 1022.5h0M670 1146h0M666 1089h0M630.5 777h0M640 922.5h0M675 1228h0M664.5 1220h0M652.5 1033.5h0M656.5 1002h0M634.5 967.5h0M620.5 759h0M658.5 1134h0M665.5 1068.5h0M675.5 1205h0M641.5 889.5h0M662.5 1029.5h0M634 841h0M667 1186.5h0M669 1183.5h0M632 884h0M655 1076.5h0M631 815.5h0M665 1185.5h0M652 1056h0M624 762h0M639 917h0M646.5 913h0M666.5 1166.5h0M645.5 982.5h0M639 864.5h0M673 1211h0M646 999.5h0M660.5 1091.5h0M659.5 1150h0M652 1149h0M651 1068h0M667.5 1150h0M655 1075h0M637.5 851.5h0M669 1214h0M654 1016h0M636 880.5h0M652 978h0M672 1216h0M656 1048.5h0M636.5 892h0M676 1184.5h0M621 752h0M660 1110h0M655.5 1093h0M644 983.5h0M667 1194h0M668.5 1216.5h0M669.5 1153h0M637 909.5h0M633.5 834h0M637 906h0M627.5 816.5h0M637.5 910h0M658 1108.5h0M643 955h0M632 815.5h0M649 1026h0M661.5 1129.5h0M658 1124h0M651 1033.5h0M651 1107.5h0M644 899h0M667.5 1125h0M653 1109.5h0M632.5 837.5h0M640 925h0M634.5 849h0M647.5 1017h0M658.5 1029.5h0M625.5 779h0M643 875h0M664 1117.5h0M645.5 991h0M658.5 1081.5h0M638.5 947.5h0M654 1052h0M641 879h0M633 896.5h0M668 1160.5h0M634 874h0M655.5 1006.5h0M637 846h0M632 778h0M641.5 925h0M665.5 1166.5h0M651 1064.5h0M653.5 1013.5h0M622 800.5h0M652 975.5h0M654 1001.5h0M649.5 1008h0M636.5 850h0M639.5 809.5h0M650 1077h0M634 783h0M636 864h0M651.5 1028.5h0M657.5 1060h0M642.5 942.5h0M657 1174.5h0M652 952.5h0M622.5 763h0M665 1168h0M662.5 1114h0M657 1076.5h0M663.5 1127.5h0M648 998h0M635.5 864.5h0M627 800.5h0M668 1212.5h0M646 866.5h0M651 987h0M640.5 919.5h0M635.5 914h0M632.5 862h0M644 901.5h0M669 1224h0M639 919h0M642 986.5h0M669 1162.5h0M637.5 872h0M655.5 1169.5h0M653.5 994h0M652.5 1076.5h0M632 859h0M649 936.5h0M647.5 983.5h0M636.5 921.5h0M640.5 850.5h0M641 905h0M653 958.5h0M651.5 1059.5h0M664.5 1160h0M631.5 811.5h0M639.5 891.5h0M653.5 1049h0M667 1141.5h0M631 819.5h0M642 876h0M666.5 1152.5h0M671.5 1191.5h0M658.5 1062h0M666.5 1188.5h0M667 1175h0M633.5 876h0M658.5 1121h0M643 1003.5h0M685.5 1225h0M660 1102.5h0M633 922.5h0M651.5 1102h0M617.5 756.5h0M659.5 1167.5h0M668 1167h0M663 1159.5h0M669.5 1179.5h0M659 1072.5h0M634 868h0M659.5 1149.5h0M645 981.5h0M638 869.5h0M645 1052.5h0M656.5 1062h0M672 1199h0M643.5 986h0M641 963h0M649 872h0M672 1164h0M662 1187h0M637.5 956h0M672.5 1227.5h0M653.5 911h0M651.5 935h0M664 1133.5h0M621 750.5h0M639.5 963.5h0M649.5 1019.5h0M640 872h0M637 842.5h0M656.5 995.5h0M628 831.5h0M660 1095h0M634 779h0M645 880.5h0M637 839.5h0M629.5 795.5h0M664.5 1155h0M673.5 1221h0M667 1215h0M646 942.5h0M634 906h0M670 1212.5h0M667 1179h0M647 999.5h0M634.5 885.5h0M649 947h0M626 768.5h0M645.5 1046.5h0M657.5 1121.5h0M632.5 886h0M641.5 914h0M670.5 1230h0M672 1219.5h0M649 968.5h0M670.5 1162h0M661.5 1085.5h0M631.5 819.5h0M636.5 900.5h0M641.5 874.5h0M664 1134.5h0M652.5 1092h0M648.5 956.5h0M635.5 896.5h0M675 1155.5h0M669.5 1230h0M662 1163.5h0M657.5 1066h0M641 977.5h0M637.5 892h0M635 889h0M637.5 902h0M671 1198h0M632.5 873.5h0M667 1173h0M644.5 937h0M656.5 1128.5h0M673.5 1230.5h0M677.5 1228h0M648 993h0M661 1083.5h0M648.5 1004.5h0M660.5 1081.5h0M639.5 822h0M631 763h0M639 881.5h0M659 1075h0M644 952h0M637 908h0M656.5 1037.5h0M629.5 778h0M651 1104h0M657.5 984.5h0M655.5 1083.5h0M647 968h0M672.5 1229h0M627.5 801.5h0M664.5 1157.5h0M631.5 796h0M654.5 1120.5h0M633.5 905.5h0M651 1073.5h0M671.5 1182.5h0M639 891.5h0M662.5 1214.5h0M673.5 1226.5h0M658.5 1026.5h0M652.5 987h0M644.5 905.5h0M655.5 1010h0M634.5 851h0M642.5 843.5h0M669 1199h0M668 1169.5h0M657 1147.5h0M637.5 860.5h0M619.5 756h0M649.5 1058.5h0M631.5 881h0M668.5 1195.5h0M640 996h0M637 910.5h0M654 1119.5h0M620.5 765.5h0M655 1042.5h0M642.5 987.5h0M633.5 828h0M629.5 801h0M641 880.5h0M660.5 1101h0M634 877h0M647.5 1022.5h0M657 1118h0M659 1050.5h0M634 830.5h0M631 817h0M637.5 915.5h0M626.5 796.5h0M638 892h0M653.5 1007.5h0M659 1058h0M675.5 1231.5h0M642.5 914.5h0M659.5 1108.5h0M650.5 936.5h0M644.5 918.5h0M661 1174.5h0M634 856h0M642 909h0M669 1151h0M630 840h0M633.5 927h0M654.5 1092h0M622 782.5h0M639.5 948.5h0M661 1153.5h0M646.5 1016h0M661.5 1119h0M633.5 884h0M669 1137.5h0M666.5 1157h0M669.5 1201.5h0M645.5 1016.5h0M659 1076.5h0M642.5 976h0M649 938.5h0M632 802h0M619.5 790.5h0M662.5 1154.5h0M652 1004.5h0M674 1183h0M657 1051.5h0M648 921h0M651 1096h0M660 1120h0M631 832h0M683 1219.5h0M640.5 994.5h0M637.5 826.5h0M637.5 927.5h0M672 1211.5h0M650 1012.5h0M649 1057h0M660 1071.5h0M649 994.5h0M644.5 958h0M655.5 1028h0M675 1207.5h0M661.5 1116h0M651 1071.5h0M642.5 899h0M644.5 911h0M635.5 860.5h0M654.5 1106.5h0M625.5 811.5h0M656 1104.5h0M635 811.5h0M653 1028.5h0M640.5 851h0M648.5 1002.5h0M643.5 948h0M640.5 869h0M654.5 1021.5h0M657 1095h0M660 1044h0M652.5 1060h0M643.5 965.5h0M623 801h0M623.5 770h0M654 1068.5h0M634 848h0M650 973.5h0M636.5 756h0M635 823h0M619 755.5h0M666 1163.5h0M653 1081h0M664 1165h0M635.5 851.5h0M645 929h0M640 923.5h0M669 1155h0M669 1179h0M657 1023h0M649 989.5h0M654.5 1036h0M679 1190.5h0M625 764h0M633 866.5h0M649.5 1068h0M645 898.5h0M627 774h0M623.5 766h0M664.5 1138.5h0M675.5 1226h0M644.5 974h0M664.5 1134.5h0M652.5 993h0M661.5 1144.5h0M657.5 1018.5h0M638.5 874.5h0M648 1027h0M657.5 1082h0M673.5 1202h0M653 1060h0M658 1014h0M670.5 1147.5h0M652 1075.5h0M653 1004h0M630 809.5h0M628.5 861.5h0M663 1085h0M627.5 781.5h0M657.5 1098h0M658.5 1106.5h0M633.5 857.5h0M617 749.5h0M652.5 1015.5h0M659 999.5h0M651.5 1092h0M674.5 1168h0M663 1127h0M680 1211.5h0M632 805.5h0M649.5 972.5h0M642.5 870.5h0M660.5 1123.5h0M635.5 919.5h0M660.5 1114h0M659 1103h0M649.5 990.5h0M651.5 994.5h0M636 880.5h0M651.5 1018.5h0M677 1166h0M663 1188.5h0M619.5 761.5h0M666.5 1222.5h0M657.5 1163h0M668 1194.5h0M658.5 1151h0M663 1133.5h0M660.5 1162h0M653 1026h0M664.5 1208h0M664 1175h0M674 1175h0M643.5 918.5h0M658 1093h0M650.5 1066h0M657 1043h0M619 787.5h0M649.5 918.5h0M664 1222.5h0M641.5 938.5h0M666 1203.5h0M673 1197.5h0M666 1137.5h0M666 1184h0M647.5 953.5h0M660.5 1042.5h0M665 1171h0M662.5 1203.5h0M659 1022h0M661.5 1167.5h0M653 1011.5h0M641.5 1001.5h0M665.5 1106h0M637.5 830.5h0M661.5 1061h0M646.5 966.5h0M620 783.5h0M633 829.5h0M659.5 1060.5h0M637.5 879.5h0M670 1180h0M647 985.5h0M665 1172.5h0M627 758.5h0M639 816h0M626 767.5h0M628 775.5h0M656 984.5h0M634 864.5h0M639 879h0M635 799h0M723.5 902h0M711.5 810h0M735.5 1016h0M767.5 1165h0M714.5 746.5h0M699 776h0M720.5 889h0M722 952.5h0M739 1113.5h0M718.5 910.5h0M749.5 1103h0M725.5 846.5h0M708 753.5h0M735.5 1091h0M714 895h0M711.5 893.5h0M747 1139.5h0M706.5 936h0M755 1059.5h0M756.5 1173h0M764 1181h0M705 823h0M738.5 1137.5h0M697 742.5h0M709 821h0M741.5 1095.5h0M719.5 818.5h0M728 906h0M754 1106h0M725 998.5h0M744 1066.5h0M723 830h0M679.5 727h0M763.5 1170h0M735.5 1003h0M732.5 1017h0M721.5 977.5h0M700.5 742h0M701.5 821h0M713.5 896h0M757 1172.5h0M715.5 902h0M764.5 1113h0M761.5 1135.5h0M718 872h0M728 847h0M723.5 841.5h0M774 1176.5h0M729 1115h0M736.5 1084h0M726.5 962.5h0M740.5 1135.5h0M731.5 1021h0M724 1066.5h0M699.5 791h0M698.5 737h0M758.5 1124h0M714 795.5h0M730.5 983.5h0M770.5 1194.5h0M750.5 1144h0M715.5 808.5h0M705 851h0M716.5 1002h0M720 804.5h0M735 961h0M731 987.5h0M747 1176.5h0M696.5 728.5h0M735 1043.5h0M739 1026.5h0M707.5 754.5h0M727 926.5h0M703.5 764.5h0M764.5 1187h0M721.5 885h0M729.5 815h0M721.5 996h0M732 1065.5h0M762.5 1197h0M714 810h0M710 853.5h0M741 1058h0M713.5 755h0M701.5 874.5h0M707.5 791.5h0M730.5 995h0M735.5 997h0M729.5 926h0M707.5 778.5h0M770.5 1176h0M733 970h0M726 1014h0M770 1160h0M728.5 885.5h0M711 917.5h0M729 983h0M725 907h0M762 1183.5h0M720.5 987.5h0M722 809h0M730.5 789.5h0M718 757.5h0M696.5 745h0M723.5 1035.5h0M736.5 960.5h0M740 1063.5h0M772 1156.5h0M723 825h0M746.5 997h0M744 1101.5h0M713 942h0M722.5 897h0M719 849.5h0M735.5 1094.5h0M750.5 1097.5h0M722 836.5h0M735 948.5h0M715 958.5h0M735.5 960h0M724.5 782.5h0M723.5 994h0M734 1047h0M763 1162h0M718.5 957h0M748 1089.5h0M744.5 1109.5h0M741.5 1039.5h0M713 751h0M758.5 1129h0M744.5 1020.5h0M748.5 1066h0M721.5 1032h0M718.5 922.5h0M739 1101.5h0M731 799h0M751.5 1121.5h0M696 740.5h0M702.5 813h0M748 1067.5h0M728 1034h0M722.5 812.5h0M706 888h0M749.5 1123h0M714.5 993h0M731 909h0M710.5 834h0M709.5 751.5h0M731 945.5h0M715 752.5h0M772 1188.5h0M721.5 982.5h0M740.5 1103h0M734.5 954h0M739.5 1125.5h0M726 945.5h0M724 934h0M709.5 787h0M720.5 802.5h0M719 977h0M750 1115.5h0M703.5 768.5h0M713.5 772h0M710.5 857h0M717 947.5h0M730 878.5h0M737 1076h0M729 836h0M727 921h0M696.5 733.5h0M718.5 1004.5h0M695 748.5h0M771 1167h0M699.5 772.5h0M733.5 1023.5h0M710.5 752h0M744.5 1159.5h0M711 732h0M720.5 954h0M765.5 1198.5h0M741 1114h0M705.5 738h0M757 1181.5h0M708 799h0M722 948h0M751 1147.5h0M759.5 1179.5h0M720.5 841h0M734 1026h0M748.5 1169.5h0M732 985.5h0M697.5 852.5h0M720 934.5h0M722.5 769h0M744 1115.5h0M734 994.5h0M722 845.5h0M741.5 1043.5h0M715.5 863.5h0M755 1161.5h0M716.5 724.5h0M736.5 1079h0M742 1103.5h0M767.5 1177.5h0M758 1174.5h0M715 797h0M752 1108h0M711.5 967.5h0M711.5 754h0M732 960.5h0M743.5 1074h0M767.5 1193h0M694 729.5h0M711.5 858.5h0M726.5 1020.5h0M726.5 899h0M706.5 749.5h0M721.5 979h0M718 798h0M702.5 806h0M728 850h0M712 905.5h0M734 874.5h0M755.5 1201.5h0M690 754h0M700 745.5h0M768.5 1168h0M701 895h0M712.5 978.5h0M735.5 1050h0M745 1162h0M736.5 1084h0M705.5 817h0M708.5 795.5h0M766.5 1183.5h0M713.5 788.5h0M743.5 1110.5h0M738.5 1064.5h0M696.5 735h0M724 920h0M724.5 807.5h0M716.5 925.5h0M717.5 914h0M705.5 761.5h0M728 877.5h0M765.5 1140h0M728 1016h0M713 841.5h0M729 1034.5h0M737.5 1049.5h0M729.5 1052h0M748.5 1054h0M725 1021h0M729.5 984h0M724.5 834.5h0M715 805h0M721.5 1095h0M711.5 802h0M715 816h0M736 1055h0M765 1181.5h0M724.5 837.5h0M738 1051.5h0M713 861.5h0M711 880.5h0M720 731h0M754 1153h0M707 745.5h0M735 1091.5h0M704 794.5h0M743.5 1167h0M716.5 787h0M715.5 833h0M743 1077.5h0M732.5 1006h0M716.5 783h0M715 740.5h0M697.5 786.5h0M748 1140.5h0M755.5 1143.5h0M714 817.5h0M722.5 995h0M749.5 1118h0M716.5 990h0M698.5 738.5h0M781 1189h0M707.5 853h0M707.5 750h0M717.5 938h0M720.5 909.5h0M741.5 998.5h0M705 824.5h0M701.5 780h0M714 989h0M716.5 884.5h0M732 930.5h0M723.5 937h0M738 947h0M724 980.5h0M718.5 871h0M707.5 842h0M768.5 1129.5h0M705.5 749h0M703 740h0M752 1152h0M721 763h0M715 889h0M720 789.5h0M717.5 928.5h0M713.5 881.5h0M702 735h0M724 808.5h0M755.5 1186h0M734 1056h0M763.5 1163h0M715 776h0M730 933h0M763.5 1143.5h0M723.5 765h0M717 934.5h0M753.5 1151h0M757 1167h0M720 846.5h0M756 1091.5h0M704.5 923h0M735.5 1002.5h0M715 937h0M737.5 1012.5h0M731.5 1030h0M736.5 928.5h0M713 852h0M746 1173h0M707 854.5h0M737 1079.5h0M731.5 920h0M731 949.5h0M720 999.5h0M733 967h0M706.5 879h0M711.5 783h0M741.5 1060.5h0M711 848.5h0M749.5 1034.5h0M742.5 1013h0M717.5 816.5h0M745 1162.5h0M705.5 772h0M717 815.5h0M770.5 1174.5h0M722.5 820.5h0M710 805.5h0M711 840h0M736.5 1059.5h0M742 1094h0M699.5 762.5h0M778.5 1183.5h0M706 749h0M709 776h0M705 747h0M708.5 872.5h0M748 1120.5h0M763 1184h0M737.5 987.5h0M695 720h0M709 849h0M743 1183.5h0M753 1085.5h0M743 1103h0M744.5 1143h0M742 1121h0M717 979.5h0M711.5 828.5h0M729.5 990.5h0M719.5 769h0M756.5 1142h0M750 1119h0M718 1011h0M759 1097.5h0M774.5 1164.5h0M722.5 969h0M724 863h0M720.5 1007h0M728 1015h0M771 1178.5h0M723.5 893h0M750.5 1103h0M744.5 1064.5h0M713.5 723.5h0M722 1036.5h0M736 1107h0M707 771h0M707.5 888.5h0M716.5 791.5h0M711 753.5h0M756 1099.5h0M731.5 797h0M722 927.5h0M705 737.5h0M706.5 753.5h0M721 975h0M736 1110.5h0M720 950h0M727.5 995.5h0M724.5 1047.5h0M773 1182.5h0M703 743.5h0M705 769.5h0M708 735.5h0M714.5 801h0M714 784.5h0M728.5 982.5h0M763 1167.5h0M702.5 743.5h0M721.5 938h0M742.5 1104.5h0M718.5 859h0M716 859.5h0M755.5 1134h0M705.5 941h0M712.5 730h0M752 1159.5h0M721.5 859h0M729.5 950.5h0M745 1141.5h0M717 770.5h0M733.5 1046.5h0M744.5 1110h0M737.5 1037.5h0M743.5 997h0M722.5 919.5h0M770 1180.5h0M759.5 1177.5h0M724.5 865h0M746 1159h0M734 963.5h0M720 886.5h0M706 868.5h0M725.5 946.5h0M744.5 1066.5h0M719 865h0M718 843.5h0M718.5 774.5h0M767 1184.5h0M723 972h0M708.5 844h0M713 877.5h0M750.5 1046h0M730.5 984.5h0M720.5 921.5h0M725 908h0M697 793h0M721 954.5h0M725 777h0M718 908.5h0M723 851.5h0M713.5 768h0M738.5 1070h0M746 1061h0M757 1149.5h0M715 745h0M719.5 893.5h0M698.5 788.5h0M722.5 922h0M713.5 909.5h0M742.5 1017h0M741.5 997h0M717.5 931h0M727 1087.5h0M741 1058h0M714 942.5h0M710 862.5h0M711 895.5h0M711.5 800.5h0M757 1122h0M756.5 1063h0M729.5 1054.5h0M703.5 877.5h0M766.5 1199h0M708 764h0M714 794.5h0M727 1086.5h0M762 1164.5h0M717 950h0M742.5 1157h0M696 879.5h0M739.5 1044h0M751.5 1128h0M736.5 1097.5h0M717.5 872.5h0M725 893.5h0M722.5 1015.5h0M717 1026h0M762 1181h0M724 990.5h0M736.5 1132h0M726 971.5h0M745.5 1074.5h0M721 926h0M730.5 956h0M741 1072.5h0M740 1084h0M728 898.5h0M746.5 1115.5h0M716 987h0M709 837.5h0M719 842h0M714 915h0M711.5 779.5h0M766 1165h0M736 1042.5h0M760.5 1150h0M752 1145h0M719 957.5h0M701 863h0M711.5 768h0M723 985h0M729.5 993h0M722 812h0M717 928h0M711.5 864.5h0M726 1013h0M722 932.5h0M735 1069.5h0M707 846.5h0M763.5 1163.5h0M707 866.5h0M704 745.5h0M722 726h0M736.5 1014.5h0M706.5 740h0M740 1069.5h0M714 939h0M734 1055.5h0M726 1092.5h0M702 801.5h0M702.5 772.5h0M709 895h0M724 921.5h0M711 746.5h0M731.5 814.5h0M722.5 833h0M712 924h0M705.5 863.5h0M699.5 725.5h0M719 965h0M760 1072h0M791.5 922.5h0M822 1047.5h0M783.5 748.5h0M849 1191h0M817 1037h0M794.5 963h0M828 1102.5h0M790 748.5h0M805.5 965h0M827 1091h0M803.5 955.5h0M817.5 1039h0M818.5 1057h0M849 1153.5h0M827.5 991h0M803 925h0M828 1083h0M845.5 1114h0M861.5 1198.5h0M790.5 779.5h0M844 1086.5h0M792 767h0M849.5 1190h0M814 1022h0M780 811.5h0M806 1047h0M787 831.5h0M812.5 994.5h0M808.5 986h0M809 1049.5h0M813.5 1072h0M805 988.5h0M791 905.5h0M833 1134h0M847 1140.5h0M872 1194.5h0M829 1115.5h0M830 1113.5h0M814 1022h0M825 1109.5h0M779 750h0M790 833h0M832 1124.5h0M811 974h0M839 1150.5h0M791.5 868h0M812 971.5h0M785.5 896h0M812.5 1024.5h0M811.5 1010h0M777.5 790h0M826.5 1104h0M786 823h0M848.5 1131.5h0M858.5 1224h0M802.5 911.5h0M784.5 823.5h0M857 1185h0M861.5 1201h0M837 1138.5h0M806.5 977.5h0M796.5 992h0M795 916h0M806.5 947h0M789.5 825h0M791 796h0M793.5 851.5h0M818 1034.5h0M844 1164.5h0M830 1037.5h0M784.5 779h0M795 843h0M787 754h0M839 1116.5h0M794 883.5h0M803.5 923h0M782.5 812.5h0M792.5 867.5h0M859.5 1198.5h0M805 988.5h0M794.5 895.5h0M819.5 1037h0M827.5 1072.5h0M784.5 840.5h0M818 1033h0M815.5 1017h0M842 1123.5h0M838 1166h0M844.5 1133.5h0M817 975h0M854.5 1184.5h0M847.5 1175h0M815 1063.5h0M780 762h0M829 1118h0M816 1010h0M834.5 1107.5h0M792.5 836.5h0M824.5 1054h0M832 1140h0M787 916.5h0M784.5 837.5h0M790.5 842h0M823 1018h0M820.5 1018.5h0M794 748.5h0M842 1134h0M807.5 976h0M821.5 1087.5h0M772 768h0M814 967h0M783.5 776h0M809 922.5h0M798 944.5h0M814 1027h0M836.5 1098h0M857.5 1169.5h0M799.5 849.5h0M812 1029.5h0M863 1192h0M781 787.5h0M796 930.5h0M874 1218h0M781.5 874h0M857 1169h0M827 1069.5h0M867.5 1208h0M823.5 1116h0M870.5 1182h0M829 1074.5h0M794.5 933.5h0M838.5 1105h0M804.5 951h0M854 1156h0M784 838h0M801.5 964.5h0M788.5 788.5h0M767.5 758.5h0M809 976h0M785.5 823.5h0M844 1159.5h0M787 804.5h0M810.5 1028h0M797.5 920.5h0M858.5 1215.5h0M779 776h0M828.5 1052.5h0M869 1220h0M786 790.5h0M863.5 1220h0M782 751.5h0M831.5 1111h0M782.5 909h0M785.5 801.5h0M844.5 1108h0M799.5 932.5h0M776.5 747.5h0M850 1208.5h0M828.5 1043h0M778.5 833h0M867.5 1220h0M795 819.5h0M819 1025.5h0M846.5 1179.5h0M829 1089.5h0M859 1192.5h0M790 790.5h0M787.5 797.5h0M823.5 1130.5h0M840.5 1058.5h0M799.5 921h0M856 1194.5h0M812.5 1023h0M812.5 1000h0M779.5 765h0M773 845h0M814.5 1039.5h0M793 893.5h0M778.5 790h0M842.5 1126h0M829 1078h0M776.5 887.5h0M775 788h0M782 864.5h0M820 993h0M792 843h0M809.5 948.5h0M828 1111h0M841 1117.5h0M815.5 1073h0M869.5 1218.5h0M850.5 1144h0M795.5 890h0M786.5 756.5h0M865 1211.5h0M851.5 1167.5h0M800 964h0M838.5 1137h0M793.5 905h0M783 760.5h0M796 849h0M865.5 1223.5h0M779 748h0M830.5 1114.5h0M787.5 770h0M812.5 1015h0M833 1135h0M791.5 844.5h0M854.5 1211.5h0M810.5 1024.5h0M816 1038.5h0M823 1072h0M861.5 1201h0M786 822h0M795 863.5h0M795 959h0M789 882h0M835.5 1107h0M837.5 1101.5h0M810.5 989.5h0M784 843.5h0M832.5 1044h0M788 788h0M808.5 986.5h0M777.5 870h0M791.5 902.5h0M823.5 1107h0M787.5 802h0M813.5 995h0M777 788h0M793.5 872h0M794 973h0M823.5 1066.5h0M834.5 1123.5h0M846.5 1155.5h0M842.5 1125h0M843 1138.5h0M783 782h0M813.5 971h0M856 1161h0M770.5 782.5h0M793.5 823h0M821.5 1041h0M838 1173h0M859 1182.5h0M809 997.5h0M847 1132.5h0M862.5 1184.5h0M792 873h0M792.5 818.5h0M812 970.5h0M816.5 1075h0M853 1199.5h0M860 1221h0M776 810.5h0M857 1128.5h0M849.5 1176.5h0M828.5 1061h0M802.5 1011.5h0M825.5 1139.5h0M807.5 991.5h0M862 1201.5h0M829 1146h0M794 906h0M803 953h0M800 848h0M829.5 1085.5h0M820 1030h0M852.5 1120h0M856 1192h0M839 1111.5h0M801 981h0M816 986h0M867 1206.5h0M841.5 1156.5h0M805.5 892.5h0M817 1032.5h0M774 766.5h0M794 864.5h0M793.5 912h0M823 1067h0M822.5 1078h0M837 1159.5h0M790 880.5h0M792.5 836.5h0M792 787h0M793.5 966.5h0M794.5 862.5h0M783 787h0M784 813h0M833.5 1083h0M782.5 849h0M851 1174h0M803 866.5h0M776 832.5h0M869.5 1224h0M815.5 1039.5h0M768.5 754h0M828 1134.5h0M776 800h0M778 752.5h0M842.5 1211.5h0M842.5 1139.5h0M786 811h0M852 1158.5h0M862 1217h0M784.5 777.5h0M806 963.5h0M786 787h0M794.5 839h0M795.5 914h0M790 850.5h0M854.5 1191.5h0M784.5 851.5h0M872 1216h0M815 1005.5h0M789.5 857h0M837 1083.5h0M791.5 901h0M861.5 1155.5h0M797.5 892.5h0M848 1171h0M795.5 922.5h0M795.5 937.5h0M799.5 931.5h0M785 760h0M790 900h0M781 844h0M828.5 1094h0M790.5 760h0M790.5 922.5h0M766 804h0M793 912.5h0M840 1144.5h0M789 889.5h0M807 968.5h0M787 906h0M835 1112.5h0M851.5 1185.5h0M861.5 1200h0M813 985.5h0M809.5 950h0M778 902h0M819.5 963.5h0M833 1105.5h0M827 1035.5h0M787 746.5h0M790.5 820h0M847 1115h0M870 1204h0M774 764h0M794.5 855.5h0M839 1140.5h0M824.5 1097.5h0M805.5 987h0M785.5 895.5h0M846 1172.5h0M871 1209h0M796 954h0M822 1035h0M799 954h0M821 1047.5h0M859 1204h0M803 956.5h0M821.5 1086.5h0M792 953.5h0M858.5 1191h0M790.5 882h0M817.5 1065.5h0M811 967.5h0M810.5 1002h0M781.5 816.5h0M796.5 941h0M825 1068.5h0M772.5 756h0M792.5 819h0M872 1196h0M800 775.5h0M821 1048h0M801.5 889.5h0M832.5 1097h0M813.5 1068h0M811 1023h0M797 916.5h0M792.5 963.5h0M834 1123.5h0M853.5 1168.5h0M779 769.5h0M858 1208h0M794 939.5h0M781 768.5h0M781.5 830h0M834.5 1113h0M863.5 1222h0M803 940.5h0M795 955h0M812 1017.5h0M790.5 856.5h0M790.5 948.5h0M800 919.5h0M882 1203h0M789.5 779h0M798.5 822.5h0M811 947h0M791.5 778h0M804 950.5h0M839 1135.5h0M790 750h0M857.5 1166.5h0M864.5 1183h0M788 762h0M797 904.5h0M796 827h0M819 1028.5h0M796 906h0M802 923.5h0M863.5 1212h0M839.5 1125h0M794.5 813h0M791.5 861.5h0M815 1078h0M843 1182.5h0M805 1005.5h0M785 912h0M798 811.5h0M829.5 1040.5h0M787.5 808.5h0M838.5 1131h0M832 1086h0M793.5 840.5h0M821 1082.5h0M805 952.5h0M832 1091.5h0M780 819.5h0M861 1180.5h0M819 966h0M830.5 1125.5h0M795.5 865.5h0M859.5 1196.5h0M814.5 974.5h0M795 942.5h0M790.5 832h0M843 1135h0M857 1197.5h0M822 1115h0M803.5 938.5h0M832 1129.5h0M813 1054.5h0M793 871h0M859.5 1195h0M830.5 1118h0M831 1054h0M791 943h0M801.5 984.5h0M834 1116h0M776 787.5h0M786.5 848h0M833 1125h0M793 913h0M785 859h0M790 890h0M790.5 884.5h0M797 866.5h0M797 959h0M799 951h0M840.5 1134h0M823 1020h0M800.5 936h0M804 893h0M786 845.5h0M864.5 1211.5h0M808 968h0M870 1211h0M790.5 781h0M781 750h0M796 938h0M798 759h0M785.5 859h0M789 791h0M777.5 792h0M815 927h0M812 997h0M779.5 776h0M860 1199h0M819.5 1053h0M805.5 982.5h0M826 1046h0M819.5 1013.5h0M811 1077h0M821 1102.5h0M801 946h0M807.5 969h0M847 1124.5h0M835 1102h0M867.5 825h0M867.5 746h0M875.5 753h0M895 880h0M860.5 736.5h0M873 782h0M873 740.5h0M880.5 891h0M884 803.5h0M871.5 812h0M879.5 857.5h0M890 922.5h0M864 784h0M872 753h0M886.5 909h0M875 806.5h0M889 877.5h0M863 792h0M867 724h0M883.5 903.5h0M877.5 884h0M869 780h0M863.5 717h0M878.5 719h0M873 797.5h0M872.5 711h0M883.5 811h0M858 708.5h0M874.5 799h0M878 890.5h0M865 760h0M876.5 782h0M885 861h0M881 838h0M877 710.5h0M876 811h0M878 924.5h0M865 835h0M872 799h0M865.5 752.5h0M875 796h0M879.5 917.5h0M868 746.5h0M872 831h0M875.5 883.5h0M874 709h0M875 893.5h0M873 843.5h0M874.5 858h0M872.5 824h0M880 747.5h0M876 725.5h0M875.5 761.5h0M877 790.5h0M868.5 772h0M877 791.5h0M872.5 900h0M869.5 856h0M884.5 924.5h0M867.5 852.5h0M876.5 809h0M870.5 810h0M878 908.5h0M873 773.5h0M870 708h0M870 724h0M879.5 886.5h0M865 712h0M868 833.5h0M881 854h0M870.5 771.5h0M883.5 905.5h0M874.5 758h0M873 857.5h0M887.5 834.5h0M882.5 886h0M876.5 826.5h0M883 869.5h0M874 867h0M877 764.5h0M880 824.5h0M867.5 812h0M890.5 921.5h0M879 902h0M879.5 891.5h0M867.5 706h0M879.5 917.5h0M890 922.5h0M871.5 823h0M870 856.5h0M880 894h0M857 713.5h0M868 827h0M862.5 726.5h0M886.5 900.5h0M879.5 806.5h0M872.5 813h0M863 821h0M868.5 788.5h0M872.5 796h0M880 826h0M868 776.5h0M871.5 877.5h0M870 809h0M889.5 920.5h0M869.5 915h0M879.5 818.5h0M877.5 799h0M866 738h0M863.5 850h0M869.5 810.5h0M865.5 770h0M862 750h0M872 774.5h0M867 890.5h0M880.5 861h0M873 791h0M874.5 728h0M871.5 811.5h0M880 880h0M873.5 773.5h0M882 926h0M877 721h0M879 796.5h0M877.5 757h0M884 849.5h0M875.5 791.5h0M865.5 732.5h0M876.5 889h0M879.5 918.5h0M881 824.5h0M882 904h0M857.5 723h0M873.5 810.5h0M872.5 778.5h0M869 840h0M862 781.5h0M873.5 774.5h0M881 831h0M875 853h0M870 709h0M872.5 878.5h0M876 862.5h0M871 816h0M877 719.5h0M882.5 789h0M878 825.5h0M866.5 732.5h0M877.5 789.5h0M878.5 811h0M875 739.5h0M874.5 863.5h0M874.5 735.5h0M876.5 730.5h0M892 922.5h0M881 805.5h0M497 705.5h0M523 709.5h0M562 738h0M743.5 748h0M712 710.5h0M655 773.5h0M485 719h0M709 728h0M490 747h0M499.5 753.5h0M606.5 746h0M894.5 752h0M827 706.5h0M700.5 731.5h0M608 713h0M777 724h0M585.5 713.5h0M520.5 732.5h0M770 759.5h0M891 710h0"/>
<path stroke="#248a14" d="M495 763.5h0M512.5 1111.5h0M517.5 1190.5h0M511.5 1099.5h0M513.5 1080h0M505.5 1024h0M490 923h0M497.5 920.5h0M499 780.5h0M498.5 818.5h0M497.5 762.5h0M512.5 1176.5h0M512.5 1197h0M499 769.5h0M518 1063.5h0M509.5 1094h0M504 894h0M524.5 987h0M502.5 877h0M517 1105h0M501 984h0M510.5 889h0M494 829h0M504.5 994.5h0M495 900.5h0M506.5 816.5h0M501.5 837h0M507.5 913.5h0M500 882h0M489 814h0M498 780.5h0M505 974.5h0M514.5 1131h0M511 884h0M489.5 788.5h0M505.5 1142h0M512 925.5h0M507.5 927h0M495 805.5h0M494.5 799.5h0M510 998h0M513.5 1045.5h0M505 851h0M502.5 836h0M522 1150.5h0M493 783h0M498 771h0M517 1160h0M498.5 938.5h0M519.5 1172h0M501 773h0M505 962h0M595.5 1061.5h0M609.5 1181h0M599 1007h0M605 1015.5h0M591 955h0M609 1178h0M625 1228h0M587 822.5h0M602.5 975.5h0M606 1163h0M609 961.5h0M616 1193.5h0M610 1017h0M600 1050h0M597 1009h0M605.5 1065h0M611.5 1185.5h0M617 1202h0M604.5 978.5h0M604 1139.5h0M605 1087.5h0M591.5 924.5h0M615.5 1108h0M597.5 1076h0M596.5 1013h0M615.5 1203.5h0M578.5 763h0M596.5 942h0M597 997h0M622 1192.5h0M586 816.5h0M597.5 870h0M578.5 787h0M587.5 778.5h0M601.5 933h0M587 837.5h0M592.5 897.5h0M600.5 1063.5h0M601 971h0M604 875h0M603.5 986.5h0M609.5 1141.5h0M592.5 780h0M593 926.5h0M599 939h0M585.5 868h0M605.5 1061.5h0M598.5 1099h0M591 798h0M583.5 759.5h0M607 1039h0M589 796.5h0M602.5 975.5h0M600.5 944.5h0M605 1031.5h0M611 1221h0M610.5 1172.5h0M591 976h0M599.5 984.5h0M611.5 1179.5h0M592 803.5h0M605.5 1125h0M590.5 772.5h0M610 1016h0M604 1074h0M599.5 1085h0M602.5 1140.5h0M610.5 1108h0M597.5 821h0M613 1164.5h0M589.5 770h0M602 1034.5h0M600.5 1129h0M607.5 1179h0M602 1110h0M597.5 1190.5h0M607 1208h0M608 1069.5h0M605 1093.5h0M584 803.5h0M582 808.5h0M598.5 973h0M589 865h0M595 872h0M603.5 918h0M605.5 1002h0M600 1128.5h0M591 776h0M582 767.5h0M601.5 993.5h0M598 909h0M593 885.5h0M594 993h0M598 1085h0M604 988h0M597.5 1046h0M613 1200h0M611.5 1161h0M597 876.5h0M605.5 1071h0M583 842.5h0M592.5 872.5h0M597 996h0M589 805.5h0M616 1165.5h0M585 758h0M600.5 929h0M600 896.5h0M606.5 1094h0M605 1031.5h0M601.5 995h0M589.5 856.5h0M607.5 1191h0M600 1091.5h0M597.5 1038h0M591.5 907.5h0M600.5 1177h0M582.5 793h0M589.5 970.5h0M586 884.5h0M604 997h0M606.5 887.5h0M591.5 938.5h0M587 781.5h0M599 908.5h0M598 969.5h0M589.5 880h0M617 1206.5h0M602 919h0M593 852h0M621 1187h0M610.5 1211.5h0M603.5 1180h0M612 1216h0M593 1027h0M586 842.5h0M586 813h0M595.5 969.5h0M593.5 972h0M598.5 971h0M605.5 1068h0M586.5 767.5h0M590 886h0M590.5 839.5h0M592 1020h0M610.5 1155h0M599.5 937h0M595.5 823.5h0M605 1050.5h0M582.5 846.5h0M608.5 1185h0M607.5 1126h0M596 1061.5h0M606 1175h0M579 863.5h0M591.5 815.5h0M609 1148h0M601 1035h0M618.5 1131h0M602.5 1041.5h0M586.5 765.5h0M612 1133.5h0M582 772h0M593 1099h0M605.5 1170.5h0M607 1004h0M615 1188h0M594 968.5h0M585.5 806h0M586.5 854h0M592 852h0M591.5 824h0M604.5 1184h0M611 1214.5h0M611.5 1222h0M614.5 1097h0M602.5 927.5h0M582.5 755h0M577.5 770.5h0M599 843.5h0M606.5 1216.5h0M594 878.5h0M604 1075.5h0M601 971.5h0M606 1116.5h0M616.5 1223.5h0M594 1097h0M587 808.5h0M600 1099h0M609 1076.5h0M596.5 985h0M590.5 788.5h0M596 938h0M580 768h0M588.5 781h0M683 1106h0M648.5 824.5h0M694.5 1141.5h0M689 1100.5h0M653.5 833h0M682.5 1020.5h0M679.5 1013h0M686 1048h0M678 1039h0M695.5 1129.5h0M658 863h0M708.5 1200.5h0M669 954h0M655 918h0M660 898.5h0M669.5 919h0M651.5 911h0M695.5 1103.5h0M651.5 845.5h0M665 850.5h0M660.5 869.5h0M674.5 1034h0M675 985.5h0M699 1140h0M669 999.5h0M677 1045h0M667 994h0M665.5 854h0M667 975h0M673.5 998.5h0M697.5 1197.5h0M692.5 1171h0M646 804h0M690.5 1071h0M672.5 940h0M694.5 1071.5h0M672.5 1046.5h0M689.5 1103.5h0M687 1113h0M658.5 901h0M707 1201.5h0M697 1122h0M674.5 1054.5h0M664 945.5h0M685.5 1034.5h0M644 824.5h0M675 1031h0M688 1190.5h0M700.5 1142h0M670.5 1057.5h0M694 1188.5h0M668.5 913.5h0M705 1158.5h0M647.5 847h0M665 969.5h0M655 813.5h0M675 973h0M667.5 936.5h0M649 802h0M639.5 805h0M672 1002.5h0M691 1092h0M663 872.5h0M680.5 1057.5h0M696 1195h0M638 799.5h0M678 1068.5h0M663 931.5h0M699.5 1149.5h0M668 967h0M678 1078.5h0M648 849.5h0M655.5 948h0M677 1064h0M701.5 1167h0M689.5 1146h0M657 863.5h0M692.5 1203.5h0M673 923h0M696.5 1107.5h0M659 875h0M678 1027h0M658 884.5h0M690 1182.5h0M675.5 1037h0M701 1193.5h0M667.5 1005.5h0M654.5 856h0M661 903h0M706.5 1158h0M677 1101.5h0M629 815h0M640 828h0M654.5 906h0M670.5 989h0M647.5 878h0M635 815h0M677.5 1092h0M680.5 1068h0M666.5 879h0M687 1052h0M681.5 1017.5h0M672 950.5h0M636.5 803.5h0M659.5 872h0M694.5 1105h0M694.5 1123h0M647 840h0M660.5 901.5h0M680 995h0M652.5 872.5h0M664.5 980.5h0M657.5 912.5h0M693.5 1075.5h0M685 1020h0M646 808.5h0M659 852h0M663 888.5h0M684 1129h0M676 1034h0M644 815h0M638.5 802h0M684.5 1075.5h0M647.5 833.5h0M646.5 831h0M691.5 1158.5h0M643.5 838h0M662 891.5h0M663.5 886h0M704.5 1187.5h0M689 1154h0M672.5 985h0M632.5 806h0M679.5 999.5h0M654.5 876.5h0M684 1083.5h0M661 906.5h0M668 882h0M675 945h0M641.5 837h0M687.5 1091.5h0M683 1041.5h0M665 925h0M752.5 1003.5h0M758.5 1055h0M759 1080h0M749 982.5h0M743.5 1000h0M735 883.5h0M733.5 903h0M752.5 1028.5h0M764 1008.5h0M740.5 993.5h0M731.5 853h0M735 863.5h0M746.5 1000.5h0M732.5 902.5h0M761 1060h0M767 1061.5h0M760.5 1070.5h0M734.5 935h0M729 808.5h0M733.5 841h0M758 1085h0M747 917h0M730 932.5h0M732.5 894h0M724 821.5h0M746 973.5h0M735.5 834h0M765.5 1090.5h0M738.5 783.5h0M751 1018.5h0M754 1030h0M741 1017.5h0M768.5 1077.5h0M724.5 801.5h0M762.5 1083h0M743 936h0M752 992h0M755.5 1076h0M737.5 772.5h0M761 1073h0M765 1072h0M741 829.5h0M746 983h0M732.5 798.5h0M735 902h0M741.5 843.5h0M756.5 1048.5h0M758 1036.5h0M747.5 924.5h0M736 810h0M729 805h0M762.5 1016.5h0M726.5 869h0M735 910h0M734.5 882h0M733.5 860.5h0M754.5 1083.5h0M728.5 857h0M746.5 940h0M745 1018h0M744.5 967.5h0M732.5 874h0M741 1088h0M737 928h0M743 825.5h0M736 883h0M738 929.5h0M752 1032h0M720.5 771.5h0M750 1022.5h0M727 779h0M746 961.5h0M734 863.5h0M744 985h0M745 975h0M761.5 1027h0M750.5 961.5h0M719.5 774h0M837 941h0M860 1061.5h0M845.5 916h0M871.5 1079.5h0M837.5 932h0M825 857.5h0M817 944h0M817.5 747h0M866.5 1084h0M826 879h0M874 1093.5h0M849 1027h0M825 850h0M829 862h0M837 951.5h0M872.5 1086.5h0M868 1089.5h0M835.5 969.5h0M860.5 1051.5h0M870.5 1100h0M817.5 762h0M835.5 861h0M851.5 1063h0M822 816.5h0M837 919h0M816.5 742h0M829.5 954h0M829 788.5h0M814 791h0M863.5 1051h0M843 872.5h0M841.5 911.5h0M850 881h0M825 812.5h0M847 927h0M843 1024h0M830 821h0M815 797.5h0M857.5 1021.5h0M848 1061.5h0M840.5 967.5h0M822.5 853h0M839 877.5h0M845 969.5h0M850.5 1092h0M830.5 983.5h0M834.5 947.5h0M817 773.5h0M862.5 1057h0M861.5 1060h0M849 1038h0M858 1022h0M812.5 819.5h0M877.5 1068.5h0M809 766.5h0M839.5 914.5h0M832 880h0M857.5 1088.5h0M872.5 1057h0M838 893h0M852.5 1040h0M867 1090.5h0M841 855.5h0M868 1096h0M838 977.5h0M646.5 758h0M717.5 760h0M741.5 739h0M870.5 745.5h0M548 727h0M534.5 732.5h0M890.5 761.5h0M628.5 746h0M775.5 754h0M899.5 772h0M632.5 751h0M616.5 725h0M637.5 710.5h0M705.5 724.5h0M824.5 772.5h0M659.5 759h0M902.5 770h0M803.5 721h0M708.5 720.5h0M620.5 768.5h0M717 742h0M671.5 741h0M692.5 772h0M847.5 750h0M476.5 766h0M478.5 763h0M650 755.5h0M727 721.5h0M707 729h0M655 712.5h0"/>
<path stroke="#1400ff" d="M510 1123.5h0M492 820.5h0M502 883.5h0M504 950h0M504 981.5h0M501.5 886.5h0M501.5 978.5h0M491 811.5h0M506 1013.5h0M495 857.5h0M496.5 869h0M495 866h0M503 1074.5h0M503.5 997.5h0M490.5 818h0M501 973h0M508 1067h0M495.5 843.5h0M505.5 920h0M499 928h0M496.5 919.5h0M513 1133.5h0M501 1013.5h0M502 924h0M504 1013h0M500.5 792h0M514 1162h0M493.5 860h0M493.5 852.5h0M502 1009.5h0M512 1074.5h0M507 1068.5h0M497.5 819h0M510.5 1129.5h0M501.5 942.5h0M496 870.5h0M508 1077.5h0M499.5 983.5h0M503 991.5h0M493.5 762.5h0M508 1145.5h0M491.5 950.5h0M500.5 1079.5h0M498.5 1018h0M502.5 927.5h0M503.5 1007.5h0M506 958.5h0M515.5 1161h0M503 1080.5h0M500.5 900.5h0M513.5 1188h0M507 1116h0M496 841h0M510 1193h0M496.5 867.5h0M507.5 1154.5h0M502 1027.5h0M502.5 1060.5h0M492 852.5h0M500 996.5h0M492 908.5h0M501.5 979.5h0M505 930h0M511.5 1073.5h0M512.5 1175h0M494 893.5h0M496 845h0M486.5 789.5h0M506.5 1140h0M507.5 1054.5h0M503 969.5h0M499.5 862h0M495 888.5h0M496.5 934.5h0M508 1040h0M500.5 980h0M509 1065.5h0M491 779h0M494.5 838.5h0M493.5 773.5h0M498 830.5h0M500.5 982.5h0M504 1014.5h0M510.5 1197.5h0M502 954.5h0M497.5 830h0M500.5 915.5h0M493 881.5h0M504 1084.5h0M508 1057.5h0M499 827.5h0M515.5 1153h0M505.5 1080h0M506.5 989h0M497.5 772h0M506 1071h0M498.5 937h0M512.5 1099h0M496.5 891.5h0M509.5 1110h0M512.5 1084.5h0M499 969.5h0M501 768h0M495 770h0M506.5 1128h0M494.5 857h0M514 1101h0M496 852.5h0M497 768h0M492 776h0M509.5 1091.5h0M493.5 806h0M512 1112.5h0M496 799h0M509.5 1154h0M497 873.5h0M485.5 779h0M491.5 773h0M503.5 1032h0M488.5 774.5h0M498 834.5h0M503 933.5h0M493.5 874h0M494.5 840h0M500 968h0M494.5 834.5h0M516 1143h0M493.5 865.5h0M497 926.5h0M496.5 989.5h0M510 1139h0M509.5 1072h0M493.5 924h0M489.5 858.5h0M502 1091h0M491 867h0M491 848h0M492 813h0M503 1072h0M501.5 1005.5h0M502.5 986h0M505 1069.5h0M510 1106.5h0M501.5 1014.5h0M502 873h0M495 832h0M509.5 1164h0M500.5 929h0M507.5 1011h0M502 1042.5h0M503.5 1098.5h0M498 969.5h0M506.5 1050h0M491 826h0M499 844h0M512 1136.5h0M502.5 941.5h0M510 1010h0M506 1072.5h0M510 1074h0M508 1087h0M496 839.5h0M494.5 788h0M493 819h0M506 991.5h0M504.5 974h0M509 1075h0M507 1079.5h0M492 765.5h0M491.5 878.5h0M515 1119.5h0M491.5 833h0M498 952h0M503 1077h0M500 920.5h0M505 1076.5h0M514.5 1157.5h0M516 1159h0M492.5 792h0M513 1092h0M490 784h0M496.5 898.5h0M500.5 965.5h0M512 1185h0M517.5 1190h0M505.5 1072.5h0M497.5 885h0M491.5 884.5h0M497 916h0M516.5 1182h0M493 916h0M510 1094h0M497.5 838.5h0M513.5 1156.5h0M501.5 785.5h0M506.5 997h0M511 1178h0M495.5 973h0M500.5 839h0M500.5 906.5h0M498.5 952h0M514 1185.5h0M493 820.5h0M508 986.5h0M499 849.5h0M493 794.5h0M507.5 1011.5h0M500.5 967.5h0M498.5 789.5h0M501.5 1055h0M494 880h0M507.5 1074.5h0M491 776.5h0M502 936.5h0M491.5 808.5h0M493 903h0M499 945.5h0M504.5 1051h0M505.5 1035h0M514.5 1189h0M495.5 875.5h0M514.5 1168h0M508 1089h0M489.5 857.5h0M506.5 987h0M494.5 854h0M495 859h0M503.5 1012.5h0M491 808.5h0M504.5 1006.5h0M499.5 803h0M501.5 914h0M499 794.5h0M511 1111.5h0M516.5 1142.5h0M497 839h0M493.5 825h0M505 952h0M497 801h0M493 769h0M496.5 927.5h0M496 931.5h0M499 1044h0M500 957.5h0M490.5 791h0M494 803.5h0M515.5 1130h0M508.5 1179.5h0M500 944h0M497 791h0M508.5 1102.5h0M502 963.5h0M507 1036h0M502 960h0M493 980h0M487 806h0M512 1193.5h0M502 937h0M505.5 953h0M511.5 1153.5h0M508 1171h0M515 1155h0M503 1014.5h0M495 839.5h0M509 1134.5h0M512.5 1065.5h0M508.5 940h0M505 948.5h0M491.5 772h0M502.5 1081h0M494.5 819.5h0M507 1145.5h0M501.5 1079h0M499.5 1041h0M503 876.5h0M518.5 1125.5h0M505.5 1019.5h0M497 899.5h0M501 884.5h0M492 818h0M506 1038.5h0M499 822h0M505 1055.5h0M500.5 1118.5h0M503 1089h0M493 948h0M503 1010.5h0M507.5 984.5h0M497 896.5h0M510 961.5h0M491 806h0M512.5 1063h0M501.5 954.5h0M506.5 1087h0M502 915.5h0M496 877h0M509.5 1147h0M496.5 907h0M499 823h0M513.5 1127h0M508 1173.5h0M492 783h0M495 915.5h0M506 1022h0M502.5 998.5h0M495.5 813h0M496 906.5h0M495.5 775h0M510.5 1061.5h0M513.5 1200h0M496.5 890.5h0M503.5 1045.5h0M496.5 935.5h0M500.5 1054h0M508.5 1085.5h0M504.5 1096.5h0M514 1151.5h0M493 899h0M504.5 922h0M511.5 1084.5h0M499.5 986h0M498.5 813h0M507.5 1162.5h0M496.5 843.5h0M511 1105.5h0M510.5 1172h0M501 961h0M508 1084h0M504 985h0M495.5 897.5h0M511.5 1188.5h0M493 920.5h0M485.5 807h0M508 1039.5h0M502.5 915.5h0M502.5 820.5h0M506 1109h0M504 1148h0M508.5 1130h0M501 1064h0M499 909h0M494.5 843.5h0M504 1070h0M512 1084.5h0M502.5 1055.5h0M503 1105.5h0M506.5 985.5h0M501 925.5h0M501.5 936.5h0M501 872.5h0M502 1005h0M503.5 992h0M506 1096h0M501.5 879.5h0M507 1135h0M497.5 827h0M521.5 1183.5h0M497.5 920.5h0M514 1144h0M500 1009.5h0M496.5 958.5h0M505.5 1055h0M501 849.5h0M510.5 1064.5h0M511 1140.5h0M497.5 904.5h0M495 884h0M491 791h0M497 850h0M499.5 818.5h0M517 1142.5h0M500 938.5h0M505.5 1149.5h0M501 912.5h0M499.5 897h0M499.5 859h0M487.5 800h0M591.5 1042h0M605.5 1181.5h0M599.5 1131h0M599.5 1004.5h0M580 1023.5h0M607.5 1227.5h0M599 1063h0M595.5 1050.5h0M582.5 996.5h0M587 958h0M601 1197.5h0M608 1122.5h0M586 953h0M588.5 987h0M597.5 1082.5h0M591 930.5h0M597 1129.5h0M603.5 1137h0M606.5 1193h0M585.5 995h0M615.5 1227h0M592.5 1102.5h0M603 1182.5h0M615 1213.5h0M603 1134.5h0M590.5 1018h0M596.5 1061h0M595 1017h0M608 1136.5h0M612.5 1193h0M592 1005h0M600 1089.5h0M580.5 962.5h0M607.5 1142h0M612 1216h0M596 998h0M602 1110.5h0M612.5 1219.5h0M590.5 990.5h0M585.5 1018h0M610.5 1166.5h0M600.5 1210.5h0M591.5 1081.5h0M606 1145.5h0M603 1122.5h0M583.5 940.5h0M594.5 984.5h0M597 1077.5h0M598 1053h0M581.5 983h0M601 1106.5h0M590 994h0M603.5 1188.5h0M607 1111.5h0M589 936.5h0M598.5 1060h0M596.5 1042.5h0M584.5 995.5h0M601.5 1157.5h0M604.5 1176h0M611 1166.5h0M591.5 1014.5h0M609.5 1172h0M607.5 1150.5h0M591.5 1018h0M610.5 1162h0M591.5 1071.5h0M593 949h0M605.5 1186h0M606 1176.5h0M601 1131.5h0M587.5 1020h0M589 948h0M600.5 1115h0M600.5 1073.5h0M588.5 997h0M602.5 1178.5h0M588.5 957.5h0M591 981.5h0M580.5 938.5h0M614 1182h0M593 1000h0M618.5 1226h0M607.5 1188h0M605 1138h0M594 1102h0M601.5 1152h0M585.5 998h0M600 1048h0M610.5 1179h0M616 1208.5h0M590.5 1055.5h0M606.5 1208h0M602.5 1101h0M582 954.5h0M585 929h0M585.5 969h0M605 1083.5h0M587.5 934h0M602.5 1201.5h0M589 985h0M612.5 1204h0M605 1217.5h0M609 1159.5h0M592 1006h0M584 961.5h0M599 1079h0M591 993h0M589 999.5h0M604.5 1154h0M609.5 1200h0M596.5 1013h0M599 1152h0M603.5 1190h0M586.5 945h0M594 1012h0M609.5 1169.5h0M601 1107h0M593.5 1007.5h0M587.5 944.5h0M600.5 1207h0M582.5 962h0M590.5 1010.5h0M611 1186.5h0M590.5 1031.5h0M590.5 984.5h0M598.5 1108h0M593.5 990.5h0M613 1209h0M605 1157h0M608.5 1182.5h0M610.5 1123h0M613.5 1192.5h0M611.5 1228.5h0M603.5 1096.5h0M584 962.5h0M596 997.5h0M599.5 1106.5h0M610 1173.5h0M603 1144h0M587.5 1012h0M602.5 1160.5h0M617.5 1228.5h0M676.5 1014h0M701 1166.5h0M692.5 1113.5h0M708 1200h0M675 928h0M675 991h0M680 1008.5h0M678.5 1032h0M671 937.5h0M689.5 1103.5h0M686.5 1070.5h0M684 1086h0M705 1189.5h0M670 926h0M684.5 1039h0M663.5 971.5h0M696 1149.5h0M672 955h0M664.5 957h0M679.5 1030h0M669 1018.5h0M685.5 1077.5h0M701 1184h0M685 1072.5h0M669.5 921h0M672.5 1028h0M676.5 1056.5h0M702 1177.5h0M681.5 1112.5h0M670 979h0M666.5 990.5h0M675.5 1011.5h0M696 1144.5h0M700.5 1175h0M688 1102h0M704.5 1191h0M689.5 1108.5h0M680.5 1030h0M674.5 985h0M673 960.5h0M673.5 1018h0M676 989h0M670.5 1009.5h0M668 929h0M688 1136.5h0M680.5 1063h0M690 1112.5h0M669.5 921.5h0M701 1191.5h0M672.5 1007.5h0M688 1145.5h0M672 946.5h0M678.5 954h0M687.5 1117h0M673 933h0M703.5 1182h0M683.5 1047.5h0M669.5 1021.5h0M679 1047h0M667.5 933.5h0M700.5 1184h0M669 962h0M678.5 1033.5h0M677.5 952.5h0M690.5 1141h0M703 1169h0M665 927.5h0M691.5 1122h0M675.5 956.5h0M681 1062h0M683.5 1129h0M706.5 1200.5h0M686 1101.5h0M674.5 949.5h0M670.5 1016h0M688 1162.5h0M677 1060.5h0M662 961h0M659 972.5h0M692 1136.5h0M700.5 1163h0M675 1051.5h0M705.5 1172.5h0M697.5 1161.5h0M696.5 1168.5h0M700 1167.5h0M668.5 939h0M670 942.5h0M692 1114.5h0M669 977h0M670 986h0M669.5 950h0M684.5 1089h0M674 1028.5h0M671.5 937.5h0M688.5 1114h0M685.5 1096.5h0M670.5 1000h0M681 1047.5h0M676.5 982h0M668.5 952h0M673.5 973.5h0M675 996h0M673 1013h0M755 1040.5h0M726.5 763.5h0M725 777.5h0M755 1077h0M760 1139.5h0M795 1221h0M725 805.5h0M727 845h0M753.5 1044h0M748 1025h0M776 1149h0M751 1052.5h0M731 813.5h0M785.5 1164.5h0M743.5 980.5h0M729 811.5h0M731 869h0M734 945h0M741 961.5h0M732 802.5h0M753 1066h0M759 1054h0M789 1175h0M779.5 1158h0M785 1180h0M780 1155h0M732 770.5h0M747 911.5h0M803.5 1211h0M725 764h0M749 1008h0M738 916h0M741 937h0M733.5 917h0M737 848h0M763.5 1068h0M749 983.5h0M758.5 1086h0M737 949h0M728 817h0M732 774.5h0M734.5 876h0M758 1107.5h0M740.5 813.5h0M766 1122h0M731 853h0M740.5 924h0M752.5 1048h0M748 1085.5h0M730.5 906h0M747.5 1027.5h0M747 1005h0M728 825h0M754.5 1056h0M774 1127.5h0M738 825.5h0M770.5 1126h0M779 1148h0M728.5 909.5h0M760.5 1070h0M732 919h0M724.5 813h0M788.5 1198h0M788 1208.5h0M729.5 776.5h0M728.5 792.5h0M734 879.5h0M738.5 924.5h0M740.5 872.5h0M730 763.5h0M760 1107.5h0M732.5 854.5h0M750 1043.5h0M734 901.5h0M802 1217.5h0M792 1208h0M755.5 1052.5h0M728 894h0M772.5 1138.5h0M737.5 916.5h0M756.5 1078.5h0M775.5 1160.5h0M750.5 1035.5h0M728.5 860.5h0M749.5 1017h0M733 905h0M742.5 940h0M728.5 898.5h0M774 1145.5h0M795.5 1180h0M732.5 883h0M743.5 969h0M739 964h0M735.5 988h0M765 1091.5h0M732 872.5h0M747.5 967.5h0M787 1168.5h0M739 971h0M748.5 1028h0M786 1214h0M747.5 1000.5h0M757 1078.5h0M730.5 872h0M755 1064.5h0M736.5 943.5h0M774 1139.5h0M800.5 1226.5h0M732 785h0M732.5 901.5h0M741.5 999h0M731.5 919.5h0M741 981h0M759.5 1100h0M733 860h0M744 978h0M798.5 1201.5h0M727 826.5h0M730 794h0M792 1217h0M739.5 862h0M735 796.5h0M723.5 803.5h0M795.5 1220h0M739.5 968.5h0M731 809.5h0M782 1182.5h0M726 846.5h0M733.5 856h0M732 858.5h0M780 1159h0M789 1185.5h0M740 1006h0M797 1214.5h0M759.5 1112h0M731 857.5h0M737 955.5h0M760 1071h0M792 1202h0M775.5 1139.5h0M789.5 1165.5h0M760.5 1082h0M729.5 846h0M737 871h0M746 989.5h0M740 913h0M749 1007.5h0M790 1199h0M792.5 1208h0M731 856.5h0M800 1225h0M760.5 1101h0M745 1016.5h0M732 844h0M731.5 837.5h0M726.5 775.5h0M736.5 862h0M735 833.5h0M732.5 849.5h0M728 806h0M738.5 947h0M796 1196h0M791 1188h0M728 835.5h0M736 786.5h0M741.5 955h0M740 898.5h0M756.5 1101.5h0M742 1011h0M783.5 1177h0M767 1120.5h0M735 812h0M737 899.5h0M756.5 1068.5h0M737.5 887h0M733 894h0M782.5 1175h0M727 860.5h0M755.5 1027.5h0M719 782.5h0M778.5 1175.5h0M801 1226.5h0M739.5 964.5h0M735 917.5h0M755.5 1059.5h0M758.5 1082h0M722 761h0M733 759h0M777 1164.5h0M734 938.5h0M759.5 1100.5h0M746.5 1066.5h0M781.5 1160.5h0M755 1046h0M749 1031.5h0M759 1088.5h0M776 1144.5h0M736 979h0M766 1148h0M750 1045.5h0M751 1050.5h0M774 1142.5h0M737 951.5h0M751.5 1022h0M793.5 1212h0M741 920h0M731.5 849.5h0M753 1069.5h0M718.5 768.5h0M767 1142h0M747 1020.5h0M772 1148h0M728.5 799.5h0M791 1202h0M771 1135h0M735.5 886.5h0M720 764h0M788.5 1192.5h0M780 1176h0M735 836.5h0M740.5 916h0M772.5 1136h0M765 1113h0M736.5 818.5h0M740 842h0M738 940.5h0M739 936h0M728 780h0M742.5 992h0M735 828.5h0M777 1155h0M730.5 828h0M796 1222.5h0M730 888h0M754.5 1081.5h0M787 1158.5h0M744 956h0M750.5 1034.5h0M729.5 952.5h0M748 1028h0M774 1122h0M733 918.5h0M740 841h0M737 974.5h0M725 763.5h0M734.5 874h0M788.5 1212h0M834.5 1006h0M842 991.5h0M825.5 865h0M834 875.5h0M818 762h0M842.5 956.5h0M859 1095h0M822 907.5h0M863 1067.5h0M841 970.5h0M885 1171.5h0M825.5 887.5h0M844 1032h0M840 1041h0M841 953.5h0M820 764h0M810.5 759.5h0M816.5 732h0M853.5 1102h0M832 964.5h0M825 836h0M834 936h0M823.5 751h0M816.5 775.5h0M869.5 1135.5h0M877.5 1162h0M847.5 1043.5h0M834.5 935h0M818.5 743h0M866 1120.5h0M822 817h0M824 843.5h0M820 743.5h0M876 1144.5h0M869 1140h0M833.5 940h0M859.5 1079.5h0M833.5 936.5h0M835 939.5h0M872 1170h0M833 975h0M877.5 1189.5h0M880 1175h0M872 1139.5h0M814 783.5h0M874.5 1158.5h0M834 981.5h0M868.5 1166h0M830.5 968.5h0M882.5 1181.5h0M885.5 1182.5h0M829 940h0M873.5 1156.5h0M835 924.5h0M832.5 914.5h0M828.5 948.5h0M857.5 1065.5h0M822.5 870.5h0M839.5 947h0M820 749.5h0M848.5 1018h0M819.5 761.5h0M881.5 1162.5h0M858.5 1137.5h0M862 1097.5h0M828.5 896h0M839 1004.5h0M851 1045h0M832.5 884h0M825.5 799h0M824.5 817.5h0M822.5 792h0M880.5 1153h0M832.5 946h0M832 872.5h0M823.5 756h0M860.5 1108.5h0M851.5 1051.5h0M825 904h0M838 992.5h0M862 1105.5h0M825.5 810.5h0M865 1128h0M866 1101.5h0M855 1091.5h0M816 748h0M858 1113h0M831 910h0M841 1022h0M828 977.5h0M834.5 937h0M830 770h0M835 972h0M831 938.5h0M823 799h0M836.5 933.5h0M852 1070.5h0M884.5 1156.5h0M883.5 1179.5h0M883.5 1178h0M834.5 977h0M843.5 1006h0M810 826.5h0M856.5 1042h0M827 938.5h0M830 884.5h0M865.5 1101h0M819.5 767h0M826.5 801.5h0M840.5 1015h0M826 879.5h0M870.5 1149.5h0M863 1092h0M871.5 1157.5h0M827.5 791h0M835.5 942h0M830 917.5h0M836.5 975h0M859 1054.5h0M845.5 1055.5h0M822 766h0M831.5 879h0M824 862h0M832 891h0M860.5 1097.5h0M880.5 1177h0M813 749.5h0M824 734h0M824 859.5h0M884.5 1154.5h0M860.5 1070h0M876 1150.5h0M835 955h0M856 1096.5h0M875 1152.5h0M859 1108h0M815.5 748h0M868.5 1141h0M847 1045.5h0M862 1101h0M829.5 843.5h0M883.5 1199.5h0M842 1069h0M884 1171h0M831 896.5h0M831.5 911.5h0M838 899.5h0M822 789h0M832.5 1026.5h0M878.5 1182.5h0M864.5 1115h0M825.5 829h0M846.5 1046.5h0M840 998.5h0M824.5 769h0M825 784.5h0M841 904h0M830.5 986h0M837.5 965.5h0M846 1049.5h0M838 1011h0M889.5 1183.5h0M885 1180h0M844.5 1022.5h0M865 1098h0M837.5 1018h0M827.5 782h0M878.5 1155h0M836 951h0M875 1153.5h0M822 732h0M842 945h0M827.5 900h0M836.5 929.5h0M823.5 762h0M809.5 736h0M840 1004.5h0M827.5 867.5h0M840 1024.5h0M823.5 796.5h0M815 757.5h0M877.5 1171.5h0M851.5 971.5h0M837 926.5h0M827 731.5h0M824.5 827h0M864 1084h0M857.5 1081.5h0M870 1107.5h0M864.5 1130h0M847 1007.5h0M838 834h0M824.5 911.5h0M883 1150h0M862 1112h0M851.5 1036h0M870 1108h0M831 841h0M833.5 911.5h0M836.5 918.5h0M832.5 858h0M841.5 921.5h0M855.5 1024h0M823.5 804h0M826.5 847.5h0M823 780h0M825.5 796h0M819 761.5h0M822.5 770.5h0M838.5 997.5h0M829 861.5h0M845 1021.5h0M823 736h0M850.5 1052.5h0M835 743h0M838 955.5h0M848 1041.5h0M830.5 943.5h0M840.5 998.5h0M824.5 864h0M849 1024h0M837.5 934h0M886 1190h0M827.5 829h0M871 1148.5h0M815 738.5h0M883.5 1177.5h0M811.5 755.5h0M824 751.5h0M835 883.5h0M813.5 735.5h0M835.5 928.5h0M838 999h0M839.5 948h0M891 1197h0M850.5 1072.5h0M832 896.5h0M826 809.5h0M818 772h0M828.5 860.5h0M879 1166.5h0M889 1181.5h0M829 842h0M883 1186.5h0M826.5 819.5h0M841.5 1020h0M870 1134.5h0M869 1144.5h0M850.5 1065h0M849.5 1008h0M825 894.5h0M814.5 773.5h0M898 1195.5h0M837.5 941.5h0M828 822.5h0M839.5 954.5h0M827.5 930.5h0M840 957h0M827.5 925.5h0M865.5 1105.5h0M885.5 1172h0M831.5 746h0M828 831h0M816.5 768.5h0M843.5 1006h0M846.5 1025h0M846 952.5h0M880 1173h0M819 874h0M880 1159h0M882.5 1194h0M832 966.5h0M849 1019.5h0M877.5 1162.5h0M827.5 924.5h0M823.5 783h0M858.5 1076h0M860.5 1070.5h0M820 801.5h0M847.5 1065.5h0M890 1178.5h0M848.5 999.5h0M884 1145.5h0M838 973h0M820 795.5h0M835.5 882.5h0"/>
</g>
<g fill="none" stroke-linecap="round" stroke-width="3">
<path stroke="#ff1c0c" d="M1539 1175h0M1517 888h0M1543.5 1048.5h0M1549.5 1202h0M1518 953.5h0M1530.5 1084.5h0M1541.5 1202.5h0M1555.5 1190.5h0M1499 749h0M1522 928.5h0M1539 1060.5h0M1535.5 1077.5h0M1511.5 881.5h0M1510.5 824.5h0M1541 1014h0M1553 1173.5h0M1489 721.5h0M1499 813.5h0M1504.5 910h0M1525 990.5h0M1520.5 965h0M1496.5 762.5h0M1507 773.5h0M1539 1086.5h0M1544 1125.5h0M1500.5 782.5h0M1497.5 847.5h0M1497.5 844h0M1500.5 807.5h0M1495 790.5h0M1508.5 920h0M1511.5 960.5h0M1509 745.5h0M1507.5 832.5h0M1543 1147.5h0M1502.5 861h0M1540.5 1186.5h0M1522 1069.5h0M1524.5 1032h0M1500 738h0M1508 790.5h0M1544.5 1105.5h0M1516 882.5h0M1528 1099.5h0M1513 981h0M1493.5 819.5h0M1534.5 1053.5h0M1518.5 902h0M1508 766h0M1496.5 774.5h0M1538.5 1190h0M1531 1085.5h0M1534 1118h0M1548 1144h0M1531.5 1114.5h0M1517.5 858h0M1513.5 855.5h0M1538.5 1066h0M1513 865h0M1485.5 747.5h0M1510.5 860h0M1497 751.5h0M1532 1070h0M1502.5 786.5h0M1512 931.5h0M1522.5 975h0M1526.5 1006.5h0M1512.5 741.5h0M1496 816.5h0M1528.5 1039.5h0M1503.5 818.5h0M1488 733.5h0M1531 1029h0M1504 816.5h0M1516 927h0M1529 995h0M1527.5 992.5h0M1493 786h0M1499 781h0M1524 859.5h0M1531 1100h0M1489 724.5h0M1519 813h0M1516.5 818.5h0M1538.5 1037.5h0M1532.5 1064h0M1520.5 1010h0M1509.5 913.5h0M1529.5 1195h0M1523.5 1060.5h0M1508.5 881.5h0M1518 860h0M1511 949.5h0M1506 807h0M1504 800.5h0M1499.5 815h0M1558 1204.5h0M1541 1117h0M1511 819h0M1538.5 1127.5h0M1526 1048h0M1501 899h0M1555.5 1179.5h0M1495 743h0M1531 1057.5h0M1526 1053.5h0M1503.5 905.5h0M1545.5 1109h0M1510 783.5h0M1510.5 951.5h0M1506 732h0M1534.5 1018h0M1498.5 873h0M1526 946.5h0M1516 924.5h0M1543.5 1159h0M1499.5 853h0M1505.5 885h0M1498.5 830.5h0M1532.5 996.5h0M1510 823.5h0M1493.5 747.5h0M1549.5 1187h0M1511 858h0M1533 1044.5h0M1541.5 1113h0M1507 841h0M1533.5 1113.5h0M1507 832.5h0M1543 1109.5h0M1527.5 1005.5h0M1513 828h0M1508 971h0M1492.5 765h0M1499.5 793.5h0M1502 854h0M1515.5 950.5h0M1507 799.5h0M1514 939.5h0M1549 1155.5h0M1493.5 731h0M1503 847.5h0M1517 945.5h0M1527 1110.5h0M1544 1045h0M1498.5 782h0M1523 985h0M1555 1164h0M1508 849.5h0M1516 890.5h0M1517 931.5h0M1556 1195.5h0M1540 1159.5h0M1520 927h0M1544 1145h0M1538 1121.5h0M1501 827.5h0M1541.5 1189h0M1519 1061.5h0M1533 1184h0M1510.5 896.5h0M1544.5 1185h0M1512 830.5h0M1532 1163h0M1547 1191h0M1517.5 962h0M1534.5 990.5h0M1494 778h0M1542 1154h0M1527 1045.5h0M1522 917.5h0M1537.5 1192.5h0M1540 1183.5h0M1503 728.5h0M1524.5 904h0M1521.5 1110h0M1514 869h0M1508.5 786.5h0M1503.5 819h0M1515.5 939h0M1516 760.5h0M1510.5 956h0M1545.5 1143.5h0M1500 835.5h0M1510.5 785h0M1515 946.5h0M1548 1161.5h0M1511.5 934.5h0M1519.5 996.5h0M1519 1017h0M1523.5 943.5h0M1520 938.5h0M1523 974.5h0M1537.5 1130.5h0M1520.5 949h0M1553 1150h0M1535 1124h0M1542 1193h0M1540 1040.5h0M1527 1036h0M1477.5 723.5h0M1500 956h0M1501.5 818h0M1520 1074.5h0M1541.5 1079.5h0M1522.5 927h0M1506.5 821.5h0M1519.5 1002h0M1498 829.5h0M1526 921.5h0M1518.5 959h0M1557.5 1192h0M1505 817.5h0M1528.5 1096h0M1570.5 1199h0M1537.5 1096.5h0M1514 1066.5h0M1519.5 898h0M1521.5 1066.5h0M1541 1056.5h0M1497.5 720.5h0M1498.5 804.5h0M1512 895.5h0M1516.5 1030h0M1538.5 1125h0M1524.5 846h0M1517 973h0M1527.5 1043.5h0M1508.5 785h0M1525 980.5h0M1522.5 1039h0M1542 1168.5h0M1521.5 953.5h0M1520.5 999.5h0M1533 1074.5h0M1510 933.5h0M1551 1190h0M1505.5 861h0M1536.5 1122.5h0M1502 873.5h0M1546.5 1119.5h0M1555.5 1151.5h0M1520.5 1030.5h0M1498 772h0M1496.5 769.5h0M1553.5 1197.5h0M1533 1023.5h0M1506 834h0M1526.5 1080h0M1509.5 800h0M1518 830h0M1542 1050h0M1508 838.5h0M1528 1026h0M1518.5 943.5h0M1538 1124.5h0M1505 842.5h0M1500 841h0M1536.5 1038h0M1508.5 974h0M1503 886h0M1550 1162.5h0M1527.5 987.5h0M1533.5 1129.5h0M1523.5 1040h0M1520.5 843.5h0M1514 780h0M1538 1165.5h0M1503 775.5h0M1516 982.5h0M1533 1091h0M1531.5 1167.5h0M1502 746h0M1508 836.5h0M1499.5 781h0M1543 1159h0M1549.5 1137.5h0M1512 949.5h0M1516 978h0M1513 779h0M1524.5 1044h0M1525.5 1007.5h0M1544 1114.5h0M1493 719.5h0M1494.5 829.5h0M1515.5 1002.5h0M1516 977.5h0M1537 1051.5h0M1516.5 950.5h0M1499.5 753.5h0M1519.5 890.5h0M1519 976.5h0M1522.5 1006.5h0M1509 975h0M1526.5 988.5h0M1504 918.5h0M1533.5 1097.5h0M1490.5 761h0M1514 886.5h0M1543.5 1110.5h0M1533.5 1161h0M1538.5 1079h0M1547 1150.5h0M1525.5 874.5h0M1535 1053h0M1500.5 749.5h0M1516.5 820h0M1496 747.5h0M1514.5 785.5h0M1543 1143.5h0M1513.5 1081h0M1525.5 1056h0M1523 1019h0M1554.5 1057.5h0M1496 772h0M1508.5 970.5h0M1503.5 787h0M1555.5 1187h0M1544 1178h0M1496.5 730.5h0M1524 1029.5h0M1539.5 1161h0M1549 1174.5h0M1510 790h0M1535 1063.5h0M1500 738h0M1536.5 1168.5h0M1505.5 719h0M1494.5 742h0M1534.5 1166h0M1511 896.5h0M1499.5 753.5h0M1493 732.5h0M1513 839.5h0M1498.5 787h0M1489.5 763.5h0M1535.5 1167.5h0M1508.5 820h0M1505.5 820.5h0M1505.5 886.5h0M1518.5 997h0M1536.5 1056.5h0M1532 1013.5h0M1515.5 918.5h0M1526.5 1113.5h0M1545 1191h0M1535.5 1069.5h0M1515 1026.5h0M1516 1001.5h0M1499.5 769.5h0M1537 1103h0M1518.5 839h0M1507 945h0M1547.5 1120h0M1507 837h0M1518.5 997.5h0M1541 1119h0M1510 744h0M1511 803h0M1512.5 957h0M1509.5 895h0M1504.5 804.5h0M1492 723.5h0M1541.5 1122.5h0M1506.5 792.5h0M1510.5 904h0M1529.5 1000.5h0M1511.5 919h0M1509.5 915.5h0M1502.5 815.5h0M1505.5 762.5h0M1523 1057h0M1521.5 1041h0M1519 941h0M1519 960h0M1541 1081.5h0M1529.5 1194.5h0M1508.5 794h0M1508.5 839h0M1501 819.5h0M1514 880h0M1509 875h0M1536.5 1061.5h0M1485 728.5h0M1552 1173.5h0M1553.5 1189h0M1545 1140.5h0M1513.5 801h0M1516.5 941.5h0M1507 758.5h0M1529.5 992h0M1500.5 729.5h0M1542.5 1055h0M1517 928.5h0M1508 823h0M1527.5 1031h0M1495.5 788h0M1505 774h0M1518 819h0M1499 736.5h0M1523 1028h0M1550 1144h0M1504.5 885h0M1519 1013.5h0M1515.5 1011h0M1542 1140h0M1533.5 1092h0M1505 859.5h0M1512.5 754.5h0M1507.5 760h0M1532.5 1027h0M1526.5 985h0M1536 1067h0M1553 1140.5h0M1537.5 1136h0M1506.5 958h0M1545 1186h0M1510.5 809.5h0M1515 899.5h0M1513 848.5h0M1523.5 1011.5h0M1523 803h0M1497.5 785.5h0M1511.5 904h0M1499.5 785h0M1497 727.5h0M1535.5 941.5h0M1505 767.5h0M1520 1063.5h0M1519.5 1043.5h0M1534.5 1125.5h0M1490.5 803h0M1516.5 913h0M1512 854.5h0M1518.5 767.5h0M1523 1100h0M1490.5 722h0M1511.5 909.5h0M1532 1000h0M1498.5 838h0M1529 1063h0M1542 1122.5h0M1512 1014.5h0M1502.5 765h0M1521.5 1021.5h0M1511 828h0M1520.5 1019.5h0M1527 1046.5h0M1526 1010h0M1498 725.5h0M1525.5 1071h0M1525.5 974.5h0M1516.5 819h0M1531.5 1059.5h0M1514.5 896.5h0M1514 794h0M1493 821h0M1534.5 1132h0M1548 1158h0M1543.5 1040h0M1503 749h0M1541.5 1172.5h0M1532 1121.5h0M1537 1049.5h0M1517 986h0M1526.5 944h0M1530.5 1029h0M1509.5 761h0M1529.5 1012.5h0M1542 1039.5h0M1531.5 1015h0M1499 862.5h0M1540.5 1105h0M1531 1027h0M1525 1048.5h0M1519 995.5h0M1516 786h0M1506.5 757.5h0M1511 836h0M1494 820h0M1526 1022.5h0M1546 1183h0M1507.5 902.5h0M1528.5 1065h0M1539 1158.5h0M1560.5 1160.5h0M1532 1049.5h0M1544 1170.5h0M1543 1082.5h0M1502.5 882.5h0M1514 941h0M1520.5 1123.5h0M1525.5 1028.5h0M1523 984h0M1531 1046.5h0M1507.5 764.5h0M1509.5 792h0M1500 766h0M1517 801.5h0M1490.5 731.5h0M1511.5 753.5h0M1477 728h0M1516.5 948.5h0M1536 1017h0M1505 974h0M1543 1076h0M1513 745h0M1525 1023.5h0M1512 864h0M1529.5 1108h0M1527.5 1018h0M1526.5 1065.5h0M1518 994.5h0M1504.5 963h0M1520.5 808h0M1524 940.5h0M1498 756h0M1518.5 867h0M1547.5 1180.5h0M1529.5 1012h0M1500.5 872h0M1519.5 1036h0M1504 831h0M1538 1142.5h0M1508 937h0M1530 935.5h0M1534 1118h0M1506 877h0M1528.5 1064.5h0M1542 1204.5h0M1523 909h0M1522.5 1009h0M1517.5 942.5h0M1556 1195h0M1518 1104h0M1500 785.5h0M1533.5 1143h0M1533 1005.5h0M1519.5 999.5h0M1502 821.5h0M1498 836.5h0M1530.5 1048h0M1507.5 899.5h0M1522.5 1009.5h0M1528 1047.5h0M1509.5 733h0M1488.5 731h0M1505.5 871h0M1502.5 753.5h0M1495 748h0M1512 754.5h0M1508 858h0M1517.5 987.5h0M1505 737.5h0M1528 971h0M1520 953.5h0M1527 1014h0M1515 832h0M1510 854h0M1535 1015.5h0M1534.5 1086h0M1524.5 1021h0M1517 876.5h0M1506.5 937.5h0M1509.5 863h0M1546 1179.5h0M1507 728.5h0M1552.5 1097.5h0M1520 1033h0M1523.5 1053h0M1499 771h0M1508.5 947.5h0M1560.5 1205h0M1517.5 1003.5h0M1531.5 1089h0M1553 1175.5h0M1549 1137h0M1509 842.5h0M1500.5 727.5h0M1516 907.5h0M1550.5 1176h0M1514.5 969h0M1533 1037.5h0M1513 981h0M1541.5 1052h0M1530 943.5h0M1551.5 1120.5h0M1522 941.5h0M1517 808.5h0M1517.5 925.5h0M1499.5 736h0M1516.5 1024.5h0M1504.5 988.5h0M1513.5 970h0M1522.5 986.5h0M1528 1030.5h0M1510 926.5h0M1536.5 1179.5h0M1509 844.5h0M1531.5 1157h0M1525.5 1005h0M1527 964h0M1497 728.5h0M1493 807h0M1495.5 736h0M1542 1110h0M1549 1161h0M1531.5 1103.5h0M1541 1066.5h0M1509.5 938h0M1517 1018.5h0M1496.5 785.5h0M1504.5 797h0M1523.5 1033h0M1540 1169h0M1531 983h0M1518 940h0M1508 790h0M1516 1047.5h0M1530.5 990h0M1530 1063.5h0M1502.5 863.5h0M1520.5 982h0M1532 1108.5h0M1551.5 1190.5h0M1524 968h0M1494 907h0M1498 753h0M1515.5 884.5h0M1516.5 885h0M1486 759.5h0M1534.5 1057.5h0M1518 953.5h0M1528 951.5h0M1543.5 1142h0M1514.5 810h0M1553 1200h0M1539.5 1080h0M1543.5 1175h0M1542.5 1201.5h0M1552 1165.5h0M1542 1160.5h0M1511 812h0M1524.5 1004h0M1526.5 1105h0M1502 830h0M1513.5 996.5h0M1510.5 976.5h0M1510 806h0M1513.5 996.5h0M1514 875h0M1509 843.5h0M1536.5 996h0M1542 1126h0M1502.5 726.5h0M1488 754.5h0M1562 1203h0M1546.5 1160.5h0M1523 994.5h0M1542 1200h0M1552.5 1202h0M1507 802.5h0M1510.5 849.5h0M1515 929.5h0M1502 907h0M1518 772h0M1524.5 945h0M1509.5 945h0M1526 907.5h0M1508 1010.5h0M1492.5 798.5h0M1548.5 1193h0M1524.5 1029.5h0M1536.5 1092.5h0M1531.5 1149.5h0M1512.5 827h0M1533.5 1099h0M1504.5 729.5h0M1517 955.5h0M1544 1193h0M1514 934h0M1509.5 897.5h0M1492.5 723h0M1529 977h0M1538.5 1173.5h0M1524 994h0M1532.5 1009.5h0M1487.5 737h0M1529 1045h0M1507.5 881.5h0M1543 1166.5h0M1508 830h0M1552 1193.5h0M1549 1182.5h0M1521 945h0M1546 1204.5h0M1536 1086.5h0M1514.5 794h0M1551.5 1201h0M1506 980h0M1537.5 1046.5h0M1526 1022.5h0M1540 1066h0M1545 1181.5h0M1495.5 815.5h0M1511.5 742h0M1509 749.5h0M1523 929.5h0M1547.5 1119h0M1530.5 1107.5h0M1544 1164h0M1496 719h0M1510 845.5h0M1487.5 785.5h0M1525.5 1033.5h0M1507.5 738h0M1501.5 893.5h0M1534 1081h0M1508.5 890h0M1553 1182h0M1516 964h0M1527 1055h0M1508.5 948h0M1516.5 960h0M1542 1104.5h0M1488.5 780h0M1556.5 1198h0M1517 876.5h0M1510 828.5h0M1500.5 726h0M1512.5 792h0M1551.5 1181.5h0M1513.5 999.5h0M1550 1142.5h0M1495.5 725h0M1500.5 855h0M1506 783.5h0M1502 781.5h0M1496.5 753.5h0M1532.5 1001.5h0M1491 729h0M1530.5 1180h0M1522.5 967h0M1512 865.5h0M1547 1165h0M1523.5 997.5h0M1506 810h0M1521.5 905h0M1527 943h0M1486.5 857.5h0M1504 836.5h0M1518.5 930h0M1545.5 1193.5h0M1521.5 935h0M1517 839h0M1510 909h0M1504.5 794.5h0M1508 772h0M1519 1035.5h0M1512 893.5h0M1498 718.5h0M1503.5 793h0M1531 963.5h0M1530.5 1142h0M1528 1081.5h0M1493 786.5h0M1546 1105.5h0M1492 779h0M1517 807.5h0M1543 1091h0M1532 1109.5h0M1516 1005h0M1515 920.5h0M1555 1185.5h0M1504.5 757h0M1513 815h0M1497.5 905h0M1517 843.5h0M1498 756.5h0M1495 767h0M1533.5 1078.5h0M1546 1136.5h0M1496.5 769.5h0M1518.5 1038h0M1532.5 1013h0M1526.5 1092h0M1559.5 1186.5h0M1548 1128.5h0M1537 1084h0M1509.5 955h0M1542.5 1162.5h0M1504 871.5h0M1510.5 867.5h0M1525.5 1072h0M1542 1066h0M1511 801.5h0M1519.5 957.5h0M1528 1048h0M1546.5 1149h0M1538.5 1056h0M1536 1149.5h0M1537 1108h0M1518.5 1070h0M1542.5 1152.5h0M1506.5 731h0M1520 969h0M1534 1132.5h0M1512.5 853.5h0M1487 817.5h0M1514 811h0M1538 1081h0M1491 733h0M1527.5 947.5h0M1529 1084.5h0M1548.5 1156h0M1500.5 739.5h0M1506 933.5h0M1502 761.5h0M1508 951h0M1509.5 845.5h0M1531 1060.5h0M1515 929.5h0M1518.5 988.5h0M1540 1141.5h0M1516 1031.5h0M1505.5 871h0M1527.5 1005.5h0M1503.5 849h0M1543 1196.5h0M1512.5 978.5h0M1501 718.5h0M1555.5 1204.5h0M1516.5 918h0M1535 1094.5h0M1545 1162.5h0M1534.5 1072.5h0M1499 798h0M1547 1146h0M1513 810.5h0M1512.5 917h0M1552.5 1177h0M1503 804h0M1513 1046.5h0M1520.5 912.5h0M1490.5 737.5h0M1513 981.5h0M1524 1014.5h0M1526 1084.5h0M1520.5 983h0M1536.5 1026h0M1539 1169.5h0M1544 1127h0M1502.5 815.5h0M1512.5 875h0M1532 1124.5h0M1534 1100.5h0M1542 1068h0M1539 1130.5h0M1495.5 732.5h0M1520.5 975h0M1505.5 788h0M1520.5 907h0M1546.5 1119h0M1513.5 971h0M1518.5 1008h0M1494.5 750.5h0M1518.5 991h0M1516 855.5h0M1508 927h0M1532.5 1108h0M1498 741h0M1529 949h0M1524 902h0M1516.5 958h0M1530.5 1054.5h0M1545 1087h0M1504.5 739h0M1527.5 1053h0M1554.5 1184.5h0M1505.5 783.5h0M1504.5 793h0M1532.5 1063h0M1507 758h0M1510.5 848.5h0M1539.5 1171h0M1511 820h0M1495.5 739h0M1516.5 1021h0M1508 775h0M1524 999.5h0M1545.5 1104h0M1536 1160h0M1545 1092.5h0M1514.5 993h0M1540.5 1192.5h0M1530 1086h0M1498 719h0M1548 1182h0M1507.5 890.5h0M1525.5 1119h0M1504.5 790.5h0M1536.5 1088.5h0M1513 854h0M1541.5 1169h0M1543 1160.5h0M1501 729h0M1540.5 1127.5h0M1503.5 825.5h0M1487.5 730.5h0M1504.5 740h0M1517.5 941.5h0M1499.5 770h0M1515 979.5h0M1522 1050h0M1535.5 1011.5h0M1530 1094h0M1498.5 723h0M1521.5 1013h0M1507.5 826.5h0M1540.5 1160h0M1502.5 806h0M1544 1188.5h0M1526 973h0M1492.5 751h0M1511.5 916h0M1541.5 1118h0M1505.5 758.5h0M1506 907.5h0M1500.5 922.5h0M1548.5 1129.5h0M1511.5 893h0M1513 860h0M1551.5 1137h0M1547.5 1184.5h0M1541 1196h0M1561 1184h0M1519.5 972.5h0M1505.5 817.5h0M1513.5 846h0M1514 957h0M1526 1031.5h0M1495 777.5h0M1536 1132h0M1502.5 838h0M1522.5 1000.5h0M1516 851.5h0M1550.5 1163h0M1544 1101h0M1532.5 1002h0M1496.5 743h0M1497 769h0M1532 1196.5h0M1509.5 809.5h0M1550 1204.5h0M1515 833h0M1507.5 851h0M1547.5 1198.5h0M1523.5 962.5h0M1532.5 1149.5h0M1507.5 928.5h0M1558 1205h0M1510 876.5h0M1510.5 900.5h0M1503.5 848.5h0M1518 801.5h0M1498 772.5h0M1545.5 1098.5h0M1537 1107h0M1541.5 1154h0M1505 796h0M1537 1199h0M1506.5 792h0M1510 966.5h0M1536 1026.5h0M1532.5 1113.5h0M1518 864h0M1520 864h0M1529 992.5h0M1521.5 932.5h0M1504 802h0M1515.5 952.5h0M1520.5 937h0M1500.5 809.5h0M1530.5 1079h0M1550 1147h0M1512 925h0M1514 884.5h0M1509 988h0M1507 822h0M1505.5 899h0M1552 1192.5h0M1558.5 1139h0M1537 1128.5h0M1554 1177h0M1542.5 1169.5h0M1548 1199.5h0M1489 761h0M1534.5 988.5h0M1509 790h0M1497.5 719.5h0M1549.5 1192.5h0M1525 1094.5h0M1495 865.5h0M1501 778h0M1510.5 796h0M1504.5 938h0M1550.5 1129.5h0M1502 757.5h0M1545.5 1156.5h0M1505 853h0M1539.5 1058.5h0M1537.5 1034.5h0M1536 1078.5h0M1505.5 919h0M1501 737h0M1521.5 1020.5h0M1537.5 1157.5h0M1556 1190.5h0M1539.5 1131.5h0M1523 938h0M1529 1088h0M1502.5 840h0M1532.5 1055h0M1548.5 1190h0M1549.5 1161.5h0M1526 1017h0M1526 932h0M1517.5 947h0M1517 933.5h0M1502.5 767h0M1534.5 1100h0M1524 988.5h0M1506.5 881.5h0M1504 829.5h0M1531.5 1126h0M1500 919h0M1501 862h0M1538.5 1074.5h0M1516 871.5h0M1519 912.5h0M1506 888.5h0M1542.5 1137.5h0M1552.5 1150.5h0M1500.5 810.5h0M1529 1099.5h0M1550 1199h0M1510.5 880.5h0M1511.5 923.5h0M1518.5 940.5h0M1522 934h0M1531 1009h0M1514 965h0M1519.5 925.5h0M1554.5 1095h0M1522.5 1003.5h0M1526 954h0M1542 1081h0M1530 1146h0M1523 1052.5h0M1509.5 899.5h0M1505.5 872h0M1507 859.5h0M1497 742h0M1506.5 870.5h0M1508 887h0M1548.5 1170h0M1520.5 985h0M1516 837h0M1543 1115.5h0M1537.5 1085h0M1508 881h0M1517.5 995h0M1520.5 922h0M1534.5 938h0M1490 726h0M1522 942.5h0M1529 1014.5h0M1543.5 1103.5h0M1528 1091h0M1526 990h0M1536.5 1034.5h0M1533 1069.5h0M1541 1095.5h0M1531.5 1105.5h0M1503.5 739h0M1617 943.5h0M1618.5 1071.5h0M1608 757.5h0M1629.5 1129h0M1619 1104.5h0M1627 1081h0M1590.5 790h0M1618 984h0M1605.5 983h0M1603 766.5h0M1634.5 1129h0M1622 1155h0M1605.5 983h0M1614.5 962.5h0M1585 736h0M1627 1089.5h0M1599.5 872h0M1602 825h0M1617.5 1070h0M1641 1217h0M1609 978h0M1639 1161.5h0M1613 1008.5h0M1638.5 1203h0M1606 902h0M1619 1053h0M1607 912h0M1642 1143h0M1631.5 1165h0M1623.5 1078h0M1627 943h0M1599 697h0M1616 1019h0M1625 991h0M1613.5 977.5h0M1627 1054.5h0M1600 949.5h0M1626.5 1141.5h0M1599 710.5h0M1593.5 755.5h0M1629 1213h0M1611.5 917.5h0M1619.5 1124.5h0M1620.5 1037.5h0M1634 1102.5h0M1643 1188.5h0M1592 730.5h0M1594 728.5h0M1632.5 1164h0M1596.5 733.5h0M1605.5 913.5h0M1598 789h0M1620 980h0M1613.5 816h0M1628.5 1119.5h0M1636 1171.5h0M1627 1109h0M1620.5 1113h0M1592.5 793h0M1612.5 925.5h0M1583 730h0M1600.5 964h0M1589.5 871.5h0M1629.5 1097h0M1608 971h0M1588 703.5h0M1598.5 794h0M1625.5 1194h0M1601.5 828.5h0M1629.5 1063h0M1614 1107h0M1614 914h0M1602 924.5h0M1638.5 1148h0M1615 970h0M1631.5 1083h0M1632.5 1046.5h0M1599.5 752h0M1618.5 1100h0M1618.5 1036h0M1587.5 733h0M1640.5 992h0M1601 868h0M1591.5 808h0M1607.5 871h0M1637 1083.5h0M1641.5 1225.5h0M1618.5 925.5h0M1651 1216h0M1634 1169h0M1623 1134h0M1626.5 1107h0M1626 1016.5h0M1605.5 778h0M1603 990h0M1623.5 996.5h0M1600.5 988.5h0M1609.5 1049.5h0M1607.5 912h0M1624.5 1162.5h0M1613 1054.5h0M1600 936.5h0M1603.5 822.5h0M1657.5 1226h0M1618.5 1078h0M1637.5 1211h0M1600 897h0M1603.5 773.5h0M1630 996h0M1614 866.5h0M1602 807h0M1612.5 937.5h0M1593.5 987h0M1620.5 1022h0M1590 747.5h0M1598 803.5h0M1585 702h0M1642 1191.5h0M1609.5 904h0M1626.5 1162.5h0M1617 1078.5h0M1607.5 931h0M1607.5 1069h0M1642 1165h0M1641 1205h0M1626 1173.5h0M1592 744h0M1587 704.5h0M1598.5 761.5h0M1620.5 1086.5h0M1609 827h0M1618 1007h0M1585 773.5h0M1625.5 1002.5h0M1613 989.5h0M1608 912h0M1596 742h0M1597 873h0M1617.5 1101h0M1613 970h0M1649 1218h0M1637.5 1165.5h0M1617.5 1077.5h0M1602.5 784h0M1613.5 954h0M1604 843h0M1602.5 951h0M1628.5 1176.5h0M1608.5 884.5h0M1613.5 977.5h0M1596 792.5h0M1614.5 966h0M1600.5 852h0M1625.5 1104h0M1629.5 1142.5h0M1627.5 1155.5h0M1640.5 1194h0M1605.5 791.5h0M1592.5 772h0M1586.5 782h0M1596.5 750.5h0M1646.5 1206.5h0M1597.5 853.5h0M1630 1193.5h0M1613.5 1021h0M1610.5 921h0M1651.5 1222h0M1603.5 901h0M1642.5 1194.5h0M1641.5 1203h0M1637 1163h0M1631 1108h0M1634 1001h0M1641 1207h0M1608.5 991h0M1593 734.5h0M1612.5 1048.5h0M1632 1062h0M1627 1167.5h0M1627 1133h0M1590 878.5h0M1625.5 1098.5h0M1620.5 984.5h0M1603.5 926.5h0M1602.5 753.5h0M1608 927.5h0M1633.5 1036.5h0M1637 1105.5h0M1611 1008h0M1593.5 861h0M1588 735h0M1604.5 963h0M1612.5 791h0M1604.5 938.5h0M1606.5 949.5h0M1635.5 1159.5h0M1628.5 1095.5h0M1593 765.5h0M1590.5 852.5h0M1624 957.5h0M1598 806h0M1607.5 860h0M1604 1048h0M1619 1040h0M1611.5 957h0M1602 877h0M1580 830.5h0M1637.5 1218.5h0M1621 962.5h0M1650 1191h0M1610 974.5h0M1582.5 722h0M1619 1025.5h0M1606 1015.5h0M1616.5 1116.5h0M1609 929h0M1608 927h0M1599 736h0M1626.5 1085.5h0M1618.5 1054.5h0M1627.5 1048h0M1589 741h0M1641.5 1163.5h0M1590 702.5h0M1605.5 930h0M1626.5 1163h0M1617.5 1097.5h0M1606.5 831h0M1597.5 817.5h0M1598 857.5h0M1612 800h0M1583 784h0M1614 983.5h0M1638.5 1142h0M1611.5 835h0M1607.5 744h0M1586 720h0M1592.5 775h0M1594.5 786h0M1607 1005h0M1605 1059h0M1636.5 1191h0M1644.5 1201h0M1646 1172.5h0M1647 1215h0M1602 712.5h0M1596 705h0M1618.5 1042h0M1603 855h0M1605 943h0M1613 873.5h0M1633 1196h0M1648 1217.5h0M1610 961.5h0M1580.5 720h0M1594 870.5h0M1627 1203.5h0M1605 787h0M1615.5 1031.5h0M1602.5 853h0M1628 1023.5h0M1618 1070h0M1637 1163.5h0M1605.5 893.5h0M1613.5 776.5h0M1615 903.5h0M1618 990h0M1632 1030h0M1629.5 1208h0M1610 795.5h0M1602.5 748h0M1612 1041.5h0M1617.5 994.5h0M1579.5 723.5h0M1620.5 1043h0M1588.5 709.5h0M1594 883.5h0M1595.5 854h0M1597.5 810.5h0M1638 1141.5h0M1626 1127.5h0M1599 747h0M1618.5 1061h0M1604.5 811.5h0M1593 882.5h0M1614.5 1112h0M1642 1226.5h0M1599 947h0M1592 704.5h0M1607.5 717.5h0M1593 955.5h0M1601 791.5h0M1601.5 969.5h0M1608.5 820.5h0M1607.5 947.5h0M1627.5 1108.5h0M1598 908.5h0M1592 735.5h0M1618 1057.5h0M1626 1096h0M1595 911.5h0M1601 728.5h0M1627.5 1206h0M1631.5 1070.5h0M1639.5 1170h0M1608 1000h0M1620.5 1032h0M1620.5 1039h0M1609.5 977.5h0M1623.5 1070h0M1611 916.5h0M1604 849h0M1636.5 1146.5h0M1607.5 912.5h0M1593 719.5h0M1594 723h0M1626.5 1111.5h0M1593.5 755.5h0M1585 724h0M1623.5 1030.5h0M1593 773h0M1613 873h0M1619 1036h0M1628 1189.5h0M1602.5 968.5h0M1595 750.5h0M1616.5 1080.5h0M1608.5 834h0M1629 1172.5h0M1620.5 1165.5h0M1615 956h0M1589 710h0M1591 855.5h0M1616 924.5h0M1600.5 905.5h0M1601.5 703.5h0M1597 784h0M1598 705.5h0M1613 1016h0M1612.5 774.5h0M1615.5 955h0M1606 819h0M1594.5 883h0M1611 935.5h0M1609.5 946.5h0M1631 1156h0M1627.5 1098.5h0M1627.5 1149h0M1627.5 1082.5h0M1612 976h0M1635.5 1173h0M1603 902.5h0M1599 881h0M1612 1101.5h0M1642 1193h0M1598.5 741h0M1631.5 1177h0M1611 873.5h0M1608.5 902.5h0M1614.5 966h0M1630.5 1135h0M1597 869.5h0M1625 1048h0M1605.5 888h0M1607.5 904.5h0M1628 1120h0M1642 1156.5h0M1606 798.5h0M1619.5 1025.5h0M1607.5 762h0M1637 1223h0M1582 700h0M1613 950.5h0M1614.5 980h0M1652.5 1227h0M1597.5 861.5h0M1625 1030.5h0M1612.5 976h0M1594.5 760h0M1598.5 833.5h0M1593.5 803.5h0M1592.5 721.5h0M1620.5 1086.5h0M1616.5 944h0M1624 1072.5h0M1617.5 949.5h0M1585 710h0M1625 1045.5h0M1602.5 835.5h0M1614.5 947.5h0M1630.5 1134h0M1627 1154.5h0M1598 961h0M1602 981h0M1588 771h0M1652 1227h0M1613.5 919h0M1620.5 948.5h0M1592 706h0M1645 1202.5h0M1597.5 745h0M1623.5 913.5h0M1632 1192h0M1609 903h0M1591.5 766h0M1610.5 1008h0M1592.5 700h0M1629.5 1101h0M1625.5 1114.5h0M1630.5 1076h0M1645.5 1207h0M1593 823.5h0M1592.5 700h0M1584.5 709h0M1606 939.5h0M1628 1152.5h0M1627 1132.5h0M1615 880h0M1634 1144h0M1638 1142h0M1607.5 810.5h0M1610.5 971.5h0M1642.5 1165h0M1591.5 842.5h0M1627.5 1065h0M1615.5 975h0M1580.5 722.5h0M1607 860.5h0M1605.5 929.5h0M1630 1145.5h0M1631 1156.5h0M1630 1127h0M1595.5 771.5h0M1620 1063.5h0M1631 1051.5h0M1593 862h0M1603.5 910.5h0M1590.5 699.5h0M1623 1096h0M1616.5 1091.5h0M1608 857h0M1611 889h0M1625 1147.5h0M1624.5 981.5h0M1615.5 1014.5h0M1624 955h0M1615 1080h0M1607 976h0M1609 934.5h0M1620 962.5h0M1619.5 1016h0M1592.5 732.5h0M1610 928h0M1622.5 933h0M1599 840.5h0M1622 1128h0M1626 1145h0M1600 784h0M1600.5 792h0M1600.5 760h0M1601 880.5h0M1630 1187h0M1602 924.5h0M1587.5 721.5h0M1600.5 744.5h0M1593.5 834h0M1641.5 1216h0M1604 863.5h0M1614.5 773.5h0M1588.5 734.5h0M1588 735.5h0M1589 702h0M1603.5 949.5h0M1616 830.5h0M1608 887h0M1635.5 1157h0M1609.5 1084h0M1622.5 1046h0M1613.5 964h0M1626.5 1067h0M1630.5 1208h0M1594 728.5h0M1586.5 758.5h0M1624 1165h0M1627 1084h0M1603.5 916h0M1637 1153h0M1595 790h0M1621 1083h0M1628 1113h0M1591 767.5h0M1611.5 1056.5h0M1590.5 820h0M1600.5 834.5h0M1628.5 1018.5h0M1579 712h0M1594 837.5h0M1610 932.5h0M1606.5 954h0M1637 1161h0M1585.5 712.5h0M1613.5 840.5h0M1621 970h0M1593.5 851.5h0M1609 966.5h0M1634.5 1157h0M1618.5 1127.5h0M1602 974h0M1602 843.5h0M1604 882.5h0M1634 1189.5h0M1618.5 1075.5h0M1618.5 1034.5h0M1603 830.5h0M1617.5 1023.5h0M1633.5 1223h0M1614 1005.5h0M1609 862h0M1635.5 1176h0M1596.5 768.5h0M1609 914.5h0M1618.5 982.5h0M1621.5 982h0M1622 1040h0M1621.5 1000h0M1621 1008h0M1606 970h0M1599.5 696h0M1622.5 958h0M1611 875h0M1633 1155.5h0M1602.5 826h0M1602 895h0M1635.5 1181.5h0M1585 718.5h0M1620 1153.5h0M1605.5 856.5h0M1639 1123.5h0M1605.5 891h0M1588.5 828.5h0M1624.5 995h0M1639.5 1190h0M1613 1053h0M1607 1022.5h0M1613.5 922h0M1613.5 1047h0M1641 1203.5h0M1599 709.5h0M1622 1005h0M1628.5 1122h0M1590.5 842h0M1597.5 719h0M1626 1108.5h0M1603.5 957h0M1636.5 1175h0M1602 939.5h0M1596 807h0M1624 965h0M1609 817.5h0M1630.5 1120h0M1619.5 901h0M1619 1046h0M1594 808.5h0M1601 907.5h0M1642.5 1177.5h0M1595.5 798.5h0M1607 968.5h0M1617.5 981h0M1602.5 734h0M1619 930h0M1622 1075.5h0M1621.5 1077.5h0M1610.5 1077.5h0M1622 1032.5h0M1586.5 916.5h0M1622 1052.5h0M1637 1183.5h0M1607.5 994.5h0M1619 943h0M1605 711.5h0M1607 809.5h0M1619 1025h0M1599 821h0M1597 960h0M1625 1085.5h0M1606 922h0M1590 717.5h0M1597.5 758h0M1582.5 767h0M1596.5 749.5h0M1633 1186.5h0M1596.5 875.5h0M1636 1128.5h0M1624.5 1035h0M1621.5 1009h0M1622 973h0M1616.5 1024.5h0M1597 920h0M1617.5 981h0M1607 963h0M1590 781.5h0M1609.5 1007h0M1605.5 894h0M1608.5 858h0M1629 1176h0M1593.5 847.5h0M1618 984.5h0M1595.5 761h0M1619 1061.5h0M1624 1020h0M1611.5 949.5h0M1613 1059.5h0M1607.5 763.5h0M1628 1036.5h0M1623.5 1074h0M1637.5 1171h0M1608.5 949.5h0M1592.5 834h0M1613.5 1068.5h0M1593 884.5h0M1601.5 874h0M1583 769h0M1593.5 777.5h0M1602.5 884.5h0M1638 1179.5h0M1613 962h0M1610.5 763h0M1583 735.5h0M1641.5 1224h0M1612 1049h0M1598.5 817.5h0M1590.5 789.5h0M1598.5 890h0M1642.5 1161.5h0M1609 996h0M1635 1180.5h0M1611.5 993.5h0M1584.5 730.5h0M1591 728h0M1606.5 989.5h0M1634.5 1103h0M1618.5 1069h0M1617 1027.5h0M1606.5 948h0M1620 1096h0M1588 706h0M1601.5 777h0M1618.5 1016.5h0M1632.5 1042.5h0M1616 994.5h0M1637 1093.5h0M1601.5 971h0M1630.5 1171h0M1605 833.5h0M1627.5 1179h0M1608 909.5h0M1608.5 949.5h0M1615.5 1109h0M1644 1160.5h0M1616 1067.5h0M1587.5 753.5h0M1608.5 881.5h0M1633 1183.5h0M1595 718h0M1630.5 1177.5h0M1607 840h0M1645.5 1214h0M1608 947h0M1596.5 791h0M1606 921.5h0M1626.5 1078h0M1600 761h0M1603.5 842.5h0M1603.5 803.5h0M1654.5 1201h0M1641.5 1213h0M1628 1154h0M1619 1020.5h0M1622.5 1032.5h0M1598.5 863h0M1626.5 1062.5h0M1583 731h0M1627 983h0M1616.5 937.5h0M1604.5 893h0M1639.5 1138h0M1581.5 841.5h0M1600.5 811h0M1601 892.5h0M1611.5 1000h0M1616.5 985.5h0M1621 1037h0M1603.5 844h0M1612 1020.5h0M1612 855h0M1628.5 1041.5h0M1615.5 908.5h0M1584.5 747h0M1604 949.5h0M1600 958.5h0M1626.5 1118h0M1646.5 1194.5h0M1604 1008h0M1644 1217.5h0M1601.5 887.5h0M1600.5 807.5h0M1608.5 891h0M1596 841.5h0M1603.5 972.5h0M1597.5 743h0M1616.5 1095.5h0M1623 1150.5h0M1611.5 1046h0M1583 766.5h0M1628.5 1059h0M1638 1199h0M1614.5 1034.5h0M1611.5 1019.5h0M1630.5 1130.5h0M1626 1169h0M1625 1111h0M1606 784h0M1595.5 892h0M1584 698.5h0M1621.5 1012.5h0M1625.5 1168.5h0M1618.5 1036h0M1634.5 1195.5h0M1627 1141.5h0M1602.5 788h0M1589 777h0M1625.5 1058h0M1621.5 1015.5h0M1609 871.5h0M1598.5 835h0M1598.5 744.5h0M1586.5 761h0M1642 1174h0M1617 1092.5h0M1596.5 901.5h0M1612 922.5h0M1616.5 945.5h0M1653.5 1220h0M1610 986h0M1602.5 751h0M1640.5 1208h0M1600.5 850h0M1647.5 1214h0M1587.5 704.5h0M1618 933h0M1601.5 819h0M1633.5 1130h0M1617 1076h0M1609.5 841h0M1600.5 809.5h0M1606 714h0M1603 961.5h0M1619 1020.5h0M1625.5 1120.5h0M1597 792.5h0M1601.5 874.5h0M1594 817h0M1610 846h0M1638 1088.5h0M1603.5 933h0M1645 1191.5h0M1599 783.5h0M1595.5 817.5h0M1644 1136.5h0M1610.5 1062h0M1611 882.5h0M1614.5 980.5h0M1602.5 745h0M1588 764h0M1622 1034.5h0M1617 1124.5h0M1624.5 942.5h0M1645 1179.5h0M1576 723.5h0M1608 827.5h0M1627.5 1111.5h0M1591.5 709h0M1616 968h0M1611.5 913.5h0M1586.5 720h0M1610 953h0M1612.5 1041.5h0M1590 778.5h0M1619 1000.5h0M1598 918.5h0M1597 816.5h0M1586.5 788h0M1635 1159h0M1630.5 1111h0M1596 706.5h0M1629.5 1104.5h0M1601 785h0M1601 884.5h0M1600.5 794.5h0M1598 794h0M1613 1025.5h0M1612.5 927.5h0M1628.5 1126.5h0M1623.5 1069h0M1620 1033h0M1596.5 901h0M1588.5 769.5h0M1615 1032h0M1616 978.5h0M1629.5 1111h0M1593 783h0M1630.5 1166.5h0M1609.5 921.5h0M1642.5 1178h0M1646 1193.5h0M1607 965h0M1622.5 890.5h0M1597.5 749h0M1625.5 1074h0M1604 862.5h0M1603.5 766.5h0M1627.5 1148.5h0M1626 967h0M1609.5 984h0M1603 895h0M1616 976.5h0M1584 846.5h0M1639 1162.5h0M1629.5 1176h0M1590 835.5h0M1633 1109h0M1610.5 1009.5h0M1590.5 734h0M1614.5 1068h0M1606 960.5h0M1625.5 1160.5h0M1621 957h0M1626 1213.5h0M1603 879h0M1611.5 859.5h0M1601 878h0M1592 814.5h0M1613.5 883h0M1587.5 757.5h0M1613 870h0M1600 828.5h0M1608 820h0M1601.5 739.5h0M1605 937h0M1592.5 883h0M1633.5 1116h0M1589 971.5h0M1592.5 825h0M1631 1161h0M1627.5 1109.5h0M1649.5 1164h0M1648.5 1223h0M1641 1201.5h0M1636.5 1149.5h0M1640.5 1149.5h0M1611.5 1089.5h0M1633 1216h0M1605 880.5h0M1629.5 1183.5h0M1596 963.5h0M1595 735.5h0M1609.5 918.5h0M1582.5 729h0M1596 970h0M1618.5 963h0M1609.5 928.5h0M1643 1172h0M1602.5 873h0M1624.5 1176h0M1592.5 833.5h0M1619 1129.5h0M1607.5 1058.5h0M1616 1056.5h0M1601.5 818h0M1614.5 1102.5h0M1629 1063h0M1616 1024.5h0M1601 743h0M1641.5 1218h0M1598.5 880h0M1631.5 1198.5h0M1618.5 974.5h0M1617.5 1063h0M1626 1114h0M1596.5 825.5h0M1617 984.5h0M1584 702.5h0M1600.5 735h0M1641.5 1226h0M1635.5 1141h0M1579.5 700.5h0M1648.5 1222.5h0M1628.5 1124.5h0M1627.5 1037h0M1585.5 766.5h0M1596 744h0M1623 1143h0M1634 1219.5h0M1627 1079h0M1595.5 751h0M1616.5 1028.5h0M1606 908h0M1633.5 1054.5h0M1599.5 711h0M1598 797h0M1599.5 919.5h0M1600.5 1008h0M1633 1136.5h0M1595.5 758h0M1600 776.5h0M1603.5 787.5h0M1611 865h0M1628 1142.5h0M1625.5 1039h0M1639.5 1220.5h0M1635.5 1154h0M1617 1042.5h0M1634 1192h0M1635 1127h0M1588 694h0M1608.5 893.5h0M1604 846.5h0M1656.5 1226h0M1641.5 1211h0M1596.5 834h0M1587 796h0M1590 701h0M1617.5 983.5h0M1600.5 698.5h0M1630.5 1149h0M1578.5 764h0M1590.5 721.5h0M1634 1201h0M1586 774.5h0M1631.5 1140.5h0M1589 815.5h0M1601 848.5h0M1594 725.5h0M1595.5 760h0M1617.5 972.5h0M1588.5 731.5h0M1604 826h0M1612.5 1015.5h0M1643 1174.5h0M1597 753h0M1634.5 1140.5h0M1621.5 1104h0M1604 972.5h0M1596.5 860h0M1602.5 964h0M1610.5 885.5h0M1644 1184.5h0M1635 1136h0M1636 1171.5h0M1609 922h0M1633 1125.5h0M1608.5 994.5h0M1602 750.5h0M1630 1119h0M1600.5 877.5h0M1626.5 1096h0M1608.5 776.5h0M1624.5 1077.5h0M1623.5 1049.5h0M1613.5 922.5h0M1580.5 743h0M1613 1079.5h0M1608 841.5h0M1616.5 893h0M1602 862.5h0M1609.5 928h0M1632 1036h0M1592 864h0M1608 993.5h0M1614.5 1011.5h0M1592.5 741h0M1641.5 1212.5h0M1594.5 797h0M1625.5 1105.5h0M1577.5 707h0M1639.5 1219.5h0M1609.5 810h0M1619 949h0M1607 859.5h0M1619.5 1012h0M1597 777h0M1597 809.5h0M1619 1078h0M1601 980h0M1607 770.5h0M1625.5 1118.5h0M1590.5 804h0M1638.5 1102h0M1630 1134h0M1602.5 861.5h0M1647.5 1218h0M1616.5 1071h0M1595 723.5h0M1635 1177.5h0M1592.5 719h0M1628.5 1112h0M1612 1026h0M1607 972.5h0M1612.5 1020.5h0M1650.5 1174h0M1628.5 1094h0M1585 717h0M1650.5 1187.5h0M1597.5 773.5h0M1617.5 1005.5h0M1648 1196h0M1591 834h0M1581.5 707.5h0M1602.5 844.5h0M1589 778h0M1621 1061h0M1647.5 1222h0M1601 762h0M1638.5 1193h0M1596.5 888h0M1604.5 855h0M1618 988.5h0M1618.5 1144h0M1638 1220h0M1642.5 1161.5h0M1615.5 1020.5h0M1632.5 1224.5h0M1610 964.5h0M1606 857h0M1635 1208h0M1598.5 769.5h0M1592 829h0M1639.5 1203.5h0M1631 1070h0M1608 840h0M1615.5 958.5h0M1597 834h0M1606.5 815.5h0M1592.5 812.5h0M1623.5 1178h0M1607.5 1060.5h0M1597 904.5h0M1645 1225h0M1643 1208.5h0M1588 777h0M1609 929h0M1619 1139h0M1615 988.5h0M1612 980h0M1620.5 1153.5h0M1599.5 870h0M1638.5 1222.5h0M1616.5 1039.5h0M1625.5 833h0M1598 829h0M1597 798h0M1604.5 958.5h0M1616 970h0M1607.5 907.5h0M1606 913h0M1652 1181.5h0M1613.5 932h0M1624 963h0M1607.5 972.5h0M1598.5 761.5h0M1590 720h0M1618 1113.5h0M1635 1121h0M1594.5 861.5h0M1611 916.5h0M1650 1206.5h0M1637.5 1164.5h0M1619.5 960.5h0M1640.5 1224h0M1611 901.5h0M1630 1126h0M1606 798h0M1604.5 754.5h0M1593 742.5h0M1618 998.5h0M1715 1100.5h0M1683.5 948h0M1713 1145h0M1690.5 828h0M1728.5 1180.5h0M1684 813h0M1698 922.5h0M1682.5 771.5h0M1690 877.5h0M1694.5 906.5h0M1689.5 841.5h0M1691.5 878.5h0M1709.5 972h0M1715.5 1098.5h0M1689.5 763h0M1699.5 894h0M1717 1099.5h0M1706 1031.5h0M1690 919.5h0M1706.5 1019.5h0M1714.5 1078h0M1690 771.5h0M1675.5 730.5h0M1698.5 769.5h0M1677 751.5h0M1735 1138.5h0M1717.5 1127.5h0M1730 1097h0M1686.5 928.5h0M1727 1092h0M1697.5 947.5h0M1708 990.5h0M1726.5 1180.5h0M1716.5 1116h0M1709.5 1048.5h0M1693 961.5h0M1698 967.5h0M1710 1115.5h0M1726.5 1169.5h0M1713 1000h0M1714 1143.5h0M1702.5 1054h0M1704 898h0M1695 847h0M1696.5 961.5h0M1693.5 783.5h0M1692.5 790.5h0M1708 1018.5h0M1693 913h0M1694.5 1004h0M1709 1040.5h0M1672 749.5h0M1723.5 1140h0M1735 1191.5h0M1693 986h0M1691.5 959h0M1724 1167.5h0M1713.5 1048h0M1704 1072.5h0M1719.5 1176.5h0M1678 810h0M1681 852h0M1701 1010h0M1685.5 766.5h0M1712 1020.5h0M1729 1184h0M1692.5 814.5h0M1680.5 781h0M1683.5 824.5h0M1710 1053h0M1713.5 1090.5h0M1687.5 1008h0M1688.5 879h0M1699 822h0M1713.5 1084h0M1700 910.5h0M1727.5 1134h0M1696.5 987.5h0M1692 763h0M1689 903h0M1708 1038.5h0M1687 752.5h0M1735.5 1178h0M1702.5 780h0M1717.5 1130h0M1720.5 1160h0M1680 722h0M1715 1052.5h0M1672.5 731.5h0M1690 874h0M1689 863h0M1705 1035h0M1697.5 992.5h0M1690.5 822h0M1703.5 830h0M1668 719.5h0M1726.5 1084.5h0M1699 800h0M1692.5 882.5h0M1686 791h0M1722.5 1131.5h0M1698.5 727.5h0M1718 1153.5h0M1692 993.5h0M1729 1192h0M1694.5 917h0M1733.5 1143h0M1728 1191h0M1723.5 1176h0M1691 799.5h0M1702.5 1014.5h0M1701 976h0M1712.5 1075h0M1693 751h0M1670.5 771.5h0M1685.5 812h0M1685.5 806.5h0M1714 1076h0M1697.5 788h0M1696.5 779.5h0M1695 726h0M1694.5 913.5h0M1709 1036h0M1679.5 829h0M1692.5 801h0M1709 1073h0M1687 745h0M1684.5 759h0M1716.5 1186h0M1705.5 946.5h0M1708 1055.5h0M1682.5 772h0M1700.5 967.5h0M1701 1026.5h0M1698 1085h0M1700 953.5h0M1717.5 1123.5h0M1701.5 968.5h0M1686 921.5h0M1695 907h0M1726 1149h0M1717.5 1055.5h0M1700.5 1004h0M1708.5 1117h0M1691.5 889.5h0M1712.5 990.5h0M1727.5 1157h0M1698 846h0M1682.5 752h0M1734.5 1182h0M1689 869.5h0M1701 1083h0M1706.5 1018h0M1706 1039.5h0M1718 1085.5h0M1690 788h0M1690 776h0M1704 1117h0M1699 915h0M1701.5 847.5h0M1718 1014.5h0M1682 856.5h0M1694 936h0M1705.5 1073.5h0M1691.5 939h0M1694 896.5h0M1697.5 1020.5h0M1683.5 720.5h0M1682.5 736.5h0M1692 721.5h0M1707 1055.5h0M1699 841.5h0M1706.5 987h0M1675.5 756h0M1693 844h0M1681 743h0M1719 1113h0M1698.5 873.5h0M1731.5 1175.5h0M1690 850h0M1686 756.5h0M1694.5 891h0M1711 1111h0M1695.5 754h0M1710.5 1015h0M1714 1037h0M1711 1061.5h0M1688 811h0M1703.5 1021h0M1685 888.5h0M1696 821.5h0M1699.5 1028.5h0M1722 1176h0M1711 1104h0M1695 818.5h0M1691.5 890h0M1712.5 1052.5h0M1691 819.5h0M1690.5 790h0M1695.5 919.5h0M1707.5 1027h0M1709 1040h0M1689 934.5h0M1698.5 1033.5h0M1705 1020h0M1699 993.5h0M1742 1178h0M1720.5 1175h0M1695.5 793.5h0M1685 764.5h0M1687.5 888.5h0M1690 743h0M1715 1122.5h0M1706.5 1055.5h0M1737 1188h0M1707 938.5h0M1706.5 976.5h0M1703 875h0M1700 906h0M1708 1031h0M1703 1010.5h0M1705.5 1035.5h0M1686 839h0M1690.5 790h0M1711.5 1058h0M1703.5 973h0M1685 763.5h0M1708 1052.5h0M1681 724.5h0M1721 1163h0M1699 1107.5h0M1722.5 1098h0M1692 925.5h0M1727.5 1161h0M1713.5 1144.5h0M1694 847h0M1721 1068.5h0M1708 950h0M1687.5 770.5h0M1709.5 1104h0M1681 762.5h0M1696.5 767h0M1684.5 799.5h0M1690.5 791h0M1693.5 792h0M1692 942h0M1732 1183.5h0M1709 1090.5h0M1690 808h0M1698 977h0M1691 721.5h0M1709 913.5h0M1687 858h0M1691 821.5h0M1725 1195.5h0M1693 838.5h0M1714 1035h0M1692 1026h0M1696 1009h0M1701.5 742h0M1718 1089.5h0M1708.5 1040h0M1698.5 924h0M1732 1110h0M1725.5 1158h0M1707.5 1003h0M1692 852.5h0M1705 902h0M1716.5 1074h0M1709 1104.5h0M1731.5 1196.5h0M1689 788.5h0M1692.5 766h0M1689 798h0M1687.5 916.5h0M1695.5 878.5h0M1724.5 1135.5h0M1734 1150h0M1712.5 1061.5h0M1689 822h0M1700.5 884.5h0M1709.5 1046h0M1715.5 970h0M1713.5 1042.5h0M1706.5 1066.5h0M1738 1197.5h0M1705 1048h0M1710.5 1116.5h0M1721.5 1163h0M1692.5 834.5h0M1702.5 931h0M1720 1127h0M1696.5 931.5h0M1691 813.5h0M1690 926h0M1712.5 1016h0M1729 1169h0M1734.5 1165.5h0M1738.5 1162.5h0M1694.5 931.5h0M1677.5 753.5h0M1707 1031.5h0M1697 918h0M1717.5 1105.5h0M1695 917.5h0M1685 847h0M1720 1162h0M1684.5 964h0M1702 983.5h0M1703.5 939h0M1722 1172.5h0M1706.5 1022h0M1695 837h0M1708.5 1062h0M1729.5 1130h0M1703.5 1051.5h0M1681.5 781h0M1695 888h0M1684.5 812h0M1710 1030.5h0M1730.5 1114.5h0M1699 772.5h0M1697 820h0M1690 853h0M1699.5 772.5h0M1717.5 1159.5h0M1715.5 1139.5h0M1715 1089.5h0M1727 1130.5h0M1728 1187h0M1696.5 749.5h0M1694.5 983.5h0M1709.5 1047h0M1705 1018h0M1686.5 909h0M1695 884h0M1715.5 1033h0M1719.5 1094h0M1700 945.5h0M1691 761h0M1739 1197h0M1696 927h0M1690 802h0M1706 997h0M1688 790h0M1693 900.5h0M1682.5 936.5h0M1697 940.5h0M1695 933h0M1685 827h0M1700 926h0M1714.5 1143.5h0M1724.5 1102.5h0M1728.5 1136h0M1725.5 1158.5h0M1697 885h0M1722 1134.5h0M1705 960.5h0M1689.5 900.5h0M1668 728h0M1698.5 945.5h0M1694.5 998.5h0M1680.5 718h0M1730.5 1196.5h0M1715.5 1028.5h0M1697.5 921h0M1693 772h0M1696.5 916.5h0M1721 1142.5h0M1688 736.5h0M1719 1181.5h0M1720.5 1131.5h0M1702 1059.5h0M1706 1044h0M1701.5 1020.5h0M1697 879.5h0M1698.5 804h0M1687 757h0M1685.5 895.5h0M1689 815.5h0M1694 911h0M1695.5 1012.5h0M1686 967h0M1725 1196.5h0M1685.5 796.5h0M1725 1164h0M1703 1057.5h0M1706.5 1058.5h0M1710 1014.5h0M1697.5 750h0M1728.5 1182h0M1702 990h0M1694 745h0M1693 822.5h0M1685 839h0M1701 920.5h0M1687.5 907.5h0M1690 779h0M1701 896.5h0M1713.5 1129.5h0M1698 783h0M1722.5 1191.5h0M1713 1110h0M1685 846h0M1730.5 1134.5h0M1718.5 1071h0M1684 873h0M1721.5 1038h0M1700 1018.5h0M1719.5 1122h0M1693 786h0M1701.5 1001h0M1733.5 1173.5h0M1693.5 812h0M1689 794h0M1699.5 881.5h0M1703 946h0M1714 1143h0M1691 755.5h0M1717.5 1076h0M1694.5 888.5h0M1683 720h0M1694.5 912.5h0M1737 1192h0M1691.5 737h0M1708 972.5h0M1711 1072h0M1708.5 1061h0M1703 1034h0M1692 819h0M1705 1012.5h0M1695 963.5h0M1702.5 977h0M1687.5 725.5h0M1682 802h0M1695.5 1008.5h0M1697 867h0M1684.5 781.5h0M1717 1145h0M1688 747.5h0M1710.5 1088h0M1721.5 1144h0M1710 1082.5h0M1700 784.5h0M1726 1186.5h0M1684.5 914.5h0M1692.5 966.5h0M1694 888h0M1700.5 822h0M1693.5 815h0M1677 802h0M1689.5 999h0M1705.5 913h0M1704 1052h0M1691.5 780.5h0M1697.5 964h0M1678 849h0M1686 825.5h0M1685.5 823h0M1718 1083.5h0M1723.5 1059.5h0M1690.5 804h0M1689.5 781.5h0M1719.5 1118h0M1688 850.5h0M1698 975h0M1689.5 936.5h0M1700.5 895.5h0M1681 962.5h0M1679.5 776h0M1689.5 903.5h0M1705 1011h0M1695.5 801.5h0M1687.5 800.5h0M1684 780h0M1691.5 821h0M1721 1140h0M1667.5 719.5h0M1702.5 949h0M1728 1143h0M1718 1162h0M1679 771h0M1702 855h0M1687.5 844.5h0M1691 857h0M1698 981.5h0M1686 923.5h0M1731.5 1196h0M1693.5 901.5h0M1700 980.5h0M1698 983h0M1719 1072.5h0M1703 936h0M1697 767.5h0M1688.5 828.5h0M1703 1039h0M1683.5 802.5h0M1685.5 792h0M1689.5 808.5h0M1680.5 818h0M1693.5 894.5h0M1670.5 741.5h0M1714 1092.5h0M1694.5 879.5h0M1692 819h0M1717 1102h0M1703.5 947.5h0M1722.5 1144.5h0M1689.5 849.5h0M1689.5 832.5h0M1692.5 788h0M1711.5 1034.5h0M1713 1111h0M1703.5 982h0M1696.5 926h0M1732 1146h0M1697.5 781h0M1703.5 1030.5h0M1689 827h0M1691.5 1028.5h0M1720 1077h0M1690 911.5h0M1704.5 947h0M1729.5 1153h0M1700.5 936h0M1715.5 1086.5h0M1693 818h0M1680.5 727h0M1723.5 1075.5h0M1716 1113h0M1705.5 942.5h0M1685.5 861.5h0M1712.5 1121.5h0M1707 1011.5h0M1726 1161.5h0M1692.5 857h0M1702.5 1015.5h0M1732.5 1089h0M1700.5 1080h0M1718.5 1076.5h0M1691 910h0M1714 1134h0M1691 746.5h0M1688.5 773h0M1728.5 1178.5h0M1689 879h0M1686.5 793h0M1676 758.5h0M1702.5 793h0M1697.5 948h0M1679 889h0M1729 1185.5h0M1688 720.5h0M1681 731.5h0M1700 1058h0M1716.5 1109h0M1702 1019.5h0M1695.5 719h0M1751.5 1187h0M1720 1125.5h0M1703 876.5h0M1692 991h0M1730 1194h0M1712.5 1082.5h0M1691.5 843h0M1699 807.5h0M1715 1051h0M1714 1105.5h0M1699.5 873.5h0M1704.5 964.5h0M1712.5 1053h0M1730.5 1183.5h0M1682.5 877.5h0M1699.5 945h0M1691.5 846h0M1711.5 1055.5h0M1695 809.5h0M1704 1009.5h0M1691.5 814.5h0M1687 804.5h0M1708.5 1083h0M1722 1125h0M1712 1151h0M1723 1122.5h0M1686 933.5h0M1695 900.5h0M1725 1119h0M1726 1104.5h0M1686 939.5h0M1716 1083.5h0M1699.5 939.5h0M1687 728h0M1724 1061.5h0M1710.5 1199.5h0M1711.5 1185h0M1691 914.5h0M1721.5 1158h0M1706 919h0M1706.5 1012h0M1693.5 977.5h0M1685.5 873h0M1676.5 722h0M1693 868h0M1719 1087h0M1694 937.5h0M1716.5 1066.5h0M1707.5 1077.5h0M1694.5 846.5h0M1701.5 892.5h0M1686.5 827.5h0M1711 1119h0M1703 932h0M1712 1079h0M1688 724h0M1705 1049h0M1689.5 901h0M1704.5 1044.5h0M1687.5 732h0M1672.5 735h0M1691.5 960.5h0M1732 1195h0M1706 955h0M1734 1186h0M1706.5 1039h0M1721 1117h0M1731 1189.5h0M1684.5 768.5h0M1715.5 1089.5h0M1688 957h0M1709.5 1085h0M1696.5 911h0M1671.5 824h0M1685.5 826.5h0M1698 873.5h0M1699 1020.5h0M1726 1109h0M1708.5 927h0M1713 1107h0M1734.5 1163h0M1679.5 835.5h0M1711.5 1087h0M1696.5 920.5h0M1695 1030.5h0M1734.5 1175.5h0M1721.5 1162.5h0M1725 1106h0M1716.5 1132h0M1699.5 1026.5h0M1698.5 776h0M1705.5 811h0M1687 751h0M1713.5 994h0M1684.5 773.5h0M1706.5 1062h0M1698 913.5h0M1708.5 1040h0M1707.5 903.5h0M1718.5 1099.5h0M1701.5 845.5h0M1683.5 834h0M1704 831h0M1689.5 793.5h0M1683 754h0M1686.5 806h0M1724.5 1191h0M1711 1052h0M1697.5 805h0M1694 980.5h0M1692.5 805h0M1695.5 759h0M1707.5 1047.5h0M1695 739h0M1718.5 1066h0M1695 865.5h0M1711 1060h0M1704 881h0M1721 1135h0M1718.5 1130.5h0M1727 1140h0M1710 1009h0M1717 1073h0M1680.5 880h0M1694.5 842h0M1678 807.5h0M1717.5 1127h0M1702.5 738.5h0M1691.5 846.5h0M1719 1122h0M1683.5 807.5h0M1701.5 788.5h0M1704 1028.5h0M1676.5 812.5h0M1694 767h0M1704 1072.5h0M1687 989.5h0M1732.5 1185.5h0M1699 874h0M1718 1151.5h0M1693 813h0M1693 894.5h0M1713.5 946.5h0M1698 964h0M1709.5 1126h0M1711 1087.5h0M1695 939h0M1711 1110h0M1685 842.5h0M1720 1092.5h0M1708.5 1132h0M1694.5 956h0M1727.5 1160.5h0M1684 768h0M1683.5 814.5h0M1699.5 954h0M1688 935h0M1726 1127.5h0M1703 855.5h0M1740 1180h0M1694.5 1073h0M1704 976h0M1707 1090.5h0M1717.5 1114.5h0M1694.5 903.5h0M1718.5 1117h0M1693 774.5h0M1685.5 900.5h0M1697 957.5h0M1717.5 1154.5h0M1715 1102.5h0M1730 1164h0M1695 962h0M1690 938h0M1691 921h0M1704 979.5h0M1713.5 937.5h0M1683.5 894h0M1720.5 1077.5h0M1731 1121.5h0M1720 1144.5h0M1690.5 836.5h0M1681 870h0M1694 925.5h0M1704 892.5h0M1692 754.5h0M1686.5 742.5h0M1717 1107h0M1688.5 919.5h0M1721.5 1151.5h0M1735 1182h0M1684.5 901h0M1690 860.5h0M1703.5 1094.5h0M1692 834h0M1686 915.5h0M1718.5 1123.5h0M1718.5 1063.5h0M1689 835h0M1695.5 881h0M1694 962h0M1717 1027h0M1694.5 842h0M1698 991.5h0M1683.5 765.5h0M1694.5 818h0M1681 750.5h0M1716 1026h0M1694.5 891.5h0M1696.5 910h0M1730.5 1159.5h0M1719 1076.5h0M1697 984.5h0M1694 761h0M1701 1025h0M1736.5 1183h0M1713 1098.5h0M1689 759.5h0M1713 1029.5h0M1721.5 1101h0M1693.5 786h0M1734 1154h0M1703.5 844.5h0M1683.5 799h0M1710.5 1089h0M1727.5 1156h0M1711 1123h0M1700.5 980h0M1702.5 829h0M1730 1152.5h0M1723 1104h0M1705.5 1108.5h0M1696 913h0M1692.5 971.5h0M1683 769.5h0M1693 823h0M1679.5 877.5h0M1715 1040.5h0M1707 885.5h0M1731 1178.5h0M1706 1034h0M1731 1186h0M1688.5 889h0M1694.5 799.5h0M1701 1021h0M1715.5 1082.5h0M1694.5 886h0M1725 1122.5h0M1695.5 888.5h0M1714.5 1114.5h0M1684 764.5h0M1712.5 1142.5h0M1699.5 870.5h0M1682.5 890.5h0M1729.5 1197.5h0M1700.5 976.5h0M1736.5 1194h0M1710.5 981.5h0M1711.5 1094.5h0M1681 791.5h0M1711.5 1094.5h0M1707 1084.5h0M1701.5 966.5h0M1710.5 1120.5h0M1686 724.5h0M1707 1032h0M1718.5 1136h0M1683.5 738h0M1719 1108.5h0M1685 880.5h0M1692 731h0M1717 1155.5h0M1732.5 1172.5h0M1715 1021.5h0M1694.5 825.5h0M1701.5 980h0M1744 1159.5h0M1701 1019h0M1717 1147h0M1704 926.5h0M1690 790.5h0M1710 992h0M1730 1148h0M1678 750h0M1690 752.5h0M1689 876.5h0M1687.5 867h0M1722 1171h0M1714.5 1075h0M1728 1107.5h0M1687 779.5h0M1738.5 1187.5h0M1681 732.5h0M1687.5 822h0M1739 1198h0M1718 1170h0M1713 1110.5h0M1691.5 846.5h0M1702 1033h0M1701 974.5h0M1700 892h0M1691.5 787.5h0M1719 1160.5h0M1696 948h0M1687.5 780h0M1684.5 815h0M1701 1009h0M1716.5 1088h0M1694.5 989h0M1682.5 736.5h0M1700.5 803h0M1715 1089.5h0M1705.5 938.5h0M1719.5 1134h0M1718.5 1145.5h0M1701 745h0M1685 880h0M1687.5 931.5h0M1696 905h0M1717.5 1196.5h0M1715.5 1150.5h0M1693.5 987.5h0M1691 868.5h0M1701.5 921.5h0M1690.5 836.5h0M1688 808.5h0M1714 1098h0M1716.5 1102.5h0M1689 756.5h0M1692.5 803h0M1723.5 1180h0M1694 984.5h0M1685.5 983.5h0M1685 857.5h0M1696.5 727h0M1701.5 1065h0M1687 744.5h0M1692 970h0M1670.5 721.5h0M1722 1116h0M1717.5 1110h0M1687 939.5h0M1706.5 932.5h0M1706 954h0M1686 809.5h0M1732 1159h0M1690 756h0M1731 1181h0M1695.5 971h0M1692 919.5h0M1670.5 764.5h0M1680.5 769.5h0M1721.5 1160h0M1695 937h0M1713.5 1132.5h0M1700 930.5h0M1695 1014h0M1689.5 747.5h0M1695.5 941h0M1699 978.5h0M1712.5 1071.5h0M1733.5 1179.5h0M1692.5 922.5h0M1689 722.5h0M1690.5 861.5h0M1685.5 733.5h0M1736.5 1175.5h0M1715 1003.5h0M1692.5 849h0M1693.5 948h0M1678 721h0M1700 1013.5h0M1678.5 812h0M1686 967.5h0M1703.5 1041h0M1698 1023.5h0M1707 1078.5h0M1687.5 946.5h0M1697 900h0M1694 950.5h0M1701 834h0M1703.5 1018.5h0M1693.5 795h0M1692 1000h0M1716 1092h0M1710.5 1098.5h0M1727 1164h0M1683.5 780h0M1681.5 886h0M1696 995.5h0M1705 1027h0M1699 973.5h0M1713.5 1012h0M1696 936.5h0M1689 773.5h0M1727.5 1002h0M1680 745h0M1714.5 1086h0M1695.5 971.5h0M1744.5 1178.5h0M1678 893h0M1714 1020.5h0M1724 1060.5h0M1685.5 845h0M1714.5 1117.5h0M1692 822.5h0M1736.5 1159.5h0M1724 1149h0M1711.5 964.5h0M1705.5 986.5h0M1712.5 1070.5h0M1706 1019.5h0M1705.5 1022h0M1705 958h0M1705 953h0M1713 1082.5h0M1692.5 812h0M1670.5 724h0M1727 1147.5h0M1721.5 1145.5h0M1727.5 1166h0M1721 1090h0M1699 816.5h0M1696.5 943h0M1734.5 1154.5h0M1693 907.5h0M1695 903h0M1723.5 1132.5h0M1713.5 1129.5h0M1713 991h0M1713.5 1034.5h0M1729.5 1146.5h0M1694 868h0M1686.5 920h0M1734 1144.5h0M1704.5 1117h0M1690 748h0M1717.5 1050.5h0M1684.5 787h0M1714 1047h0M1703 1111h0M1702.5 1002h0M1691 767.5h0M1712 1040.5h0M1673.5 740h0M1695 938h0M1706 1110.5h0M1688.5 733.5h0M1696 892h0M1699.5 1006h0M1699 880.5h0M1693.5 731.5h0M1701.5 935h0M1717 1116.5h0M1700.5 894.5h0M1708.5 996h0M1692 979h0M1681 756.5h0M1710 1072.5h0M1687 880.5h0M1717.5 1040h0M1692.5 986h0M1719.5 1132.5h0M1693.5 1010h0M1719 1042.5h0M1691 894h0M1710 977h0M1715.5 1093h0M1711.5 1017h0M1698 797h0M1702.5 991.5h0M1685.5 870h0M1699 1097.5h0M1696 729.5h0M1712 1069.5h0M1736 1158.5h0M1702.5 933h0M1693 845h0M1721.5 1084.5h0M1722.5 1099.5h0M1685 745h0M1686 856h0M1721.5 1085.5h0M1695.5 749h0M1701.5 1014.5h0M1700 1020h0M1740 1163h0M1693.5 916.5h0M1684.5 847.5h0M1715 1128h0M1712.5 1043.5h0M1700 875.5h0M1819.5 1207h0M1790 993h0M1823 1142h0M1795.5 1033h0M1802.5 996.5h0M1779 1048.5h0M1811.5 1174.5h0M1795.5 945h0M1787 1085.5h0M1805.5 1153.5h0M1798 1081h0M1796.5 1016h0M1774.5 887h0M1816 1128h0M1786 767.5h0M1765.5 754h0M1785 812.5h0M1781.5 833.5h0M1798.5 1081h0M1790.5 797h0M1821.5 1094.5h0M1799.5 1017h0M1812.5 1067h0M1811.5 1087h0M1782.5 764h0M1778.5 801h0M1778 930h0M1779.5 776.5h0M1771 896h0M1778 708.5h0M1818.5 1118h0M1808.5 1153h0M1798.5 1067.5h0M1828 1196h0M1792.5 696h0M1794.5 1004.5h0M1809.5 881.5h0M1810 1134.5h0M1790.5 823h0M1804 1204.5h0M1820 1003.5h0M1802.5 972.5h0M1820 1162.5h0M1816.5 998.5h0M1790 891h0M1781.5 778h0M1791.5 1112h0M1774.5 719.5h0M1819 1144h0M1790 756.5h0M1793.5 918.5h0M1802.5 1125h0M1825.5 1184.5h0M1799.5 874.5h0M1791.5 1013.5h0M1783.5 808.5h0M1766 776.5h0M1833.5 1213.5h0M1816.5 1148.5h0M1839.5 1164h0M1787 912h0M1787 756.5h0M1797.5 979h0M1775 740h0M1815 1171h0M1792.5 981.5h0M1770.5 758h0M1802.5 1046.5h0M1789 786h0M1796.5 1026.5h0M1790 963h0M1816.5 1144h0M1782.5 757h0M1801 910h0M1800 1022h0M1764 753.5h0M1793.5 948.5h0M1816 1124h0M1814 1171.5h0M1798.5 997.5h0M1768.5 917h0M1770.5 796.5h0M1799.5 1023h0M1782 756h0M1814 937h0M1795.5 972.5h0M1766 730.5h0M1779 884.5h0M1802 1056.5h0M1783 832h0M1796.5 878h0M1813.5 1099h0M1785 879.5h0M1792 1001h0M1795 837h0M1814.5 1104h0M1776 773.5h0M1804 1141.5h0M1793.5 999.5h0M1829.5 1113.5h0M1774.5 753h0M1822 1221.5h0M1792 1000.5h0M1782.5 782.5h0M1805.5 884.5h0M1805 860.5h0M1792.5 1060.5h0M1775 786.5h0M1777 702h0M1816.5 1175h0M1820 1209h0M1819 1165.5h0M1821.5 1128h0M1789 1024h0M1791.5 934.5h0M1775.5 918h0M1799.5 896h0M1790.5 839.5h0M1801 936h0M1805 1195.5h0M1797.5 959h0M1802 1110.5h0M1819.5 1077h0M1826.5 1156.5h0M1779.5 819.5h0M1812.5 1134h0M1796.5 938h0M1800 996.5h0M1774.5 771h0M1795.5 968h0M1773.5 890.5h0M1834.5 1193.5h0M1837 1188h0M1805.5 1025.5h0M1794 953.5h0M1801.5 1148.5h0M1855.5 1211h0M1841 1144h0M1785.5 702.5h0M1811 1137.5h0M1815.5 1127h0M1800 842h0M1793.5 820.5h0M1827.5 1182.5h0M1834.5 1177.5h0M1765.5 855.5h0M1792.5 715h0M1779.5 812h0M1789 971h0M1845 1174.5h0M1795.5 964h0M1818.5 1110.5h0M1804 1112.5h0M1774.5 864.5h0M1829.5 1158.5h0M1793 983h0M1812.5 1120h0M1813.5 1186.5h0M1795 865h0M1808.5 1096.5h0M1820.5 1139.5h0M1783.5 813h0M1785 708.5h0M1783 898.5h0M1821 1216h0M1778.5 721.5h0M1788.5 852.5h0M1797.5 798h0M1795 983.5h0M1807.5 1116.5h0M1787.5 877h0M1825.5 1189.5h0M1804.5 1072.5h0M1832 1208h0M1797 1025.5h0M1812.5 1067.5h0M1825.5 1148h0M1813 1181h0M1825 1197h0M1817 1164.5h0M1765.5 753.5h0M1797.5 1044h0M1823.5 1207.5h0M1796.5 950h0M1784.5 1006.5h0M1817 1094h0M1808.5 1119h0M1832 1172.5h0M1781 825.5h0M1790 1001h0M1792.5 936h0M1826.5 1133.5h0M1804.5 882h0M1774.5 728.5h0M1781 764.5h0M1831 1218h0M1803.5 1087.5h0M1790 982h0M1777.5 762.5h0M1788.5 977h0M1789 890.5h0M1780.5 723h0M1824 1203.5h0M1811.5 1143.5h0M1831.5 1205.5h0M1769 701h0M1799 896.5h0M1816.5 1138.5h0M1792.5 866.5h0M1772 703.5h0M1803 995h0M1793 991h0M1791 871.5h0M1797 1019.5h0M1775 943.5h0M1791.5 768.5h0M1802 1030.5h0M1785.5 921.5h0M1823.5 1181h0M1778.5 907.5h0M1788 1025.5h0M1827.5 1112.5h0M1791.5 960.5h0M1846 1215h0M1786.5 991h0M1812 1113h0M1783 985h0M1799 868h0M1799.5 941.5h0M1792 1028.5h0M1786.5 860.5h0M1832 1174.5h0M1795 894.5h0M1780.5 777.5h0M1789.5 760.5h0M1804 1079h0M1801 909.5h0M1829.5 1212h0M1782 698h0M1819.5 1130.5h0M1788.5 1004h0M1788 809.5h0M1791 773h0M1809 972.5h0M1823 1099h0M1771 749.5h0M1770 724h0M1782.5 833.5h0M1791 885.5h0M1805.5 1123h0M1827.5 1133.5h0M1799.5 975h0M1797 843h0M1793.5 899.5h0M1782.5 761h0M1787 870h0M1778.5 949h0M1776 979.5h0M1823.5 1127h0M1839 1202.5h0M1819.5 1195.5h0M1785.5 947h0M1794 793h0M1781.5 830.5h0M1773.5 864.5h0M1805 993.5h0M1775.5 778h0M1776 845.5h0M1824 1126.5h0M1773.5 789.5h0M1778 764h0M1781 816h0M1816 1091.5h0M1780 824.5h0M1811.5 1116.5h0M1783 921.5h0M1789 976h0M1783 715h0M1782 871h0M1768 758h0M1833.5 1199.5h0M1780.5 907.5h0M1797.5 859.5h0M1790.5 787h0M1786.5 819h0M1798 938.5h0M1771.5 904.5h0M1802 1058.5h0M1791 827.5h0M1785.5 1020h0M1832.5 1204h0M1812.5 1156.5h0M1786 794.5h0M1812.5 1128.5h0M1802.5 1067.5h0M1781.5 819h0M1804.5 1041h0M1811 1043.5h0M1774 835.5h0M1776.5 845.5h0M1778 696.5h0M1800.5 1055.5h0M1795.5 878.5h0M1817 1149h0M1780.5 845h0M1785 776.5h0M1788 974.5h0M1774 752h0M1802 1065h0M1779.5 922.5h0M1787 795h0M1816 1115.5h0M1817.5 1187.5h0M1803 1062h0M1785 875h0M1793 911h0M1766.5 731h0M1808 1119h0M1799 1145.5h0M1800.5 1124h0M1786.5 920.5h0M1826.5 1149.5h0M1790 993h0M1787 872h0M1804 1174.5h0M1782 843.5h0M1790.5 769h0M1806.5 1045h0M1785 832h0M1792.5 925h0M1768.5 750h0M1798.5 1048.5h0M1801 954.5h0M1780 700h0M1835.5 1212h0M1814.5 1152.5h0M1805 862h0M1772.5 780h0M1790 951.5h0M1801 1001h0M1778.5 801.5h0M1807 1090h0M1822 1146h0M1778 817h0M1787 760h0M1825.5 1155h0M1804.5 1005h0M1817.5 1136h0M1814.5 1188.5h0M1773 807.5h0M1804 966.5h0M1812 1066.5h0M1802 1087.5h0M1793 850.5h0M1755.5 718.5h0M1791.5 837.5h0M1780.5 980h0M1812.5 1113.5h0M1786.5 729.5h0M1812.5 1151h0M1808 1188.5h0M1797 994h0M1810.5 1059.5h0M1794 1020.5h0M1831 1143.5h0M1766 814h0M1779 798.5h0M1826.5 1196.5h0M1793.5 897h0M1784.5 731h0M1798.5 947h0M1776.5 836.5h0M1806 1009.5h0M1786.5 851.5h0M1797 934h0M1805 1115h0M1803.5 749.5h0M1783 844h0M1793 1030h0M1784.5 896.5h0M1819 1130h0M1796.5 1064.5h0M1782 936h0M1801.5 1119h0M1802 1038h0M1794.5 791.5h0M1790 877h0M1796 944h0M1834 1182.5h0M1811.5 1044.5h0M1789 844.5h0M1795 731.5h0M1780.5 757.5h0M1779.5 775h0M1778 740.5h0M1791 860h0M1791.5 760h0M1829 1176h0M1806.5 977h0M1824.5 1192.5h0M1803 1045.5h0M1793 843h0M1790 810h0M1811 1128.5h0M1816 1195h0M1801.5 1125.5h0M1778.5 735.5h0M1787.5 895h0M1793.5 1002h0M1801.5 1080.5h0M1785.5 833h0M1799 1020h0M1810.5 1203h0M1772 751.5h0M1783.5 986h0M1767 779.5h0M1769 927h0M1776.5 807.5h0M1779 729h0M1815.5 1073.5h0M1787 914.5h0M1795 971.5h0M1784 810h0M1791 830.5h0M1827 1207h0M1771 756.5h0M1765 797.5h0M1822 1137h0M1786 995.5h0M1800 1073.5h0M1799 823.5h0M1783.5 766.5h0M1777.5 766h0M1791.5 880h0M1788.5 899h0M1793 785h0M1792.5 883h0M1762.5 699.5h0M1784 865.5h0M1827 1127h0M1806 1113.5h0M1770 891h0M1824.5 1210.5h0M1794.5 1065h0M1825 1015h0M1790 782.5h0M1781 776.5h0M1804 1041h0M1804 1135h0M1817 1074.5h0M1803 1089.5h0M1829.5 1145.5h0M1776.5 751h0M1796.5 903.5h0M1788 844h0M1804 965.5h0M1797 1110.5h0M1782.5 991.5h0M1758 737h0M1764.5 721.5h0M1774.5 868.5h0M1820 1208.5h0M1804.5 1093.5h0M1811.5 997.5h0M1796.5 845h0M1796.5 917h0M1813.5 1052.5h0M1795.5 889.5h0M1787 904.5h0M1803.5 1062.5h0M1790.5 965h0M1783.5 756h0M1784 840h0M1794.5 1084h0M1785.5 766h0M1819.5 1125h0M1813.5 1090.5h0M1789 967h0M1794 1045.5h0M1787.5 903h0M1826.5 1177.5h0M1810.5 1097.5h0M1801.5 886h0M1813 1132h0M1818.5 1089h0M1809.5 1071.5h0M1806 968h0M1782 886h0M1824.5 1210.5h0M1797 1020h0M1829 1156h0M1762 714.5h0M1822.5 1134h0M1791.5 744.5h0M1780.5 962.5h0M1774.5 899h0M1817.5 1167.5h0M1766 722.5h0M1755.5 713h0M1831 1203h0M1784.5 766h0M1835.5 1197h0M1781.5 725h0M1775.5 726.5h0M1770 793h0M1809.5 1036h0M1772.5 1005h0M1804 785h0M1793.5 885.5h0M1824 1165h0M1781.5 818.5h0M1798.5 1046.5h0M1803.5 964h0M1825.5 1194h0M1785 888.5h0M1771.5 784h0M1795.5 936.5h0M1769 797.5h0M1787.5 936h0M1817.5 1118h0M1788 893.5h0M1802.5 1059.5h0M1813 1151.5h0M1780.5 865.5h0M1786.5 888.5h0M1791 720h0M1830.5 1217.5h0M1780.5 882.5h0M1761.5 709h0M1792 1022.5h0M1812.5 1085.5h0M1811.5 1218.5h0M1765 719.5h0M1784.5 820h0M1764.5 738.5h0M1821.5 1142h0M1802 888h0M1802 1091.5h0M1778 739.5h0M1779 949h0M1818 1195h0M1797 824.5h0M1781.5 936.5h0M1776.5 731h0M1773.5 920h0M1787 750h0M1781.5 816.5h0M1797.5 933h0M1807.5 1130.5h0M1795 916h0M1781.5 720h0M1828 1192h0M1785.5 927.5h0M1832 1200.5h0M1809 1075h0M1789 993.5h0M1802.5 1031.5h0M1788 1039h0M1803 923.5h0M1805.5 1075h0M1790 907.5h0M1805.5 1071h0M1795 958h0M1833.5 1165.5h0M1795 998.5h0M1793.5 954.5h0M1793.5 981.5h0M1801.5 864h0M1780 737.5h0M1805 1104h0M1780.5 953.5h0M1800 869.5h0M1779 695.5h0M1829.5 1178.5h0M1807 1086.5h0M1788.5 870h0M1784.5 869.5h0M1829.5 1171h0M1809 1134h0M1799.5 1036.5h0M1818.5 1162.5h0M1803 1115.5h0M1782 962.5h0M1794 980.5h0M1752.5 700.5h0M1782.5 791h0M1797 798.5h0M1785.5 720h0M1785 728.5h0M1812 1089.5h0M1791.5 955.5h0M1798 960h0M1788 949.5h0M1800.5 933h0M1779 848.5h0M1786 960h0M1800.5 872.5h0M1784.5 1037.5h0M1814 1199h0M1800.5 1025.5h0M1793.5 978h0M1812 1064.5h0M1824 1183.5h0M1785 949h0M1784.5 844h0M1779 838h0M1817 1111.5h0M1790 950.5h0M1781.5 698h0M1776.5 850.5h0M1785.5 805.5h0M1786 783.5h0M1806.5 1122.5h0M1771.5 716.5h0M1781.5 819h0M1805 1012.5h0M1772 718.5h0M1825 1158.5h0M1809.5 1188h0M1790 706h0M1794 903h0M1817.5 1088.5h0M1824 884.5h0M1783 717h0M1790.5 767.5h0M1794.5 884.5h0M1792 920h0M1783 781h0M1801.5 1072.5h0M1830.5 1216.5h0M1833 1166h0M1791 862.5h0M1777 890.5h0M1792 774h0M1792 801.5h0M1795 1033h0M1797 812h0M1768.5 828h0M1782.5 834h0M1811.5 1126h0M1799.5 1124h0M1822.5 966.5h0M1787.5 815h0M1790.5 842h0M1774.5 776h0M1785.5 859.5h0M1798 1048.5h0M1791 1069h0M1792 923h0M1785.5 834h0M1800 989.5h0M1818.5 1100.5h0M1811.5 1078h0M1817.5 1198.5h0M1786 742.5h0M1775.5 819h0M1794 793h0M1793.5 871h0M1817.5 1130h0M1836 1180.5h0M1805 1089h0M1843.5 1126.5h0M1811 1005.5h0M1823.5 1117.5h0M1788 949h0M1761 740h0M1809.5 1133h0M1784.5 851.5h0M1815 975.5h0M1785 812.5h0M1784 775h0M1787.5 813.5h0M1793 973h0M1783.5 960h0M1792.5 1025h0M1815 1148.5h0M1830.5 1175h0M1827.5 1179.5h0M1795.5 879h0M1797.5 895h0M1805 1043.5h0M1786.5 771.5h0M1777.5 695.5h0M1783.5 797h0M1790 1034.5h0M1815.5 1155.5h0M1783.5 828h0M1784 764.5h0M1784.5 736.5h0M1827.5 1175.5h0M1824 1168.5h0M1813 1194.5h0M1788.5 776.5h0M1825.5 1199h0M1814.5 1098.5h0M1786 941h0M1788 804.5h0M1807.5 1077h0M1782.5 1079h0M1810 1031h0M1770 696.5h0M1789.5 920h0M1795.5 1027h0M1804.5 1084h0M1795 928h0M1797.5 870h0M1831 1175h0M1800 973h0M1802.5 1077h0M1812 1049h0M1781.5 747.5h0M1785 777h0M1794.5 818.5h0M1781 699h0M1812.5 942.5h0M1776 743h0M1781 762h0M1777.5 733.5h0M1801 995.5h0M1803.5 1023.5h0M1793 1089h0M1774.5 727.5h0M1803.5 979.5h0M1814.5 1195h0M1775.5 726h0M1802.5 888h0M1801 1075h0M1798 1031.5h0M1829.5 1116.5h0M1794.5 1068h0M1773.5 721h0M1770.5 775h0M1793 989.5h0M1824 1125.5h0M1767 851h0M1803 959h0M1787.5 786.5h0M1779.5 799h0M1804.5 1119.5h0M1781.5 760h0M1772.5 696h0M1840 1208.5h0M1787 886h0M1796.5 940.5h0M1803.5 1060h0M1815.5 1136h0M1791.5 736.5h0M1793 949.5h0M1783.5 880h0M1798.5 767.5h0M1795 931.5h0M1786.5 843.5h0M1777 860.5h0M1794.5 1038.5h0M1789 947.5h0M1809 1084.5h0M1761 697.5h0M1794.5 851h0M1788 808.5h0M1824.5 1172h0M1831 1199h0M1824 1179h0M1803 1020.5h0M1777.5 745h0M1796.5 997h0M1798 958h0M1777.5 839h0M1787.5 747h0M1792 1049.5h0M1769 706.5h0M1799 1067.5h0M1783.5 924.5h0M1783.5 821.5h0M1786.5 853h0M1834.5 1217.5h0M1791.5 1035.5h0M1783.5 886h0M1796 837.5h0M1786.5 883h0M1789 1032.5h0M1780.5 767h0M1809.5 1111h0M1805 1069.5h0M1787 786.5h0M1833 1157.5h0M1791 1008.5h0M1787.5 998.5h0M1791 1022.5h0M1835 1152h0M1807 1180.5h0M1812 1127h0M1775.5 728h0M1785.5 902h0M1804.5 1067.5h0M1776.5 799h0M1818.5 1097h0M1812 981.5h0M1807 1048.5h0M1791.5 822h0M1781.5 888h0M1811 1137.5h0M1794.5 846.5h0M1785 750.5h0M1793.5 1027h0M1789.5 1030h0M1787 783.5h0M1795 970h0M1818.5 1104h0M1833 1200.5h0M1805 1036h0M1784 761.5h0M1803 1089h0M1772.5 860.5h0M1773.5 790.5h0M1779 949h0M1832 1094.5h0M1794 1021h0M1803 1125h0M1781 816h0M1784 842.5h0M1780.5 958h0M1787 953.5h0M1784.5 888h0M1804 1118h0M1823.5 1188h0M1791 938.5h0M1785 774.5h0M1789 955h0M1798 1055.5h0M1775 816.5h0M1821 1177.5h0M1784 903.5h0M1809.5 1193.5h0M1782 792.5h0M1793.5 1026h0M1776.5 890h0M1779 811.5h0M1778 792.5h0M1795 1018.5h0M1794.5 768h0M1779 744h0M1797.5 870h0M1819.5 1167h0M1790 807h0M1799.5 959.5h0M1761 706h0M1810.5 1083.5h0M1773.5 773.5h0M1803 957.5h0M1783.5 772h0M1793.5 1012h0M1826 1172.5h0M1797.5 1047h0M1789.5 850.5h0M1825.5 1168.5h0M1786.5 982h0M1810.5 1013h0M1828 1163h0M1828 1127h0M1815.5 1188.5h0M1791 1001.5h0M1816.5 1189.5h0M1821.5 1162.5h0M1804.5 1106.5h0M1785.5 732h0M1786 903h0M1766.5 797h0M1819 1166.5h0M1845 1212.5h0M1796.5 1106.5h0M1805.5 1012.5h0M1784 957.5h0M1766 716h0M1795 986h0M1803 1028.5h0M1810 1017.5h0M1792 758h0M1829 1195h0M1796 843h0M1775 805h0M1800.5 1000.5h0M1814 1082h0M1787.5 980.5h0M1787 725.5h0M1781 902h0M1800.5 832.5h0M1802 1094.5h0M1793.5 1022.5h0M1798.5 1106h0M1780.5 792.5h0M1776 785.5h0M1769.5 720.5h0M1772.5 737.5h0M1779 782h0M1790.5 787.5h0M1818 1139h0M1807.5 1044h0M1816 1035.5h0M1802.5 844h0M1761 717h0M1788 1022.5h0M1794 998.5h0M1790 994.5h0M1790.5 960h0M1789.5 1009.5h0M1773 874h0M1750.5 786h0M1794.5 901h0M1781.5 790h0M1801.5 763h0M1808.5 1129h0M1797.5 897h0M1774.5 891.5h0M1809 1032.5h0M1826 1197.5h0M1778 878.5h0M1789 856.5h0M1777.5 861.5h0M1770 774.5h0M1785.5 867.5h0M1794 954.5h0M1793 818h0M1823.5 1136h0M1794.5 989.5h0M1800 1074.5h0M1786 794h0M1778 802.5h0M1835 1207h0M1818.5 1069.5h0M1763 767.5h0M1803 1158.5h0M1778 779h0M1797.5 1097.5h0M1765.5 928.5h0M1777.5 990.5h0M1805 1089h0M1807 956h0M1787.5 866h0M1800.5 1090h0M1809.5 988.5h0M1785 808h0M1824.5 1168h0M1795 844h0M1788.5 994.5h0M1773.5 737.5h0M1782.5 865h0M1830 1174h0M1821 1192h0M1815.5 1182.5h0M1816.5 1059h0M1798.5 1063.5h0M1802.5 1080h0M1798 985h0M1784 698.5h0M1804.5 1116.5h0M1794 866h0M1820 1212.5h0M1802.5 1071h0M1824.5 1056.5h0M1798.5 966h0M1816 1057h0M1801 1161.5h0M1818 1178h0M1801.5 1063.5h0M1780.5 821h0M1789 1000h0M1832.5 1195h0M1776 756.5h0M1778 882h0M1782 849.5h0M1787.5 1044h0M1832 1155h0M1781.5 762h0M1786 857h0M1784 1005.5h0M1773 772h0M1824 1174h0M1759.5 843h0M1829.5 1197.5h0M1774.5 705h0M1789.5 740.5h0M1790 1023h0M1773 761.5h0M1820 1151.5h0M1788 1007h0M1770 840.5h0M1843 1176h0M1761.5 713h0M1788.5 909h0M1778.5 887.5h0M1786 741.5h0M1804.5 863h0M1797.5 875h0M1787.5 820h0M1777.5 896h0M1780.5 915h0M1796.5 1028.5h0M1809 1074h0M1810 1063.5h0M1788 998.5h0M1801 1047.5h0M1778.5 973.5h0M1771.5 725h0M1801.5 807.5h0M1814 1183.5h0M1806.5 970.5h0M1797.5 1025.5h0M1827 1182h0M1804.5 1152.5h0M1786 1040.5h0M1788.5 1020h0M1797.5 903h0M1826 1137.5h0M1809.5 1144h0M1771 706.5h0M1764 740.5h0M1780.5 898.5h0M1801 990.5h0M1801 1021h0M1779 899h0M1822 1083h0M1805 1047h0M1773.5 930h0M1787 804.5h0M1801 965.5h0M1822.5 1167.5h0M1787.5 842.5h0M1776 942h0M1803 1158.5h0M1787.5 925.5h0M1816.5 1176h0M1837 1174.5h0M1768 875h0M1791 1015h0M1798.5 969.5h0M1803 1069h0M1809.5 1026.5h0M1837.5 1208h0M1834 1143h0M1803.5 940.5h0M1791 830h0M1764.5 739h0M1806 1152.5h0M1792 988.5h0M1784 771h0M1771.5 715h0M1806 853.5h0M1795.5 890.5h0M1820 1072.5h0M1786 738.5h0M1779 811h0M1815 1133h0M1790.5 728.5h0M1785.5 827h0M1787 815.5h0M1764 763.5h0M1802 956h0M1783 710.5h0M1773.5 714.5h0M1803.5 768.5h0M1808.5 1058.5h0M1784.5 905h0M1797 851h0M1791 970h0M1790 975.5h0M1824.5 1160.5h0M1755 711h0M1795 904h0M1775 728h0M1819.5 1020h0M1795 978h0M1820 1160.5h0M1817.5 903h0M1794.5 929.5h0M1785.5 839h0M1788 923h0M1807.5 1129.5h0M1779.5 786h0M1792.5 1091h0M1823.5 1210h0M1786 882.5h0M1810.5 1097.5h0M1793 1026h0M1797 955h0M1806 982h0M1778 866.5h0M1801.5 890h0M1789.5 743h0M1827 1187.5h0M1788.5 863.5h0M1789.5 991.5h0M1798 851.5h0M1760.5 695.5h0M1808.5 1084h0M1785 987h0M1779 744h0M1807.5 978h0M1788 917.5h0M1817.5 1203h0M1803.5 954h0M1835.5 1213.5h0M1783 714h0M1806 797.5h0M1824 1187.5h0M1792.5 1002.5h0M1816.5 1173.5h0M1775 886h0M1818 1207.5h0M1827.5 1183.5h0M1770 858h0M1786 824h0M1823.5 1220h0M1800 931.5h0M1778.5 757.5h0M1776.5 733.5h0M1770 797.5h0M1824 1206.5h0M1799.5 1053h0M1798.5 891h0M1791.5 1020.5h0M1791 1049h0M1804.5 938.5h0M1805 1068h0M1813.5 1109.5h0M1771.5 704.5h0M1808 1047h0M1814 1089h0M1794 1044h0M1828.5 1097h0M1791 739h0M1786.5 841.5h0M1781.5 714h0M1787 947.5h0M1795.5 934.5h0M1813.5 1033h0M1775.5 772.5h0M1803 1053h0M1808.5 1133h0M1771 730h0M1774 706h0M1795.5 1043.5h0M1777 736.5h0M1776 1001.5h0M1805 875h0M1829.5 1221h0M1804 1007.5h0M1790 870h0M1785 791h0M1790 948h0M1811 1086h0M1782.5 767h0M1782 717.5h0M1802.5 953h0M1775.5 792h0M1806.5 1065h0M1808.5 1161.5h0M1792 1026h0M1801.5 875h0M1804 1086.5h0M1775 922.5h0M1800.5 829.5h0M1792 1000h0M1804.5 1098h0M1803 1067.5h0M1825.5 1124h0M1812.5 1093h0M1804 1122.5h0M1789.5 1000h0M1819 1189.5h0M1804.5 1037h0M1778 853h0M1817.5 1152.5h0M1808.5 1045h0M1781.5 918h0M1800.5 981h0M1811.5 1023.5h0M1817.5 1140.5h0M1798.5 993.5h0M1822.5 1093.5h0M1805.5 1063h0M1777 819h0M1808.5 983.5h0M1831.5 1177h0M1792.5 1011.5h0M1796.5 779h0M1778 906h0M1777 714.5h0M1779.5 830.5h0M1834.5 1202h0M1774 719h0M1877.5 718.5h0M1881 889.5h0M1880.5 886h0M1887 1114h0M1869 879h0M1883.5 756h0M1886 999.5h0M1886.5 764.5h0M1875.5 947h0M1891 986h0M1879 969.5h0M1882 978.5h0M1883.5 834.5h0M1890 1078h0M1883 888.5h0M1887 1045h0M1896.5 1057.5h0M1880 1027.5h0M1853.5 755.5h0M1885.5 950h0M1878 756.5h0M1863 716h0M1876.5 927h0M1863 748h0M1864 779h0M1893.5 1023.5h0M1878.5 856h0M1881.5 914h0M1875.5 879h0M1853.5 744h0M1880.5 765.5h0M1890 985h0M1879 800.5h0M1863.5 726h0M1880 999h0M1872.5 775h0M1894.5 1103.5h0M1878 950h0M1883.5 910h0M1883 785h0M1870 716.5h0M1862 974.5h0M1879.5 1016.5h0M1889.5 1000h0M1885.5 932h0M1889.5 1121h0M1875.5 977h0M1869.5 811h0M1881.5 728.5h0M1882.5 780.5h0M1892 931h0M1877.5 924h0M1868 836h0M1860 710h0M1899 1062.5h0M1890 923.5h0M1874.5 782.5h0M1860.5 729.5h0M1878 1033.5h0M1849 747h0M1885.5 849h0M1869 760.5h0M1890.5 812.5h0M1880 839h0M1881 794.5h0M1856 774h0M1892.5 905h0M1874 877.5h0M1890 853.5h0M1863 984.5h0M1899 1083.5h0M1872.5 924h0M1886.5 965.5h0M1884 1036h0M1867.5 720.5h0M1879.5 958h0M1883.5 866h0M1862.5 763.5h0M1852.5 775h0M1897 1054.5h0M1888 932.5h0M1866 756.5h0M1875.5 960.5h0M1883.5 1035h0M1871.5 759h0M1864 735h0M1885.5 883h0M1897.5 1106h0M1883 924h0M1889 1073h0M1870 783h0M1889 1024.5h0M1873.5 740h0M1882.5 1047.5h0M1879 749.5h0M1879 1063h0M1886.5 1115h0M1874 954h0M1894 1034h0M1890 1051.5h0M1895.5 1067h0M1897 949h0M1877 733.5h0M1867 711.5h0M1866.5 843h0M1873 811h0M1884.5 1111h0M1884.5 970.5h0M1891 1049h0M1854 761.5h0M1889 1078h0M1874.5 832h0M1860 768h0M1908 993.5h0M1892 1001h0M1869 932.5h0M1892 981h0M1900.5 933h0M1881 999.5h0M1876 949.5h0M1903 1021.5h0M1870 757.5h0M1893.5 1009.5h0M1888 910h0M1861 841.5h0M1863.5 1024.5h0M1882.5 911.5h0M1886 887.5h0M1895 1089h0M1872 786h0M1896 1071.5h0M1881 1004.5h0M1875.5 1039h0M1872 841h0M1871.5 775h0M1891.5 998.5h0M1871.5 986h0M1890.5 1076.5h0M1899 1072h0M1889.5 884h0M1900.5 1029h0M1878.5 909h0M1884 1094h0M1869 812h0M1880.5 1097h0M1873.5 728h0M1891.5 1082.5h0M1865.5 820.5h0M1891.5 1111h0M1876.5 911h0M1863 852.5h0M1887.5 849h0M1877 1020h0M1868.5 696h0M1888 950.5h0M1869 816.5h0M1872 1093h0M1904.5 1017.5h0M1863.5 819.5h0M1890 996.5h0M1890 967.5h0M1887 1097h0M1858.5 717.5h0M1898.5 1010h0M1883.5 955.5h0M1883.5 983h0M1885 1068h0M1871.5 903.5h0M1893 1019h0M1882.5 890h0M1864.5 770h0M1879 994h0M1881.5 925h0M1860 749.5h0M1895.5 1000h0M1885.5 1046h0M1874 844.5h0M1893.5 1045h0M1868.5 789h0M1887 1119h0M1896.5 1020h0M1882 922.5h0M1884.5 1046.5h0M1885.5 997.5h0M1877.5 860.5h0M1882.5 868h0M1878.5 738h0M1887.5 972.5h0M1856.5 719.5h0M1895 972.5h0M1882.5 863.5h0M1874.5 880.5h0M1877 1090h0M1874 725h0M1894 1063h0M1863.5 863.5h0M1880 832.5h0M1854 697.5h0M1867.5 707h0M1883.5 766.5h0M1861 838h0M1874.5 768h0M1893.5 1045.5h0M1888 1019h0M1890 1085.5h0M1892.5 955.5h0M1885 1057.5h0M1868.5 851h0M1879 958.5h0M1871.5 879h0M1859 774.5h0M1888 889.5h0M1868.5 811h0M1870 812.5h0M1878.5 1019.5h0M1870 821.5h0M1897 1090h0M1877 860.5h0M1882.5 949h0M1870.5 706h0M1871.5 873h0M1863 703.5h0M1868.5 842h0M1890 1082h0M1875.5 881h0M1870.5 935.5h0M1873.5 759h0M1877.5 951.5h0M1871.5 947h0M1899 1088.5h0M1887 952h0M1868.5 720h0M1890 1113.5h0M1891.5 945h0M1880.5 863h0M1883.5 1085h0M1855.5 808h0M1878.5 750.5h0M1883.5 1064h0M1877.5 861.5h0M1879 799.5h0M1879.5 928h0M1879.5 1088h0M1880 972h0M1884.5 1068h0M1883 963.5h0M1899 1025h0M1868 822.5h0M1886 1112h0M1867.5 720.5h0M1893.5 1042.5h0M1851 738.5h0M1881 1065h0M1903 1010.5h0M1874 782h0M1866.5 704h0M1878.5 1092.5h0M1890 976h0M1891 1029h0M1858.5 709.5h0M1868 934.5h0M1874.5 822h0M1880.5 838h0M1869.5 977.5h0M1887 878.5h0M1867 775.5h0M1882 935h0M1882.5 1111.5h0M1892.5 1066.5h0M1877 832h0M1874.5 810h0M1879 888.5h0M1875 708h0M1896.5 1089h0M1880 956.5h0M1874.5 859.5h0M1883 1011.5h0M1878 818.5h0M1876.5 813.5h0M1883.5 1079h0M1895 979h0M1872.5 794.5h0M1875 984h0M1886.5 918.5h0M1908.5 1079.5h0M1886.5 985h0M1878 980h0M1884 971.5h0M1859 786.5h0M1888.5 1112.5h0M1868.5 975h0M1890 1112h0M1874 953.5h0M1855.5 714h0M1870 984.5h0M1889 1080.5h0M1876.5 732h0M1896 1110.5h0M1887 1004.5h0M1884.5 908.5h0M1862.5 700.5h0M1881.5 872h0M1900.5 875.5h0M1878 888.5h0M1858.5 840h0M1864.5 829.5h0M1864 837.5h0M1876 922h0M1877.5 750h0M1870.5 791.5h0M1884 959.5h0M1871 795h0M1863 715h0M1865.5 789h0M1891 891.5h0M1865 775.5h0M1878.5 713.5h0M1893.5 982h0M1892 1046h0M1880 926h0M1887 784.5h0M1866 848.5h0M1888.5 980h0M1888.5 951.5h0M1872.5 779.5h0M1875.5 848h0M1886.5 945h0M1881 1074h0M1886 1046h0M1877.5 784h0M1895.5 1068h0M1902.5 894h0M1882 843.5h0M1842.5 728h0M1867 721.5h0M1868.5 843h0M1887 1060h0M1883 948.5h0M1888.5 1096h0M1857 779h0M1874 895h0M1885 970h0M1887 973h0M1896 915h0M1902.5 1018h0M1881 770h0M1881.5 1114.5h0M1864 737h0M1905 1103.5h0M1886.5 1096.5h0M1889.5 980h0M1883 955h0M1878 866h0M1872.5 849.5h0M1877 1023h0M1855 706h0M1853.5 766.5h0M1888.5 939.5h0M1889.5 1092.5h0M1885 969.5h0M1880 850.5h0M1874 783h0M1873 928h0M1876 879.5h0M1863 846.5h0M1876.5 990h0M1890.5 988h0M1855.5 807.5h0M1881 1086h0M1881 1065h0M1881 954h0M1888.5 891.5h0M1874 901h0M1882 1079.5h0M1867.5 813.5h0M1866 733h0M1886 944.5h0M1884 1021h0M1866.5 771h0M1870.5 789.5h0M1878.5 779.5h0M1899.5 1094h0M1859 757.5h0M1867.5 942.5h0M1873 749.5h0M1886.5 1033h0M1875 750.5h0M1853.5 775.5h0M1888.5 1011.5h0M1879.5 1028.5h0M1891 936.5h0M1885 969h0M1878.5 722h0M1888 891h0M1894 972h0M1870 809h0M1882 1077h0M1885.5 1064.5h0M1883.5 925h0M1855 709.5h0M1873 958h0M1896.5 1097.5h0M1874.5 883.5h0M1892 1007h0M1866.5 793.5h0M1870.5 706h0M1886.5 863h0M1870.5 805.5h0M1873 887.5h0M1888 963.5h0M1879 778h0M1878.5 899h0M1883 747.5h0M1883.5 970h0M1866.5 751h0M1870 1013.5h0M1875.5 1080h0M1868.5 837h0M1884 1006.5h0M1891.5 798h0M1885.5 1112h0M1876.5 870h0M1872 921h0M1875 991.5h0M1891 1018h0M1893.5 1117h0M1884 990h0M1866.5 834h0M1875 842.5h0M1878 1027.5h0M1864 715h0M1887.5 1110h0M1878 951.5h0M1882 846.5h0M1897 1107.5h0M1888.5 1046h0M1881.5 1117.5h0M1881.5 759h0M1885.5 1097.5h0M1886 971h0M1883 780.5h0M1867 774.5h0M1882.5 926h0M1906 1093h0M1881 967.5h0M1873 1028.5h0M1881.5 966h0M1889 802.5h0M1864.5 743h0M1883 870.5h0M1885 907h0M1850 746h0M1857.5 921h0M1864.5 876.5h0M1882 1073.5h0M1877 1062h0M1879 1035h0M1858 772h0M1882 927.5h0M1885.5 1026h0M1874 882h0M1874.5 853h0M1871.5 781h0M1872.5 1037h0M1884 812h0M1898.5 1077h0M1877 1008.5h0M1875.5 877.5h0M1872 800h0M1867.5 884h0M1885.5 851h0M1884 1049h0M1894 1104.5h0M1868.5 904h0M1898.5 912.5h0M1880 1045.5h0M1863 728h0M1880 1119h0M1870.5 769.5h0M1879 877.5h0M1863 750h0M1888.5 1004.5h0M1872 716h0M1886 803.5h0M1901.5 954.5h0M1854 710h0M1885 846h0M1882 737h0M1881.5 1040h0M1888.5 1045.5h0M1889 914.5h0M1874 744.5h0M1874.5 937h0M1860.5 865.5h0M1864 773.5h0M1889 1078h0M1880.5 909h0M1864.5 833.5h0M1890 1057.5h0M1891.5 847.5h0M1880 930h0M1871 812h0M1891.5 1103h0M1877 819.5h0M1871 732.5h0M1878.5 1033.5h0M1887 1010h0M1870.5 902.5h0M1870.5 798h0M1883.5 1037.5h0M1875.5 1042.5h0M1900.5 1088h0M1878.5 826.5h0M1878 888h0M1871 755.5h0M1894.5 1032h0M1875.5 1078h0M1875.5 719h0M1891.5 1042.5h0M1875 803.5h0M1893.5 854.5h0M1863.5 756.5h0M1883 1064h0M1888 992.5h0M1874 719.5h0M1880 985h0M1896.5 1028.5h0M1874 925.5h0M1879.5 980h0M1880.5 768h0M1882 966.5h0M1898.5 1089.5h0M1881.5 1081h0M1884.5 1026.5h0M1869.5 770h0M1877 920.5h0M1862 893h0M1877 1095h0M1886 911.5h0M1866.5 781.5h0M1894.5 1056.5h0M1891 1045.5h0M1872 754h0M1890.5 879.5h0M1868.5 869.5h0M1883 1051.5h0M1873 796.5h0M1894 865.5h0M1866.5 814h0M1874 840h0M1880.5 926.5h0M1882.5 1002.5h0M1874.5 853.5h0M1871.5 823h0M1866.5 860.5h0M1866.5 780h0M1862 716.5h0M1865.5 759h0M1869.5 894h0M1872 764.5h0M1894 1105.5h0M1883 953h0M1888 883h0M1881.5 889h0M1880 925.5h0M1883.5 1097h0M1893.5 872.5h0M1870 715h0M1860.5 696.5h0M1860 818.5h0M1881 1050.5h0M1873.5 746h0M1877 923.5h0M1870.5 1039h0M1893 1119h0M1894.5 960.5h0M1891.5 1030h0M1883.5 827.5h0M1877.5 890h0M1863 751h0M1861.5 782.5h0M1880 932.5h0M1866.5 888.5h0M1880 1039h0M1882.5 882h0M1875 886h0M1868 701h0M1871 1057h0M1863.5 720h0M1878.5 955h0M1906 979h0M1886 816.5h0M1861.5 731h0M1876.5 891h0M1871.5 707.5h0M1881.5 1118.5h0M1893.5 1099h0M1886 1015h0M1876 705h0M1879.5 924.5h0M1876 867h0M1875 872.5h0M1886.5 943.5h0M1855 785h0M1861.5 933h0M1878 914h0M1867 737.5h0M1884.5 1010h0M1880.5 1012.5h0M1888.5 934.5h0M1849.5 721.5h0M1883.5 1038.5h0M1890 1085.5h0M1894.5 883.5h0M1870 904h0M1883 973.5h0M1889.5 1064h0M1866 813h0M1866 869.5h0M1891.5 1009h0M1857 715h0M1859 734.5h0M1878.5 791.5h0M1873.5 841.5h0M1871 885.5h0M1871 761.5h0M1877.5 1028.5h0M1882.5 857.5h0M1874.5 1050h0M1880.5 898.5h0M1881 896.5h0M1872.5 741h0M1884.5 1043.5h0M1889 923.5h0M1875 895h0M1885.5 992h0M1862 806h0M1898.5 869.5h0M1867 972.5h0M1869 815.5h0M1898.5 1087h0M1861 829h0M1866.5 861.5h0M1889.5 1020.5h0M1887 1051.5h0M1887.5 969h0M1886 958h0M1853 798.5h0M1879 852h0M1868 813.5h0M1874 977h0M1892.5 885h0M1867.5 761h0M1877.5 847h0M1892 870h0M1867 800.5h0M1868 920h0M1875.5 820h0M1889.5 1101.5h0M1886 972.5h0M1869.5 712h0M1910 1118.5h0M1877.5 820.5h0M1874.5 854.5h0M1875 859.5h0M1870.5 769.5h0M1876.5 845.5h0M1864.5 791.5h0M1887 1062h0M1897.5 1004h0M1892 1087h0M1893.5 1028h0M1872 724.5h0M1879.5 1009h0M1876 1008h0M1882 867h0M1886.5 1031h0M1877 917.5h0M1874.5 951.5h0M1881.5 806.5h0M1881.5 989h0M1869.5 861h0M1873 859.5h0M1886.5 1017h0M1883 972h0M1868 887.5h0M1863.5 708.5h0M1873.5 729.5h0M1868.5 757.5h0M1868.5 991.5h0M1870 786h0M1887 1095.5h0M1874.5 1021h0M1876.5 741.5h0M1870 841h0M1865 813.5h0M1867 774h0M1887 919h0M1880.5 1016.5h0M1853.5 844h0M1870 853.5h0M1887 834.5h0M1889.5 1068.5h0M1889.5 1051h0M1887 930h0M1876.5 742.5h0M1875 759.5h0M1879.5 730h0M1861.5 723h0M1888.5 875.5h0M1875 920.5h0M1895.5 1028.5h0M1883 972.5h0M1881.5 801h0M1886 1046.5h0M1867.5 704.5h0M1890.5 922h0M1880.5 910h0M1875 1025h0M1888 1068.5h0M1890 1105.5h0M1863 745h0M1889.5 1109h0M1885.5 901.5h0M1871 769h0M1882 928.5h0M1876.5 760h0M1885.5 1101.5h0M1876 863.5h0M1886 951h0M1865.5 712.5h0M1890.5 880.5h0M1890 975h0M1867.5 714h0M1888.5 1087.5h0M1868.5 756.5h0M1880 1021.5h0M1889.5 1052h0M1872.5 778h0M1883 845h0M1866.5 882h0M1896 929.5h0M1885.5 783.5h0M1885.5 888h0M1859 728h0M1874.5 729.5h0M1904.5 981h0M1871.5 851h0M1885.5 943h0M1875 854.5h0M1890 1115.5h0M1869.5 801h0M1884.5 1058h0M1872.5 951h0M1885.5 934h0M1876.5 867h0M1874.5 1010.5h0M1888 987.5h0M1876 1025.5h0M1895.5 1030h0M1876 893.5h0M1875.5 898.5h0M1882.5 1007h0M1889 1072.5h0M1866 738h0M1872 815.5h0M1893 1053h0M1874 757.5h0M1893 988.5h0M1884.5 981h0M1874 836.5h0M1883 907h0M1890 980.5h0M1887 1023.5h0M1868 1092.5h0M1897.5 1062.5h0M1857 812.5h0M1872.5 949h0M1864.5 876.5h0M1863 782.5h0M1880 766h0M1880 1050.5h0M1876 778h0M1872.5 822.5h0M1889.5 1101h0M1882 879.5h0M1883.5 907h0M1741 893h0M1683 779.5h0M1598 971.5h0M1567.5 739.5h0M1902 992h0M1779.5 840.5h0M1877 955.5h0M1811 775h0M1811.5 733h0M1705.5 776.5h0M1566 987.5h0M1862.5 915.5h0M1873 814.5h0M1540.5 720.5h0M1530 786h0M1835 764.5h0M1691.5 711h0M1734 783h0M1504.5 957.5h0M1571.5 960.5h0M1552 784h0M1751.5 986.5h0M1868.5 837h0M1545 956.5h0M1862 914.5h0M1785.5 929h0M1768.5 945.5h0M1884.5 765h0M1659 978.5h0M1694.5 834.5h0M1741.5 917h0M1507.5 895h0M1511.5 967.5h0M1737.5 973h0M1552 739h0M1755.5 795.5h0M1571 780h0M1820.5 925h0M1477 836h0M1777 764.5h0"/>
<path stroke="#248a14" d="M1477 1120h0M1478.5 1092h0M1482.5 1069h0M1478.5 1056.5h0M1479 1070.5h0M1476 1073h0M1479 1012h0M1479 1020h0M1480.5 1073.5h0M1477 1095.5h0M1474.5 1034h0M1477.5 1026.5h0M1477 1033.5h0M1483.5 1095h0M1475.5 1039h0M1474 1092h0M1475.5 1092h0M1560 997.5h0M1571.5 1086.5h0M1582.5 1220h0M1576.5 1172h0M1546 800h0M1563.5 888h0M1575 1018.5h0M1524 706.5h0M1572.5 1116.5h0M1551.5 894h0M1562 1042.5h0M1576.5 1223h0M1581 1152.5h0M1575 1223.5h0M1535 764.5h0M1561.5 790.5h0M1591.5 1189h0M1553.5 808.5h0M1567 1002.5h0M1584.5 1140.5h0M1576 1139h0M1562 945.5h0M1550.5 781.5h0M1584.5 1197.5h0M1569 1096.5h0M1555.5 910h0M1571.5 1134h0M1579.5 1148.5h0M1537.5 817h0M1553 883h0M1565.5 949.5h0M1574 1191.5h0M1555.5 866.5h0M1553 943.5h0M1561 876.5h0M1570 1153.5h0M1574 1054h0M1567 954.5h0M1568 953.5h0M1557 1015.5h0M1551 828h0M1580.5 1114.5h0M1580.5 1202.5h0M1544 790h0M1561.5 931.5h0M1575 1094h0M1558.5 961h0M1563 906.5h0M1568.5 1044.5h0M1579.5 1174h0M1595.5 1179.5h0M1570 1152.5h0M1566.5 964h0M1551 800h0M1571 1147h0M1566 923.5h0M1582.5 1204h0M1563 1054h0M1563 820.5h0M1561.5 1091.5h0M1578.5 962.5h0M1557.5 993.5h0M1566 1113h0M1555 786.5h0M1573 1056h0M1558.5 831.5h0M1582 1221.5h0M1564 822.5h0M1564.5 1018h0M1557.5 918.5h0M1567.5 1053h0M1575 1183.5h0M1578 1123h0M1577.5 1188h0M1564.5 843.5h0M1563.5 1062h0M1581 1073.5h0M1560 953h0M1576 1185h0M1553.5 721h0M1586 1103.5h0M1585 1156.5h0M1564 1082.5h0M1548.5 781.5h0M1571 1123h0M1564 914.5h0M1537.5 724.5h0M1568.5 864.5h0M1550 841.5h0M1566.5 1008h0M1545.5 756.5h0M1568.5 973.5h0M1572 1094h0M1550.5 759h0M1538 765.5h0M1567 1085h0M1555 853h0M1553 783.5h0M1551.5 962h0M1571 1120h0M1572 1093.5h0M1570.5 1163.5h0M1566 1036h0M1553.5 849h0M1562 1106h0M1577 1106.5h0M1559 1054h0M1571.5 1167h0M1549 758.5h0M1536 725h0M1581 1210h0M1537 776h0M1546 800.5h0M1566.5 937h0M1552.5 958h0M1562 985.5h0M1557 1109h0M1566.5 1108h0M1574 1186.5h0M1577 1152.5h0M1557 857h0M1556 951.5h0M1544.5 758.5h0M1565 1098h0M1589 1223.5h0M1563 848h0M1538 748h0M1587 1210.5h0M1565.5 1066.5h0M1560.5 1012.5h0M1565.5 838h0M1570 963.5h0M1547.5 795.5h0M1553 758.5h0M1572 1047h0M1557.5 1083h0M1578 1105h0M1558 843h0M1566 962h0M1571.5 1199h0M1552 985h0M1574 1037h0M1561 1060.5h0M1587 1177.5h0M1564 1068h0M1542 731h0M1579 1121h0M1551.5 1037.5h0M1571.5 1056.5h0M1560 937.5h0M1569.5 1069.5h0M1566.5 1093h0M1554.5 871h0M1556 859h0M1571.5 1164h0M1568 1044h0M1567 1004h0M1529 726.5h0M1556 837.5h0M1541.5 871.5h0M1573 1119h0M1578 1179h0M1573 1035.5h0M1542.5 779h0M1563.5 1113h0M1567 888h0M1566.5 917.5h0M1570 967h0M1567 1014h0M1566 1100h0M1565.5 835.5h0M1563 1168.5h0M1545 885h0M1577 1226.5h0M1555 882h0M1555 807.5h0M1555.5 1083.5h0M1548 740h0M1546.5 938.5h0M1587.5 1127.5h0M1554 794h0M1572.5 1140.5h0M1573.5 1033.5h0M1561.5 985h0M1566 1160.5h0M1556 937h0M1555 802h0M1542 764.5h0M1545.5 727.5h0M1554 906.5h0M1544 768h0M1560 1159h0M1552.5 731h0M1537.5 779.5h0M1555.5 895h0M1588.5 1107h0M1554.5 876h0M1574.5 1179.5h0M1554 1037h0M1575.5 878.5h0M1578.5 1169.5h0M1557.5 922.5h0M1574.5 1147.5h0M1558.5 854h0M1547.5 768.5h0M1563.5 883.5h0M1581 1224.5h0M1564.5 922h0M1567 1115h0M1547.5 734h0M1544.5 800h0M1555 881.5h0M1545 770h0M1551.5 956.5h0M1562 1021.5h0M1575 1214h0M1564.5 854.5h0M1564 1011h0M1554.5 715.5h0M1575 1134h0M1574.5 984h0M1557.5 941h0M1569 1042.5h0M1563 1085h0M1548.5 795h0M1583.5 1169.5h0M1568 972.5h0M1570.5 1018h0M1550.5 722.5h0M1556.5 906h0M1559 969.5h0M1576.5 1169h0M1560.5 904.5h0M1576 1127h0M1580 1189.5h0M1551.5 709h0M1562.5 938h0M1556.5 1074.5h0M1549 922h0M1573.5 944h0M1571.5 880h0M1566 989h0M1535.5 785.5h0M1537 711.5h0M1572 930.5h0M1582 1175h0M1562.5 1052h0M1552.5 773h0M1539 734.5h0M1568.5 1124h0M1546.5 759.5h0M1560.5 937h0M1567.5 910.5h0M1543 858.5h0M1564.5 966.5h0M1563.5 1087h0M1570 938h0M1554 895h0M1532.5 719.5h0M1558 1046.5h0M1589 1197.5h0M1566.5 1046.5h0M1565.5 946h0M1565.5 937h0M1553.5 790.5h0M1558.5 926h0M1537.5 719.5h0M1540 740h0M1566 1124.5h0M1569 1165h0M1549 727h0M1536 777h0M1592.5 1185h0M1557.5 897.5h0M1569 1077h0M1542.5 755h0M1578.5 1151h0M1573 1130h0M1572 1161h0M1561 824h0M1545 831h0M1547 787h0M1585.5 1226h0M1581 1133.5h0M1593 1223.5h0M1545.5 729h0M1582.5 1210.5h0M1587 1136h0M1570.5 934h0M1569.5 956h0M1573.5 1027.5h0M1577.5 1099h0M1538.5 769.5h0M1558 878h0M1580 941h0M1549 896h0M1579 1024h0M1584.5 1200.5h0M1559 872.5h0M1550.5 771.5h0M1552.5 893h0M1569 1068.5h0M1534 713h0M1570 912.5h0M1557 1132h0M1565.5 1114.5h0M1546 786h0M1550 862h0M1549.5 796.5h0M1560 987.5h0M1553 843.5h0M1558 965h0M1572.5 1054.5h0M1572 980h0M1566 1109.5h0M1560 1033.5h0M1566 1063.5h0M1550.5 827h0M1562.5 1028.5h0M1549.5 936.5h0M1570 1122.5h0M1576 1180.5h0M1594 1228h0M1572.5 1170.5h0M1556.5 868.5h0M1568 1128h0M1585.5 1208h0M1572.5 1122.5h0M1562 919.5h0M1564.5 1022h0M1574 956h0M1578 1195h0M1563 895.5h0M1557 940h0M1548 831.5h0M1545.5 819h0M1544.5 738h0M1565.5 1043.5h0M1565.5 762.5h0M1558 889h0M1573.5 956h0M1578 1217h0M1588.5 1179.5h0M1558 904h0M1573.5 1226.5h0M1557 1133.5h0M1567 1032h0M1566.5 1075h0M1554.5 735.5h0M1547.5 803h0M1530 713h0M1565.5 894h0M1559.5 832.5h0M1574.5 1109.5h0M1535.5 760h0M1551.5 802h0M1567.5 1137.5h0M1563.5 1032.5h0M1543.5 743h0M1554 790.5h0M1562.5 919h0M1555 897h0M1570.5 1084h0M1564.5 1048h0M1564.5 1150h0M1541 845.5h0M1567.5 1084h0M1541 733h0M1566 953h0M1569 1088h0M1540 782h0M1559 978.5h0M1536.5 789h0M1569.5 971h0M1556.5 830.5h0M1558.5 846.5h0M1594 1187.5h0M1575.5 1183.5h0M1556 941.5h0M1575.5 958.5h0M1562 1005.5h0M1566.5 1053h0M1565.5 1059.5h0M1539 744.5h0M1537 762.5h0M1541.5 790h0M1550.5 741.5h0M1553.5 1000.5h0M1570.5 1065.5h0M1551 856.5h0M1560 883h0M1550.5 829h0M1543.5 781.5h0M1536.5 717.5h0M1571 1065h0M1555 767h0M1565.5 1072h0M1568 994h0M1563.5 935h0M1578.5 1204h0M1554 819.5h0M1564 1002h0M1650 1107h0M1648.5 927.5h0M1638.5 932.5h0M1642.5 1033h0M1675 959h0M1667.5 1108h0M1648.5 845h0M1640 860h0M1652.5 1085.5h0M1642.5 808h0M1634.5 843h0M1644 806.5h0M1650 1036h0M1662.5 1141h0M1640.5 894h0M1623 803.5h0M1628 781.5h0M1629.5 833h0M1638 817.5h0M1656.5 1097h0M1638 843.5h0M1654 1060.5h0M1635.5 885h0M1651.5 1104.5h0M1645.5 795.5h0M1623 861h0M1667.5 1050.5h0M1644.5 1003h0M1668 1087h0M1628 839h0M1640 780h0M1634.5 793.5h0M1646.5 1087h0M1655 1126.5h0M1639 1003h0M1664.5 1144h0M1632.5 926h0M1673 1194.5h0M1656 951h0M1647.5 1121h0M1626 798h0M1657 1077h0M1648 1118h0M1673 1034.5h0M1643 889.5h0M1654 1040.5h0M1646 938.5h0M1648 909.5h0M1651 939h0M1662 986.5h0M1634.5 874.5h0M1657.5 1114.5h0M1627.5 796h0M1667.5 1065.5h0M1632 910.5h0M1653.5 1145h0M1664.5 1172h0M1666 1141.5h0M1653 925h0M1648 882.5h0M1649.5 817.5h0M1654 998.5h0M1652 966.5h0M1653.5 1081h0M1643 1125h0M1642 1050.5h0M1642 890.5h0M1641 997h0M1649 953.5h0M1643 871.5h0M1667.5 1178.5h0M1652 1028.5h0M1643.5 869h0M1666 1108h0M1648.5 933h0M1647.5 1012h0M1651 762h0M1645 909.5h0M1633.5 794.5h0M1650.5 1175.5h0M1640.5 920.5h0M1643 792.5h0M1643 821h0M1640 985.5h0M1678.5 1167.5h0M1649 865.5h0M1666.5 1193h0M1652 992.5h0M1639 1052.5h0M1651 1049.5h0M1659 1126.5h0M1654 922.5h0M1671 1171.5h0M1670.5 1191h0M1660 1169.5h0M1667 1158.5h0M1654.5 1095.5h0M1622.5 765h0M1655 969h0M1641.5 1004h0M1640.5 860.5h0M1663 1059.5h0M1634 930.5h0M1625 803h0M1637 972.5h0M1654 980h0M1636.5 891h0M1658 1092.5h0M1659.5 1160.5h0M1645 919.5h0M1653 959.5h0M1636.5 976.5h0M1647.5 1090h0M1641.5 896h0M1654.5 1157h0M1631.5 816h0M1648.5 979h0M1652.5 852h0M1659.5 1106h0M1647.5 949.5h0M1651 880.5h0M1649 823.5h0M1634.5 902h0M1640.5 1152h0M1653.5 984.5h0M1650 1018.5h0M1643.5 802h0M1657.5 1115.5h0M1666 1143.5h0M1673.5 1181.5h0M1642.5 864.5h0M1637.5 808.5h0M1642.5 948h0M1648.5 1047h0M1635 831h0M1639.5 942.5h0M1633 782h0M1647.5 1029.5h0M1659.5 1134.5h0M1627 768h0M1637.5 906h0M1667.5 1157.5h0M1659 1041.5h0M1645 1088.5h0M1643 901.5h0M1640 809.5h0M1650.5 1038.5h0M1658.5 1158.5h0M1650.5 1059.5h0M1676 1165.5h0M1651 919.5h0M1631.5 801h0M1637.5 1066.5h0M1670 1174h0M1672.5 1129.5h0M1643 905.5h0M1646 1018h0M1639 889.5h0M1685.5 1193.5h0M1665 1079h0M1630 862.5h0M1661.5 1127.5h0M1651 1009.5h0M1644 953h0M1642 996.5h0M1668 1102.5h0M1650 941h0M1667.5 1160h0M1645 868h0M1643 895h0M1659.5 1151.5h0M1648 1002.5h0M1659.5 972h0M1651 1109.5h0M1640.5 908h0M1649 941.5h0M1661 1191.5h0M1670 1184h0M1631 769.5h0M1647.5 868h0M1652 946.5h0M1652.5 827.5h0M1619 804h0M1652 916.5h0M1658.5 1026.5h0M1667.5 1130h0M1644.5 886.5h0M1653 1014.5h0M1647.5 978h0M1642 786.5h0M1673 1187h0M1649 909h0M1646 943.5h0M1652 1083h0M1639 1023.5h0M1660 1112.5h0M1631.5 834h0M1648 908.5h0M1658 993h0M1646 765h0M1654.5 980.5h0M1644.5 906h0M1676.5 1129.5h0M1645.5 1086h0M1651.5 1116.5h0M1662 1126h0M1644 908.5h0M1641 767h0M1654 1104.5h0M1632.5 1082h0M1647 1074h0M1657 979.5h0M1644 765.5h0M1629 778.5h0M1656 1165.5h0M1666.5 1126h0M1638.5 883h0M1650.5 1077.5h0M1634 802h0M1648 968h0M1628.5 835.5h0M1642.5 797.5h0M1633 771h0M1623 768h0M1647.5 981.5h0M1644.5 980h0M1624.5 766h0M1641.5 878h0M1667.5 1142h0M1647 1000h0M1664 1160.5h0M1662 1053h0M1652 1149.5h0M1641 832h0M1650.5 983h0M1677.5 1175h0M1632.5 822h0M1669.5 1126h0M1638.5 895.5h0M1665 1169h0M1629 769.5h0M1636 838.5h0M1636 973.5h0M1636 911.5h0M1657 973.5h0M1662 1150h0M1653 1150.5h0M1628 816.5h0M1629.5 787.5h0M1647 833.5h0M1642 770.5h0M1639 951.5h0M1636 916.5h0M1679 1193.5h0M1655.5 1131h0M1657 1141h0M1629.5 806.5h0M1646 929.5h0M1643 958.5h0M1663.5 1180.5h0M1666.5 1063h0M1635.5 804h0M1678.5 1158.5h0M1642 868h0M1649.5 1068h0M1636.5 776.5h0M1653 991.5h0M1665.5 1194.5h0M1657.5 1028h0M1662 929h0M1648 943.5h0M1642.5 886.5h0M1642.5 847h0M1666 1128.5h0M1633 776.5h0M1635.5 785h0M1666 1097.5h0M1668.5 1158.5h0M1635.5 926.5h0M1671 1188.5h0M1643 949.5h0M1651 1115h0M1661.5 962h0M1667.5 1098h0M1666.5 1156.5h0M1652 1133h0M1660 954.5h0M1656 1031h0M1655 958.5h0M1661.5 1172.5h0M1654.5 1004h0M1642.5 876.5h0M1627 772.5h0M1634.5 854h0M1653 1002.5h0M1645 965.5h0M1634 805h0M1657 1175.5h0M1653.5 1130.5h0M1642.5 1007h0M1663 1027.5h0M1665.5 1034.5h0M1627 763h0M1664.5 1111h0M1640 998h0M1659.5 1105.5h0M1659 1159.5h0M1636 837h0M1657.5 1028h0M1649 1071h0M1633 895h0M1648 797h0M1674 1180.5h0M1658.5 1003.5h0M1674 1183h0M1653.5 1053.5h0M1641 1018h0M1670 1189h0M1639.5 804h0M1663 1069.5h0M1662 1103h0M1645.5 801h0M1642 1094h0M1631 1025.5h0M1650.5 1000h0M1657 1145h0M1670 928.5h0M1657.5 926h0M1637 1031.5h0M1653.5 1127h0M1662 1090.5h0M1657 990h0M1635.5 897.5h0M1648 1058h0M1659 1000.5h0M1653 1064.5h0M1645 1093.5h0M1647 911.5h0M1642 818h0M1656.5 1015.5h0M1633 782.5h0M1658 1181h0M1650 1094.5h0M1648 803h0M1652.5 1013.5h0M1652 1065.5h0M1642 942h0M1640.5 796.5h0M1654.5 994h0M1682.5 1154.5h0M1645 936.5h0M1630.5 798.5h0M1662.5 1158h0M1660 1174h0M1641 773h0M1633 833h0M1658.5 1146h0M1643 1078.5h0M1632 947.5h0M1666 1153.5h0M1660 1142.5h0M1635.5 1018.5h0M1634 874h0M1651 954h0M1636 811.5h0M1638 921h0M1646.5 1120h0M1666.5 1090h0M1664.5 1021h0M1618 825.5h0M1656.5 1077h0M1636 858h0M1650.5 1004.5h0M1644.5 921.5h0M1652.5 1032.5h0M1624 810.5h0M1638 826.5h0M1650.5 1106.5h0M1642.5 1118h0M1616.5 767.5h0M1632.5 864.5h0M1654 876h0M1633 833h0M1653 945.5h0M1639 856h0M1742.5 1074.5h0M1739 857h0M1742 964.5h0M1733 909.5h0M1761.5 891.5h0M1741 876.5h0M1749.5 897h0M1749 961.5h0M1752 1158h0M1758 1092.5h0M1756.5 1073h0M1725.5 822h0M1740 861.5h0M1753 1104h0M1722 888h0M1743.5 986.5h0M1753.5 863h0M1742.5 934h0M1746.5 1122h0M1750.5 1159h0M1764 1146h0M1727 862.5h0M1723 816.5h0M1749.5 869h0M1746 889h0M1738 898.5h0M1743 898.5h0M1744 1096h0M1742.5 857.5h0M1735 838h0M1733.5 1021.5h0M1723.5 834.5h0M1729.5 799h0M1756.5 1128h0M1760 1045h0M1740.5 857h0M1747.5 899.5h0M1739.5 868h0M1739 908.5h0M1735.5 1115.5h0M1758 1069.5h0M1749 1122h0M1756.5 1011h0M1716 814h0M1728.5 1000h0M1767.5 1072.5h0M1736 939.5h0M1754 1113h0M1753.5 1090.5h0M1743 884.5h0M1738.5 974h0M1725.5 876.5h0M1753.5 1138.5h0M1742.5 944h0M1747 1147.5h0M1745.5 1112.5h0M1760 1144h0M1755 1069h0M1728 863h0M1745 1053.5h0M1739 1079h0M1747.5 1140.5h0M1733 980h0M1737 870h0M1739.5 960.5h0M1743.5 988h0M1713.5 850h0M1730.5 801h0M1754.5 999.5h0M1737.5 855.5h0M1752.5 993.5h0M1754.5 860.5h0M1739 849h0M1766 1149.5h0M1741.5 900h0M1725.5 821.5h0M1756.5 1055h0M1728.5 921.5h0M1735.5 1073.5h0M1752 882.5h0M1724.5 835.5h0M1745.5 1142h0M1749.5 1054h0M1722.5 823h0M1758 1008.5h0M1762.5 1107.5h0M1743 985h0M1741 932h0M1761.5 1157.5h0M1765.5 1101.5h0M1749 1091h0M1729.5 855h0M1737.5 874.5h0M1756.5 952h0M1753.5 1133h0M1749.5 892.5h0M1751 1061.5h0M1746 968h0M1748 954h0M1747.5 873h0M1736.5 889h0M1762.5 1156h0M1744.5 1083h0M1736.5 809h0M1745.5 880h0M1729.5 880.5h0M1756.5 1130h0M1752.5 1128.5h0M1731 853.5h0M1730.5 846h0M1757.5 1117h0M1731 991.5h0M1739.5 979h0M1757.5 979.5h0M1733.5 988h0M1722.5 814h0M1737 838h0M1728.5 846h0M1747.5 1106h0M1736 949h0M1734.5 826h0M1757 1149h0M1748 883h0M1733 924h0M1743 1038.5h0M1753.5 1076h0M1727 850.5h0M1753 1105.5h0M1752 1006h0M1739 891.5h0M1741.5 986.5h0M1726.5 840h0M1725.5 914.5h0M1742.5 851h0M1758 1070.5h0M1735.5 978.5h0M1741.5 877.5h0M1756.5 1084h0M1756.5 994.5h0M1729.5 922h0M1735 946h0M1739.5 888h0M1730 973h0M1752.5 998h0M1755 1138.5h0M1751 1142.5h0M1740 882h0M1746.5 940h0M1769 1139.5h0M1738 879h0M1763.5 1063.5h0M1735.5 848.5h0M1752.5 954h0M1733 878.5h0M1754.5 1055h0M1743.5 1002h0M1748.5 1138h0M1738.5 941h0M1754.5 1060h0M1747 1124h0M1744 956h0M1744 893.5h0M1744 1097h0M1761.5 1044.5h0M1729.5 831.5h0M1753 1090.5h0M1741.5 880h0M1735.5 1064h0M1740 915h0M1728 930.5h0M1730.5 880h0M1754.5 1148.5h0M1754.5 1001.5h0M1727 829h0M1726 818h0M1762.5 1095h0M1745.5 986.5h0M1743.5 866h0M1756 1130.5h0M1725.5 992h0M1743.5 894h0M1734.5 919.5h0M1755 1122h0M1732.5 847.5h0M1727 804h0M1750 891.5h0M1738 947.5h0M1745 949.5h0M1765.5 1080h0M1709 850.5h0M1742.5 1084.5h0M1734.5 955.5h0M1735 878.5h0M1754.5 1055h0M1752 1031h0M1749.5 989.5h0M1749.5 1095h0M1757.5 1113.5h0M1741.5 1026h0M1745 824.5h0M1739.5 982.5h0M1747 1004h0M1743 1104.5h0M1751 1109.5h0M1758.5 1102h0M1716 819.5h0M1736.5 967h0M1721.5 979h0M1751 1152h0M1761.5 1083.5h0M1722.5 820h0M1758 1139h0M1742 1019h0M1752.5 854h0M1744.5 906.5h0M1745 890h0M1716.5 824h0M1753 1043.5h0M1746 1052h0M1728.5 823.5h0M1729 821.5h0M1721 821.5h0M1737.5 1008.5h0M1756 1006h0M1759.5 1113.5h0M1732.5 811.5h0M1733 846h0M1747 855h0M1747 1128h0M1747.5 1151h0M1732 871.5h0M1740 831h0M1731 931h0M1759 1109.5h0M1756.5 1101h0M1741 1073h0M1756.5 1111.5h0M1746.5 1011.5h0M1743.5 860h0M1728.5 842.5h0M1775 1097.5h0M1748 1111.5h0M1736.5 1094h0M1735.5 964h0M1751 1061.5h0M1735 824h0M1736 854h0M1735.5 856.5h0M1723 823h0M1759 1128.5h0M1743.5 1039.5h0M1766 936.5h0M1732.5 1119h0M1748 1120.5h0M1740.5 981h0M1727.5 844.5h0M1762.5 1024h0M1753.5 878h0M1735.5 836h0M1748 1073h0M1755.5 1108.5h0M1768 1137.5h0M1730 871.5h0M1745 932h0M1750 1113h0M1734.5 865h0M1754.5 1131.5h0M1740.5 1012.5h0M1742 865h0M1736.5 817h0M1750 1091.5h0M1763 1125.5h0M1737 928.5h0M1761 877h0M1749.5 1018h0M1730.5 891.5h0M1738 960h0M1754.5 993h0M1725.5 838h0M1733 1071h0M1742.5 1034h0M1751 981.5h0M1756 1115.5h0M1753 1088h0M1754 1089h0M1726 934h0M1741.5 835.5h0M1705.5 827.5h0M1743.5 942h0M1746.5 1126.5h0M1746 1129.5h0M1768 1091.5h0M1745.5 1032.5h0M1738 1104h0M1778 1064.5h0M1743 960.5h0M1747 913h0M1735.5 1056h0M1746.5 893.5h0M1761 923.5h0M1749.5 1126h0M1743.5 887h0M1751.5 949h0M1750.5 1058h0M1727.5 804.5h0M1729 800.5h0M1741.5 848h0M1749.5 885.5h0M1745 923h0M1731.5 999h0M1751 1009.5h0M1741 834h0M1731 1086h0M1744.5 1100.5h0M1738.5 1024.5h0M1758.5 1056h0M1741 845h0M1741.5 950h0M1757.5 1074.5h0M1737 964.5h0M1747.5 1099h0M1755 1072h0M1731.5 841h0M1753.5 910.5h0M1733 839.5h0M1740.5 1005h0M1750 1015.5h0M1716 951.5h0M1760.5 1138h0M1733 849.5h0M1751 1067h0M1769 1121.5h0M1742.5 856h0M1745 1044.5h0M1756.5 947.5h0M1746 1017.5h0M1741 1028.5h0M1746.5 874.5h0M1765.5 1130.5h0M1738.5 1086.5h0M1754 1144h0M1722 864.5h0M1739 1066h0M1747.5 929h0M1741 1000h0M1745 884.5h0M1761.5 1148h0M1744.5 979.5h0M1742 1060h0M1773 1084.5h0M1739 949h0M1750.5 1140h0M1757 973h0M1736 833h0M1761 1015h0M1728.5 802h0M1739.5 1004.5h0M1761 1095h0M1749 1094.5h0M1738 1095.5h0M1758 1055h0M1727.5 824.5h0M1762.5 1121h0M1751 1043.5h0M1741.5 850.5h0M1760.5 1111.5h0M1722.5 922.5h0M1759 1014h0M1762.5 1153.5h0M1733.5 823h0M1745.5 979h0M1747 917.5h0M1739 930h0M1724.5 820.5h0M1751.5 906.5h0M1735 972.5h0M1745.5 1110h0M1767.5 1121h0M1733.5 1006h0M1746.5 1002h0M1728.5 846h0M1723 839h0M1738.5 886.5h0M1739 956.5h0M1733 802.5h0M1831.5 1087h0M1825 1021.5h0M1844.5 992h0M1846 976.5h0M1830.5 839h0M1851.5 1158h0M1816.5 831.5h0M1821.5 817.5h0M1841.5 952.5h0M1864 1068.5h0M1857.5 1146.5h0M1816 845.5h0M1842 1054h0M1830 761.5h0M1825.5 809.5h0M1848.5 1175h0M1826.5 796.5h0M1821.5 754h0M1847.5 1123h0M1830 996h0M1839 786h0M1833 858h0M1823.5 835.5h0M1833 978h0M1855 978h0M1834 1010.5h0M1844 1170h0M1834 819h0M1848.5 1043h0M1857.5 1092.5h0M1853 1110.5h0M1837.5 900h0M1831.5 863h0M1828 805h0M1836.5 861.5h0M1825.5 766h0M1814 771h0M1823.5 939.5h0M1861 1140.5h0M1852 980.5h0M1836.5 1097.5h0M1828 900.5h0M1823.5 883h0M1855 1143.5h0M1833 925h0M1841.5 910h0M1852 1089.5h0M1828 976.5h0M1812.5 935h0M1817.5 747h0M1836.5 1117h0M1848.5 1168h0M1842.5 1121h0M1829 767h0M1836 944.5h0M1819.5 1006h0M1842.5 980.5h0M1851 1093.5h0M1852 1162h0M1837 874h0M1846 1009.5h0M1852 1152.5h0M1844 1098.5h0M1851.5 1049.5h0M1840 1019h0M1834.5 952.5h0M1844 889h0M1822 847.5h0M1826.5 968h0M1831.5 935h0M1809 837h0M1848.5 937.5h0M1823 896.5h0M1848 1162.5h0M1829 903h0M1838.5 1055h0M1849 1187h0M1854 1138.5h0M1821 1026h0M1834 763h0M1836 1013h0M1832 967h0M1845 1022h0M1834.5 763h0M1835 809.5h0M1828.5 1001.5h0M1838.5 1010.5h0M1864 1138h0M1835 1001.5h0M1838.5 974h0M1855 899h0M1841.5 815h0M1842 894.5h0M1837 1157h0M1838.5 760h0M1844.5 995h0M1822.5 871h0M1830 850.5h0M1836.5 929h0M1854.5 1165.5h0M1843 1045.5h0M1850.5 1016h0M1828 829.5h0M1827 846h0M1820.5 1002h0M1822 876.5h0M1826 1011h0M1811.5 746h0M1828 837.5h0M1861.5 1129h0M1829.5 971.5h0M1841 916h0M1844.5 935.5h0M1829.5 894.5h0M1840.5 1056.5h0M1816.5 788.5h0M1852.5 1055.5h0M1846.5 1158h0M1839.5 906.5h0M1836 935h0M1838 994.5h0M1835.5 876h0M1824.5 799h0M1822.5 883h0M1831 762h0M1830.5 910.5h0M1853.5 1000.5h0M1844.5 1090.5h0M1817.5 836.5h0M1817.5 873.5h0M1835.5 1036.5h0M1847 1107h0M1828.5 871h0M1813.5 811h0M1842 793h0M1835 1086h0M1844 1160.5h0M1857 1064h0M1844.5 1088.5h0M1822 819.5h0M1814 798h0M1831.5 774.5h0M1838 931.5h0M1811.5 757.5h0M1834.5 870h0M1811.5 833h0M1843.5 1004.5h0M1825 944h0M1846 768h0M1826.5 846.5h0M1842 894h0M1844.5 1057h0M1825.5 843h0M1828 886h0M1830.5 846h0M1838 1114.5h0M1830 858.5h0M1831.5 932h0M1842.5 1036h0M1827.5 826.5h0M1844.5 962h0M1840.5 903.5h0M1816 825.5h0M1845.5 1028.5h0M1854.5 1095h0M1840.5 1143.5h0M1861 1089.5h0M1840.5 1063.5h0M1839 1112h0M1828.5 822.5h0M1834.5 949h0M1836 998.5h0M1857 968h0M1818.5 902h0M1869.5 1186h0M1827.5 990h0M1828.5 862h0M1826 1031h0M1847 1054.5h0M1817 837.5h0M1823.5 890h0M1853.5 1113h0M1847.5 1165h0M1852 969.5h0M1836 1046.5h0M1839 1078h0M1827.5 953h0M1811.5 826.5h0M1828 855.5h0M1866.5 1186h0M1831.5 868.5h0M1829.5 971h0M1835 801h0M1822.5 814.5h0M1845 1115.5h0M1831 852.5h0M1868.5 1174h0M1833 839.5h0M1853.5 1142.5h0M1839 1017h0M1834.5 889.5h0M1826.5 881h0M1854.5 1144h0M1838.5 1012h0M1831 818h0M1842 1042.5h0M1850 1170h0M1828 893.5h0M1839.5 972.5h0M1827 770.5h0M1847.5 939h0M1836.5 814.5h0M1828 1072h0M1856.5 1161.5h0M1848 1107.5h0M1830.5 816.5h0M1839 815.5h0M1851 1017h0M1839.5 1104.5h0M1855.5 1077h0M1848.5 1054.5h0M1859 1111h0M1851.5 1087h0M1819 855h0M1833.5 1103.5h0M1851 1155.5h0M1835 1051h0M1853 1131.5h0M1839.5 972h0M1835 1029.5h0M1823 765h0M1839.5 915.5h0M1838.5 753h0M1831.5 831.5h0M1857 1092.5h0M1833 911.5h0M1834.5 1151.5h0M1839.5 975.5h0M1850 935h0M1847.5 1159h0M1841 1021.5h0M1836 943h0M1851 920.5h0M1834.5 1009.5h0M1825 891.5h0M1834.5 854h0M1832 829h0M1825.5 964.5h0M1825 772h0M1833.5 773.5h0M1835 849.5h0M1844 1131h0M1832 975h0M1822.5 827.5h0M1817 958h0M1845 756.5h0M1830 983h0M1863 1131.5h0M1857.5 1160.5h0M1832 903h0M1830.5 1007h0M1826.5 923.5h0M1829 767h0M1825.5 838h0M1852 1067h0M1843.5 1147h0M1840 1126.5h0M1811.5 758h0M1840.5 1078h0M1827.5 984.5h0M1853.5 1027.5h0M1833.5 807.5h0M1837.5 1164h0M1826.5 949.5h0M1814.5 762h0M1854.5 1073.5h0M1823.5 785.5h0M1822 939.5h0M1842 912.5h0M1844.5 989h0M1819.5 878.5h0M1850 1177.5h0M1848 1120h0M1832 1060.5h0M1859 1107.5h0M1840.5 949.5h0M1835 1073.5h0M1823 810h0M1806 843.5h0M1836 835.5h0M1841.5 1143.5h0M1849 1145h0M1844.5 823h0M1831 819.5h0M1848 863.5h0M1845.5 1149.5h0M1835.5 917h0M1826 905h0M1839 886.5h0M1854 1060h0M1861.5 1052h0M1850 985h0M1832.5 1052.5h0M1841 814.5h0M1848.5 1157.5h0M1841 1073h0M1840.5 1079h0M1830.5 825h0M1825.5 802.5h0M1862.5 937.5h0M1833 1066h0M1848 1039h0M1814.5 915.5h0M1823.5 1001h0M1826 833.5h0M1849 1161.5h0M1843 1078.5h0M1850.5 1132.5h0M1851.5 1112.5h0M1843 1170h0M1835.5 913h0M1831.5 784.5h0M1842.5 1005h0M1849.5 1008h0M1850.5 939.5h0M1822 757.5h0M1822.5 994h0M1842.5 825.5h0M1842 1132.5h0M1849 876.5h0M1822 806.5h0M1815 865.5h0M1840.5 1038.5h0M1833.5 773h0M1832.5 932.5h0M1820.5 906h0M1843.5 1109.5h0M1832 760h0M1829.5 1016h0M1858.5 1105h0M1839 1103.5h0M1828 795.5h0M1830.5 808h0M1837.5 773.5h0M1838 912h0M1845 1116.5h0M1829 856.5h0M1843 1146h0M1841.5 848h0M1833.5 1016.5h0M1826.5 861h0M1846 1146.5h0M1827 963.5h0M1830.5 828h0M1817 915h0M1825 881h0M1844 1058.5h0M1828 858.5h0M1863 1164.5h0M1833.5 1039.5h0M1838 1080h0M1838.5 778.5h0M1838.5 873.5h0M1832.5 870h0M1833.5 835h0M1833 842.5h0M1819.5 757h0M1822.5 844h0M1826 818.5h0M1844 1074h0M1830 779.5h0M1833.5 805.5h0M1859 1183.5h0M1850.5 1066.5h0M1843 947h0M1827 912h0M1842.5 1167h0M1835 938.5h0M1826 888h0M1820.5 783h0M1851 1059h0M1850.5 1046h0M1817 805.5h0M1840.5 1185h0M1844 945.5h0M1855.5 1015.5h0M1832.5 927.5h0M1819 778h0M1815.5 872.5h0M1844.5 1080h0M1830.5 1035h0M1833.5 1048h0M1834.5 860h0M1827.5 844.5h0M1845.5 1047.5h0M1837 978.5h0M1824.5 870h0M1832 772h0M1824 799h0M1823.5 776.5h0M1854 1138.5h0M1838.5 911.5h0M1855.5 1066.5h0M1813.5 783h0M1843.5 1163.5h0M1838.5 846h0M1848 1087h0M1854.5 1071.5h0M1837 886h0M1838 1006.5h0M1828.5 814h0M1817.5 748h0M1848.5 1095h0M1830.5 1095h0M1856.5 1118.5h0M1829.5 920h0M1830 949h0M1833.5 1019h0M1828 1071.5h0M1816 764.5h0M1856.5 1168h0M1828 860h0M1819 1016.5h0M1843 1077.5h0M1823.5 949.5h0M1855 986h0M1846.5 1184.5h0M1833 839h0M1844 998.5h0M1831.5 799.5h0M1822.5 832.5h0M1854.5 1130h0M1841.5 1056h0M1850.5 858.5h0M1842 915.5h0M1838.5 1021h0M1834 842h0M1852.5 1063.5h0M1848 1004.5h0M1826 860h0M1857.5 972.5h0M1867.5 1136.5h0M1845.5 887.5h0M1833.5 1072.5h0M1815.5 765.5h0M1838.5 754.5h0M1830.5 860.5h0M1834.5 886h0M1840.5 838.5h0M1848.5 1118h0M1829.5 801h0M1831 1060h0M1833.5 901h0M1827.5 793.5h0M1828 772.5h0M1839.5 1077h0M1838 1110h0M1834.5 909.5h0M1828.5 856.5h0M1830.5 993.5h0M1847.5 1024h0M1829.5 812h0M1842.5 1029h0M1844.5 1010.5h0M1868 1115.5h0M1846 1009h0M1847.5 1136h0M1837.5 1089h0M1863 1184h0M1845 878h0M1839.5 932h0M1834.5 1140.5h0M1827.5 990h0M1841.5 1140h0M1810 761.5h0M1846 937.5h0M1829 986.5h0M1860 1136.5h0M1841 957.5h0M1859 983.5h0M1825.5 811.5h0M1837.5 881.5h0M1836.5 1045h0M1846.5 774h0M1841.5 1022h0M1825.5 1047h0M1856.5 1156.5h0M1821.5 929h0M1812.5 998.5h0M1827 851h0M1805.5 718.5h0M1845 920h0M1802.5 730.5h0M1642.5 878h0M1840.5 874.5h0M1667 829h0M1553 848.5h0M1721 691h0M1501 802h0M1597 994h0M1533.5 910h0M1728.5 848h0M1759 944.5h0M1534 908h0M1526 718h0M1820.5 823.5h0M1804 706.5h0M1864.5 947h0M1512 776.5h0M1712 850h0M1631.5 918.5h0M1857 966.5h0M1673 830h0M1631 835h0M1592.5 744h0M1547 760h0M1657.5 948.5h0M1788.5 829h0M1695 931.5h0M1799.5 861.5h0M1706 990.5h0M1761.5 954.5h0M1594 954h0M1842.5 986h0M1783.5 879.5h0M1513.5 899h0M1838.5 817h0M1629 755h0M1508.5 958h0M1807 971.5h0M1859.5 744.5h0M1670.5 894h0M1590.5 811h0M1483.5 780.5h0M1484 948h0M1486 792.5h0M1800.5 852.5h0M1631 865.5h0M1816.5 942.5h0M1829.5 968.5h0M1846 909h0M1772.5 848h0M1769.5 915.5h0M1807.5 775.5h0M1811 707h0M1801 805.5h0M1620.5 823.5h0M1613 840.5h0M1616.5 890h0M1801.5 948h0"/>
<path stroke="#1400ff" d="M1488.5 1190.5h0M1469 1008h0M1469.5 1024h0M1489.5 1192h0M1481 1090h0M1485 1181h0M1469.5 910h0M1479 1044h0M1468 901.5h0M1473 913h0M1482 1147h0M1471.5 966h0M1475 938h0M1483.5 1176.5h0M1477.5 1010h0M1472.5 985h0M1472.5 928h0M1472.5 1077.5h0M1468 898.5h0M1483 1176.5h0M1481 1108h0M1484.5 1112.5h0M1477.5 1028.5h0M1470.5 926h0M1477 971h0M1467 925h0M1487 1143.5h0M1477 1059.5h0M1474 982.5h0M1491 1145h0M1475 996h0M1492.5 1198.5h0M1471 957h0M1478.5 970h0M1488 1136h0M1479.5 1076h0M1472 955.5h0M1480.5 1044.5h0M1478 1001h0M1482 1076h0M1471 960h0M1490 1212h0M1478 1035.5h0M1477.5 1035.5h0M1490 1206.5h0M1492 1207h0M1481.5 1137h0M1486 1180.5h0M1482.5 1145.5h0M1476 996h0M1488.5 1192.5h0M1473.5 1048h0M1476 999h0M1492 1203h0M1486 1121.5h0M1484 1115.5h0M1490 1158.5h0M1475 967h0M1479.5 1068.5h0M1487 1205h0M1472.5 896.5h0M1488 1202h0M1479.5 1087h0M1470 912.5h0M1464.5 901.5h0M1480 1120.5h0M1490.5 1164h0M1475.5 1003h0M1484.5 1128h0M1474.5 961h0M1477.5 998.5h0M1472.5 1020h0M1476.5 985.5h0M1480 1131.5h0M1480 1081.5h0M1467.5 928h0M1486 1186h0M1474 966.5h0M1486 1193.5h0M1474.5 989.5h0M1477.5 1047h0M1482 1145.5h0M1481 1095.5h0M1492.5 1187.5h0M1481 996.5h0M1478.5 1044h0M1483.5 1138.5h0M1471.5 953.5h0M1475.5 1068h0M1491.5 1183.5h0M1476.5 993h0M1481.5 1177h0M1477 1038h0M1475 1055.5h0M1477 1078h0M1473.5 1023h0M1544.5 964.5h0M1526 714h0M1538 924.5h0M1536.5 754.5h0M1550.5 960.5h0M1558.5 1022.5h0M1538 786.5h0M1557.5 1003h0M1555 973.5h0M1538 759.5h0M1551.5 944.5h0M1552 907.5h0M1562.5 1057h0M1534 716.5h0M1560 1012h0M1540 835.5h0M1567.5 1054.5h0M1553 1052h0M1532 744.5h0M1549.5 981h0M1553 1013h0M1532 790.5h0M1528.5 805h0M1539.5 758.5h0M1549.5 945h0M1540 901.5h0M1550.5 907.5h0M1547.5 969.5h0M1553 838h0M1544.5 898.5h0M1522.5 722h0M1533 799h0M1548 989.5h0M1546 864h0M1540.5 806.5h0M1568.5 1058h0M1555.5 1025h0M1538.5 842h0M1558.5 1056h0M1539 853.5h0M1552 993h0M1525.5 724h0M1550.5 929.5h0M1525.5 723.5h0M1538.5 846h0M1548.5 909h0M1530.5 837.5h0M1545.5 830h0M1562 986.5h0M1559 1033h0M1524 714.5h0M1547 1039h0M1536.5 727h0M1540 863h0M1544.5 854.5h0M1534 760.5h0M1537 737.5h0M1552 933.5h0M1546 900h0M1528 735h0M1534.5 827h0M1525.5 744h0M1560.5 1042.5h0M1554 975h0M1568 1039.5h0M1549 895.5h0M1557 1052h0M1545 848.5h0M1560.5 1023.5h0M1533.5 853h0M1573.5 1051h0M1552 964.5h0M1544 931h0M1559.5 1054.5h0M1564 1042.5h0M1549.5 952h0M1536.5 800.5h0M1537 893h0M1537 816h0M1550.5 895.5h0M1534.5 724h0M1526.5 750h0M1535.5 775.5h0M1545.5 892.5h0M1547.5 902.5h0M1553 934.5h0M1526.5 713h0M1540 828h0M1553 986.5h0M1555 929.5h0M1544.5 812.5h0M1518 732.5h0M1531.5 744h0M1549.5 1045h0M1572 1058.5h0M1539.5 843.5h0M1559.5 1049h0M1547 1007h0M1558 1036h0M1558.5 1046.5h0M1531 736h0M1557.5 1026.5h0M1556 975h0M1552 909.5h0M1538.5 834.5h0M1533.5 754h0M1534 857h0M1537 778h0M1542.5 836.5h0M1545 876h0M1540 857h0M1548 956.5h0M1558 939h0M1526 775.5h0M1537.5 767h0M1545.5 949h0M1535 796h0M1550.5 872h0M1545.5 903h0M1541 878h0M1533 744.5h0M1541 809.5h0M1521 716.5h0M1557 986h0M1532 809h0M1534 819h0M1552.5 934h0M1556.5 974h0M1546.5 929.5h0M1529.5 725.5h0M1550.5 973.5h0M1537 814.5h0M1545 963h0M1550 931.5h0M1532 723.5h0M1552.5 1015h0M1538.5 724h0M1545 848.5h0M1548 978.5h0M1524 719.5h0M1534 740h0M1529.5 757.5h0M1563 1054.5h0M1527.5 733.5h0M1555 1043.5h0M1539 882.5h0M1541.5 835h0M1542 941.5h0M1553.5 1003.5h0M1528 789h0M1553.5 940h0M1532.5 740.5h0M1537.5 774.5h0M1540 868.5h0M1563 1034.5h0M1543.5 901h0M1545 888h0M1541.5 850h0M1544.5 854h0M1543 847.5h0M1553 997h0M1546.5 936.5h0M1538.5 814.5h0M1564.5 1040.5h0M1554.5 921.5h0M1529 729.5h0M1566 1054.5h0M1548 984h0M1527.5 735h0M1526.5 753h0M1560 1020h0M1551.5 984h0M1551 906.5h0M1551.5 973h0M1554 982h0M1536.5 786h0M1536.5 778h0M1538.5 868h0M1568 1049h0M1535.5 858h0M1542 907h0M1558.5 1029h0M1570.5 1053h0M1535 828.5h0M1545 962.5h0M1566.5 1056.5h0M1538.5 890.5h0M1541.5 850h0M1550.5 989.5h0M1542 885h0M1531.5 784h0M1553 958.5h0M1544.5 831h0M1541.5 872h0M1566.5 1051h0M1529 752h0M1549 888h0M1522.5 726h0M1560.5 992.5h0M1534 862h0M1534.5 760.5h0M1530.5 770h0M1527 719.5h0M1525.5 730.5h0M1529.5 724.5h0M1542 820.5h0M1542 869.5h0M1564 1042.5h0M1520 722.5h0M1529.5 740.5h0M1552 993.5h0M1540.5 901.5h0M1539 838.5h0M1563 1056h0M1545.5 900h0M1537 789.5h0M1560.5 962h0M1546.5 878h0M1549 920.5h0M1535 838.5h0M1540 861h0M1530 772h0M1539.5 819h0M1562 1030.5h0M1551 949.5h0M1562.5 1059h0M1545 815.5h0M1559.5 1048.5h0M1535.5 719h0M1561.5 1034h0M1559 1044h0M1535 826h0M1548.5 936h0M1528 758.5h0M1535.5 842.5h0M1546 921h0M1551.5 988h0M1540.5 867h0M1556 1032h0M1540 758h0M1534.5 783.5h0M1546 837.5h0M1540.5 852.5h0M1548 951.5h0M1554 991.5h0M1556 988h0M1549.5 977h0M1531 745h0M1536 761h0M1557 1015.5h0M1555 996.5h0M1549.5 941h0M1527 718h0M1559 1041h0M1538 890h0M1546.5 952.5h0M1553.5 900.5h0M1532 857h0M1539 800.5h0M1540 816h0M1541.5 926.5h0M1552.5 905h0M1531 724.5h0M1550.5 954h0M1550.5 917h0M1530 770.5h0M1542 926.5h0M1537.5 708h0M1536 799.5h0M1545.5 856h0M1549.5 986.5h0M1554 920h0M1566.5 1050h0M1522.5 775h0M1559.5 1057h0M1557.5 1037.5h0M1537 870h0M1541.5 865.5h0M1530.5 774.5h0M1565 981.5h0M1553 989.5h0M1531.5 752h0M1546 983h0M1538.5 818h0M1550 894.5h0M1544 819.5h0M1533 741h0M1529.5 720.5h0M1528 731h0M1547 962.5h0M1538.5 789h0M1563 1014.5h0M1533 758h0M1560 1018h0M1536.5 838h0M1560 1009.5h0M1556 974h0M1551.5 962.5h0M1533 741h0M1539.5 774h0M1541.5 819h0M1548 967h0M1537 756h0M1542.5 945.5h0M1547.5 1034h0M1546 772h0M1559 989.5h0M1542.5 894h0M1529 716h0M1551 1029.5h0M1520 724h0M1553.5 923h0M1562.5 979.5h0M1563 1008.5h0M1563.5 1049h0M1564 1039h0M1532.5 794h0M1550.5 964h0M1537.5 722h0M1551 961h0M1547 896.5h0M1530.5 760.5h0M1542.5 841.5h0M1541 790.5h0M1545.5 939.5h0M1532.5 718h0M1531 744h0M1552 969h0M1555 1039.5h0M1522 763h0M1541.5 845h0M1542 853.5h0M1568 1024h0M1540 824h0M1552.5 990h0M1541 841.5h0M1530.5 741.5h0M1533.5 852h0M1541.5 881.5h0M1542.5 898.5h0M1545.5 897h0M1546.5 992h0M1551.5 964h0M1546 769.5h0M1555 1005.5h0M1547.5 933h0M1556 1023.5h0M1558.5 987.5h0M1539 921h0M1543.5 886h0M1546.5 854.5h0M1530.5 709h0M1559.5 1023h0M1563 1013.5h0M1542 832.5h0M1546 811h0M1534 862h0M1536.5 869h0M1562 1052.5h0M1525.5 722h0M1548.5 780h0M1548.5 885.5h0M1544.5 905.5h0M1556.5 1034h0M1548.5 898.5h0M1555 998h0M1532 721.5h0M1550.5 969h0M1554 1061.5h0M1552 965.5h0M1541.5 852h0M1539.5 841h0M1529.5 711h0M1549.5 902h0M1536 729.5h0M1550.5 936.5h0M1555 967.5h0M1541 845.5h0M1555 958.5h0M1532.5 736h0M1548 978h0M1535.5 780h0M1558 893.5h0M1522.5 765h0M1550 961h0M1542.5 870.5h0M1541.5 856.5h0M1540.5 861.5h0M1542 889.5h0M1533.5 767h0M1553 984.5h0M1554 1006.5h0M1548.5 925h0M1550 915h0M1534 753.5h0M1558.5 1018.5h0M1537 824.5h0M1533 776.5h0M1547 853.5h0M1560.5 1016.5h0M1535 831.5h0M1556 1004h0M1548.5 890.5h0M1557.5 969.5h0M1538.5 766.5h0M1529 709.5h0M1557.5 996.5h0M1550 967.5h0M1532.5 707h0M1534.5 833.5h0M1537 943.5h0M1542.5 899h0M1548.5 1012.5h0M1544.5 876.5h0M1538 910.5h0M1545.5 998h0M1552 969h0M1560.5 1034.5h0M1552 870h0M1571 1009.5h0M1559.5 1035.5h0M1546 914h0M1537 934.5h0M1550.5 899h0M1541.5 887.5h0M1544.5 892h0M1561 1041h0M1532 805h0M1550.5 960h0M1530 715.5h0M1553 1006h0M1544 933h0M1548.5 775h0M1566.5 1043.5h0M1540 860h0M1554.5 946h0M1556.5 1043.5h0M1539.5 905h0M1532 753.5h0M1531.5 767.5h0M1560 931.5h0M1549.5 980h0M1555.5 1035.5h0M1548 880h0M1540 955h0M1539.5 847.5h0M1538.5 847.5h0M1550 988.5h0M1537.5 782.5h0M1543.5 951.5h0M1528 710.5h0M1559.5 930h0M1534.5 710.5h0M1556 1017.5h0M1570 1049h0M1523 747.5h0M1536 773h0M1558 997.5h0M1530.5 739.5h0M1538.5 831h0M1535.5 801.5h0M1530.5 715.5h0M1527.5 725h0M1533.5 795.5h0M1547 955h0M1555 1008.5h0M1547 949h0M1544 820.5h0M1547.5 1010.5h0M1550 925h0M1559 982.5h0M1535 799.5h0M1544.5 848.5h0M1540.5 864.5h0M1537 913h0M1557 967h0M1537 827.5h0M1553 911h0M1554.5 1011.5h0M1548 841.5h0M1546 951h0M1532 813.5h0M1548.5 951h0M1539 825.5h0M1542.5 895.5h0M1524.5 720.5h0M1536.5 855.5h0M1533.5 873h0M1536.5 821.5h0M1553 992.5h0M1551.5 977h0M1554.5 957.5h0M1538 892.5h0M1536.5 787.5h0M1536.5 763h0M1545.5 934h0M1548.5 996.5h0M1553.5 956h0M1561 1045h0M1548.5 943h0M1546.5 990.5h0M1542 915.5h0M1565.5 1022h0M1544 858h0M1531 785.5h0M1541 884h0M1552 936.5h0M1565 1039h0M1543 866h0M1559 1044.5h0M1558.5 1025.5h0M1533 725h0M1544 866.5h0M1542.5 892h0M1533 879.5h0M1561 1003.5h0M1543.5 946h0M1536 718h0M1532.5 751.5h0M1541 864h0M1534.5 777h0M1547 972.5h0M1556 962.5h0M1544 842.5h0M1528 735.5h0M1560 957h0M1537 754.5h0M1563 1043h0M1533 734h0M1533 716h0M1534.5 814h0M1562 1045h0M1524 768h0M1533 722h0M1552.5 1009h0M1533 730h0M1536 746.5h0M1535.5 842.5h0M1541 865h0M1544 869.5h0M1532.5 727h0M1530 722.5h0M1534 722h0M1556 1033h0M1542.5 882.5h0M1549.5 934h0M1527.5 778.5h0M1550 926.5h0M1536 803h0M1537 923.5h0M1539.5 770h0M1557 1028h0M1538.5 824h0M1545 825.5h0M1527 826.5h0M1537.5 789h0M1566.5 1001.5h0M1545.5 845.5h0M1539.5 824.5h0M1531.5 746h0M1543.5 739.5h0M1540.5 775.5h0M1558 1024h0M1537 824.5h0M1528.5 742h0M1533 732h0M1551 933.5h0M1555.5 992h0M1531.5 794.5h0M1556.5 1003.5h0M1550 945h0M1567 1044.5h0M1558 1034h0M1551.5 873h0M1541.5 873.5h0M1552 997.5h0M1552.5 946h0M1575.5 1127h0M1574 1156.5h0M1576 1132h0M1569.5 1145.5h0M1574.5 1179h0M1589.5 1219h0M1561.5 1141.5h0M1566 1131.5h0M1576.5 1153.5h0M1576 1182h0M1573 1126h0M1576.5 1135h0M1575.5 1156h0M1574 1132h0M1579 1165h0M1587 1225.5h0M1574.5 1122h0M1576.5 1159.5h0M1572 1169h0M1577 1133.5h0M1573.5 1161.5h0M1576 1156.5h0M1582.5 1214.5h0M1586 1195h0M1583 1220.5h0M1570 1150.5h0M1583 1162.5h0M1573 1172h0M1583.5 1219.5h0M1567 1124.5h0M1579 1215.5h0M1577.5 1187.5h0M1570.5 1148.5h0M1576 1168.5h0M1570.5 1116.5h0M1577.5 1220.5h0M1580.5 1195h0M1573.5 1191.5h0M1585 1217h0M1573 1133h0M1584.5 1211.5h0M1578 1207.5h0M1573.5 1124h0M1579.5 1179h0M1582 1205h0M1570.5 1122h0M1582 1221.5h0M1571.5 1140h0M1588.5 1217h0M1590.5 1227h0M1580.5 1199.5h0M1567.5 1127h0M1577 1180h0M1575.5 1182h0M1576.5 1137.5h0M1575.5 1160.5h0M1571 1160.5h0M1584.5 1193.5h0M1577 1152.5h0M1572 1130.5h0M1569 1144.5h0M1577 1161h0M1570 1134.5h0M1577.5 1175.5h0M1582 1150.5h0M1581 1192.5h0M1587.5 1225h0M1573 1141.5h0M1578 1134h0M1572 1160.5h0M1575.5 1124.5h0M1583.5 1172h0M1569.5 1128.5h0M1577.5 1155h0M1584.5 1204.5h0M1572.5 1150h0M1577.5 1147.5h0M1567 1140.5h0M1582 1197.5h0M1577 1166.5h0M1584.5 1175.5h0M1578 1171h0M1571.5 1128h0M1571.5 1121h0M1576.5 1198.5h0M1579.5 1164.5h0M1588 1210.5h0M1572.5 1158.5h0M1573 1149h0M1566 1122.5h0M1573 1130h0M1581.5 1200.5h0M1589 1227h0M1577.5 1147h0M1584.5 1229h0M1579 1204.5h0M1577.5 1208.5h0M1584 1190h0M1566.5 1156h0M1579 1223h0M1585 1209h0M1571.5 1165.5h0M1578.5 1178h0M1574 1122.5h0M1580.5 1217.5h0M1643 987.5h0M1635.5 940.5h0M1630 756.5h0M1628.5 773h0M1643.5 1060h0M1633 818.5h0M1642 915h0M1635 960.5h0M1669.5 1199h0M1647.5 964h0M1649 835.5h0M1635.5 829.5h0M1638.5 854.5h0M1641 931.5h0M1633.5 915.5h0M1628.5 874h0M1635 869.5h0M1645 869h0M1659 1087h0M1652 1152.5h0M1656.5 1104h0M1643.5 973h0M1635.5 922h0M1636.5 895h0M1640 891h0M1635.5 886h0M1639.5 794h0M1643.5 826h0M1637.5 759.5h0M1648 1065h0M1654 1120.5h0M1631 769h0M1650.5 1051.5h0M1664.5 1195.5h0M1632 734.5h0M1646 995h0M1634 802.5h0M1635.5 840.5h0M1643 1004h0M1626 737h0M1636 748.5h0M1652 1077h0M1659.5 1128h0M1660.5 1163.5h0M1642.5 969.5h0M1657 1137.5h0M1660 1144h0M1655.5 1137.5h0M1646.5 967.5h0M1632 854h0M1640 823.5h0M1652 1038.5h0M1635 969h0M1621.5 786h0M1627 839h0M1629.5 860h0M1635.5 823h0M1655 1138h0M1663 1127h0M1638 760.5h0M1632 923h0M1664 1178.5h0M1635 775h0M1630.5 909.5h0M1643 962.5h0M1632.5 848h0M1634 834.5h0M1634 841h0M1643.5 949h0M1658.5 1150.5h0M1646 1062h0M1646.5 1059.5h0M1636.5 930.5h0M1640 850h0M1635 905h0M1636 824h0M1634.5 776.5h0M1646.5 872h0M1661 1034h0M1650 1079.5h0M1661.5 1124h0M1633.5 791.5h0M1657.5 1123.5h0M1641 989.5h0M1633.5 929.5h0M1649.5 1086h0M1634 861h0M1634.5 897h0M1634 905.5h0M1632.5 734.5h0M1638.5 940.5h0M1634 948.5h0M1651.5 1138.5h0M1643 1011.5h0M1636 877.5h0M1644.5 1045h0M1652.5 1114.5h0M1653 1100.5h0M1643 1041h0M1631.5 890h0M1658 1110h0M1635.5 867h0M1656.5 1059h0M1642 1012.5h0M1634 826h0M1660.5 1171h0M1652 1053.5h0M1653 1122.5h0M1652 1065h0M1636 875.5h0M1638.5 834.5h0M1633 926.5h0M1644 1038.5h0M1637 872.5h0M1627.5 806.5h0M1645 1052h0M1628 801.5h0M1636 905h0M1632.5 885h0M1639 1034.5h0M1648 1042.5h0M1630 1008h0M1638 896.5h0M1633.5 803h0M1645.5 1076.5h0M1635 821h0M1631 777.5h0M1662.5 1147.5h0M1635.5 915h0M1628.5 820h0M1625 727h0M1646 1011h0M1637.5 779.5h0M1647 1067.5h0M1655 1109h0M1656.5 1122.5h0M1652 1135.5h0M1627 789h0M1644 1066.5h0M1634 842h0M1672 1146.5h0M1640.5 899.5h0M1643.5 1018.5h0M1637 777.5h0M1631.5 727h0M1649.5 1050.5h0M1627 878h0M1641 1009.5h0M1628.5 885.5h0M1637.5 918h0M1656.5 1142.5h0M1638.5 968h0M1646 931h0M1642 984.5h0M1663 1174.5h0M1633 779h0M1640 992.5h0M1657 1165h0M1641 938.5h0M1623 759.5h0M1631.5 913h0M1650 1084h0M1630.5 885h0M1644.5 965h0M1639 776h0M1642.5 975.5h0M1639.5 870.5h0M1640 886.5h0M1647 1066h0M1664.5 1193.5h0M1637.5 887h0M1659.5 1168.5h0M1643.5 996h0M1636.5 979h0M1631.5 862.5h0M1640.5 940.5h0M1639.5 857h0M1653.5 1138.5h0M1645.5 1072.5h0M1629.5 919.5h0M1636 977h0M1670 1191h0M1634 996.5h0M1625.5 854h0M1635.5 843.5h0M1661 1107.5h0M1632.5 981.5h0M1630.5 727h0M1635 856.5h0M1634.5 843.5h0M1627.5 785h0M1640 932.5h0M1657.5 1193h0M1663.5 1175h0M1634.5 849.5h0M1627 759h0M1629 837h0M1640 1019h0M1638 1010.5h0M1631.5 977h0M1640.5 904.5h0M1634.5 947.5h0M1650.5 1074h0M1627 746h0M1643 1002.5h0M1658 1145h0M1633 766h0M1662 1146.5h0M1641 1023h0M1629 744.5h0M1627 885h0M1643.5 976h0M1632.5 961.5h0M1632.5 838h0M1628 782.5h0M1649.5 1057.5h0M1648 1069.5h0M1663 1173.5h0M1657.5 1123h0M1630 721h0M1636.5 905h0M1656.5 1130.5h0M1658.5 1148h0M1646 970.5h0M1667.5 1197.5h0M1660.5 1136.5h0M1635.5 901.5h0M1647 1002h0M1626 855h0M1638 928.5h0M1636 828.5h0M1650 1066h0M1641 893.5h0M1638.5 937h0M1642.5 977.5h0M1665.5 1195h0M1624 764.5h0M1649 1077h0M1631.5 736h0M1628.5 724.5h0M1635 981h0M1635 964.5h0M1666 1185.5h0M1641 839.5h0M1632 759h0M1627.5 909h0M1656 1127.5h0M1650.5 1089.5h0M1659 1118h0M1643 929h0M1642 970h0M1661 1178.5h0M1627 723h0M1629.5 761.5h0M1636 1006h0M1633 941h0M1632 743h0M1639.5 826h0M1661.5 1048.5h0M1666.5 1172h0M1637 802.5h0M1629 743.5h0M1645.5 904h0M1637 884h0M1638.5 905h0M1665.5 1171h0M1633 851h0M1661 1149.5h0M1664.5 1113.5h0M1643 992h0M1632 735.5h0M1629 792h0M1665.5 1146h0M1637.5 777.5h0M1634 972h0M1647.5 955.5h0M1638 897h0M1651.5 1062h0M1625.5 741.5h0M1666 1131.5h0M1656 1141h0M1638.5 920.5h0M1656 1067.5h0M1634.5 1000h0M1649.5 1079h0M1675 1198.5h0M1643.5 1064.5h0M1629 730h0M1653 1131.5h0M1647 1000h0M1638 753.5h0M1643 1013h0M1640.5 957h0M1673 1197h0M1639 868h0M1663 1161h0M1627 882h0M1649.5 1044h0M1636.5 782.5h0M1660.5 1182.5h0M1668 1189.5h0M1639.5 898.5h0M1664.5 1181.5h0M1622.5 740h0M1629.5 729h0M1639.5 1050h0M1642 1026.5h0M1643 1071h0M1628.5 840h0M1644 1016h0M1629 792h0M1644 1066h0M1631 976.5h0M1652 1018.5h0M1645 1082h0M1640.5 957.5h0M1623 862.5h0M1629.5 873h0M1644.5 904h0M1636 821.5h0M1638 797.5h0M1665.5 1186.5h0M1654 1075.5h0M1641.5 928.5h0M1628 784.5h0M1654.5 1069h0M1647.5 1095h0M1649 1029.5h0M1639.5 862h0M1652.5 1070.5h0M1640.5 1068.5h0M1627 807h0M1664 1139.5h0M1637.5 816.5h0M1647.5 1037.5h0M1650.5 1090.5h0M1648 1080h0M1637 925h0M1634 849h0M1649 1100h0M1635.5 844.5h0M1638.5 853.5h0M1643.5 1021.5h0M1643 987.5h0M1632.5 840.5h0M1627 811.5h0M1642.5 936h0M1641 950h0M1637.5 821h0M1639.5 994h0M1630 737h0M1645.5 1012h0M1637 1028.5h0M1669.5 1182.5h0M1668 1128.5h0M1644.5 925h0M1634.5 1003h0M1634 782.5h0M1642 1006h0M1639.5 872h0M1640 920h0M1638 906.5h0M1655.5 1049h0M1638.5 838h0M1651 1088.5h0M1648 1040h0M1644 1075h0M1635 864h0M1638 894h0M1627 841.5h0M1649.5 1058.5h0M1632.5 756h0M1623 806.5h0M1663.5 1188h0M1673 1131.5h0M1636.5 825h0M1650.5 1117.5h0M1649 1021h0M1638.5 998h0M1645 1027.5h0M1647 1084h0M1643 1025h0M1658.5 1145h0M1646.5 1060h0M1653 1101h0M1650.5 923.5h0M1629.5 795h0M1653.5 1184h0M1633.5 743h0M1626 773h0M1657 1068.5h0M1626 761h0M1640.5 1027h0M1640 943h0M1640.5 1036.5h0M1655 1146h0M1665 1144.5h0M1639 762.5h0M1634.5 775.5h0M1635.5 793.5h0M1636 823.5h0M1634 915h0M1664.5 1183h0M1628 853.5h0M1642 1065h0M1660.5 1168h0M1659.5 1060.5h0M1630 872h0M1633 734h0M1641 879h0M1649.5 1073.5h0M1631 882.5h0M1634 884.5h0M1629.5 747.5h0M1631.5 879.5h0M1646 968h0M1644.5 1041h0M1647 1026.5h0M1626.5 801.5h0M1631 826h0M1631.5 986.5h0M1655.5 1135.5h0M1650 1052h0M1658.5 1137h0M1663 1145.5h0M1634.5 875.5h0M1641.5 1001h0M1662.5 1180h0M1628 813.5h0M1647.5 1111.5h0M1634.5 900h0M1630.5 863.5h0M1634 852h0M1670.5 1128.5h0M1638 896.5h0M1650.5 1111.5h0M1656 1154h0M1650.5 1122h0M1664 1157h0M1636.5 939.5h0M1642 949.5h0M1654.5 1146.5h0M1648.5 1045.5h0M1671.5 1178.5h0M1640.5 978.5h0M1638 939h0M1633 809h0M1628.5 829h0M1641.5 960h0M1643 858.5h0M1640.5 988h0M1648.5 1040.5h0M1665.5 1170h0M1634.5 825h0M1658 1084h0M1656 1072.5h0M1633 816h0M1654.5 1111h0M1630 733.5h0M1659 1161h0M1653 1132h0M1654 1177.5h0M1632.5 771.5h0M1630.5 870.5h0M1639.5 966h0M1636.5 971h0M1644 1033h0M1629 849h0M1667 1183.5h0M1628.5 739h0M1642 847.5h0M1629 847h0M1627.5 826.5h0M1634 938h0M1644 1064h0M1642 1007h0M1635.5 900h0M1638 986h0M1638 1032h0M1662 1142h0M1654.5 1159.5h0M1642.5 1004h0M1628.5 956h0M1662.5 1176.5h0M1647.5 1090h0M1644 910h0M1628.5 811h0M1631 806.5h0M1641.5 785h0M1630.5 819.5h0M1725 849.5h0M1721.5 787h0M1743 1064.5h0M1744.5 1092h0M1753.5 1141.5h0M1726 775h0M1723.5 894h0M1739 1031.5h0M1750.5 1078.5h0M1729.5 940.5h0M1742.5 1071h0M1736 1026h0M1751 1144.5h0M1728 898h0M1765.5 1220h0M1726.5 779.5h0M1741 1037.5h0M1722.5 873h0M1731 973h0M1721.5 849.5h0M1743.5 1089.5h0M1741.5 1037.5h0M1723.5 726h0M1719 797h0M1761 1161h0M1736 955.5h0M1732 958.5h0M1720.5 837.5h0M1763.5 1197h0M1733 885.5h0M1732.5 863.5h0M1723.5 750.5h0M1749.5 1106h0M1734.5 1019.5h0M1744 1064h0M1738.5 1022h0M1731 945h0M1731 956.5h0M1742 1131h0M1745.5 1028.5h0M1721 738h0M1732.5 981h0M1750 1093.5h0M1765.5 1183h0M1723 706.5h0M1733 957h0M1723 777.5h0M1729.5 954h0M1726.5 958h0M1733.5 984.5h0M1743 1039.5h0M1726.5 808.5h0M1747 1122.5h0M1742 1042h0M1728.5 920.5h0M1742.5 1061.5h0M1763 1210.5h0M1744.5 1098.5h0M1714 777.5h0M1724 769h0M1735 1001.5h0M1723 796h0M1723.5 762.5h0M1742 1089h0M1767.5 1209h0M1735.5 962h0M1754.5 1128.5h0M1723 813.5h0M1752.5 1123h0M1740.5 1034h0M1723.5 761h0M1724 757.5h0M1764.5 1191h0M1716 775h0M1745 1113.5h0M1759.5 1116h0M1761.5 1205h0M1759 1205h0M1717 754.5h0M1733 985h0M1730 754.5h0M1734.5 934.5h0M1748.5 1112.5h0M1725.5 929h0M1728 759.5h0M1737 1031.5h0M1763.5 1150.5h0M1758 1191.5h0M1718.5 734.5h0M1753 1069h0M1751 1106.5h0M1723 852.5h0M1757 1187.5h0M1727 966h0M1732 911h0M1722.5 806h0M1733.5 1031h0M1731.5 1000h0M1718 791h0M1725 932.5h0M1726.5 890h0M1729 930h0M1720 695h0M1724.5 935h0M1734 1009h0M1726.5 811.5h0M1724.5 911h0M1727.5 916.5h0M1727 982.5h0M1730.5 962h0M1730 1012h0M1742 968.5h0M1724 843h0M1766.5 1204h0M1764.5 1221h0M1744 1069.5h0M1723.5 779h0M1716.5 788.5h0M1729 922h0M1756.5 1145.5h0M1761.5 1173h0M1738 1023h0M1731.5 959h0M1718 780h0M1725 893.5h0M1763.5 1179h0M1723.5 876h0M1758 1165h0M1724 721.5h0M1721 750.5h0M1719 824.5h0M1727.5 875.5h0M1719.5 858.5h0M1728 762h0M1732 896.5h0M1717.5 777.5h0M1730.5 969.5h0M1723.5 784h0M1732.5 1045h0M1718 782h0M1754.5 1154h0M1721.5 704.5h0M1727.5 821.5h0M1725.5 937h0M1730.5 957.5h0M1733 997h0M1741 1018.5h0M1748 1113.5h0M1721 795h0M1727 865.5h0M1728 777.5h0M1762.5 1148h0M1747 1117h0M1734.5 1013h0M1752.5 1190.5h0M1745 1032.5h0M1715 772.5h0M1730 1015.5h0M1735 1018h0M1756.5 1165.5h0M1711 709.5h0M1722.5 937h0M1742.5 1055h0M1742.5 1076.5h0M1720.5 845h0M1731 759h0M1726 776h0M1725 755.5h0M1724 743h0M1759 1175.5h0M1747.5 1072h0M1753 1151h0M1761.5 1163h0M1719 788h0M1733 1022h0M1756 1159.5h0M1719.5 820h0M1719.5 710h0M1727 904h0M1756 1146h0M1725.5 950.5h0M1721.5 742h0M1719.5 730.5h0M1735 963h0M1722 776h0M1733.5 916.5h0M1730.5 938.5h0M1748 1124.5h0M1731.5 1001.5h0M1727 893.5h0M1725 746h0M1751.5 1088.5h0M1747 1131.5h0M1720.5 841h0M1723 701.5h0M1755 1164h0M1718 742h0M1730 905.5h0M1715 773h0M1726 865.5h0M1730 919.5h0M1727 902.5h0M1741.5 1074h0M1726 829h0M1761.5 1198h0M1752 1128h0M1728.5 968.5h0M1721 873.5h0M1717.5 753.5h0M1719 744.5h0M1715.5 695h0M1728.5 842h0M1743.5 1070h0M1732 831h0M1724 728.5h0M1729.5 906h0M1757 1147.5h0M1724 795h0M1727 863h0M1728 927.5h0M1730.5 909.5h0M1723 888.5h0M1758.5 1188h0M1750.5 1115h0M1729.5 928h0M1731.5 920h0M1724 832h0M1729 775.5h0M1731 910h0M1724.5 843h0M1745 1073.5h0M1755 1110h0M1722.5 947.5h0M1741.5 1008h0M1722.5 703h0M1765 1217.5h0M1755 1149.5h0M1745 1072.5h0M1722.5 868.5h0M1749.5 1065h0M1751.5 1188h0M1733.5 1003.5h0M1731 1004.5h0M1740 1033h0M1765 1209h0M1757 1143h0M1756.5 1132.5h0M1738 1076h0M1734 944.5h0M1732.5 1004.5h0M1721 897h0M1746 1107h0M1766 1213.5h0M1734 934h0M1719.5 741h0M1730 919h0M1729.5 969.5h0M1726.5 922h0M1760.5 1179h0M1722.5 698.5h0M1730 964.5h0M1737 1022h0M1732.5 1015h0M1736.5 1031h0M1759 1136h0M1762 1176.5h0M1716 730.5h0M1723.5 867h0M1732 780h0M1718.5 816.5h0M1738.5 984.5h0M1734.5 1013h0M1719.5 744h0M1722.5 961h0M1723.5 864h0M1726.5 825h0M1743.5 1034.5h0M1761.5 1196h0M1729 997.5h0M1724 866h0M1719 716h0M1766.5 1215h0M1723.5 805.5h0M1724.5 821h0M1723.5 949h0M1754 1131.5h0M1751 1106h0M1736 1034.5h0M1764.5 1178.5h0M1735 806h0M1738 1012h0M1726 695h0M1758.5 1186h0M1724 853h0M1757 1158h0M1726 964.5h0M1737.5 1028.5h0M1736 1009h0M1715.5 859h0M1746.5 1078h0M1762 1201h0M1716 710.5h0M1726 838h0M1752.5 1142.5h0M1721.5 695.5h0M1732 857.5h0M1742.5 983.5h0M1729.5 940h0M1735.5 907h0M1750 1080.5h0M1730.5 973.5h0M1763.5 1218h0M1734.5 877.5h0M1763.5 1206.5h0M1732 986h0M1756 1153.5h0M1726.5 1004.5h0M1737 987h0M1720 729.5h0M1730.5 926h0M1717.5 870.5h0M1736.5 979h0M1726 706h0M1752 1136h0M1721.5 872h0M1718.5 779h0M1723 780.5h0M1746.5 1083h0M1765 1187.5h0M1763.5 1171.5h0M1730 834h0M1767 1206h0M1759.5 1164h0M1765.5 1184h0M1756 1102.5h0M1723.5 746h0M1731 914h0M1730 1015.5h0M1747.5 1138.5h0M1756.5 1100.5h0M1751 1159.5h0M1743.5 1026.5h0M1761.5 1209.5h0M1753.5 1115.5h0M1718 732.5h0M1764 1184h0M1728 934h0M1753 1210h0M1748.5 1180.5h0M1771.5 1217h0M1811 733.5h0M1820 708h0M1839.5 1126h0M1824 972.5h0M1839.5 1125h0M1813 809h0M1836.5 1105h0M1839.5 1126h0M1824.5 772.5h0M1842.5 1086.5h0M1816.5 911.5h0M1846.5 1130.5h0M1809 834.5h0M1807.5 965.5h0M1821.5 946h0M1811.5 805.5h0M1812.5 971.5h0M1804.5 774h0M1814.5 747.5h0M1851.5 1152h0M1807 756.5h0M1812 949h0M1818.5 931h0M1849 1168.5h0M1847.5 1137.5h0M1832.5 1069h0M1818 829h0M1815 962.5h0M1812.5 914.5h0M1821.5 956h0M1854 1138h0M1841 1105.5h0M1812.5 916.5h0M1827.5 1066.5h0M1812.5 899h0M1816.5 885.5h0M1821 1027h0M1846 1146h0M1814.5 837h0M1812 720h0M1851.5 1169h0M1808.5 867.5h0M1809.5 793h0M1813.5 821h0M1847.5 1159.5h0M1816 907h0M1822 956h0M1847 1159.5h0M1818 967h0M1819.5 979h0M1842.5 1121.5h0M1850 1175h0M1820 1006.5h0M1809 829h0M1811.5 741h0M1813 774h0M1814.5 982h0M1819 907.5h0M1808 847h0M1845 1137h0M1841 1105.5h0M1819.5 721h0M1812.5 781.5h0M1808.5 839.5h0M1816 955.5h0M1817.5 797h0M1813.5 926h0M1838.5 1105.5h0M1831 1057.5h0M1828.5 1069.5h0M1826.5 808h0M1824 992h0M1834 1051h0M1835.5 1057h0M1828.5 981.5h0M1837.5 1111.5h0M1819.5 939h0M1844.5 1156h0M1816.5 778h0M1815 937.5h0M1832 1086.5h0M1810.5 830h0M1818.5 848.5h0M1826.5 1007.5h0M1824.5 967.5h0M1818 938h0M1837.5 1101.5h0M1815.5 883.5h0M1819 1028.5h0M1817.5 805.5h0M1843.5 1134h0M1848 1171.5h0M1851 1190h0M1815 834.5h0M1841 1154h0M1817.5 924.5h0M1857 1146h0M1809.5 862h0M1846.5 1124.5h0M1812.5 875h0M1823.5 882.5h0M1808 760h0M1832.5 1081h0M1839.5 1075.5h0M1835 1028.5h0M1812 765.5h0M1850.5 1161.5h0M1837.5 1098.5h0M1814.5 742h0M1819.5 763.5h0M1823 923.5h0M1846 1131.5h0M1855.5 1171h0M1833.5 1059.5h0M1810.5 806.5h0M1812.5 722h0M1823 996h0M1826.5 1049h0M1817.5 832.5h0M1809.5 870.5h0M1812.5 806h0M1852.5 1130h0M1813.5 1004.5h0M1820.5 879h0M1819 729.5h0M1825.5 1045h0M1821 992h0M1819.5 933h0M1813.5 917h0M1811.5 934.5h0M1811 778.5h0M1849.5 1180h0M1812.5 814h0M1813 774h0M1838 1071.5h0M1844 1134.5h0M1830.5 1050h0M1827.5 1014.5h0M1815 888h0M1832 1069.5h0M1845 1138.5h0M1845 1119.5h0M1807.5 857h0M1811.5 724.5h0M1828.5 1034h0M1816 1018h0M1847 1124h0M1834 1092.5h0M1831.5 1051.5h0M1828.5 997.5h0M1826 985h0M1831 1081h0M1810 917h0M1854 1189h0M1822.5 966.5h0M1812 712h0M1826 1036.5h0M1806 908h0M1826.5 1036h0M1809.5 859h0M1823 951.5h0M1806.5 805h0M1818.5 792h0M1822 997h0M1830.5 1106.5h0M1815.5 893h0M1819.5 971h0M1817 1022h0M1817.5 983.5h0M1841.5 1060h0M1811 824.5h0M1851.5 1168.5h0M1831 1041h0M1819.5 974.5h0M1802 725h0M1824 1088h0M1827 1015.5h0M1820.5 1009.5h0M1845.5 1118h0M1830.5 1016.5h0M1817.5 807h0M1828.5 1073.5h0M1816 907.5h0M1815 848h0M1821 923.5h0M1818.5 849h0M1814.5 958h0M1813 865.5h0M1855 1168.5h0M1809 809.5h0M1833 1060.5h0M1808 816.5h0M1810 755h0M1841 1121.5h0M1822 1033.5h0M1827 1061.5h0M1811.5 738h0M1822.5 877h0M1828.5 1063h0M1810.5 726h0M1822 921h0M1862 1186h0M1840.5 1099.5h0M1829 1016h0M1819.5 804.5h0M1825.5 964h0M1846.5 1121h0M1817 808h0M1818.5 982.5h0M1811 781.5h0M1829 921h0M1837 1122h0M1799.5 813.5h0M1818 919h0M1854.5 1161.5h0M1818 903h0M1811 827.5h0M1810 898h0M1807.5 791h0M1829 1037h0M1828 1022.5h0M1839 1103h0M1856.5 1163h0M1810.5 726h0M1815 896.5h0M1817.5 977.5h0M1843.5 1099h0M1827 1063.5h0M1814 750h0M1853.5 1146.5h0M1819 983.5h0M1822 875.5h0M1805.5 718.5h0M1813.5 874.5h0M1810.5 868.5h0M1818 931h0M1829.5 1035.5h0M1806 724.5h0M1823.5 984.5h0M1828.5 1017.5h0M1810.5 745h0M1819.5 835.5h0M1812.5 825h0M1811 849.5h0M1815 867.5h0M1831.5 1027.5h0M1822 916.5h0M1811.5 721h0M1812 904h0M1849 1154.5h0M1823.5 904h0M1810.5 717h0M1825.5 996.5h0M1815 789h0M1811 775.5h0M1815.5 850.5h0M1808.5 984.5h0M1833.5 1040.5h0M1810.5 913.5h0M1815 983.5h0M1853.5 1187.5h0M1852 1173h0M1817 934.5h0M1825 962.5h0M1817.5 965h0M1825.5 835.5h0M1823.5 1071.5h0M1823.5 967h0M1811.5 747.5h0M1822.5 1022h0M1839 1138h0M1826.5 1021.5h0M1844 1103.5h0M1816 1023.5h0M1816.5 733.5h0M1802 914.5h0M1827.5 1083h0M1819 956h0M1842 1151.5h0M1812 829h0M1819.5 970.5h0M1822.5 768.5h0M1817 950h0M1826 1054.5h0M1832.5 1013.5h0M1830 1046h0M1814.5 766.5h0M1843 1123h0M1811.5 894h0M1814.5 855.5h0M1817 721h0M1848.5 1144.5h0M1853 1180.5h0M1819 930.5h0M1813.5 900h0M1816 826h0M1818 887.5h0M1813.5 879h0M1838 1039.5h0M1827 1046.5h0M1851.5 1165h0M1814.5 874h0M1810 937h0M1812.5 762h0M1808 719.5h0M1807.5 728.5h0M1839 1109h0M1842.5 1117.5h0M1812.5 986.5h0M1827.5 965h0M1816 825.5h0M1806.5 752h0M1814 745.5h0M1815 964.5h0M1854 1177.5h0M1838.5 1109.5h0M1843 1094.5h0M1842 1154h0M1832 1065.5h0M1806 792h0M1827.5 1000.5h0M1816 940.5h0M1813.5 774.5h0M1825 1082.5h0M1806 868h0M1819.5 912h0M1834.5 1128h0M1815.5 953h0M1815.5 739.5h0M1817.5 978h0M1820 926.5h0M1844.5 1148.5h0M1807 822.5h0M1810 853h0M1818 754.5h0M1807 711.5h0M1822.5 1047h0M1848.5 1156.5h0M1806.5 820h0M1815 927h0M1811.5 888h0M1831.5 1058h0M1818.5 884.5h0M1829 1031.5h0M1816 713h0M1840.5 1115h0M1830 974h0M1813 844h0M1815.5 914h0M1854 1164h0M1804.5 877h0M1811 747h0M1830.5 1060h0M1845.5 1180h0M1814.5 785h0M1822 983h0M1813 726.5h0M1834.5 1119h0M1825 1067h0M1832.5 1070h0M1821 900.5h0M1842 1149.5h0M1812.5 858.5h0M1823 993h0M1811 852h0M1820 742h0M1812.5 894.5h0M1828.5 1066h0M1832.5 1012.5h0M1818.5 829.5h0M1825 917h0M1816 926.5h0M1845 1102.5h0M1823.5 838.5h0M1817 719.5h0M1823 1030h0M1822.5 990h0M1826.5 1006.5h0M1809.5 957h0M1829 1056h0M1819.5 813h0M1809.5 838h0M1814 711.5h0M1817.5 902h0M1816.5 825.5h0M1837.5 1060h0M1829 1021h0M1812.5 761.5h0M1811.5 789h0M1815.5 937h0M1812 760h0M1820 867h0M1820 961.5h0M1815 800.5h0M1817.5 841h0M1836.5 1095h0M1852.5 1185.5h0M1843 1127.5h0M1815 965.5h0M1806 835h0M1810 816h0M1807.5 905.5h0M1811 904h0M1825 1049h0M1822.5 993h0M1849 1171.5h0M1840.5 1093h0M1836 1057h0M1813 708h0M1837.5 1087.5h0M1837.5 1150.5h0M1814.5 911.5h0M1826.5 1042h0M1816.5 756h0M1815.5 988h0M1820 938.5h0M1809.5 855h0M1807.5 750.5h0M1823.5 987.5h0M1836 1098.5h0M1819.5 1034.5h0M1813 872.5h0M1817.5 878.5h0M1819 908.5h0M1820 814h0M1835.5 1134.5h0M1843.5 1138h0M1834.5 1102.5h0M1806.5 729.5h0M1819.5 824.5h0M1816.5 865.5h0M1848 1154h0M1824.5 804h0M1817.5 958h0M1813.5 754h0M1816.5 1017h0M1809 796.5h0M1822 1023.5h0M1817 780.5h0M1836.5 1101.5h0M1817.5 754.5h0M1814 776h0M1814 802.5h0M1808.5 866h0M1812 833.5h0M1815.5 854.5h0M1818.5 990h0M1820 944.5h0M1813.5 707.5h0M1813.5 803.5h0M1845 1104h0M1824 1057.5h0M1833 1092h0M1816 978.5h0M1835 1086.5h0M1873 882.5h0M1879 943h0M1743 718.5h0M1872 881h0M1882 855.5h0M1711.5 827.5h0M1897.5 992h0M1692.5 873.5h0M1495 783.5h0M1758.5 917.5h0M1580 881.5h0M1865.5 983h0M1493 900.5h0M1660 874h0M1807 955h0M1831 699.5h0M1478 800h0M1619.5 745.5h0M1496 818h0M1903.5 960h0"/>
</g>
</svg></body></html>
